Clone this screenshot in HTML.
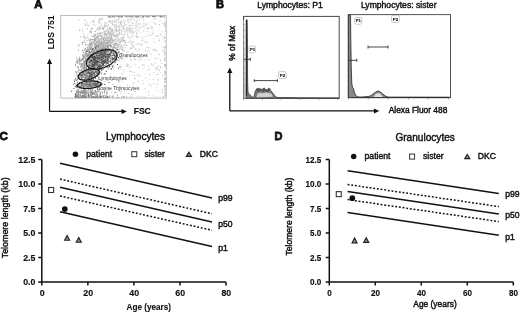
<!DOCTYPE html>
<html><head><meta charset="utf-8"><style>
html,body{margin:0;padding:0;background:#fff;width:520px;height:312px;overflow:hidden}
svg{display:block;will-change:transform}
text{font-family:"Liberation Sans", sans-serif}
</style></head><body>
<svg width="520" height="312" viewBox="0 0 520 312"><text x="34.3" y="7.9" font-size="11.3" text-anchor="start" font-weight="bold" fill="#111" stroke="#111" stroke-width="0.8" >A</text><defs><filter id="bl" x="0" y="0" width="1" height="1"><feGaussianBlur stdDeviation="0.35"/></filter></defs><g filter="url(#bl)"><rect x="99.9" y="47.3" width="1.2" height="1.2" fill="rgb(174,174,174)"/><rect x="109.2" y="52.8" width="1.2" height="1.2" fill="rgb(161,161,161)"/><rect x="105.5" y="55.9" width="1.2" height="1.2" fill="rgb(138,138,138)"/><rect x="93.5" y="60.1" width="1.2" height="1.2" fill="rgb(124,124,124)"/><rect x="89.4" y="31.2" width="1.2" height="1.2" fill="rgb(168,168,168)"/><rect x="122.8" y="20.3" width="1.2" height="1.2" fill="rgb(228,228,228)"/><rect x="94.9" y="47.3" width="1.2" height="1.2" fill="rgb(187,187,187)"/><rect x="113.5" y="57.7" width="1.2" height="1.2" fill="rgb(159,159,159)"/><rect x="100.9" y="53.3" width="1.2" height="1.2" fill="rgb(150,150,150)"/><rect x="104.8" y="47.1" width="1.2" height="1.2" fill="rgb(174,174,174)"/><rect x="100.2" y="37.6" width="1.2" height="1.2" fill="rgb(182,182,182)"/><rect x="94.9" y="61.8" width="1.2" height="1.2" fill="rgb(129,129,129)"/><rect x="105.2" y="30.2" width="1.2" height="1.2" fill="rgb(184,184,184)"/><rect x="95.4" y="43.6" width="1.2" height="1.2" fill="rgb(159,159,159)"/><rect x="128.3" y="19.1" width="1.2" height="1.2" fill="rgb(212,212,212)"/><rect x="94.1" y="43.8" width="1.2" height="1.2" fill="rgb(187,187,187)"/><rect x="106.7" y="37.0" width="1.2" height="1.2" fill="rgb(209,209,209)"/><rect x="111.6" y="46.2" width="1.2" height="1.2" fill="rgb(191,191,191)"/><rect x="117.4" y="38.3" width="1.2" height="1.2" fill="rgb(169,169,169)"/><rect x="108.1" y="47.9" width="1.2" height="1.2" fill="rgb(182,182,182)"/><rect x="95.4" y="36.5" width="1.2" height="1.2" fill="rgb(177,177,177)"/><rect x="157.7" y="18.3" width="1.2" height="1.2" fill="rgb(228,228,228)"/><rect x="96.7" y="55.0" width="1.2" height="1.2" fill="rgb(164,164,164)"/><rect x="108.2" y="31.2" width="1.2" height="1.2" fill="rgb(202,202,202)"/><rect x="97.3" y="62.8" width="1.2" height="1.2" fill="rgb(128,128,128)"/><rect x="97.0" y="58.4" width="1.2" height="1.2" fill="rgb(163,163,163)"/><rect x="105.8" y="49.4" width="1.2" height="1.2" fill="rgb(163,163,163)"/><rect x="98.5" y="56.4" width="1.2" height="1.2" fill="rgb(151,151,151)"/><rect x="86.6" y="40.2" width="1.2" height="1.2" fill="rgb(189,189,189)"/><rect x="107.5" y="47.5" width="1.2" height="1.2" fill="rgb(168,168,168)"/><rect x="103.8" y="49.9" width="1.2" height="1.2" fill="rgb(152,152,152)"/><rect x="115.9" y="27.2" width="1.2" height="1.2" fill="rgb(209,209,209)"/><rect x="93.2" y="62.8" width="1.2" height="1.2" fill="rgb(137,137,137)"/><rect x="99.6" y="28.8" width="1.2" height="1.2" fill="rgb(215,215,215)"/><rect x="107.8" y="24.2" width="1.2" height="1.2" fill="rgb(209,209,209)"/><rect x="96.7" y="55.3" width="1.2" height="1.2" fill="rgb(173,173,173)"/><rect x="97.4" y="41.2" width="1.2" height="1.2" fill="rgb(154,154,154)"/><rect x="95.8" y="56.1" width="1.2" height="1.2" fill="rgb(130,130,130)"/><rect x="104.0" y="46.7" width="1.2" height="1.2" fill="rgb(162,162,162)"/><rect x="91.6" y="65.7" width="1.2" height="1.2" fill="rgb(118,118,118)"/><rect x="107.8" y="50.2" width="1.2" height="1.2" fill="rgb(146,146,146)"/><rect x="121.2" y="40.2" width="1.2" height="1.2" fill="rgb(177,177,177)"/><rect x="109.7" y="33.9" width="1.2" height="1.2" fill="rgb(184,184,184)"/><rect x="137.2" y="36.1" width="1.2" height="1.2" fill="rgb(228,228,228)"/><rect x="91.7" y="55.8" width="1.2" height="1.2" fill="rgb(129,129,129)"/><rect x="107.2" y="50.5" width="1.2" height="1.2" fill="rgb(157,157,157)"/><rect x="103.7" y="49.0" width="1.2" height="1.2" fill="rgb(143,143,143)"/><rect x="104.1" y="57.5" width="1.2" height="1.2" fill="rgb(140,140,140)"/><rect x="92.2" y="63.5" width="1.2" height="1.2" fill="rgb(141,141,141)"/><rect x="102.8" y="63.3" width="1.2" height="1.2" fill="rgb(161,161,161)"/><rect x="109.7" y="32.5" width="1.2" height="1.2" fill="rgb(176,176,176)"/><rect x="118.2" y="25.1" width="1.2" height="1.2" fill="rgb(223,223,223)"/><rect x="101.1" y="42.9" width="1.2" height="1.2" fill="rgb(188,188,188)"/><rect x="99.7" y="64.6" width="1.2" height="1.2" fill="rgb(162,162,162)"/><rect x="132.3" y="22.3" width="1.2" height="1.2" fill="rgb(211,211,211)"/><rect x="91.3" y="61.5" width="1.2" height="1.2" fill="rgb(118,118,118)"/><rect x="96.1" y="62.5" width="1.2" height="1.2" fill="rgb(132,132,132)"/><rect x="138.4" y="60.2" width="1.2" height="1.2" fill="rgb(227,227,227)"/><rect x="98.7" y="46.0" width="1.2" height="1.2" fill="rgb(154,154,154)"/><rect x="105.9" y="44.9" width="1.2" height="1.2" fill="rgb(180,180,180)"/><rect x="130.9" y="43.4" width="1.2" height="1.2" fill="rgb(202,202,202)"/><rect x="114.2" y="26.4" width="1.2" height="1.2" fill="rgb(188,188,188)"/><rect x="111.1" y="37.1" width="1.2" height="1.2" fill="rgb(203,203,203)"/><rect x="97.6" y="61.9" width="1.2" height="1.2" fill="rgb(141,141,141)"/><rect x="110.5" y="55.9" width="1.2" height="1.2" fill="rgb(151,151,151)"/><rect x="101.7" y="53.2" width="1.2" height="1.2" fill="rgb(180,180,180)"/><rect x="103.3" y="48.5" width="1.2" height="1.2" fill="rgb(183,183,183)"/><rect x="98.7" y="63.1" width="1.2" height="1.2" fill="rgb(139,139,139)"/><rect x="93.1" y="59.7" width="1.2" height="1.2" fill="rgb(121,121,121)"/><rect x="101.4" y="61.2" width="1.2" height="1.2" fill="rgb(153,153,153)"/><rect x="105.1" y="55.0" width="1.2" height="1.2" fill="rgb(180,180,180)"/><rect x="106.0" y="46.3" width="1.2" height="1.2" fill="rgb(160,160,160)"/><rect x="103.9" y="40.2" width="1.2" height="1.2" fill="rgb(183,183,183)"/><rect x="111.4" y="29.5" width="1.2" height="1.2" fill="rgb(179,179,179)"/><rect x="106.2" y="52.2" width="1.2" height="1.2" fill="rgb(163,163,163)"/><rect x="86.3" y="22.2" width="1.2" height="1.2" fill="rgb(197,197,197)"/><rect x="109.9" y="51.3" width="1.2" height="1.2" fill="rgb(172,172,172)"/><rect x="91.7" y="64.8" width="1.2" height="1.2" fill="rgb(134,134,134)"/><rect x="93.1" y="63.2" width="1.2" height="1.2" fill="rgb(155,155,155)"/><rect x="117.4" y="35.5" width="1.2" height="1.2" fill="rgb(207,207,207)"/><rect x="93.6" y="53.6" width="1.2" height="1.2" fill="rgb(155,155,155)"/><rect x="89.6" y="41.5" width="1.2" height="1.2" fill="rgb(152,152,152)"/><rect x="93.9" y="54.9" width="1.2" height="1.2" fill="rgb(141,141,141)"/><rect x="117.3" y="26.5" width="1.2" height="1.2" fill="rgb(209,209,209)"/><rect x="97.7" y="35.6" width="1.2" height="1.2" fill="rgb(182,182,182)"/><rect x="107.0" y="27.9" width="1.2" height="1.2" fill="rgb(199,199,199)"/><rect x="85.7" y="52.7" width="1.2" height="1.2" fill="rgb(165,165,165)"/><rect x="151.2" y="34.7" width="1.2" height="1.2" fill="rgb(224,224,224)"/><rect x="82.5" y="31.0" width="1.2" height="1.2" fill="rgb(205,205,205)"/><rect x="100.8" y="53.7" width="1.2" height="1.2" fill="rgb(156,156,156)"/><rect x="100.8" y="56.7" width="1.2" height="1.2" fill="rgb(134,134,134)"/><rect x="130.0" y="30.3" width="1.2" height="1.2" fill="rgb(222,222,222)"/><rect x="144.5" y="28.2" width="1.2" height="1.2" fill="rgb(228,228,228)"/><rect x="83.7" y="56.9" width="1.2" height="1.2" fill="rgb(167,167,167)"/><rect x="115.2" y="38.7" width="1.2" height="1.2" fill="rgb(190,190,190)"/><rect x="100.0" y="45.3" width="1.2" height="1.2" fill="rgb(160,160,160)"/><rect x="95.2" y="59.1" width="1.2" height="1.2" fill="rgb(150,150,150)"/><rect x="92.5" y="63.3" width="1.2" height="1.2" fill="rgb(131,131,131)"/><rect x="98.9" y="33.0" width="1.2" height="1.2" fill="rgb(164,164,164)"/><rect x="98.7" y="64.4" width="1.2" height="1.2" fill="rgb(169,169,169)"/><rect x="104.7" y="51.9" width="1.2" height="1.2" fill="rgb(141,141,141)"/><rect x="108.4" y="39.7" width="1.2" height="1.2" fill="rgb(164,164,164)"/><rect x="85.5" y="24.2" width="1.2" height="1.2" fill="rgb(213,213,213)"/><rect x="102.5" y="46.1" width="1.2" height="1.2" fill="rgb(191,191,191)"/><rect x="91.9" y="38.9" width="1.2" height="1.2" fill="rgb(155,155,155)"/><rect x="110.5" y="55.0" width="1.2" height="1.2" fill="rgb(164,164,164)"/><rect x="131.6" y="52.5" width="1.2" height="1.2" fill="rgb(204,204,204)"/><rect x="100.0" y="52.6" width="1.2" height="1.2" fill="rgb(177,177,177)"/><rect x="121.8" y="52.7" width="1.2" height="1.2" fill="rgb(182,182,182)"/><rect x="103.8" y="24.7" width="1.2" height="1.2" fill="rgb(221,221,221)"/><rect x="101.5" y="47.6" width="1.2" height="1.2" fill="rgb(168,168,168)"/><rect x="101.2" y="49.4" width="1.2" height="1.2" fill="rgb(147,147,147)"/><rect x="97.6" y="60.1" width="1.2" height="1.2" fill="rgb(139,139,139)"/><rect x="90.7" y="65.6" width="1.2" height="1.2" fill="rgb(128,128,128)"/><rect x="94.5" y="64.0" width="1.2" height="1.2" fill="rgb(116,116,116)"/><rect x="114.6" y="21.2" width="1.2" height="1.2" fill="rgb(195,195,195)"/><rect x="85.7" y="51.0" width="1.2" height="1.2" fill="rgb(138,138,138)"/><rect x="115.7" y="35.8" width="1.2" height="1.2" fill="rgb(193,193,193)"/><rect x="113.7" y="39.6" width="1.2" height="1.2" fill="rgb(188,188,188)"/><rect x="130.0" y="27.3" width="1.2" height="1.2" fill="rgb(224,224,224)"/><rect x="96.4" y="45.6" width="1.2" height="1.2" fill="rgb(144,144,144)"/><rect x="98.0" y="56.9" width="1.2" height="1.2" fill="rgb(164,164,164)"/><rect x="103.2" y="45.2" width="1.2" height="1.2" fill="rgb(151,151,151)"/><rect x="144.3" y="22.9" width="1.2" height="1.2" fill="rgb(228,228,228)"/><rect x="104.6" y="39.9" width="1.2" height="1.2" fill="rgb(169,169,169)"/><rect x="92.8" y="60.1" width="1.2" height="1.2" fill="rgb(142,142,142)"/><rect x="93.1" y="57.2" width="1.2" height="1.2" fill="rgb(172,172,172)"/><rect x="105.1" y="33.8" width="1.2" height="1.2" fill="rgb(163,163,163)"/><rect x="98.4" y="35.9" width="1.2" height="1.2" fill="rgb(182,182,182)"/><rect x="118.6" y="29.8" width="1.2" height="1.2" fill="rgb(179,179,179)"/><rect x="99.8" y="50.8" width="1.2" height="1.2" fill="rgb(156,156,156)"/><rect x="92.8" y="64.2" width="1.2" height="1.2" fill="rgb(129,129,129)"/><rect x="120.0" y="21.5" width="1.2" height="1.2" fill="rgb(216,216,216)"/><rect x="110.8" y="46.4" width="1.2" height="1.2" fill="rgb(168,168,168)"/><rect x="93.4" y="64.7" width="1.2" height="1.2" fill="rgb(150,150,150)"/><rect x="95.4" y="57.4" width="1.2" height="1.2" fill="rgb(166,166,166)"/><rect x="119.4" y="44.0" width="1.2" height="1.2" fill="rgb(200,200,200)"/><rect x="102.9" y="49.2" width="1.2" height="1.2" fill="rgb(167,167,167)"/><rect x="89.0" y="63.3" width="1.2" height="1.2" fill="rgb(154,154,154)"/><rect x="122.9" y="30.9" width="1.2" height="1.2" fill="rgb(226,226,226)"/><rect x="94.6" y="63.1" width="1.2" height="1.2" fill="rgb(135,135,135)"/><rect x="131.8" y="41.9" width="1.2" height="1.2" fill="rgb(208,208,208)"/><rect x="99.0" y="26.1" width="1.2" height="1.2" fill="rgb(205,205,205)"/><rect x="91.4" y="65.7" width="1.2" height="1.2" fill="rgb(151,151,151)"/><rect x="114.9" y="24.9" width="1.2" height="1.2" fill="rgb(208,208,208)"/><rect x="96.7" y="54.7" width="1.2" height="1.2" fill="rgb(166,166,166)"/><rect x="99.2" y="52.3" width="1.2" height="1.2" fill="rgb(147,147,147)"/><rect x="104.1" y="42.2" width="1.2" height="1.2" fill="rgb(188,188,188)"/><rect x="98.0" y="62.4" width="1.2" height="1.2" fill="rgb(140,140,140)"/><rect x="90.0" y="57.4" width="1.2" height="1.2" fill="rgb(161,161,161)"/><rect x="97.4" y="27.7" width="1.2" height="1.2" fill="rgb(172,172,172)"/><rect x="107.0" y="47.0" width="1.2" height="1.2" fill="rgb(184,184,184)"/><rect x="109.3" y="20.5" width="1.2" height="1.2" fill="rgb(184,184,184)"/><rect x="100.2" y="57.9" width="1.2" height="1.2" fill="rgb(162,162,162)"/><rect x="90.9" y="60.9" width="1.2" height="1.2" fill="rgb(141,141,141)"/><rect x="141.5" y="36.9" width="1.2" height="1.2" fill="rgb(207,207,207)"/><rect x="105.4" y="64.1" width="1.2" height="1.2" fill="rgb(131,131,131)"/><rect x="88.5" y="46.5" width="1.2" height="1.2" fill="rgb(187,187,187)"/><rect x="93.3" y="56.1" width="1.2" height="1.2" fill="rgb(136,136,136)"/><rect x="98.2" y="59.5" width="1.2" height="1.2" fill="rgb(153,153,153)"/><rect x="118.4" y="39.2" width="1.2" height="1.2" fill="rgb(215,215,215)"/><rect x="136.0" y="33.5" width="1.2" height="1.2" fill="rgb(218,218,218)"/><rect x="124.3" y="41.4" width="1.2" height="1.2" fill="rgb(183,183,183)"/><rect x="112.4" y="47.7" width="1.2" height="1.2" fill="rgb(153,153,153)"/><rect x="93.3" y="66.2" width="1.2" height="1.2" fill="rgb(135,135,135)"/><rect x="100.6" y="47.2" width="1.2" height="1.2" fill="rgb(159,159,159)"/><rect x="115.9" y="51.1" width="1.2" height="1.2" fill="rgb(198,198,198)"/><rect x="107.4" y="32.1" width="1.2" height="1.2" fill="rgb(186,186,186)"/><rect x="93.0" y="66.8" width="1.2" height="1.2" fill="rgb(129,129,129)"/><rect x="94.7" y="52.2" width="1.2" height="1.2" fill="rgb(134,134,134)"/><rect x="130.9" y="42.9" width="1.2" height="1.2" fill="rgb(193,193,193)"/><rect x="100.2" y="57.7" width="1.2" height="1.2" fill="rgb(142,142,142)"/><rect x="91.2" y="63.9" width="1.2" height="1.2" fill="rgb(132,132,132)"/><rect x="113.7" y="58.6" width="1.2" height="1.2" fill="rgb(185,185,185)"/><rect x="90.5" y="46.0" width="1.2" height="1.2" fill="rgb(142,142,142)"/><rect x="111.6" y="27.4" width="1.2" height="1.2" fill="rgb(213,213,213)"/><rect x="100.1" y="41.5" width="1.2" height="1.2" fill="rgb(152,152,152)"/><rect x="97.6" y="59.0" width="1.2" height="1.2" fill="rgb(148,148,148)"/><rect x="101.2" y="39.7" width="1.2" height="1.2" fill="rgb(189,189,189)"/><rect x="95.4" y="63.2" width="1.2" height="1.2" fill="rgb(150,150,150)"/><rect x="109.7" y="21.0" width="1.2" height="1.2" fill="rgb(203,203,203)"/><rect x="103.6" y="49.3" width="1.2" height="1.2" fill="rgb(152,152,152)"/><rect x="111.6" y="49.1" width="1.2" height="1.2" fill="rgb(161,161,161)"/><rect x="104.1" y="50.3" width="1.2" height="1.2" fill="rgb(145,145,145)"/><rect x="97.5" y="52.6" width="1.2" height="1.2" fill="rgb(144,144,144)"/><rect x="116.3" y="20.4" width="1.2" height="1.2" fill="rgb(228,228,228)"/><rect x="112.0" y="30.2" width="1.2" height="1.2" fill="rgb(193,193,193)"/><rect x="91.6" y="59.8" width="1.2" height="1.2" fill="rgb(136,136,136)"/><rect x="100.6" y="57.6" width="1.2" height="1.2" fill="rgb(177,177,177)"/><rect x="116.0" y="42.8" width="1.2" height="1.2" fill="rgb(192,192,192)"/><rect x="105.0" y="49.6" width="1.2" height="1.2" fill="rgb(156,156,156)"/><rect x="111.7" y="31.0" width="1.2" height="1.2" fill="rgb(193,193,193)"/><rect x="112.8" y="57.7" width="1.2" height="1.2" fill="rgb(187,187,187)"/><rect x="92.5" y="65.0" width="1.2" height="1.2" fill="rgb(148,148,148)"/><rect x="112.2" y="47.5" width="1.2" height="1.2" fill="rgb(181,181,181)"/><rect x="92.4" y="66.7" width="1.2" height="1.2" fill="rgb(157,157,157)"/><rect x="142.8" y="18.2" width="1.2" height="1.2" fill="rgb(228,228,228)"/><rect x="101.0" y="49.3" width="1.2" height="1.2" fill="rgb(147,147,147)"/><rect x="90.1" y="56.9" width="1.2" height="1.2" fill="rgb(170,170,170)"/><rect x="91.8" y="52.2" width="1.2" height="1.2" fill="rgb(133,133,133)"/><rect x="106.9" y="42.0" width="1.2" height="1.2" fill="rgb(199,199,199)"/><rect x="100.3" y="40.4" width="1.2" height="1.2" fill="rgb(157,157,157)"/><rect x="119.6" y="16.5" width="1.2" height="1.2" fill="rgb(228,228,228)"/><rect x="97.4" y="58.1" width="1.2" height="1.2" fill="rgb(152,152,152)"/><rect x="95.4" y="46.4" width="1.2" height="1.2" fill="rgb(151,151,151)"/><rect x="92.9" y="62.8" width="1.2" height="1.2" fill="rgb(131,131,131)"/><rect x="82.4" y="41.6" width="1.2" height="1.2" fill="rgb(180,180,180)"/><rect x="113.8" y="45.2" width="1.2" height="1.2" fill="rgb(168,168,168)"/><rect x="95.1" y="59.0" width="1.2" height="1.2" fill="rgb(147,147,147)"/><rect x="104.4" y="31.1" width="1.2" height="1.2" fill="rgb(179,179,179)"/><rect x="97.8" y="61.3" width="1.2" height="1.2" fill="rgb(143,143,143)"/><rect x="101.4" y="43.8" width="1.2" height="1.2" fill="rgb(187,187,187)"/><rect x="113.9" y="24.3" width="1.2" height="1.2" fill="rgb(192,192,192)"/><rect x="96.9" y="62.0" width="1.2" height="1.2" fill="rgb(161,161,161)"/><rect x="106.2" y="42.0" width="1.2" height="1.2" fill="rgb(191,191,191)"/><rect x="106.7" y="44.6" width="1.2" height="1.2" fill="rgb(171,171,171)"/><rect x="96.7" y="49.5" width="1.2" height="1.2" fill="rgb(185,185,185)"/><rect x="97.3" y="57.6" width="1.2" height="1.2" fill="rgb(129,129,129)"/><rect x="100.4" y="45.3" width="1.2" height="1.2" fill="rgb(191,191,191)"/><rect x="96.5" y="57.1" width="1.2" height="1.2" fill="rgb(159,159,159)"/><rect x="98.6" y="40.1" width="1.2" height="1.2" fill="rgb(167,167,167)"/><rect x="92.8" y="63.7" width="1.2" height="1.2" fill="rgb(128,128,128)"/><rect x="96.1" y="61.9" width="1.2" height="1.2" fill="rgb(137,137,137)"/><rect x="139.1" y="18.8" width="1.2" height="1.2" fill="rgb(228,228,228)"/><rect x="102.9" y="57.8" width="1.2" height="1.2" fill="rgb(150,150,150)"/><rect x="100.2" y="56.7" width="1.2" height="1.2" fill="rgb(148,148,148)"/><rect x="94.9" y="61.1" width="1.2" height="1.2" fill="rgb(140,140,140)"/><rect x="134.0" y="19.2" width="1.2" height="1.2" fill="rgb(207,207,207)"/><rect x="93.6" y="63.7" width="1.2" height="1.2" fill="rgb(161,161,161)"/><rect x="101.2" y="40.7" width="1.2" height="1.2" fill="rgb(199,199,199)"/><rect x="97.8" y="45.9" width="1.2" height="1.2" fill="rgb(178,178,178)"/><rect x="103.0" y="39.0" width="1.2" height="1.2" fill="rgb(155,155,155)"/><rect x="93.3" y="63.5" width="1.2" height="1.2" fill="rgb(127,127,127)"/><rect x="84.5" y="50.5" width="1.2" height="1.2" fill="rgb(182,182,182)"/><rect x="97.4" y="46.9" width="1.2" height="1.2" fill="rgb(162,162,162)"/><rect x="87.9" y="61.8" width="1.2" height="1.2" fill="rgb(125,125,125)"/><rect x="131.4" y="18.5" width="1.2" height="1.2" fill="rgb(228,228,228)"/><rect x="121.5" y="20.9" width="1.2" height="1.2" fill="rgb(208,208,208)"/><rect x="104.2" y="34.0" width="1.2" height="1.2" fill="rgb(201,201,201)"/><rect x="100.2" y="56.8" width="1.2" height="1.2" fill="rgb(167,167,167)"/><rect x="98.7" y="53.3" width="1.2" height="1.2" fill="rgb(134,134,134)"/><rect x="93.4" y="54.4" width="1.2" height="1.2" fill="rgb(177,177,177)"/><rect x="97.3" y="59.0" width="1.2" height="1.2" fill="rgb(149,149,149)"/><rect x="109.0" y="27.6" width="1.2" height="1.2" fill="rgb(185,185,185)"/><rect x="94.0" y="38.0" width="1.2" height="1.2" fill="rgb(186,186,186)"/><rect x="136.0" y="36.7" width="1.2" height="1.2" fill="rgb(205,205,205)"/><rect x="94.2" y="50.2" width="1.2" height="1.2" fill="rgb(171,171,171)"/><rect x="107.8" y="42.4" width="1.2" height="1.2" fill="rgb(166,166,166)"/><rect x="145.8" y="24.3" width="1.2" height="1.2" fill="rgb(228,228,228)"/><rect x="104.0" y="32.6" width="1.2" height="1.2" fill="rgb(214,214,214)"/><rect x="91.0" y="64.3" width="1.2" height="1.2" fill="rgb(153,153,153)"/><rect x="88.6" y="53.7" width="1.2" height="1.2" fill="rgb(170,170,170)"/><rect x="95.0" y="61.2" width="1.2" height="1.2" fill="rgb(134,134,134)"/><rect x="102.9" y="52.5" width="1.2" height="1.2" fill="rgb(186,186,186)"/><rect x="84.2" y="19.6" width="1.2" height="1.2" fill="rgb(198,198,198)"/><rect x="114.4" y="42.7" width="1.2" height="1.2" fill="rgb(172,172,172)"/><rect x="95.2" y="34.3" width="1.2" height="1.2" fill="rgb(169,169,169)"/><rect x="97.4" y="50.8" width="1.2" height="1.2" fill="rgb(145,145,145)"/><rect x="117.8" y="18.7" width="1.2" height="1.2" fill="rgb(224,224,224)"/><rect x="94.4" y="61.0" width="1.2" height="1.2" fill="rgb(136,136,136)"/><rect x="100.8" y="44.9" width="1.2" height="1.2" fill="rgb(161,161,161)"/><rect x="96.2" y="60.6" width="1.2" height="1.2" fill="rgb(141,141,141)"/><rect x="91.5" y="47.8" width="1.2" height="1.2" fill="rgb(142,142,142)"/><rect x="129.1" y="28.7" width="1.2" height="1.2" fill="rgb(210,210,210)"/><rect x="106.3" y="35.9" width="1.2" height="1.2" fill="rgb(208,208,208)"/><rect x="108.1" y="21.1" width="1.2" height="1.2" fill="rgb(200,200,200)"/><rect x="88.5" y="25.3" width="1.2" height="1.2" fill="rgb(220,220,220)"/><rect x="98.5" y="47.2" width="1.2" height="1.2" fill="rgb(177,177,177)"/><rect x="93.5" y="62.4" width="1.2" height="1.2" fill="rgb(162,162,162)"/><rect x="89.7" y="31.2" width="1.2" height="1.2" fill="rgb(182,182,182)"/><rect x="113.3" y="45.4" width="1.2" height="1.2" fill="rgb(163,163,163)"/><rect x="96.3" y="64.1" width="1.2" height="1.2" fill="rgb(150,150,150)"/><rect x="97.3" y="58.7" width="1.2" height="1.2" fill="rgb(156,156,156)"/><rect x="99.5" y="32.4" width="1.2" height="1.2" fill="rgb(169,169,169)"/><rect x="111.5" y="22.9" width="1.2" height="1.2" fill="rgb(228,228,228)"/><rect x="113.5" y="46.3" width="1.2" height="1.2" fill="rgb(195,195,195)"/><rect x="95.7" y="62.3" width="1.2" height="1.2" fill="rgb(125,125,125)"/><rect x="130.3" y="59.2" width="1.2" height="1.2" fill="rgb(192,192,192)"/><rect x="121.2" y="57.1" width="1.2" height="1.2" fill="rgb(175,175,175)"/><rect x="116.9" y="46.9" width="1.2" height="1.2" fill="rgb(199,199,199)"/><rect x="135.6" y="26.1" width="1.2" height="1.2" fill="rgb(211,211,211)"/><rect x="90.4" y="21.7" width="1.2" height="1.2" fill="rgb(218,218,218)"/><rect x="106.5" y="45.2" width="1.2" height="1.2" fill="rgb(169,169,169)"/><rect x="91.2" y="61.2" width="1.2" height="1.2" fill="rgb(123,123,123)"/><rect x="103.0" y="58.9" width="1.2" height="1.2" fill="rgb(168,168,168)"/><rect x="109.2" y="59.5" width="1.2" height="1.2" fill="rgb(144,144,144)"/><rect x="96.1" y="36.5" width="1.2" height="1.2" fill="rgb(186,186,186)"/><rect x="106.6" y="29.8" width="1.2" height="1.2" fill="rgb(198,198,198)"/><rect x="92.8" y="39.2" width="1.2" height="1.2" fill="rgb(172,172,172)"/><rect x="92.6" y="62.9" width="1.2" height="1.2" fill="rgb(146,146,146)"/><rect x="91.1" y="63.7" width="1.2" height="1.2" fill="rgb(152,152,152)"/><rect x="115.8" y="29.9" width="1.2" height="1.2" fill="rgb(185,185,185)"/><rect x="92.0" y="62.7" width="1.2" height="1.2" fill="rgb(122,122,122)"/><rect x="93.8" y="58.9" width="1.2" height="1.2" fill="rgb(144,144,144)"/><rect x="91.4" y="65.1" width="1.2" height="1.2" fill="rgb(143,143,143)"/><rect x="119.2" y="48.9" width="1.2" height="1.2" fill="rgb(198,198,198)"/><rect x="91.4" y="64.9" width="1.2" height="1.2" fill="rgb(137,137,137)"/><rect x="105.4" y="46.3" width="1.2" height="1.2" fill="rgb(196,196,196)"/><rect x="87.0" y="60.6" width="1.2" height="1.2" fill="rgb(164,164,164)"/><rect x="136.0" y="24.6" width="1.2" height="1.2" fill="rgb(228,228,228)"/><rect x="102.8" y="56.1" width="1.2" height="1.2" fill="rgb(171,171,171)"/><rect x="148.0" y="21.6" width="1.2" height="1.2" fill="rgb(228,228,228)"/><rect x="103.1" y="49.2" width="1.2" height="1.2" fill="rgb(166,166,166)"/><rect x="100.6" y="56.4" width="1.2" height="1.2" fill="rgb(143,143,143)"/><rect x="90.7" y="64.2" width="1.2" height="1.2" fill="rgb(114,114,114)"/><rect x="103.9" y="48.3" width="1.2" height="1.2" fill="rgb(190,190,190)"/><rect x="101.7" y="49.6" width="1.2" height="1.2" fill="rgb(166,166,166)"/><rect x="99.9" y="38.6" width="1.2" height="1.2" fill="rgb(197,197,197)"/><rect x="92.3" y="47.7" width="1.2" height="1.2" fill="rgb(181,181,181)"/><rect x="93.3" y="21.5" width="1.2" height="1.2" fill="rgb(190,190,190)"/><rect x="95.1" y="65.2" width="1.2" height="1.2" fill="rgb(133,133,133)"/><rect x="114.2" y="29.4" width="1.2" height="1.2" fill="rgb(184,184,184)"/><rect x="97.6" y="55.0" width="1.2" height="1.2" fill="rgb(170,170,170)"/><rect x="119.4" y="16.2" width="1.2" height="1.2" fill="rgb(228,228,228)"/><rect x="93.7" y="35.3" width="1.2" height="1.2" fill="rgb(172,172,172)"/><rect x="91.7" y="66.0" width="1.2" height="1.2" fill="rgb(118,118,118)"/><rect x="98.2" y="38.3" width="1.2" height="1.2" fill="rgb(179,179,179)"/><rect x="99.8" y="55.9" width="1.2" height="1.2" fill="rgb(141,141,141)"/><rect x="94.5" y="59.7" width="1.2" height="1.2" fill="rgb(121,121,121)"/><rect x="97.4" y="52.2" width="1.2" height="1.2" fill="rgb(151,151,151)"/><rect x="120.7" y="22.7" width="1.2" height="1.2" fill="rgb(218,218,218)"/><rect x="124.2" y="23.5" width="1.2" height="1.2" fill="rgb(215,215,215)"/><rect x="152.5" y="30.0" width="1.2" height="1.2" fill="rgb(228,228,228)"/><rect x="99.9" y="54.2" width="1.2" height="1.2" fill="rgb(164,164,164)"/><rect x="132.2" y="35.6" width="1.2" height="1.2" fill="rgb(206,206,206)"/><rect x="94.4" y="60.7" width="1.2" height="1.2" fill="rgb(152,152,152)"/><rect x="94.0" y="51.8" width="1.2" height="1.2" fill="rgb(164,164,164)"/><rect x="83.2" y="33.4" width="1.2" height="1.2" fill="rgb(196,196,196)"/><rect x="91.9" y="57.6" width="1.2" height="1.2" fill="rgb(134,134,134)"/><rect x="114.2" y="54.6" width="1.2" height="1.2" fill="rgb(148,148,148)"/><rect x="83.1" y="36.1" width="1.2" height="1.2" fill="rgb(163,163,163)"/><rect x="123.6" y="25.1" width="1.2" height="1.2" fill="rgb(214,214,214)"/><rect x="104.1" y="37.1" width="1.2" height="1.2" fill="rgb(160,160,160)"/><rect x="129.0" y="40.8" width="1.2" height="1.2" fill="rgb(213,213,213)"/><rect x="95.8" y="66.4" width="1.2" height="1.2" fill="rgb(152,152,152)"/><rect x="89.7" y="51.2" width="1.2" height="1.2" fill="rgb(155,155,155)"/><rect x="101.2" y="50.0" width="1.2" height="1.2" fill="rgb(150,150,150)"/><rect x="98.5" y="60.5" width="1.2" height="1.2" fill="rgb(161,161,161)"/><rect x="114.8" y="21.1" width="1.2" height="1.2" fill="rgb(208,208,208)"/><rect x="119.0" y="27.5" width="1.2" height="1.2" fill="rgb(195,195,195)"/><rect x="94.1" y="62.0" width="1.2" height="1.2" fill="rgb(131,131,131)"/><rect x="109.0" y="35.0" width="1.2" height="1.2" fill="rgb(208,208,208)"/><rect x="101.5" y="41.9" width="1.2" height="1.2" fill="rgb(195,195,195)"/><rect x="98.9" y="21.3" width="1.2" height="1.2" fill="rgb(211,211,211)"/><rect x="97.0" y="63.0" width="1.2" height="1.2" fill="rgb(161,161,161)"/><rect x="113.9" y="19.8" width="1.2" height="1.2" fill="rgb(203,203,203)"/><rect x="123.6" y="22.2" width="1.2" height="1.2" fill="rgb(196,196,196)"/><rect x="99.3" y="57.0" width="1.2" height="1.2" fill="rgb(130,130,130)"/><rect x="143.6" y="41.1" width="1.2" height="1.2" fill="rgb(213,213,213)"/><rect x="95.6" y="59.7" width="1.2" height="1.2" fill="rgb(124,124,124)"/><rect x="109.8" y="16.1" width="1.2" height="1.2" fill="rgb(225,225,225)"/><rect x="98.6" y="53.1" width="1.2" height="1.2" fill="rgb(162,162,162)"/><rect x="97.1" y="58.5" width="1.2" height="1.2" fill="rgb(168,168,168)"/><rect x="138.5" y="48.7" width="1.2" height="1.2" fill="rgb(190,190,190)"/><rect x="101.6" y="50.2" width="1.2" height="1.2" fill="rgb(140,140,140)"/><rect x="137.5" y="27.5" width="1.2" height="1.2" fill="rgb(228,228,228)"/><rect x="125.5" y="28.7" width="1.2" height="1.2" fill="rgb(200,200,200)"/><rect x="98.1" y="57.6" width="1.2" height="1.2" fill="rgb(164,164,164)"/><rect x="110.7" y="38.3" width="1.2" height="1.2" fill="rgb(182,182,182)"/><rect x="95.0" y="63.6" width="1.2" height="1.2" fill="rgb(131,131,131)"/><rect x="107.8" y="32.3" width="1.2" height="1.2" fill="rgb(183,183,183)"/><rect x="100.7" y="60.2" width="1.2" height="1.2" fill="rgb(169,169,169)"/><rect x="94.2" y="59.8" width="1.2" height="1.2" fill="rgb(141,141,141)"/><rect x="90.2" y="38.6" width="1.2" height="1.2" fill="rgb(168,168,168)"/><rect x="110.2" y="22.1" width="1.2" height="1.2" fill="rgb(193,193,193)"/><rect x="99.3" y="55.2" width="1.2" height="1.2" fill="rgb(171,171,171)"/><rect x="92.3" y="64.4" width="1.2" height="1.2" fill="rgb(123,123,123)"/><rect x="90.5" y="62.8" width="1.2" height="1.2" fill="rgb(154,154,154)"/><rect x="118.5" y="32.7" width="1.2" height="1.2" fill="rgb(192,192,192)"/><rect x="108.0" y="44.6" width="1.2" height="1.2" fill="rgb(198,198,198)"/><rect x="103.7" y="41.7" width="1.2" height="1.2" fill="rgb(186,186,186)"/><rect x="90.9" y="65.5" width="1.2" height="1.2" fill="rgb(143,143,143)"/><rect x="121.8" y="48.9" width="1.2" height="1.2" fill="rgb(197,197,197)"/><rect x="123.8" y="21.8" width="1.2" height="1.2" fill="rgb(210,210,210)"/><rect x="96.6" y="43.1" width="1.2" height="1.2" fill="rgb(190,190,190)"/><rect x="131.2" y="47.5" width="1.2" height="1.2" fill="rgb(177,177,177)"/><rect x="108.4" y="41.1" width="1.2" height="1.2" fill="rgb(201,201,201)"/><rect x="90.3" y="65.2" width="1.2" height="1.2" fill="rgb(155,155,155)"/><rect x="115.0" y="28.5" width="1.2" height="1.2" fill="rgb(203,203,203)"/><rect x="101.1" y="38.6" width="1.2" height="1.2" fill="rgb(162,162,162)"/><rect x="126.7" y="31.6" width="1.2" height="1.2" fill="rgb(221,221,221)"/><rect x="115.8" y="37.2" width="1.2" height="1.2" fill="rgb(206,206,206)"/><rect x="94.6" y="56.5" width="1.2" height="1.2" fill="rgb(148,148,148)"/><rect x="104.5" y="51.4" width="1.2" height="1.2" fill="rgb(149,149,149)"/><rect x="103.0" y="50.6" width="1.2" height="1.2" fill="rgb(152,152,152)"/><rect x="105.4" y="25.1" width="1.2" height="1.2" fill="rgb(183,183,183)"/><rect x="100.5" y="45.0" width="1.2" height="1.2" fill="rgb(194,194,194)"/><rect x="100.2" y="49.8" width="1.2" height="1.2" fill="rgb(186,186,186)"/><rect x="108.6" y="49.7" width="1.2" height="1.2" fill="rgb(195,195,195)"/><rect x="130.5" y="17.1" width="1.2" height="1.2" fill="rgb(226,226,226)"/><rect x="125.4" y="24.2" width="1.2" height="1.2" fill="rgb(197,197,197)"/><rect x="113.5" y="34.8" width="1.2" height="1.2" fill="rgb(169,169,169)"/><rect x="92.9" y="23.6" width="1.2" height="1.2" fill="rgb(208,208,208)"/><rect x="89.7" y="65.2" width="1.2" height="1.2" fill="rgb(134,134,134)"/><rect x="122.4" y="36.9" width="1.2" height="1.2" fill="rgb(194,194,194)"/><rect x="91.3" y="35.6" width="1.2" height="1.2" fill="rgb(176,176,176)"/><rect x="107.5" y="16.6" width="1.2" height="1.2" fill="rgb(211,211,211)"/><rect x="108.7" y="16.9" width="1.2" height="1.2" fill="rgb(193,193,193)"/><rect x="91.0" y="31.6" width="1.2" height="1.2" fill="rgb(197,197,197)"/><rect x="98.6" y="45.0" width="1.2" height="1.2" fill="rgb(165,165,165)"/><rect x="91.4" y="50.0" width="1.2" height="1.2" fill="rgb(154,154,154)"/><rect x="85.9" y="59.1" width="1.2" height="1.2" fill="rgb(123,123,123)"/><rect x="92.9" y="59.6" width="1.2" height="1.2" fill="rgb(159,159,159)"/><rect x="106.1" y="55.6" width="1.2" height="1.2" fill="rgb(142,142,142)"/><rect x="94.0" y="43.3" width="1.2" height="1.2" fill="rgb(180,180,180)"/><rect x="90.0" y="61.1" width="1.2" height="1.2" fill="rgb(159,159,159)"/><rect x="91.3" y="60.0" width="1.2" height="1.2" fill="rgb(166,166,166)"/><rect x="127.0" y="19.1" width="1.2" height="1.2" fill="rgb(218,218,218)"/><rect x="101.9" y="48.4" width="1.2" height="1.2" fill="rgb(190,190,190)"/><rect x="95.9" y="56.2" width="1.2" height="1.2" fill="rgb(140,140,140)"/><rect x="93.0" y="62.4" width="1.2" height="1.2" fill="rgb(137,137,137)"/><rect x="92.6" y="35.9" width="1.2" height="1.2" fill="rgb(173,173,173)"/><rect x="105.0" y="41.0" width="1.2" height="1.2" fill="rgb(190,190,190)"/><rect x="106.4" y="55.4" width="1.2" height="1.2" fill="rgb(149,149,149)"/><rect x="113.8" y="35.4" width="1.2" height="1.2" fill="rgb(178,178,178)"/><rect x="131.8" y="35.6" width="1.2" height="1.2" fill="rgb(226,226,226)"/><rect x="100.1" y="33.3" width="1.2" height="1.2" fill="rgb(189,189,189)"/><rect x="92.2" y="59.1" width="1.2" height="1.2" fill="rgb(148,148,148)"/><rect x="136.1" y="35.6" width="1.2" height="1.2" fill="rgb(209,209,209)"/><rect x="107.7" y="46.3" width="1.2" height="1.2" fill="rgb(167,167,167)"/><rect x="112.2" y="29.3" width="1.2" height="1.2" fill="rgb(183,183,183)"/><rect x="93.7" y="66.8" width="1.2" height="1.2" fill="rgb(126,126,126)"/><rect x="108.6" y="36.7" width="1.2" height="1.2" fill="rgb(185,185,185)"/><rect x="92.9" y="40.9" width="1.2" height="1.2" fill="rgb(181,181,181)"/><rect x="116.1" y="55.0" width="1.2" height="1.2" fill="rgb(195,195,195)"/><rect x="103.0" y="47.8" width="1.2" height="1.2" fill="rgb(184,184,184)"/><rect x="93.7" y="61.3" width="1.2" height="1.2" fill="rgb(119,119,119)"/><rect x="107.0" y="57.1" width="1.2" height="1.2" fill="rgb(149,149,149)"/><rect x="100.0" y="55.8" width="1.2" height="1.2" fill="rgb(142,142,142)"/><rect x="111.2" y="35.4" width="1.2" height="1.2" fill="rgb(173,173,173)"/><rect x="126.1" y="44.9" width="1.2" height="1.2" fill="rgb(179,179,179)"/><rect x="118.6" y="44.1" width="1.2" height="1.2" fill="rgb(201,201,201)"/><rect x="105.1" y="48.0" width="1.2" height="1.2" fill="rgb(179,179,179)"/><rect x="89.7" y="52.7" width="1.2" height="1.2" fill="rgb(151,151,151)"/><rect x="117.3" y="43.3" width="1.2" height="1.2" fill="rgb(175,175,175)"/><rect x="102.7" y="47.3" width="1.2" height="1.2" fill="rgb(168,168,168)"/><rect x="104.5" y="56.2" width="1.2" height="1.2" fill="rgb(142,142,142)"/><rect x="90.4" y="62.9" width="1.2" height="1.2" fill="rgb(141,141,141)"/><rect x="93.3" y="63.0" width="1.2" height="1.2" fill="rgb(158,158,158)"/><rect x="91.2" y="55.2" width="1.2" height="1.2" fill="rgb(159,159,159)"/><rect x="112.7" y="41.1" width="1.2" height="1.2" fill="rgb(180,180,180)"/><rect x="94.1" y="63.1" width="1.2" height="1.2" fill="rgb(148,148,148)"/><rect x="94.5" y="59.4" width="1.2" height="1.2" fill="rgb(152,152,152)"/><rect x="96.8" y="63.5" width="1.2" height="1.2" fill="rgb(143,143,143)"/><rect x="95.1" y="60.8" width="1.2" height="1.2" fill="rgb(156,156,156)"/><rect x="98.8" y="41.2" width="1.2" height="1.2" fill="rgb(192,192,192)"/><rect x="100.1" y="33.1" width="1.2" height="1.2" fill="rgb(188,188,188)"/><rect x="105.8" y="42.7" width="1.2" height="1.2" fill="rgb(173,173,173)"/><rect x="94.1" y="42.0" width="1.2" height="1.2" fill="rgb(188,188,188)"/><rect x="90.7" y="64.8" width="1.2" height="1.2" fill="rgb(137,137,137)"/><rect x="100.3" y="62.0" width="1.2" height="1.2" fill="rgb(164,164,164)"/><rect x="102.5" y="37.5" width="1.2" height="1.2" fill="rgb(171,171,171)"/><rect x="94.1" y="36.4" width="1.2" height="1.2" fill="rgb(194,194,194)"/><rect x="106.3" y="58.8" width="1.2" height="1.2" fill="rgb(179,179,179)"/><rect x="92.5" y="62.5" width="1.2" height="1.2" fill="rgb(131,131,131)"/><rect x="92.7" y="65.7" width="1.2" height="1.2" fill="rgb(158,158,158)"/><rect x="96.2" y="29.0" width="1.2" height="1.2" fill="rgb(205,205,205)"/><rect x="115.4" y="48.2" width="1.2" height="1.2" fill="rgb(186,186,186)"/><rect x="98.2" y="22.1" width="1.2" height="1.2" fill="rgb(207,207,207)"/><rect x="101.6" y="43.0" width="1.2" height="1.2" fill="rgb(181,181,181)"/><rect x="89.6" y="47.7" width="1.2" height="1.2" fill="rgb(142,142,142)"/><rect x="96.8" y="57.6" width="1.2" height="1.2" fill="rgb(164,164,164)"/><rect x="116.4" y="48.7" width="1.2" height="1.2" fill="rgb(174,174,174)"/><rect x="136.0" y="21.1" width="1.2" height="1.2" fill="rgb(228,228,228)"/><rect x="107.9" y="36.3" width="1.2" height="1.2" fill="rgb(182,182,182)"/><rect x="105.4" y="29.9" width="1.2" height="1.2" fill="rgb(200,200,200)"/><rect x="94.9" y="61.7" width="1.2" height="1.2" fill="rgb(147,147,147)"/><rect x="95.0" y="62.4" width="1.2" height="1.2" fill="rgb(158,158,158)"/><rect x="84.8" y="24.8" width="1.2" height="1.2" fill="rgb(194,194,194)"/><rect x="95.0" y="64.3" width="1.2" height="1.2" fill="rgb(145,145,145)"/><rect x="135.0" y="58.7" width="1.2" height="1.2" fill="rgb(199,199,199)"/><rect x="94.7" y="56.8" width="1.2" height="1.2" fill="rgb(157,157,157)"/><rect x="103.5" y="47.2" width="1.2" height="1.2" fill="rgb(145,145,145)"/><rect x="94.3" y="66.3" width="1.2" height="1.2" fill="rgb(119,119,119)"/><rect x="94.0" y="63.4" width="1.2" height="1.2" fill="rgb(159,159,159)"/><rect x="94.5" y="61.4" width="1.2" height="1.2" fill="rgb(155,155,155)"/><rect x="111.3" y="56.5" width="1.2" height="1.2" fill="rgb(178,178,178)"/><rect x="130.2" y="32.5" width="1.2" height="1.2" fill="rgb(191,191,191)"/><rect x="98.4" y="20.8" width="1.2" height="1.2" fill="rgb(202,202,202)"/><rect x="100.6" y="57.2" width="1.2" height="1.2" fill="rgb(178,178,178)"/><rect x="94.3" y="60.8" width="1.2" height="1.2" fill="rgb(120,120,120)"/><rect x="116.4" y="40.7" width="1.2" height="1.2" fill="rgb(167,167,167)"/><rect x="99.8" y="28.0" width="1.2" height="1.2" fill="rgb(190,190,190)"/><rect x="99.8" y="47.7" width="1.2" height="1.2" fill="rgb(180,180,180)"/><rect x="100.2" y="23.0" width="1.2" height="1.2" fill="rgb(207,207,207)"/><rect x="95.3" y="46.7" width="1.2" height="1.2" fill="rgb(179,179,179)"/><rect x="113.4" y="55.4" width="1.2" height="1.2" fill="rgb(175,175,175)"/><rect x="97.8" y="53.9" width="1.2" height="1.2" fill="rgb(180,180,180)"/><rect x="96.8" y="46.1" width="1.2" height="1.2" fill="rgb(163,163,163)"/><rect x="109.4" y="48.2" width="1.2" height="1.2" fill="rgb(182,182,182)"/><rect x="92.5" y="64.0" width="1.2" height="1.2" fill="rgb(127,127,127)"/><rect x="93.8" y="40.9" width="1.2" height="1.2" fill="rgb(189,189,189)"/><rect x="95.9" y="59.8" width="1.2" height="1.2" fill="rgb(164,164,164)"/><rect x="112.2" y="50.1" width="1.2" height="1.2" fill="rgb(189,189,189)"/><rect x="132.0" y="17.1" width="1.2" height="1.2" fill="rgb(228,228,228)"/><rect x="120.7" y="20.1" width="1.2" height="1.2" fill="rgb(226,226,226)"/><rect x="92.5" y="60.0" width="1.2" height="1.2" fill="rgb(132,132,132)"/><rect x="124.9" y="47.0" width="1.2" height="1.2" fill="rgb(206,206,206)"/><rect x="119.7" y="21.9" width="1.2" height="1.2" fill="rgb(228,228,228)"/><rect x="115.6" y="44.5" width="1.2" height="1.2" fill="rgb(182,182,182)"/><rect x="95.5" y="52.7" width="1.2" height="1.2" fill="rgb(141,141,141)"/><rect x="129.6" y="24.4" width="1.2" height="1.2" fill="rgb(213,213,213)"/><rect x="94.0" y="49.9" width="1.2" height="1.2" fill="rgb(160,160,160)"/><rect x="96.9" y="57.9" width="1.2" height="1.2" fill="rgb(175,175,175)"/><rect x="96.5" y="53.4" width="1.2" height="1.2" fill="rgb(162,162,162)"/><rect x="103.7" y="46.9" width="1.2" height="1.2" fill="rgb(174,174,174)"/><rect x="102.8" y="27.4" width="1.2" height="1.2" fill="rgb(172,172,172)"/><rect x="118.8" y="66.1" width="1.2" height="1.2" fill="rgb(192,192,192)"/><rect x="90.4" y="61.0" width="1.2" height="1.2" fill="rgb(130,130,130)"/><rect x="114.5" y="31.5" width="1.2" height="1.2" fill="rgb(220,220,220)"/><rect x="96.9" y="56.3" width="1.2" height="1.2" fill="rgb(137,137,137)"/><rect x="99.9" y="53.4" width="1.2" height="1.2" fill="rgb(136,136,136)"/><rect x="87.1" y="36.9" width="1.2" height="1.2" fill="rgb(176,176,176)"/><rect x="119.5" y="56.8" width="1.2" height="1.2" fill="rgb(157,157,157)"/><rect x="96.6" y="43.1" width="1.2" height="1.2" fill="rgb(151,151,151)"/><rect x="97.5" y="60.8" width="1.2" height="1.2" fill="rgb(150,150,150)"/><rect x="97.3" y="39.3" width="1.2" height="1.2" fill="rgb(159,159,159)"/><rect x="119.7" y="66.5" width="1.2" height="1.2" fill="rgb(161,161,161)"/><rect x="97.2" y="61.1" width="1.2" height="1.2" fill="rgb(139,139,139)"/><rect x="136.8" y="44.1" width="1.2" height="1.2" fill="rgb(227,227,227)"/><rect x="110.6" y="57.3" width="1.2" height="1.2" fill="rgb(177,177,177)"/><rect x="132.1" y="31.7" width="1.2" height="1.2" fill="rgb(228,228,228)"/><rect x="102.9" y="38.0" width="1.2" height="1.2" fill="rgb(185,185,185)"/><rect x="101.0" y="49.7" width="1.2" height="1.2" fill="rgb(155,155,155)"/><rect x="101.5" y="48.0" width="1.2" height="1.2" fill="rgb(165,165,165)"/><rect x="107.1" y="45.5" width="1.2" height="1.2" fill="rgb(156,156,156)"/><rect x="94.1" y="60.9" width="1.2" height="1.2" fill="rgb(155,155,155)"/><rect x="96.8" y="57.3" width="1.2" height="1.2" fill="rgb(172,172,172)"/><rect x="100.5" y="55.0" width="1.2" height="1.2" fill="rgb(154,154,154)"/><rect x="140.3" y="44.5" width="1.2" height="1.2" fill="rgb(228,228,228)"/><rect x="99.4" y="35.2" width="1.2" height="1.2" fill="rgb(175,175,175)"/><rect x="117.7" y="34.6" width="1.2" height="1.2" fill="rgb(203,203,203)"/><rect x="105.5" y="48.8" width="1.2" height="1.2" fill="rgb(147,147,147)"/><rect x="111.9" y="20.9" width="1.2" height="1.2" fill="rgb(192,192,192)"/><rect x="106.6" y="48.8" width="1.2" height="1.2" fill="rgb(165,165,165)"/><rect x="108.1" y="45.5" width="1.2" height="1.2" fill="rgb(192,192,192)"/><rect x="99.7" y="46.7" width="1.2" height="1.2" fill="rgb(166,166,166)"/><rect x="92.8" y="64.7" width="1.2" height="1.2" fill="rgb(158,158,158)"/><rect x="100.7" y="43.8" width="1.2" height="1.2" fill="rgb(170,170,170)"/><rect x="104.8" y="39.0" width="1.2" height="1.2" fill="rgb(166,166,166)"/><rect x="96.8" y="59.7" width="1.2" height="1.2" fill="rgb(137,137,137)"/><rect x="96.5" y="59.3" width="1.2" height="1.2" fill="rgb(159,159,159)"/><rect x="111.7" y="38.4" width="1.2" height="1.2" fill="rgb(169,169,169)"/><rect x="93.8" y="67.2" width="1.2" height="1.2" fill="rgb(138,138,138)"/><rect x="115.8" y="35.0" width="1.2" height="1.2" fill="rgb(215,215,215)"/><rect x="120.7" y="24.1" width="1.2" height="1.2" fill="rgb(194,194,194)"/><rect x="134.6" y="21.1" width="1.2" height="1.2" fill="rgb(228,228,228)"/><rect x="99.8" y="53.1" width="1.2" height="1.2" fill="rgb(138,138,138)"/><rect x="97.3" y="36.9" width="1.2" height="1.2" fill="rgb(168,168,168)"/><rect x="123.5" y="23.7" width="1.2" height="1.2" fill="rgb(225,225,225)"/><rect x="122.7" y="28.2" width="1.2" height="1.2" fill="rgb(194,194,194)"/><rect x="114.6" y="52.9" width="1.2" height="1.2" fill="rgb(170,170,170)"/><rect x="97.8" y="54.3" width="1.2" height="1.2" fill="rgb(171,171,171)"/><rect x="91.3" y="65.6" width="1.2" height="1.2" fill="rgb(156,156,156)"/><rect x="87.7" y="53.6" width="1.2" height="1.2" fill="rgb(142,142,142)"/><rect x="139.8" y="15.9" width="1.2" height="1.2" fill="rgb(228,228,228)"/><rect x="112.7" y="40.7" width="1.2" height="1.2" fill="rgb(190,190,190)"/><rect x="93.7" y="66.1" width="1.2" height="1.2" fill="rgb(135,135,135)"/><rect x="91.5" y="63.8" width="1.2" height="1.2" fill="rgb(149,149,149)"/><rect x="107.7" y="31.5" width="1.2" height="1.2" fill="rgb(205,205,205)"/><rect x="120.4" y="54.2" width="1.2" height="1.2" fill="rgb(204,204,204)"/><rect x="90.2" y="63.9" width="1.2" height="1.2" fill="rgb(139,139,139)"/><rect x="92.0" y="64.1" width="1.2" height="1.2" fill="rgb(162,162,162)"/><rect x="104.7" y="44.7" width="1.2" height="1.2" fill="rgb(153,153,153)"/><rect x="120.8" y="45.7" width="1.2" height="1.2" fill="rgb(173,173,173)"/><rect x="97.5" y="63.5" width="1.2" height="1.2" fill="rgb(148,148,148)"/><rect x="89.9" y="56.5" width="1.2" height="1.2" fill="rgb(129,129,129)"/><rect x="127.8" y="36.6" width="1.2" height="1.2" fill="rgb(182,182,182)"/><rect x="115.3" y="43.5" width="1.2" height="1.2" fill="rgb(184,184,184)"/><rect x="100.8" y="48.2" width="1.2" height="1.2" fill="rgb(161,161,161)"/><rect x="121.3" y="38.3" width="1.2" height="1.2" fill="rgb(214,214,214)"/><rect x="121.2" y="36.6" width="1.2" height="1.2" fill="rgb(210,210,210)"/><rect x="139.5" y="23.1" width="1.2" height="1.2" fill="rgb(228,228,228)"/><rect x="97.7" y="39.7" width="1.2" height="1.2" fill="rgb(193,193,193)"/><rect x="91.6" y="59.2" width="1.2" height="1.2" fill="rgb(167,167,167)"/><rect x="111.0" y="35.9" width="1.2" height="1.2" fill="rgb(176,176,176)"/><rect x="103.5" y="31.1" width="1.2" height="1.2" fill="rgb(215,215,215)"/><rect x="97.6" y="57.0" width="1.2" height="1.2" fill="rgb(153,153,153)"/><rect x="116.2" y="59.9" width="1.2" height="1.2" fill="rgb(160,160,160)"/><rect x="93.4" y="39.1" width="1.2" height="1.2" fill="rgb(169,169,169)"/><rect x="92.1" y="63.0" width="1.2" height="1.2" fill="rgb(137,137,137)"/><rect x="91.3" y="65.6" width="1.2" height="1.2" fill="rgb(118,118,118)"/><rect x="104.3" y="61.0" width="1.2" height="1.2" fill="rgb(177,177,177)"/><rect x="95.5" y="60.2" width="1.2" height="1.2" fill="rgb(153,153,153)"/><rect x="84.8" y="41.9" width="1.2" height="1.2" fill="rgb(177,177,177)"/><rect x="115.6" y="23.9" width="1.2" height="1.2" fill="rgb(205,205,205)"/><rect x="99.2" y="59.3" width="1.2" height="1.2" fill="rgb(141,141,141)"/><rect x="97.8" y="51.0" width="1.2" height="1.2" fill="rgb(165,165,165)"/><rect x="102.6" y="58.6" width="1.2" height="1.2" fill="rgb(144,144,144)"/><rect x="91.5" y="55.2" width="1.2" height="1.2" fill="rgb(133,133,133)"/><rect x="100.7" y="54.3" width="1.2" height="1.2" fill="rgb(148,148,148)"/><rect x="96.2" y="48.2" width="1.2" height="1.2" fill="rgb(150,150,150)"/><rect x="112.4" y="49.6" width="1.2" height="1.2" fill="rgb(192,192,192)"/><rect x="97.1" y="33.1" width="1.2" height="1.2" fill="rgb(193,193,193)"/><rect x="129.3" y="19.3" width="1.2" height="1.2" fill="rgb(224,224,224)"/><rect x="91.6" y="49.1" width="1.2" height="1.2" fill="rgb(159,159,159)"/><rect x="102.8" y="40.7" width="1.2" height="1.2" fill="rgb(163,163,163)"/><rect x="90.9" y="62.5" width="1.2" height="1.2" fill="rgb(144,144,144)"/><rect x="94.3" y="64.8" width="1.2" height="1.2" fill="rgb(158,158,158)"/><rect x="118.2" y="22.7" width="1.2" height="1.2" fill="rgb(211,211,211)"/><rect x="103.6" y="46.1" width="1.2" height="1.2" fill="rgb(149,149,149)"/><rect x="113.6" y="43.8" width="1.2" height="1.2" fill="rgb(160,160,160)"/><rect x="97.8" y="38.6" width="1.2" height="1.2" fill="rgb(189,189,189)"/><rect x="103.6" y="52.5" width="1.2" height="1.2" fill="rgb(186,186,186)"/><rect x="102.7" y="45.7" width="1.2" height="1.2" fill="rgb(162,162,162)"/><rect x="101.8" y="18.9" width="1.2" height="1.2" fill="rgb(213,213,213)"/><rect x="138.2" y="27.9" width="1.2" height="1.2" fill="rgb(226,226,226)"/><rect x="89.1" y="54.5" width="1.2" height="1.2" fill="rgb(162,162,162)"/><rect x="98.4" y="57.9" width="1.2" height="1.2" fill="rgb(170,170,170)"/><rect x="94.5" y="66.5" width="1.2" height="1.2" fill="rgb(143,143,143)"/><rect x="87.9" y="64.2" width="1.2" height="1.2" fill="rgb(141,141,141)"/><rect x="91.1" y="30.9" width="1.2" height="1.2" fill="rgb(206,206,206)"/><rect x="97.4" y="42.1" width="1.2" height="1.2" fill="rgb(170,170,170)"/><rect x="90.2" y="48.7" width="1.2" height="1.2" fill="rgb(150,150,150)"/><rect x="97.1" y="33.9" width="1.2" height="1.2" fill="rgb(178,178,178)"/><rect x="90.2" y="65.3" width="1.2" height="1.2" fill="rgb(120,120,120)"/><rect x="100.7" y="47.0" width="1.2" height="1.2" fill="rgb(171,171,171)"/><rect x="94.3" y="58.0" width="1.2" height="1.2" fill="rgb(169,169,169)"/><rect x="96.7" y="61.2" width="1.2" height="1.2" fill="rgb(142,142,142)"/><rect x="93.2" y="63.4" width="1.2" height="1.2" fill="rgb(118,118,118)"/><rect x="93.6" y="47.2" width="1.2" height="1.2" fill="rgb(184,184,184)"/><rect x="118.6" y="24.9" width="1.2" height="1.2" fill="rgb(228,228,228)"/><rect x="90.8" y="60.2" width="1.2" height="1.2" fill="rgb(153,153,153)"/><rect x="97.6" y="42.5" width="1.2" height="1.2" fill="rgb(176,176,176)"/><rect x="92.0" y="63.0" width="1.2" height="1.2" fill="rgb(134,134,134)"/><rect x="96.0" y="36.1" width="1.2" height="1.2" fill="rgb(184,184,184)"/><rect x="156.6" y="36.4" width="1.2" height="1.2" fill="rgb(228,228,228)"/><rect x="92.2" y="45.0" width="1.2" height="1.2" fill="rgb(191,191,191)"/><rect x="103.1" y="26.6" width="1.2" height="1.2" fill="rgb(213,213,213)"/><rect x="110.6" y="41.8" width="1.2" height="1.2" fill="rgb(206,206,206)"/><rect x="119.3" y="33.7" width="1.2" height="1.2" fill="rgb(180,180,180)"/><rect x="122.1" y="43.6" width="1.2" height="1.2" fill="rgb(208,208,208)"/><rect x="97.8" y="65.9" width="1.2" height="1.2" fill="rgb(139,139,139)"/><rect x="108.9" y="44.6" width="1.2" height="1.2" fill="rgb(177,177,177)"/><rect x="90.9" y="64.9" width="1.2" height="1.2" fill="rgb(121,121,121)"/><rect x="99.4" y="26.9" width="1.2" height="1.2" fill="rgb(188,188,188)"/><rect x="94.5" y="65.9" width="1.2" height="1.2" fill="rgb(116,116,116)"/><rect x="91.6" y="28.3" width="1.2" height="1.2" fill="rgb(182,182,182)"/><rect x="93.0" y="63.0" width="1.2" height="1.2" fill="rgb(131,131,131)"/><rect x="122.5" y="34.0" width="1.2" height="1.2" fill="rgb(211,211,211)"/><rect x="118.5" y="30.8" width="1.2" height="1.2" fill="rgb(205,205,205)"/><rect x="93.4" y="66.5" width="1.2" height="1.2" fill="rgb(132,132,132)"/><rect x="101.7" y="53.4" width="1.2" height="1.2" fill="rgb(173,173,173)"/><rect x="98.6" y="57.0" width="1.2" height="1.2" fill="rgb(136,136,136)"/><rect x="88.6" y="54.9" width="1.2" height="1.2" fill="rgb(157,157,157)"/><rect x="98.7" y="54.7" width="1.2" height="1.2" fill="rgb(131,131,131)"/><rect x="110.1" y="36.3" width="1.2" height="1.2" fill="rgb(199,199,199)"/><rect x="98.7" y="47.9" width="1.2" height="1.2" fill="rgb(153,153,153)"/><rect x="137.5" y="43.4" width="1.2" height="1.2" fill="rgb(216,216,216)"/><rect x="102.0" y="31.9" width="1.2" height="1.2" fill="rgb(183,183,183)"/><rect x="118.9" y="56.1" width="1.2" height="1.2" fill="rgb(182,182,182)"/><rect x="100.5" y="59.6" width="1.2" height="1.2" fill="rgb(158,158,158)"/><rect x="97.4" y="55.5" width="1.2" height="1.2" fill="rgb(175,175,175)"/><rect x="109.5" y="45.1" width="1.2" height="1.2" fill="rgb(197,197,197)"/><rect x="110.1" y="41.0" width="1.2" height="1.2" fill="rgb(187,187,187)"/><rect x="101.4" y="59.4" width="1.2" height="1.2" fill="rgb(175,175,175)"/><rect x="111.8" y="31.8" width="1.2" height="1.2" fill="rgb(206,206,206)"/><rect x="109.9" y="37.6" width="1.2" height="1.2" fill="rgb(205,205,205)"/><rect x="89.1" y="58.5" width="1.2" height="1.2" fill="rgb(133,133,133)"/><rect x="112.4" y="39.9" width="1.2" height="1.2" fill="rgb(170,170,170)"/><rect x="96.4" y="62.4" width="1.2" height="1.2" fill="rgb(147,147,147)"/><rect x="116.1" y="44.3" width="1.2" height="1.2" fill="rgb(179,179,179)"/><rect x="94.6" y="58.1" width="1.2" height="1.2" fill="rgb(129,129,129)"/><rect x="112.1" y="40.1" width="1.2" height="1.2" fill="rgb(172,172,172)"/><rect x="109.3" y="41.3" width="1.2" height="1.2" fill="rgb(168,168,168)"/><rect x="103.4" y="60.0" width="1.2" height="1.2" fill="rgb(147,147,147)"/><rect x="129.4" y="30.3" width="1.2" height="1.2" fill="rgb(193,193,193)"/><rect x="88.3" y="38.9" width="1.2" height="1.2" fill="rgb(191,191,191)"/><rect x="111.7" y="41.9" width="1.2" height="1.2" fill="rgb(194,194,194)"/><rect x="103.6" y="57.7" width="1.2" height="1.2" fill="rgb(143,143,143)"/><rect x="93.0" y="59.9" width="1.2" height="1.2" fill="rgb(155,155,155)"/><rect x="98.7" y="44.9" width="1.2" height="1.2" fill="rgb(174,174,174)"/><rect x="90.5" y="61.4" width="1.2" height="1.2" fill="rgb(130,130,130)"/><rect x="112.5" y="33.0" width="1.2" height="1.2" fill="rgb(202,202,202)"/><rect x="94.4" y="51.9" width="1.2" height="1.2" fill="rgb(151,151,151)"/><rect x="100.1" y="56.4" width="1.2" height="1.2" fill="rgb(172,172,172)"/><rect x="93.9" y="51.6" width="1.2" height="1.2" fill="rgb(157,157,157)"/><rect x="97.9" y="53.4" width="1.2" height="1.2" fill="rgb(147,147,147)"/><rect x="102.2" y="48.4" width="1.2" height="1.2" fill="rgb(177,177,177)"/><rect x="108.8" y="30.1" width="1.2" height="1.2" fill="rgb(216,216,216)"/><rect x="107.2" y="48.1" width="1.2" height="1.2" fill="rgb(148,148,148)"/><rect x="93.9" y="35.1" width="1.2" height="1.2" fill="rgb(191,191,191)"/><rect x="97.8" y="48.7" width="1.2" height="1.2" fill="rgb(144,144,144)"/><rect x="120.5" y="47.6" width="1.2" height="1.2" fill="rgb(197,197,197)"/><rect x="93.3" y="63.8" width="1.2" height="1.2" fill="rgb(123,123,123)"/><rect x="110.1" y="39.7" width="1.2" height="1.2" fill="rgb(178,178,178)"/><rect x="98.2" y="60.6" width="1.2" height="1.2" fill="rgb(155,155,155)"/><rect x="140.9" y="17.4" width="1.2" height="1.2" fill="rgb(228,228,228)"/><rect x="104.9" y="39.1" width="1.2" height="1.2" fill="rgb(177,177,177)"/><rect x="104.4" y="34.5" width="1.2" height="1.2" fill="rgb(161,161,161)"/><rect x="135.1" y="24.9" width="1.2" height="1.2" fill="rgb(214,214,214)"/><rect x="111.8" y="58.5" width="1.2" height="1.2" fill="rgb(172,172,172)"/><rect x="98.1" y="60.0" width="1.2" height="1.2" fill="rgb(129,129,129)"/><rect x="106.1" y="43.8" width="1.2" height="1.2" fill="rgb(196,196,196)"/><rect x="99.9" y="51.2" width="1.2" height="1.2" fill="rgb(171,171,171)"/><rect x="94.6" y="24.6" width="1.2" height="1.2" fill="rgb(214,214,214)"/><rect x="99.4" y="50.9" width="1.2" height="1.2" fill="rgb(183,183,183)"/><rect x="83.8" y="23.3" width="1.2" height="1.2" fill="rgb(209,209,209)"/><rect x="92.6" y="62.2" width="1.2" height="1.2" fill="rgb(151,151,151)"/><rect x="94.0" y="45.0" width="1.2" height="1.2" fill="rgb(188,188,188)"/><rect x="130.5" y="36.4" width="1.2" height="1.2" fill="rgb(186,186,186)"/><rect x="80.2" y="36.3" width="1.2" height="1.2" fill="rgb(188,188,188)"/><rect x="93.0" y="57.7" width="1.2" height="1.2" fill="rgb(126,126,126)"/><rect x="100.8" y="35.1" width="1.2" height="1.2" fill="rgb(169,169,169)"/><rect x="100.1" y="47.8" width="1.2" height="1.2" fill="rgb(176,176,176)"/><rect x="101.4" y="42.0" width="1.2" height="1.2" fill="rgb(161,161,161)"/><rect x="90.9" y="61.3" width="1.2" height="1.2" fill="rgb(164,164,164)"/><rect x="100.5" y="40.3" width="1.2" height="1.2" fill="rgb(195,195,195)"/><rect x="120.3" y="38.0" width="1.2" height="1.2" fill="rgb(187,187,187)"/><rect x="121.1" y="30.4" width="1.2" height="1.2" fill="rgb(218,218,218)"/><rect x="127.4" y="28.6" width="1.2" height="1.2" fill="rgb(218,218,218)"/><rect x="89.5" y="48.9" width="1.2" height="1.2" fill="rgb(177,177,177)"/><rect x="106.4" y="50.0" width="1.2" height="1.2" fill="rgb(161,161,161)"/><rect x="98.6" y="54.4" width="1.2" height="1.2" fill="rgb(145,145,145)"/><rect x="129.0" y="20.7" width="1.2" height="1.2" fill="rgb(221,221,221)"/><rect x="107.6" y="49.3" width="1.2" height="1.2" fill="rgb(169,169,169)"/><rect x="98.1" y="48.8" width="1.2" height="1.2" fill="rgb(142,142,142)"/><rect x="101.8" y="68.5" width="1.2" height="1.2" fill="rgb(161,161,161)"/><rect x="118.8" y="48.6" width="1.2" height="1.2" fill="rgb(208,208,208)"/><rect x="93.7" y="58.8" width="1.2" height="1.2" fill="rgb(146,146,146)"/><rect x="94.2" y="55.8" width="1.2" height="1.2" fill="rgb(153,153,153)"/><rect x="97.6" y="66.5" width="1.2" height="1.2" fill="rgb(150,150,150)"/><rect x="106.4" y="39.9" width="1.2" height="1.2" fill="rgb(163,163,163)"/><rect x="103.3" y="61.6" width="1.2" height="1.2" fill="rgb(170,170,170)"/><rect x="102.2" y="43.9" width="1.2" height="1.2" fill="rgb(179,179,179)"/><rect x="153.0" y="21.9" width="1.2" height="1.2" fill="rgb(228,228,228)"/><rect x="100.5" y="45.2" width="1.2" height="1.2" fill="rgb(186,186,186)"/><rect x="104.3" y="33.7" width="1.2" height="1.2" fill="rgb(190,190,190)"/><rect x="103.1" y="58.9" width="1.2" height="1.2" fill="rgb(162,162,162)"/><rect x="129.9" y="24.3" width="1.2" height="1.2" fill="rgb(228,228,228)"/><rect x="104.6" y="56.6" width="1.2" height="1.2" fill="rgb(159,159,159)"/><rect x="109.4" y="44.1" width="1.2" height="1.2" fill="rgb(182,182,182)"/><rect x="116.5" y="49.7" width="1.2" height="1.2" fill="rgb(163,163,163)"/><rect x="79.1" y="29.7" width="1.2" height="1.2" fill="rgb(170,170,170)"/><rect x="100.4" y="59.7" width="1.2" height="1.2" fill="rgb(136,136,136)"/><rect x="92.9" y="63.4" width="1.2" height="1.2" fill="rgb(157,157,157)"/><rect x="134.6" y="30.7" width="1.2" height="1.2" fill="rgb(215,215,215)"/><rect x="95.1" y="48.9" width="1.2" height="1.2" fill="rgb(158,158,158)"/><rect x="109.4" y="43.5" width="1.2" height="1.2" fill="rgb(176,176,176)"/><rect x="94.0" y="51.6" width="1.2" height="1.2" fill="rgb(142,142,142)"/><rect x="104.6" y="53.5" width="1.2" height="1.2" fill="rgb(161,161,161)"/><rect x="107.8" y="62.3" width="1.2" height="1.2" fill="rgb(177,177,177)"/><rect x="109.1" y="64.3" width="1.2" height="1.2" fill="rgb(166,166,166)"/><rect x="98.5" y="55.0" width="1.2" height="1.2" fill="rgb(164,164,164)"/><rect x="97.3" y="45.4" width="1.2" height="1.2" fill="rgb(171,171,171)"/><rect x="102.7" y="58.2" width="1.2" height="1.2" fill="rgb(163,163,163)"/><rect x="105.8" y="34.1" width="1.2" height="1.2" fill="rgb(207,207,207)"/><rect x="95.0" y="63.0" width="1.2" height="1.2" fill="rgb(151,151,151)"/><rect x="93.1" y="60.7" width="1.2" height="1.2" fill="rgb(152,152,152)"/><rect x="99.2" y="28.6" width="1.2" height="1.2" fill="rgb(188,188,188)"/><rect x="91.1" y="55.8" width="1.2" height="1.2" fill="rgb(145,145,145)"/><rect x="102.2" y="53.3" width="1.2" height="1.2" fill="rgb(180,180,180)"/><rect x="93.0" y="60.3" width="1.2" height="1.2" fill="rgb(162,162,162)"/><rect x="100.3" y="50.4" width="1.2" height="1.2" fill="rgb(164,164,164)"/><rect x="114.4" y="25.7" width="1.2" height="1.2" fill="rgb(208,208,208)"/><rect x="120.0" y="23.0" width="1.2" height="1.2" fill="rgb(194,194,194)"/><rect x="90.3" y="61.0" width="1.2" height="1.2" fill="rgb(121,121,121)"/><rect x="94.5" y="58.0" width="1.2" height="1.2" fill="rgb(145,145,145)"/><rect x="119.2" y="39.5" width="1.2" height="1.2" fill="rgb(204,204,204)"/><rect x="101.4" y="48.9" width="1.2" height="1.2" fill="rgb(190,190,190)"/><rect x="100.0" y="49.8" width="1.2" height="1.2" fill="rgb(179,179,179)"/><rect x="96.5" y="51.3" width="1.2" height="1.2" fill="rgb(182,182,182)"/><rect x="90.1" y="38.8" width="1.2" height="1.2" fill="rgb(157,157,157)"/><rect x="98.5" y="54.3" width="1.2" height="1.2" fill="rgb(143,143,143)"/><rect x="93.6" y="61.4" width="1.2" height="1.2" fill="rgb(148,148,148)"/><rect x="109.7" y="38.6" width="1.2" height="1.2" fill="rgb(195,195,195)"/><rect x="86.7" y="27.9" width="1.2" height="1.2" fill="rgb(198,198,198)"/><rect x="119.0" y="40.9" width="1.2" height="1.2" fill="rgb(212,212,212)"/><rect x="102.6" y="52.3" width="1.2" height="1.2" fill="rgb(174,174,174)"/><rect x="101.9" y="51.0" width="1.2" height="1.2" fill="rgb(156,156,156)"/><rect x="104.4" y="58.3" width="1.2" height="1.2" fill="rgb(138,138,138)"/><rect x="89.0" y="43.6" width="1.2" height="1.2" fill="rgb(149,149,149)"/><rect x="114.6" y="51.1" width="1.2" height="1.2" fill="rgb(164,164,164)"/><rect x="116.3" y="33.6" width="1.2" height="1.2" fill="rgb(214,214,214)"/><rect x="94.6" y="56.8" width="1.2" height="1.2" fill="rgb(126,126,126)"/><rect x="130.2" y="40.7" width="1.2" height="1.2" fill="rgb(189,189,189)"/><rect x="93.5" y="54.9" width="1.2" height="1.2" fill="rgb(161,161,161)"/><rect x="96.8" y="51.7" width="1.2" height="1.2" fill="rgb(177,177,177)"/><rect x="90.5" y="50.8" width="1.2" height="1.2" fill="rgb(173,173,173)"/><rect x="92.7" y="64.3" width="1.2" height="1.2" fill="rgb(131,131,131)"/><rect x="118.0" y="38.1" width="1.2" height="1.2" fill="rgb(212,212,212)"/><rect x="96.8" y="57.3" width="1.2" height="1.2" fill="rgb(135,135,135)"/><rect x="128.3" y="25.2" width="1.2" height="1.2" fill="rgb(212,212,212)"/><rect x="91.9" y="62.3" width="1.2" height="1.2" fill="rgb(158,158,158)"/><rect x="103.7" y="54.8" width="1.2" height="1.2" fill="rgb(146,146,146)"/><rect x="117.3" y="45.1" width="1.2" height="1.2" fill="rgb(162,162,162)"/><rect x="112.4" y="40.2" width="1.2" height="1.2" fill="rgb(184,184,184)"/><rect x="94.9" y="47.6" width="1.2" height="1.2" fill="rgb(156,156,156)"/><rect x="94.2" y="65.9" width="1.2" height="1.2" fill="rgb(130,130,130)"/><rect x="96.8" y="63.1" width="1.2" height="1.2" fill="rgb(168,168,168)"/><rect x="96.0" y="61.5" width="1.2" height="1.2" fill="rgb(154,154,154)"/><rect x="106.1" y="37.9" width="1.2" height="1.2" fill="rgb(183,183,183)"/><rect x="115.8" y="20.3" width="1.2" height="1.2" fill="rgb(215,215,215)"/><rect x="126.5" y="65.5" width="1.2" height="1.2" fill="rgb(162,162,162)"/><rect x="90.1" y="39.9" width="1.2" height="1.2" fill="rgb(192,192,192)"/><rect x="122.8" y="19.6" width="1.2" height="1.2" fill="rgb(226,226,226)"/><rect x="99.4" y="42.5" width="1.2" height="1.2" fill="rgb(187,187,187)"/><rect x="151.3" y="33.2" width="1.2" height="1.2" fill="rgb(228,228,228)"/><rect x="90.0" y="62.2" width="1.2" height="1.2" fill="rgb(133,133,133)"/><rect x="93.1" y="53.0" width="1.2" height="1.2" fill="rgb(133,133,133)"/><rect x="102.0" y="37.7" width="1.2" height="1.2" fill="rgb(205,205,205)"/><rect x="91.3" y="61.2" width="1.2" height="1.2" fill="rgb(129,129,129)"/><rect x="110.8" y="34.6" width="1.2" height="1.2" fill="rgb(173,173,173)"/><rect x="96.4" y="66.3" width="1.2" height="1.2" fill="rgb(139,139,139)"/><rect x="92.4" y="48.2" width="1.2" height="1.2" fill="rgb(152,152,152)"/><rect x="98.7" y="55.2" width="1.2" height="1.2" fill="rgb(145,145,145)"/><rect x="102.2" y="56.7" width="1.2" height="1.2" fill="rgb(178,178,178)"/><rect x="94.3" y="58.3" width="1.2" height="1.2" fill="rgb(132,132,132)"/><rect x="97.9" y="57.0" width="1.2" height="1.2" fill="rgb(151,151,151)"/><rect x="104.7" y="52.2" width="1.2" height="1.2" fill="rgb(152,152,152)"/><rect x="94.3" y="63.7" width="1.2" height="1.2" fill="rgb(129,129,129)"/><rect x="103.2" y="41.7" width="1.2" height="1.2" fill="rgb(171,171,171)"/><rect x="123.3" y="25.2" width="1.2" height="1.2" fill="rgb(228,228,228)"/><rect x="99.2" y="46.2" width="1.2" height="1.2" fill="rgb(179,179,179)"/><rect x="102.7" y="59.7" width="1.2" height="1.2" fill="rgb(133,133,133)"/><rect x="103.8" y="50.7" width="1.2" height="1.2" fill="rgb(167,167,167)"/><rect x="122.5" y="39.9" width="1.2" height="1.2" fill="rgb(217,217,217)"/><rect x="110.8" y="37.3" width="1.2" height="1.2" fill="rgb(200,200,200)"/><rect x="101.5" y="34.6" width="1.2" height="1.2" fill="rgb(194,194,194)"/><rect x="96.5" y="55.4" width="1.2" height="1.2" fill="rgb(149,149,149)"/><rect x="105.5" y="57.8" width="1.2" height="1.2" fill="rgb(151,151,151)"/><rect x="90.0" y="63.5" width="1.2" height="1.2" fill="rgb(126,126,126)"/><rect x="91.9" y="64.5" width="1.2" height="1.2" fill="rgb(159,159,159)"/><rect x="107.9" y="55.6" width="1.2" height="1.2" fill="rgb(175,175,175)"/><rect x="98.0" y="51.8" width="1.2" height="1.2" fill="rgb(142,142,142)"/><rect x="132.8" y="31.9" width="1.2" height="1.2" fill="rgb(195,195,195)"/><rect x="115.3" y="35.5" width="1.2" height="1.2" fill="rgb(195,195,195)"/><rect x="95.0" y="39.1" width="1.2" height="1.2" fill="rgb(184,184,184)"/><rect x="96.8" y="45.2" width="1.2" height="1.2" fill="rgb(180,180,180)"/><rect x="109.8" y="37.4" width="1.2" height="1.2" fill="rgb(200,200,200)"/><rect x="97.2" y="62.8" width="1.2" height="1.2" fill="rgb(134,134,134)"/><rect x="85.6" y="51.9" width="1.2" height="1.2" fill="rgb(138,138,138)"/><rect x="94.5" y="65.2" width="1.2" height="1.2" fill="rgb(147,147,147)"/><rect x="111.8" y="34.4" width="1.2" height="1.2" fill="rgb(216,216,216)"/><rect x="94.3" y="63.4" width="1.2" height="1.2" fill="rgb(119,119,119)"/><rect x="90.0" y="64.8" width="1.2" height="1.2" fill="rgb(120,120,120)"/><rect x="102.4" y="56.8" width="1.2" height="1.2" fill="rgb(139,139,139)"/><rect x="132.2" y="23.5" width="1.2" height="1.2" fill="rgb(228,228,228)"/><rect x="96.0" y="59.0" width="1.2" height="1.2" fill="rgb(162,162,162)"/><rect x="99.8" y="39.4" width="1.2" height="1.2" fill="rgb(192,192,192)"/><rect x="92.6" y="57.0" width="1.2" height="1.2" fill="rgb(169,169,169)"/><rect x="125.1" y="42.3" width="1.2" height="1.2" fill="rgb(175,175,175)"/><rect x="101.1" y="35.2" width="1.2" height="1.2" fill="rgb(202,202,202)"/><rect x="107.4" y="55.1" width="1.2" height="1.2" fill="rgb(159,159,159)"/><rect x="136.5" y="50.2" width="1.2" height="1.2" fill="rgb(212,212,212)"/><rect x="107.6" y="40.6" width="1.2" height="1.2" fill="rgb(169,169,169)"/><rect x="94.3" y="54.4" width="1.2" height="1.2" fill="rgb(138,138,138)"/><rect x="121.4" y="17.1" width="1.2" height="1.2" fill="rgb(211,211,211)"/><rect x="92.8" y="65.7" width="1.2" height="1.2" fill="rgb(140,140,140)"/><rect x="143.3" y="24.0" width="1.2" height="1.2" fill="rgb(228,228,228)"/><rect x="107.0" y="34.4" width="1.2" height="1.2" fill="rgb(188,188,188)"/><rect x="101.2" y="54.5" width="1.2" height="1.2" fill="rgb(167,167,167)"/><rect x="96.4" y="41.0" width="1.2" height="1.2" fill="rgb(177,177,177)"/><rect x="103.6" y="52.0" width="1.2" height="1.2" fill="rgb(182,182,182)"/><rect x="95.4" y="58.4" width="1.2" height="1.2" fill="rgb(129,129,129)"/><rect x="92.0" y="65.3" width="1.2" height="1.2" fill="rgb(157,157,157)"/><rect x="131.2" y="30.6" width="1.2" height="1.2" fill="rgb(195,195,195)"/><rect x="128.4" y="28.0" width="1.2" height="1.2" fill="rgb(194,194,194)"/><rect x="162.5" y="38.4" width="1.2" height="1.2" fill="rgb(225,225,225)"/><rect x="101.2" y="59.8" width="1.2" height="1.2" fill="rgb(139,139,139)"/><rect x="93.9" y="58.3" width="1.2" height="1.2" fill="rgb(123,123,123)"/><rect x="93.7" y="65.2" width="1.2" height="1.2" fill="rgb(157,157,157)"/><rect x="114.7" y="44.2" width="1.2" height="1.2" fill="rgb(165,165,165)"/><rect x="94.5" y="55.4" width="1.2" height="1.2" fill="rgb(161,161,161)"/><rect x="131.1" y="31.3" width="1.2" height="1.2" fill="rgb(214,214,214)"/><rect x="108.6" y="48.7" width="1.2" height="1.2" fill="rgb(172,172,172)"/><rect x="104.9" y="53.6" width="1.2" height="1.2" fill="rgb(148,148,148)"/><rect x="108.5" y="61.1" width="1.2" height="1.2" fill="rgb(172,172,172)"/><rect x="103.1" y="44.1" width="1.2" height="1.2" fill="rgb(161,161,161)"/><rect x="94.5" y="62.0" width="1.2" height="1.2" fill="rgb(143,143,143)"/><rect x="95.3" y="38.1" width="1.2" height="1.2" fill="rgb(170,170,170)"/><rect x="96.2" y="65.1" width="1.2" height="1.2" fill="rgb(149,149,149)"/><rect x="91.9" y="51.8" width="1.2" height="1.2" fill="rgb(166,166,166)"/><rect x="101.3" y="64.2" width="1.2" height="1.2" fill="rgb(160,160,160)"/><rect x="96.7" y="45.8" width="1.2" height="1.2" fill="rgb(163,163,163)"/><rect x="97.3" y="62.2" width="1.2" height="1.2" fill="rgb(140,140,140)"/><rect x="95.2" y="54.6" width="1.2" height="1.2" fill="rgb(178,178,178)"/><rect x="94.1" y="66.0" width="1.2" height="1.2" fill="rgb(160,160,160)"/><rect x="118.2" y="18.0" width="1.2" height="1.2" fill="rgb(212,212,212)"/><rect x="105.0" y="43.1" width="1.2" height="1.2" fill="rgb(156,156,156)"/><rect x="135.3" y="27.2" width="1.2" height="1.2" fill="rgb(228,228,228)"/><rect x="108.4" y="56.7" width="1.2" height="1.2" fill="rgb(155,155,155)"/><rect x="101.7" y="27.0" width="1.2" height="1.2" fill="rgb(186,186,186)"/><rect x="91.6" y="65.7" width="1.2" height="1.2" fill="rgb(148,148,148)"/><rect x="118.1" y="38.7" width="1.2" height="1.2" fill="rgb(197,197,197)"/><rect x="92.8" y="65.8" width="1.2" height="1.2" fill="rgb(143,143,143)"/><rect x="110.4" y="31.9" width="1.2" height="1.2" fill="rgb(205,205,205)"/><rect x="97.0" y="35.9" width="1.2" height="1.2" fill="rgb(187,187,187)"/><rect x="103.3" y="36.6" width="1.2" height="1.2" fill="rgb(189,189,189)"/><rect x="92.9" y="58.3" width="1.2" height="1.2" fill="rgb(153,153,153)"/><rect x="112.2" y="22.9" width="1.2" height="1.2" fill="rgb(206,206,206)"/><rect x="103.0" y="47.5" width="1.2" height="1.2" fill="rgb(190,190,190)"/><rect x="91.3" y="56.8" width="1.2" height="1.2" fill="rgb(150,150,150)"/><rect x="107.4" y="43.9" width="1.2" height="1.2" fill="rgb(160,160,160)"/><rect x="116.9" y="35.1" width="1.2" height="1.2" fill="rgb(202,202,202)"/><rect x="147.9" y="16.4" width="1.2" height="1.2" fill="rgb(228,228,228)"/><rect x="100.0" y="59.5" width="1.2" height="1.2" fill="rgb(168,168,168)"/><rect x="102.0" y="50.6" width="1.2" height="1.2" fill="rgb(146,146,146)"/><rect x="100.7" y="49.8" width="1.2" height="1.2" fill="rgb(156,156,156)"/><rect x="119.5" y="29.7" width="1.2" height="1.2" fill="rgb(202,202,202)"/><rect x="107.2" y="51.8" width="1.2" height="1.2" fill="rgb(192,192,192)"/><rect x="107.3" y="28.0" width="1.2" height="1.2" fill="rgb(196,196,196)"/><rect x="132.5" y="16.3" width="1.2" height="1.2" fill="rgb(215,215,215)"/><rect x="104.3" y="33.8" width="1.2" height="1.2" fill="rgb(188,188,188)"/><rect x="111.4" y="33.2" width="1.2" height="1.2" fill="rgb(185,185,185)"/><rect x="93.6" y="61.3" width="1.2" height="1.2" fill="rgb(128,128,128)"/><rect x="93.5" y="60.4" width="1.2" height="1.2" fill="rgb(128,128,128)"/><rect x="105.6" y="37.9" width="1.2" height="1.2" fill="rgb(174,174,174)"/><rect x="90.5" y="32.5" width="1.2" height="1.2" fill="rgb(191,191,191)"/><rect x="95.0" y="58.1" width="1.2" height="1.2" fill="rgb(146,146,146)"/><rect x="99.0" y="19.5" width="1.2" height="1.2" fill="rgb(195,195,195)"/><rect x="94.5" y="34.2" width="1.2" height="1.2" fill="rgb(198,198,198)"/><rect x="101.2" y="35.8" width="1.2" height="1.2" fill="rgb(187,187,187)"/><rect x="99.7" y="57.3" width="1.2" height="1.2" fill="rgb(177,177,177)"/><rect x="107.5" y="32.1" width="1.2" height="1.2" fill="rgb(200,200,200)"/><rect x="97.2" y="53.8" width="1.2" height="1.2" fill="rgb(168,168,168)"/><rect x="98.5" y="32.9" width="1.2" height="1.2" fill="rgb(186,186,186)"/><rect x="124.6" y="44.5" width="1.2" height="1.2" fill="rgb(170,170,170)"/><rect x="95.9" y="41.6" width="1.2" height="1.2" fill="rgb(170,170,170)"/><rect x="114.5" y="39.5" width="1.2" height="1.2" fill="rgb(187,187,187)"/><rect x="111.6" y="47.2" width="1.2" height="1.2" fill="rgb(176,176,176)"/><rect x="88.8" y="59.9" width="1.2" height="1.2" fill="rgb(152,152,152)"/><rect x="110.9" y="30.5" width="1.2" height="1.2" fill="rgb(173,173,173)"/><rect x="106.7" y="22.5" width="1.2" height="1.2" fill="rgb(218,218,218)"/><rect x="101.8" y="48.9" width="1.2" height="1.2" fill="rgb(151,151,151)"/><rect x="122.4" y="49.9" width="1.2" height="1.2" fill="rgb(167,167,167)"/><rect x="121.8" y="47.2" width="1.2" height="1.2" fill="rgb(192,192,192)"/><rect x="109.6" y="55.6" width="1.2" height="1.2" fill="rgb(177,177,177)"/><rect x="91.6" y="64.4" width="1.2" height="1.2" fill="rgb(147,147,147)"/><rect x="94.2" y="39.7" width="1.2" height="1.2" fill="rgb(200,200,200)"/><rect x="104.3" y="26.2" width="1.2" height="1.2" fill="rgb(173,173,173)"/><rect x="93.8" y="64.9" width="1.2" height="1.2" fill="rgb(127,127,127)"/><rect x="102.9" y="40.0" width="1.2" height="1.2" fill="rgb(196,196,196)"/><rect x="92.9" y="49.3" width="1.2" height="1.2" fill="rgb(156,156,156)"/><rect x="99.8" y="58.9" width="1.2" height="1.2" fill="rgb(170,170,170)"/><rect x="98.1" y="55.4" width="1.2" height="1.2" fill="rgb(156,156,156)"/><rect x="99.2" y="34.9" width="1.2" height="1.2" fill="rgb(183,183,183)"/><rect x="95.5" y="47.0" width="1.2" height="1.2" fill="rgb(179,179,179)"/><rect x="100.0" y="58.8" width="1.2" height="1.2" fill="rgb(154,154,154)"/><rect x="95.2" y="38.0" width="1.2" height="1.2" fill="rgb(169,169,169)"/><rect x="83.9" y="39.6" width="1.2" height="1.2" fill="rgb(172,172,172)"/><rect x="97.1" y="58.2" width="1.2" height="1.2" fill="rgb(147,147,147)"/><rect x="95.5" y="57.1" width="1.2" height="1.2" fill="rgb(168,168,168)"/><rect x="111.0" y="52.4" width="1.2" height="1.2" fill="rgb(155,155,155)"/><rect x="111.0" y="51.5" width="1.2" height="1.2" fill="rgb(187,187,187)"/><rect x="89.6" y="64.7" width="1.2" height="1.2" fill="rgb(145,145,145)"/><rect x="103.0" y="42.2" width="1.2" height="1.2" fill="rgb(192,192,192)"/><rect x="150.4" y="25.9" width="1.2" height="1.2" fill="rgb(227,227,227)"/><rect x="98.1" y="57.7" width="1.2" height="1.2" fill="rgb(166,166,166)"/><rect x="101.7" y="58.3" width="1.2" height="1.2" fill="rgb(162,162,162)"/><rect x="97.8" y="56.6" width="1.2" height="1.2" fill="rgb(162,162,162)"/><rect x="110.6" y="58.6" width="1.2" height="1.2" fill="rgb(155,155,155)"/><rect x="119.8" y="21.8" width="1.2" height="1.2" fill="rgb(205,205,205)"/><rect x="93.8" y="57.6" width="1.2" height="1.2" fill="rgb(169,169,169)"/><rect x="98.2" y="61.2" width="1.2" height="1.2" fill="rgb(155,155,155)"/><rect x="119.2" y="24.9" width="1.2" height="1.2" fill="rgb(189,189,189)"/><rect x="89.9" y="51.1" width="1.2" height="1.2" fill="rgb(153,153,153)"/><rect x="99.0" y="49.9" width="1.2" height="1.2" fill="rgb(179,179,179)"/><rect x="147.0" y="35.3" width="1.2" height="1.2" fill="rgb(228,228,228)"/><rect x="106.5" y="55.3" width="1.2" height="1.2" fill="rgb(152,152,152)"/><rect x="96.4" y="60.2" width="1.2" height="1.2" fill="rgb(146,146,146)"/><rect x="121.5" y="38.3" width="1.2" height="1.2" fill="rgb(199,199,199)"/><rect x="99.1" y="57.2" width="1.2" height="1.2" fill="rgb(141,141,141)"/><rect x="133.2" y="41.2" width="1.2" height="1.2" fill="rgb(194,194,194)"/><rect x="94.3" y="62.2" width="1.2" height="1.2" fill="rgb(147,147,147)"/><rect x="97.7" y="61.4" width="1.2" height="1.2" fill="rgb(169,169,169)"/><rect x="96.0" y="56.3" width="1.2" height="1.2" fill="rgb(143,143,143)"/><rect x="93.3" y="56.6" width="1.2" height="1.2" fill="rgb(162,162,162)"/><rect x="136.0" y="20.6" width="1.2" height="1.2" fill="rgb(221,221,221)"/><rect x="109.3" y="53.2" width="1.2" height="1.2" fill="rgb(148,148,148)"/><rect x="89.4" y="43.0" width="1.2" height="1.2" fill="rgb(174,174,174)"/><rect x="92.2" y="63.5" width="1.2" height="1.2" fill="rgb(140,140,140)"/><rect x="118.3" y="46.2" width="1.2" height="1.2" fill="rgb(167,167,167)"/><rect x="95.0" y="48.6" width="1.2" height="1.2" fill="rgb(156,156,156)"/><rect x="99.5" y="47.1" width="1.2" height="1.2" fill="rgb(150,150,150)"/><rect x="101.4" y="57.5" width="1.2" height="1.2" fill="rgb(172,172,172)"/><rect x="115.1" y="43.2" width="1.2" height="1.2" fill="rgb(167,167,167)"/><rect x="132.8" y="45.1" width="1.2" height="1.2" fill="rgb(185,185,185)"/><rect x="90.1" y="64.2" width="1.2" height="1.2" fill="rgb(118,118,118)"/><rect x="92.3" y="61.1" width="1.2" height="1.2" fill="rgb(144,144,144)"/><rect x="90.6" y="63.9" width="1.2" height="1.2" fill="rgb(123,123,123)"/><rect x="96.0" y="51.2" width="1.2" height="1.2" fill="rgb(140,140,140)"/><rect x="93.9" y="62.3" width="1.2" height="1.2" fill="rgb(164,164,164)"/><rect x="89.1" y="60.3" width="1.2" height="1.2" fill="rgb(147,147,147)"/><rect x="102.5" y="41.5" width="1.2" height="1.2" fill="rgb(188,188,188)"/><rect x="107.7" y="46.0" width="1.2" height="1.2" fill="rgb(151,151,151)"/><rect x="97.0" y="36.2" width="1.2" height="1.2" fill="rgb(170,170,170)"/><rect x="98.0" y="57.5" width="1.2" height="1.2" fill="rgb(155,155,155)"/><rect x="120.3" y="20.9" width="1.2" height="1.2" fill="rgb(228,228,228)"/><rect x="97.9" y="53.7" width="1.2" height="1.2" fill="rgb(144,144,144)"/><rect x="104.2" y="58.7" width="1.2" height="1.2" fill="rgb(166,166,166)"/><rect x="111.8" y="39.2" width="1.2" height="1.2" fill="rgb(201,201,201)"/><rect x="85.3" y="44.3" width="1.2" height="1.2" fill="rgb(143,143,143)"/><rect x="103.4" y="56.4" width="1.2" height="1.2" fill="rgb(154,154,154)"/><rect x="102.5" y="54.6" width="1.2" height="1.2" fill="rgb(171,171,171)"/><rect x="100.0" y="47.2" width="1.2" height="1.2" fill="rgb(159,159,159)"/><rect x="104.4" y="50.0" width="1.2" height="1.2" fill="rgb(152,152,152)"/><rect x="117.2" y="30.1" width="1.2" height="1.2" fill="rgb(202,202,202)"/><rect x="98.5" y="47.0" width="1.2" height="1.2" fill="rgb(172,172,172)"/><rect x="135.4" y="27.9" width="1.2" height="1.2" fill="rgb(202,202,202)"/><rect x="107.5" y="33.4" width="1.2" height="1.2" fill="rgb(173,173,173)"/><rect x="103.3" y="60.1" width="1.2" height="1.2" fill="rgb(167,167,167)"/><rect x="137.2" y="32.6" width="1.2" height="1.2" fill="rgb(228,228,228)"/><rect x="123.0" y="45.5" width="1.2" height="1.2" fill="rgb(208,208,208)"/><rect x="122.8" y="26.2" width="1.2" height="1.2" fill="rgb(208,208,208)"/><rect x="135.8" y="21.9" width="1.2" height="1.2" fill="rgb(228,228,228)"/><rect x="96.0" y="61.1" width="1.2" height="1.2" fill="rgb(169,169,169)"/><rect x="107.8" y="41.3" width="1.2" height="1.2" fill="rgb(197,197,197)"/><rect x="105.2" y="43.4" width="1.2" height="1.2" fill="rgb(173,173,173)"/><rect x="115.9" y="26.5" width="1.2" height="1.2" fill="rgb(226,226,226)"/><rect x="116.4" y="54.7" width="1.2" height="1.2" fill="rgb(171,171,171)"/><rect x="116.5" y="48.5" width="1.2" height="1.2" fill="rgb(198,198,198)"/><rect x="103.9" y="22.1" width="1.2" height="1.2" fill="rgb(221,221,221)"/><rect x="93.3" y="62.8" width="1.2" height="1.2" fill="rgb(140,140,140)"/><rect x="93.1" y="64.7" width="1.2" height="1.2" fill="rgb(154,154,154)"/><rect x="94.0" y="39.1" width="1.2" height="1.2" fill="rgb(173,173,173)"/><rect x="100.6" y="43.9" width="1.2" height="1.2" fill="rgb(164,164,164)"/><rect x="124.2" y="33.4" width="1.2" height="1.2" fill="rgb(194,194,194)"/><rect x="103.3" y="54.1" width="1.2" height="1.2" fill="rgb(171,171,171)"/><rect x="91.7" y="44.5" width="1.2" height="1.2" fill="rgb(182,182,182)"/><rect x="124.3" y="39.9" width="1.2" height="1.2" fill="rgb(175,175,175)"/><rect x="104.9" y="47.4" width="1.2" height="1.2" fill="rgb(158,158,158)"/><rect x="99.5" y="59.8" width="1.2" height="1.2" fill="rgb(137,137,137)"/><rect x="118.9" y="43.8" width="1.2" height="1.2" fill="rgb(208,208,208)"/><rect x="97.0" y="37.3" width="1.2" height="1.2" fill="rgb(202,202,202)"/><rect x="85.7" y="61.1" width="1.2" height="1.2" fill="rgb(128,128,128)"/><rect x="103.7" y="49.1" width="1.2" height="1.2" fill="rgb(168,168,168)"/><rect x="92.1" y="66.3" width="1.2" height="1.2" fill="rgb(158,158,158)"/><rect x="88.8" y="44.9" width="1.2" height="1.2" fill="rgb(154,154,154)"/><rect x="97.3" y="52.4" width="1.2" height="1.2" fill="rgb(160,160,160)"/><rect x="117.6" y="40.2" width="1.2" height="1.2" fill="rgb(184,184,184)"/><rect x="126.1" y="51.8" width="1.2" height="1.2" fill="rgb(199,199,199)"/><rect x="112.9" y="51.3" width="1.2" height="1.2" fill="rgb(171,171,171)"/><rect x="99.5" y="59.8" width="1.2" height="1.2" fill="rgb(158,158,158)"/><rect x="99.6" y="38.4" width="1.2" height="1.2" fill="rgb(180,180,180)"/><rect x="128.4" y="28.8" width="1.2" height="1.2" fill="rgb(217,217,217)"/><rect x="90.1" y="43.9" width="1.2" height="1.2" fill="rgb(187,187,187)"/><rect x="99.5" y="48.3" width="1.2" height="1.2" fill="rgb(187,187,187)"/><rect x="100.5" y="55.1" width="1.2" height="1.2" fill="rgb(161,161,161)"/><rect x="93.5" y="60.6" width="1.2" height="1.2" fill="rgb(139,139,139)"/><rect x="119.6" y="16.1" width="1.2" height="1.2" fill="rgb(210,210,210)"/><rect x="108.6" y="37.7" width="1.2" height="1.2" fill="rgb(187,187,187)"/><rect x="127.6" y="22.4" width="1.2" height="1.2" fill="rgb(214,214,214)"/><rect x="105.0" y="59.5" width="1.2" height="1.2" fill="rgb(167,167,167)"/><rect x="102.3" y="45.2" width="1.2" height="1.2" fill="rgb(174,174,174)"/><rect x="136.6" y="21.7" width="1.2" height="1.2" fill="rgb(223,223,223)"/><rect x="117.9" y="39.7" width="1.2" height="1.2" fill="rgb(210,210,210)"/><rect x="132.0" y="27.5" width="1.2" height="1.2" fill="rgb(203,203,203)"/><rect x="97.0" y="55.0" width="1.2" height="1.2" fill="rgb(144,144,144)"/><rect x="110.4" y="40.4" width="1.2" height="1.2" fill="rgb(205,205,205)"/><rect x="110.9" y="38.9" width="1.2" height="1.2" fill="rgb(182,182,182)"/><rect x="104.8" y="51.6" width="1.2" height="1.2" fill="rgb(160,160,160)"/><rect x="125.5" y="31.1" width="1.2" height="1.2" fill="rgb(222,222,222)"/><rect x="100.4" y="46.8" width="1.2" height="1.2" fill="rgb(180,180,180)"/><rect x="91.1" y="56.0" width="1.2" height="1.2" fill="rgb(158,158,158)"/><rect x="107.6" y="38.2" width="1.2" height="1.2" fill="rgb(177,177,177)"/><rect x="110.8" y="50.9" width="1.2" height="1.2" fill="rgb(161,161,161)"/><rect x="98.7" y="44.4" width="1.2" height="1.2" fill="rgb(183,183,183)"/><rect x="110.0" y="58.7" width="1.2" height="1.2" fill="rgb(168,168,168)"/><rect x="99.1" y="52.8" width="1.2" height="1.2" fill="rgb(161,161,161)"/><rect x="101.5" y="50.8" width="1.2" height="1.2" fill="rgb(153,153,153)"/><rect x="113.1" y="54.3" width="1.2" height="1.2" fill="rgb(164,164,164)"/><rect x="93.3" y="20.3" width="1.2" height="1.2" fill="rgb(196,196,196)"/><rect x="90.1" y="57.5" width="1.2" height="1.2" fill="rgb(167,167,167)"/><rect x="109.8" y="45.9" width="1.2" height="1.2" fill="rgb(154,154,154)"/><rect x="95.2" y="41.5" width="1.2" height="1.2" fill="rgb(190,190,190)"/><rect x="105.0" y="22.2" width="1.2" height="1.2" fill="rgb(199,199,199)"/><rect x="94.8" y="51.9" width="1.2" height="1.2" fill="rgb(174,174,174)"/><rect x="137.5" y="42.7" width="1.2" height="1.2" fill="rgb(224,224,224)"/><rect x="126.4" y="27.1" width="1.2" height="1.2" fill="rgb(228,228,228)"/><rect x="127.1" y="36.7" width="1.2" height="1.2" fill="rgb(214,214,214)"/><rect x="97.5" y="45.9" width="1.2" height="1.2" fill="rgb(145,145,145)"/><rect x="92.2" y="20.4" width="1.2" height="1.2" fill="rgb(192,192,192)"/><rect x="106.6" y="42.8" width="1.2" height="1.2" fill="rgb(157,157,157)"/><rect x="100.4" y="18.7" width="1.2" height="1.2" fill="rgb(186,186,186)"/><rect x="110.6" y="42.7" width="1.2" height="1.2" fill="rgb(156,156,156)"/><rect x="97.2" y="51.1" width="1.2" height="1.2" fill="rgb(148,148,148)"/><rect x="104.1" y="56.2" width="1.2" height="1.2" fill="rgb(162,162,162)"/><rect x="97.1" y="57.0" width="1.2" height="1.2" fill="rgb(168,168,168)"/><rect x="103.7" y="52.3" width="1.2" height="1.2" fill="rgb(169,169,169)"/><rect x="101.9" y="37.5" width="1.2" height="1.2" fill="rgb(184,184,184)"/><rect x="137.7" y="25.0" width="1.2" height="1.2" fill="rgb(228,228,228)"/><rect x="104.4" y="61.0" width="1.2" height="1.2" fill="rgb(132,132,132)"/><rect x="90.4" y="64.3" width="1.2" height="1.2" fill="rgb(116,116,116)"/><rect x="98.4" y="19.4" width="1.2" height="1.2" fill="rgb(210,210,210)"/><rect x="96.4" y="38.0" width="1.2" height="1.2" fill="rgb(182,182,182)"/><rect x="92.6" y="65.1" width="1.2" height="1.2" fill="rgb(136,136,136)"/><rect x="114.6" y="42.6" width="1.2" height="1.2" fill="rgb(194,194,194)"/><rect x="109.0" y="27.2" width="1.2" height="1.2" fill="rgb(191,191,191)"/><rect x="114.4" y="35.9" width="1.2" height="1.2" fill="rgb(181,181,181)"/><rect x="131.5" y="19.4" width="1.2" height="1.2" fill="rgb(228,228,228)"/><rect x="93.9" y="56.2" width="1.2" height="1.2" fill="rgb(161,161,161)"/><rect x="108.6" y="41.7" width="1.2" height="1.2" fill="rgb(183,183,183)"/><rect x="119.8" y="57.3" width="1.2" height="1.2" fill="rgb(190,190,190)"/><rect x="98.1" y="53.5" width="1.2" height="1.2" fill="rgb(142,142,142)"/><rect x="99.0" y="65.1" width="1.2" height="1.2" fill="rgb(156,156,156)"/><rect x="98.7" y="44.2" width="1.2" height="1.2" fill="rgb(163,163,163)"/><rect x="125.3" y="31.1" width="1.2" height="1.2" fill="rgb(228,228,228)"/><rect x="96.6" y="55.9" width="1.2" height="1.2" fill="rgb(136,136,136)"/><rect x="92.8" y="60.9" width="1.2" height="1.2" fill="rgb(124,124,124)"/><rect x="134.6" y="28.3" width="1.2" height="1.2" fill="rgb(220,220,220)"/><rect x="98.0" y="66.2" width="1.2" height="1.2" fill="rgb(158,158,158)"/><rect x="88.6" y="54.4" width="1.2" height="1.2" fill="rgb(133,133,133)"/><rect x="116.5" y="44.9" width="1.2" height="1.2" fill="rgb(185,185,185)"/><rect x="107.9" y="41.5" width="1.2" height="1.2" fill="rgb(156,156,156)"/><rect x="120.2" y="46.9" width="1.2" height="1.2" fill="rgb(209,209,209)"/><rect x="96.4" y="63.4" width="1.2" height="1.2" fill="rgb(155,155,155)"/><rect x="94.4" y="17.0" width="1.2" height="1.2" fill="rgb(226,226,226)"/><rect x="94.1" y="61.9" width="1.2" height="1.2" fill="rgb(128,128,128)"/><rect x="95.6" y="46.3" width="1.2" height="1.2" fill="rgb(141,141,141)"/><rect x="135.9" y="23.3" width="1.2" height="1.2" fill="rgb(226,226,226)"/><rect x="113.7" y="58.8" width="1.2" height="1.2" fill="rgb(171,171,171)"/><rect x="102.9" y="55.6" width="1.2" height="1.2" fill="rgb(165,165,165)"/><rect x="114.0" y="45.3" width="1.2" height="1.2" fill="rgb(188,188,188)"/><rect x="107.6" y="42.2" width="1.2" height="1.2" fill="rgb(199,199,199)"/><rect x="96.1" y="54.2" width="1.2" height="1.2" fill="rgb(159,159,159)"/><rect x="103.7" y="51.4" width="1.2" height="1.2" fill="rgb(162,162,162)"/><rect x="94.0" y="36.6" width="1.2" height="1.2" fill="rgb(190,190,190)"/><rect x="93.2" y="60.7" width="1.2" height="1.2" fill="rgb(155,155,155)"/><rect x="103.7" y="57.0" width="1.2" height="1.2" fill="rgb(153,153,153)"/><rect x="102.1" y="17.4" width="1.2" height="1.2" fill="rgb(208,208,208)"/><rect x="148.3" y="27.8" width="1.2" height="1.2" fill="rgb(228,228,228)"/><rect x="99.7" y="58.0" width="1.2" height="1.2" fill="rgb(177,177,177)"/><rect x="112.7" y="32.6" width="1.2" height="1.2" fill="rgb(209,209,209)"/><rect x="125.6" y="28.4" width="1.2" height="1.2" fill="rgb(224,224,224)"/><rect x="94.4" y="62.9" width="1.2" height="1.2" fill="rgb(166,166,166)"/><rect x="97.0" y="57.0" width="1.2" height="1.2" fill="rgb(129,129,129)"/><rect x="102.3" y="55.2" width="1.2" height="1.2" fill="rgb(141,141,141)"/><rect x="99.5" y="63.6" width="1.2" height="1.2" fill="rgb(127,127,127)"/><rect x="101.7" y="61.7" width="1.2" height="1.2" fill="rgb(136,136,136)"/><rect x="104.0" y="47.5" width="1.2" height="1.2" fill="rgb(170,170,170)"/><rect x="128.2" y="42.2" width="1.2" height="1.2" fill="rgb(220,220,220)"/><rect x="92.2" y="64.8" width="1.2" height="1.2" fill="rgb(155,155,155)"/><rect x="88.7" y="39.9" width="1.2" height="1.2" fill="rgb(174,174,174)"/><rect x="98.1" y="29.6" width="1.2" height="1.2" fill="rgb(206,206,206)"/><rect x="95.3" y="61.0" width="1.2" height="1.2" fill="rgb(147,147,147)"/><rect x="107.8" y="30.6" width="1.2" height="1.2" fill="rgb(169,169,169)"/><rect x="95.8" y="58.3" width="1.2" height="1.2" fill="rgb(165,165,165)"/><rect x="116.8" y="33.7" width="1.2" height="1.2" fill="rgb(178,178,178)"/><rect x="99.5" y="45.4" width="1.2" height="1.2" fill="rgb(165,165,165)"/><rect x="158.0" y="41.5" width="1.2" height="1.2" fill="rgb(228,228,228)"/><rect x="97.2" y="52.9" width="1.2" height="1.2" fill="rgb(168,168,168)"/><rect x="141.0" y="26.8" width="1.2" height="1.2" fill="rgb(210,210,210)"/><rect x="99.2" y="42.0" width="1.2" height="1.2" fill="rgb(186,186,186)"/><rect x="123.0" y="35.5" width="1.2" height="1.2" fill="rgb(225,225,225)"/><rect x="93.8" y="61.9" width="1.2" height="1.2" fill="rgb(121,121,121)"/><rect x="123.7" y="41.5" width="1.2" height="1.2" fill="rgb(201,201,201)"/><rect x="91.1" y="60.0" width="1.2" height="1.2" fill="rgb(139,139,139)"/><rect x="96.6" y="28.9" width="1.2" height="1.2" fill="rgb(212,212,212)"/><rect x="130.5" y="28.1" width="1.2" height="1.2" fill="rgb(193,193,193)"/><rect x="102.7" y="52.5" width="1.2" height="1.2" fill="rgb(184,184,184)"/><rect x="91.1" y="43.0" width="1.2" height="1.2" fill="rgb(157,157,157)"/><rect x="105.8" y="33.8" width="1.2" height="1.2" fill="rgb(179,179,179)"/><rect x="109.8" y="49.8" width="1.2" height="1.2" fill="rgb(196,196,196)"/><rect x="105.3" y="39.4" width="1.2" height="1.2" fill="rgb(176,176,176)"/><rect x="94.7" y="63.7" width="1.2" height="1.2" fill="rgb(161,161,161)"/><rect x="104.0" y="54.3" width="1.2" height="1.2" fill="rgb(175,175,175)"/><rect x="92.3" y="62.2" width="1.2" height="1.2" fill="rgb(157,157,157)"/><rect x="108.6" y="17.1" width="1.2" height="1.2" fill="rgb(206,206,206)"/><rect x="81.9" y="42.3" width="1.2" height="1.2" fill="rgb(155,155,155)"/><rect x="90.6" y="54.3" width="1.2" height="1.2" fill="rgb(154,154,154)"/><rect x="103.7" y="56.1" width="1.2" height="1.2" fill="rgb(180,180,180)"/><rect x="109.3" y="39.4" width="1.2" height="1.2" fill="rgb(204,204,204)"/><rect x="94.0" y="64.6" width="1.2" height="1.2" fill="rgb(150,150,150)"/><rect x="93.1" y="65.2" width="1.2" height="1.2" fill="rgb(135,135,135)"/><rect x="106.7" y="39.8" width="1.2" height="1.2" fill="rgb(169,169,169)"/><rect x="101.7" y="61.5" width="1.2" height="1.2" fill="rgb(137,137,137)"/><rect x="94.3" y="34.1" width="1.2" height="1.2" fill="rgb(188,188,188)"/><rect x="104.5" y="36.7" width="1.2" height="1.2" fill="rgb(162,162,162)"/><rect x="93.1" y="63.7" width="1.2" height="1.2" fill="rgb(133,133,133)"/><rect x="100.6" y="53.7" width="1.2" height="1.2" fill="rgb(158,158,158)"/><rect x="102.5" y="60.9" width="1.2" height="1.2" fill="rgb(142,142,142)"/><rect x="104.4" y="44.8" width="1.2" height="1.2" fill="rgb(153,153,153)"/><rect x="106.8" y="30.3" width="1.2" height="1.2" fill="rgb(203,203,203)"/><rect x="90.6" y="43.5" width="1.2" height="1.2" fill="rgb(148,148,148)"/><rect x="102.9" y="55.9" width="1.2" height="1.2" fill="rgb(175,175,175)"/><rect x="105.8" y="61.1" width="1.2" height="1.2" fill="rgb(143,143,143)"/><rect x="136.0" y="30.1" width="1.2" height="1.2" fill="rgb(228,228,228)"/><rect x="94.1" y="61.1" width="1.2" height="1.2" fill="rgb(128,128,128)"/><rect x="100.2" y="56.0" width="1.2" height="1.2" fill="rgb(163,163,163)"/><rect x="93.8" y="35.1" width="1.2" height="1.2" fill="rgb(165,165,165)"/><rect x="99.8" y="54.5" width="1.2" height="1.2" fill="rgb(181,181,181)"/><rect x="97.3" y="27.1" width="1.2" height="1.2" fill="rgb(197,197,197)"/><rect x="98.9" y="53.6" width="1.2" height="1.2" fill="rgb(133,133,133)"/><rect x="101.6" y="52.4" width="1.2" height="1.2" fill="rgb(184,184,184)"/><rect x="99.5" y="18.0" width="1.2" height="1.2" fill="rgb(190,190,190)"/><rect x="107.8" y="41.3" width="1.2" height="1.2" fill="rgb(173,173,173)"/><rect x="91.9" y="63.1" width="1.2" height="1.2" fill="rgb(127,127,127)"/><rect x="109.3" y="40.1" width="1.2" height="1.2" fill="rgb(177,177,177)"/><rect x="106.2" y="41.7" width="1.2" height="1.2" fill="rgb(163,163,163)"/><rect x="112.9" y="33.8" width="1.2" height="1.2" fill="rgb(187,187,187)"/><rect x="100.9" y="32.1" width="1.2" height="1.2" fill="rgb(207,207,207)"/><rect x="107.8" y="56.6" width="1.2" height="1.2" fill="rgb(180,180,180)"/><rect x="96.3" y="57.6" width="1.2" height="1.2" fill="rgb(147,147,147)"/><rect x="113.1" y="45.6" width="1.2" height="1.2" fill="rgb(190,190,190)"/><rect x="98.6" y="57.4" width="1.2" height="1.2" fill="rgb(151,151,151)"/><rect x="106.9" y="45.4" width="1.2" height="1.2" fill="rgb(171,171,171)"/><rect x="97.5" y="57.8" width="1.2" height="1.2" fill="rgb(144,144,144)"/><rect x="85.0" y="47.8" width="1.2" height="1.2" fill="rgb(165,165,165)"/><rect x="100.2" y="57.2" width="1.2" height="1.2" fill="rgb(166,166,166)"/><rect x="87.2" y="34.4" width="1.2" height="1.2" fill="rgb(205,205,205)"/><rect x="100.4" y="53.9" width="1.2" height="1.2" fill="rgb(180,180,180)"/><rect x="91.9" y="61.2" width="1.2" height="1.2" fill="rgb(126,126,126)"/><rect x="104.7" y="49.9" width="1.2" height="1.2" fill="rgb(146,146,146)"/><rect x="99.0" y="52.3" width="1.2" height="1.2" fill="rgb(157,157,157)"/><rect x="101.5" y="43.4" width="1.2" height="1.2" fill="rgb(181,181,181)"/><rect x="97.4" y="51.6" width="1.2" height="1.2" fill="rgb(183,183,183)"/><rect x="91.6" y="62.9" width="1.2" height="1.2" fill="rgb(115,115,115)"/><rect x="102.5" y="28.0" width="1.2" height="1.2" fill="rgb(171,171,171)"/><rect x="89.7" y="53.2" width="1.2" height="1.2" fill="rgb(156,156,156)"/><rect x="116.4" y="26.4" width="1.2" height="1.2" fill="rgb(211,211,211)"/><rect x="98.5" y="49.1" width="1.2" height="1.2" fill="rgb(178,178,178)"/><rect x="111.4" y="55.5" width="1.2" height="1.2" fill="rgb(186,186,186)"/><rect x="121.1" y="21.5" width="1.2" height="1.2" fill="rgb(228,228,228)"/><rect x="101.1" y="56.0" width="1.2" height="1.2" fill="rgb(133,133,133)"/><rect x="93.7" y="58.0" width="1.2" height="1.2" fill="rgb(132,132,132)"/><rect x="117.7" y="20.0" width="1.2" height="1.2" fill="rgb(228,228,228)"/><rect x="94.7" y="30.9" width="1.2" height="1.2" fill="rgb(163,163,163)"/><rect x="98.4" y="59.6" width="1.2" height="1.2" fill="rgb(148,148,148)"/><rect x="86.8" y="58.6" width="1.2" height="1.2" fill="rgb(146,146,146)"/><rect x="95.0" y="65.5" width="1.2" height="1.2" fill="rgb(126,126,126)"/><rect x="105.4" y="47.4" width="1.2" height="1.2" fill="rgb(195,195,195)"/><rect x="92.9" y="58.2" width="1.2" height="1.2" fill="rgb(170,170,170)"/><rect x="104.7" y="31.6" width="1.2" height="1.2" fill="rgb(183,183,183)"/><rect x="94.8" y="59.2" width="1.2" height="1.2" fill="rgb(140,140,140)"/><rect x="139.6" y="23.7" width="1.2" height="1.2" fill="rgb(206,206,206)"/><rect x="97.1" y="47.4" width="1.2" height="1.2" fill="rgb(162,162,162)"/><rect x="91.2" y="41.5" width="1.2" height="1.2" fill="rgb(153,153,153)"/><rect x="101.7" y="48.5" width="1.2" height="1.2" fill="rgb(189,189,189)"/><rect x="102.0" y="52.0" width="1.2" height="1.2" fill="rgb(163,163,163)"/><rect x="87.3" y="24.6" width="1.2" height="1.2" fill="rgb(175,175,175)"/><rect x="103.9" y="45.3" width="1.2" height="1.2" fill="rgb(176,176,176)"/><rect x="92.8" y="53.7" width="1.2" height="1.2" fill="rgb(173,173,173)"/><rect x="119.3" y="57.2" width="1.2" height="1.2" fill="rgb(158,158,158)"/><rect x="94.8" y="64.0" width="1.2" height="1.2" fill="rgb(130,130,130)"/><rect x="108.3" y="60.9" width="1.2" height="1.2" fill="rgb(157,157,157)"/><rect x="88.0" y="51.2" width="1.2" height="1.2" fill="rgb(172,172,172)"/><rect x="102.6" y="28.0" width="1.2" height="1.2" fill="rgb(175,175,175)"/><rect x="121.7" y="15.8" width="1.2" height="1.2" fill="rgb(228,228,228)"/><rect x="99.6" y="53.5" width="1.2" height="1.2" fill="rgb(178,178,178)"/><rect x="94.4" y="55.4" width="1.2" height="1.2" fill="rgb(161,161,161)"/><rect x="105.8" y="40.4" width="1.2" height="1.2" fill="rgb(173,173,173)"/><rect x="90.1" y="56.4" width="1.2" height="1.2" fill="rgb(128,128,128)"/><rect x="118.1" y="16.8" width="1.2" height="1.2" fill="rgb(218,218,218)"/><rect x="90.1" y="56.1" width="1.2" height="1.2" fill="rgb(160,160,160)"/><rect x="98.9" y="47.2" width="1.2" height="1.2" fill="rgb(189,189,189)"/><rect x="107.0" y="42.2" width="1.2" height="1.2" fill="rgb(175,175,175)"/><rect x="96.8" y="61.1" width="1.2" height="1.2" fill="rgb(142,142,142)"/><rect x="112.1" y="60.0" width="1.2" height="1.2" fill="rgb(153,153,153)"/><rect x="109.2" y="32.8" width="1.2" height="1.2" fill="rgb(200,200,200)"/><rect x="102.2" y="48.2" width="1.2" height="1.2" fill="rgb(153,153,153)"/><rect x="108.3" y="40.3" width="1.2" height="1.2" fill="rgb(158,158,158)"/><rect x="112.7" y="43.6" width="1.2" height="1.2" fill="rgb(178,178,178)"/><rect x="111.8" y="51.3" width="1.2" height="1.2" fill="rgb(195,195,195)"/><rect x="95.0" y="48.7" width="1.2" height="1.2" fill="rgb(172,172,172)"/><rect x="94.0" y="56.6" width="1.2" height="1.2" fill="rgb(149,149,149)"/><rect x="98.3" y="63.6" width="1.2" height="1.2" fill="rgb(128,128,128)"/><rect x="125.9" y="30.6" width="1.2" height="1.2" fill="rgb(216,216,216)"/><rect x="109.1" y="37.3" width="1.2" height="1.2" fill="rgb(174,174,174)"/><rect x="123.8" y="29.3" width="1.2" height="1.2" fill="rgb(226,226,226)"/><rect x="119.9" y="41.0" width="1.2" height="1.2" fill="rgb(177,177,177)"/><rect x="96.2" y="64.1" width="1.2" height="1.2" fill="rgb(154,154,154)"/><rect x="98.7" y="52.7" width="1.2" height="1.2" fill="rgb(133,133,133)"/><rect x="129.3" y="26.4" width="1.2" height="1.2" fill="rgb(193,193,193)"/><rect x="107.9" y="39.5" width="1.2" height="1.2" fill="rgb(193,193,193)"/><rect x="92.0" y="65.5" width="1.2" height="1.2" fill="rgb(117,117,117)"/><rect x="133.8" y="56.4" width="1.2" height="1.2" fill="rgb(181,181,181)"/><rect x="104.2" y="26.1" width="1.2" height="1.2" fill="rgb(189,189,189)"/><rect x="95.0" y="43.3" width="1.2" height="1.2" fill="rgb(157,157,157)"/><rect x="95.2" y="61.7" width="1.2" height="1.2" fill="rgb(127,127,127)"/><rect x="116.2" y="47.8" width="1.2" height="1.2" fill="rgb(191,191,191)"/><rect x="103.1" y="28.6" width="1.2" height="1.2" fill="rgb(178,178,178)"/><rect x="109.7" y="52.9" width="1.2" height="1.2" fill="rgb(146,146,146)"/><rect x="128.5" y="31.3" width="1.2" height="1.2" fill="rgb(206,206,206)"/><rect x="104.2" y="40.7" width="1.2" height="1.2" fill="rgb(193,193,193)"/><rect x="100.6" y="51.8" width="1.2" height="1.2" fill="rgb(165,165,165)"/><rect x="129.7" y="21.6" width="1.2" height="1.2" fill="rgb(228,228,228)"/><rect x="107.0" y="42.6" width="1.2" height="1.2" fill="rgb(157,157,157)"/><rect x="104.3" y="23.6" width="1.2" height="1.2" fill="rgb(184,184,184)"/><rect x="122.6" y="27.5" width="1.2" height="1.2" fill="rgb(190,190,190)"/><rect x="98.8" y="45.0" width="1.2" height="1.2" fill="rgb(157,157,157)"/><rect x="94.2" y="43.0" width="1.2" height="1.2" fill="rgb(181,181,181)"/><rect x="103.4" y="60.8" width="1.2" height="1.2" fill="rgb(140,140,140)"/><rect x="106.2" y="47.1" width="1.2" height="1.2" fill="rgb(185,185,185)"/><rect x="130.7" y="25.6" width="1.2" height="1.2" fill="rgb(228,228,228)"/><rect x="110.3" y="38.7" width="1.2" height="1.2" fill="rgb(176,176,176)"/><rect x="97.8" y="54.2" width="1.2" height="1.2" fill="rgb(161,161,161)"/><rect x="95.5" y="60.6" width="1.2" height="1.2" fill="rgb(146,146,146)"/><rect x="153.8" y="23.0" width="1.2" height="1.2" fill="rgb(228,228,228)"/><rect x="92.7" y="59.6" width="1.2" height="1.2" fill="rgb(126,126,126)"/><rect x="90.3" y="63.4" width="1.2" height="1.2" fill="rgb(132,132,132)"/><rect x="111.7" y="22.4" width="1.2" height="1.2" fill="rgb(221,221,221)"/><rect x="97.2" y="58.4" width="1.2" height="1.2" fill="rgb(144,144,144)"/><rect x="91.4" y="62.5" width="1.2" height="1.2" fill="rgb(149,149,149)"/><rect x="110.2" y="37.1" width="1.2" height="1.2" fill="rgb(186,186,186)"/><rect x="84.1" y="35.8" width="1.2" height="1.2" fill="rgb(202,202,202)"/><rect x="96.2" y="54.0" width="1.2" height="1.2" fill="rgb(152,152,152)"/><rect x="99.4" y="42.7" width="1.2" height="1.2" fill="rgb(149,149,149)"/><rect x="102.8" y="64.3" width="1.2" height="1.2" fill="rgb(132,132,132)"/><rect x="90.9" y="53.6" width="1.2" height="1.2" fill="rgb(143,143,143)"/><rect x="116.2" y="52.2" width="1.2" height="1.2" fill="rgb(191,191,191)"/><rect x="93.5" y="59.7" width="1.2" height="1.2" fill="rgb(140,140,140)"/><rect x="146.5" y="46.9" width="1.2" height="1.2" fill="rgb(199,199,199)"/><rect x="97.2" y="58.4" width="1.2" height="1.2" fill="rgb(133,133,133)"/><rect x="88.3" y="50.4" width="1.2" height="1.2" fill="rgb(142,142,142)"/><rect x="134.2" y="23.2" width="1.2" height="1.2" fill="rgb(222,222,222)"/><rect x="98.5" y="50.0" width="1.2" height="1.2" fill="rgb(149,149,149)"/><rect x="94.1" y="63.5" width="1.2" height="1.2" fill="rgb(129,129,129)"/><rect x="84.2" y="49.0" width="1.2" height="1.2" fill="rgb(166,166,166)"/><rect x="109.6" y="26.5" width="1.2" height="1.2" fill="rgb(211,211,211)"/><rect x="101.5" y="47.6" width="1.2" height="1.2" fill="rgb(152,152,152)"/><rect x="94.9" y="62.4" width="1.2" height="1.2" fill="rgb(159,159,159)"/><rect x="100.9" y="42.1" width="1.2" height="1.2" fill="rgb(162,162,162)"/><rect x="78.2" y="44.3" width="1.2" height="1.2" fill="rgb(153,153,153)"/><rect x="109.8" y="44.9" width="1.2" height="1.2" fill="rgb(161,161,161)"/><rect x="109.3" y="34.1" width="1.2" height="1.2" fill="rgb(175,175,175)"/><rect x="90.0" y="29.0" width="1.2" height="1.2" fill="rgb(208,208,208)"/><rect x="92.5" y="63.5" width="1.2" height="1.2" fill="rgb(153,153,153)"/><rect x="109.3" y="32.4" width="1.2" height="1.2" fill="rgb(186,186,186)"/><rect x="101.1" y="36.3" width="1.2" height="1.2" fill="rgb(163,163,163)"/><rect x="96.1" y="65.4" width="1.2" height="1.2" fill="rgb(154,154,154)"/><rect x="108.0" y="43.1" width="1.2" height="1.2" fill="rgb(186,186,186)"/><rect x="92.5" y="57.0" width="1.2" height="1.2" fill="rgb(165,165,165)"/><rect x="100.9" y="54.2" width="1.2" height="1.2" fill="rgb(180,180,180)"/><rect x="114.7" y="57.4" width="1.2" height="1.2" fill="rgb(174,174,174)"/><rect x="92.8" y="55.8" width="1.2" height="1.2" fill="rgb(165,165,165)"/><rect x="100.8" y="42.1" width="1.2" height="1.2" fill="rgb(154,154,154)"/><rect x="95.1" y="58.7" width="1.2" height="1.2" fill="rgb(163,163,163)"/><rect x="99.3" y="53.0" width="1.2" height="1.2" fill="rgb(137,137,137)"/><rect x="104.4" y="42.8" width="1.2" height="1.2" fill="rgb(173,173,173)"/><rect x="92.2" y="23.8" width="1.2" height="1.2" fill="rgb(221,221,221)"/><rect x="109.4" y="16.4" width="1.2" height="1.2" fill="rgb(228,228,228)"/><rect x="86.7" y="49.8" width="1.2" height="1.2" fill="rgb(171,171,171)"/><rect x="117.2" y="45.1" width="1.2" height="1.2" fill="rgb(201,201,201)"/><rect x="90.9" y="60.2" width="1.2" height="1.2" fill="rgb(139,139,139)"/><rect x="123.1" y="40.5" width="1.2" height="1.2" fill="rgb(181,181,181)"/><rect x="100.1" y="38.3" width="1.2" height="1.2" fill="rgb(202,202,202)"/><rect x="100.0" y="48.5" width="1.2" height="1.2" fill="rgb(185,185,185)"/><rect x="102.0" y="60.1" width="1.2" height="1.2" fill="rgb(150,150,150)"/><rect x="109.4" y="28.6" width="1.2" height="1.2" fill="rgb(177,177,177)"/><rect x="88.6" y="54.4" width="1.2" height="1.2" fill="rgb(166,166,166)"/><rect x="99.3" y="45.1" width="1.2" height="1.2" fill="rgb(181,181,181)"/><rect x="106.6" y="44.0" width="1.2" height="1.2" fill="rgb(195,195,195)"/><rect x="94.0" y="65.5" width="1.2" height="1.2" fill="rgb(133,133,133)"/><rect x="105.3" y="35.0" width="1.2" height="1.2" fill="rgb(198,198,198)"/><rect x="121.0" y="30.1" width="1.2" height="1.2" fill="rgb(205,205,205)"/><rect x="99.3" y="48.2" width="1.2" height="1.2" fill="rgb(187,187,187)"/><rect x="92.6" y="67.0" width="1.2" height="1.2" fill="rgb(150,150,150)"/><rect x="100.2" y="56.9" width="1.2" height="1.2" fill="rgb(130,130,130)"/><rect x="88.6" y="64.2" width="1.2" height="1.2" fill="rgb(157,157,157)"/><rect x="102.8" y="58.4" width="1.2" height="1.2" fill="rgb(177,177,177)"/><rect x="93.7" y="58.0" width="1.2" height="1.2" fill="rgb(154,154,154)"/><rect x="115.2" y="34.2" width="1.2" height="1.2" fill="rgb(200,200,200)"/><rect x="107.0" y="37.9" width="1.2" height="1.2" fill="rgb(180,180,180)"/><rect x="90.7" y="61.8" width="1.2" height="1.2" fill="rgb(121,121,121)"/><rect x="93.2" y="65.7" width="1.2" height="1.2" fill="rgb(148,148,148)"/><rect x="106.0" y="40.4" width="1.2" height="1.2" fill="rgb(167,167,167)"/><rect x="91.5" y="63.2" width="1.2" height="1.2" fill="rgb(145,145,145)"/><rect x="101.7" y="54.7" width="1.2" height="1.2" fill="rgb(163,163,163)"/><rect x="105.0" y="38.1" width="1.2" height="1.2" fill="rgb(199,199,199)"/><rect x="95.2" y="61.3" width="1.2" height="1.2" fill="rgb(167,167,167)"/><rect x="93.3" y="60.2" width="1.2" height="1.2" fill="rgb(123,123,123)"/><rect x="127.2" y="20.8" width="1.2" height="1.2" fill="rgb(204,204,204)"/><rect x="91.0" y="51.3" width="1.2" height="1.2" fill="rgb(182,182,182)"/><rect x="104.0" y="47.3" width="1.2" height="1.2" fill="rgb(165,165,165)"/><rect x="98.1" y="43.8" width="1.2" height="1.2" fill="rgb(153,153,153)"/><rect x="100.1" y="51.9" width="1.2" height="1.2" fill="rgb(145,145,145)"/><rect x="106.7" y="25.3" width="1.2" height="1.2" fill="rgb(185,185,185)"/><rect x="91.2" y="60.1" width="1.2" height="1.2" fill="rgb(167,167,167)"/><rect x="86.6" y="57.4" width="1.2" height="1.2" fill="rgb(147,147,147)"/><rect x="122.9" y="26.1" width="1.2" height="1.2" fill="rgb(194,194,194)"/><rect x="99.1" y="54.7" width="1.2" height="1.2" fill="rgb(166,166,166)"/><rect x="98.6" y="61.1" width="1.2" height="1.2" fill="rgb(141,141,141)"/><rect x="94.8" y="49.2" width="1.2" height="1.2" fill="rgb(170,170,170)"/><rect x="96.3" y="52.3" width="1.2" height="1.2" fill="rgb(175,175,175)"/><rect x="92.2" y="64.1" width="1.2" height="1.2" fill="rgb(156,156,156)"/><rect x="108.5" y="33.0" width="1.2" height="1.2" fill="rgb(198,198,198)"/><rect x="106.3" y="53.1" width="1.2" height="1.2" fill="rgb(161,161,161)"/><rect x="110.1" y="21.1" width="1.2" height="1.2" fill="rgb(216,216,216)"/><rect x="93.9" y="33.4" width="1.2" height="1.2" fill="rgb(176,176,176)"/><rect x="105.9" y="56.2" width="1.2" height="1.2" fill="rgb(156,156,156)"/><rect x="101.6" y="51.0" width="1.2" height="1.2" fill="rgb(182,182,182)"/><rect x="96.1" y="58.4" width="1.2" height="1.2" fill="rgb(140,140,140)"/><rect x="91.0" y="59.5" width="1.2" height="1.2" fill="rgb(138,138,138)"/><rect x="107.7" y="49.9" width="1.2" height="1.2" fill="rgb(171,171,171)"/><rect x="112.2" y="52.3" width="1.2" height="1.2" fill="rgb(171,171,171)"/><rect x="103.3" y="33.6" width="1.2" height="1.2" fill="rgb(193,193,193)"/><rect x="108.1" y="40.7" width="1.2" height="1.2" fill="rgb(174,174,174)"/><rect x="97.8" y="42.0" width="1.2" height="1.2" fill="rgb(193,193,193)"/><rect x="92.6" y="58.1" width="1.2" height="1.2" fill="rgb(139,139,139)"/><rect x="103.8" y="48.6" width="1.2" height="1.2" fill="rgb(177,177,177)"/><rect x="94.4" y="63.7" width="1.2" height="1.2" fill="rgb(119,119,119)"/><rect x="103.3" y="48.4" width="1.2" height="1.2" fill="rgb(154,154,154)"/><rect x="99.7" y="58.4" width="1.2" height="1.2" fill="rgb(164,164,164)"/><rect x="84.6" y="37.4" width="1.2" height="1.2" fill="rgb(158,158,158)"/><rect x="106.5" y="53.5" width="1.2" height="1.2" fill="rgb(149,149,149)"/><rect x="131.9" y="45.3" width="1.2" height="1.2" fill="rgb(216,216,216)"/><rect x="96.3" y="60.7" width="1.2" height="1.2" fill="rgb(122,122,122)"/><rect x="112.6" y="15.7" width="1.2" height="1.2" fill="rgb(198,198,198)"/><rect x="104.4" y="48.8" width="1.2" height="1.2" fill="rgb(173,173,173)"/><rect x="96.7" y="63.1" width="1.2" height="1.2" fill="rgb(138,138,138)"/><rect x="105.8" y="40.7" width="1.2" height="1.2" fill="rgb(203,203,203)"/><rect x="94.5" y="66.2" width="1.2" height="1.2" fill="rgb(122,122,122)"/><rect x="103.4" y="48.9" width="1.2" height="1.2" fill="rgb(159,159,159)"/><rect x="98.2" y="53.8" width="1.2" height="1.2" fill="rgb(158,158,158)"/><rect x="95.7" y="57.5" width="1.2" height="1.2" fill="rgb(147,147,147)"/><rect x="121.5" y="25.2" width="1.2" height="1.2" fill="rgb(209,209,209)"/><rect x="119.7" y="42.1" width="1.2" height="1.2" fill="rgb(183,183,183)"/><rect x="112.5" y="50.0" width="1.2" height="1.2" fill="rgb(157,157,157)"/><rect x="113.5" y="38.6" width="1.2" height="1.2" fill="rgb(198,198,198)"/><rect x="94.8" y="66.6" width="1.2" height="1.2" fill="rgb(153,153,153)"/><rect x="91.5" y="65.5" width="1.2" height="1.2" fill="rgb(151,151,151)"/><rect x="93.6" y="35.1" width="1.2" height="1.2" fill="rgb(185,185,185)"/><rect x="110.0" y="29.8" width="1.2" height="1.2" fill="rgb(219,219,219)"/><rect x="117.0" y="59.2" width="1.2" height="1.2" fill="rgb(179,179,179)"/><rect x="104.8" y="33.0" width="1.2" height="1.2" fill="rgb(177,177,177)"/><rect x="126.2" y="44.8" width="1.2" height="1.2" fill="rgb(210,210,210)"/><rect x="96.5" y="51.7" width="1.2" height="1.2" fill="rgb(176,176,176)"/><rect x="91.1" y="63.4" width="1.2" height="1.2" fill="rgb(160,160,160)"/><rect x="135.1" y="49.1" width="1.2" height="1.2" fill="rgb(217,217,217)"/><rect x="132.9" y="30.3" width="1.2" height="1.2" fill="rgb(221,221,221)"/><rect x="114.9" y="48.0" width="1.2" height="1.2" fill="rgb(176,176,176)"/><rect x="96.0" y="60.7" width="1.2" height="1.2" fill="rgb(160,160,160)"/><rect x="104.9" y="51.9" width="1.2" height="1.2" fill="rgb(145,145,145)"/><rect x="113.6" y="43.8" width="1.2" height="1.2" fill="rgb(194,194,194)"/><rect x="112.0" y="48.4" width="1.2" height="1.2" fill="rgb(187,187,187)"/><rect x="125.0" y="20.0" width="1.2" height="1.2" fill="rgb(210,210,210)"/><rect x="92.8" y="66.4" width="1.2" height="1.2" fill="rgb(140,140,140)"/><rect x="133.2" y="18.8" width="1.2" height="1.2" fill="rgb(228,228,228)"/><rect x="112.5" y="43.6" width="1.2" height="1.2" fill="rgb(204,204,204)"/><rect x="92.1" y="62.5" width="1.2" height="1.2" fill="rgb(153,153,153)"/><rect x="127.0" y="33.9" width="1.2" height="1.2" fill="rgb(185,185,185)"/><rect x="95.5" y="64.7" width="1.2" height="1.2" fill="rgb(153,153,153)"/><rect x="123.1" y="38.4" width="1.2" height="1.2" fill="rgb(192,192,192)"/><rect x="91.8" y="63.5" width="1.2" height="1.2" fill="rgb(157,157,157)"/><rect x="95.3" y="60.6" width="1.2" height="1.2" fill="rgb(144,144,144)"/><rect x="89.9" y="53.1" width="1.2" height="1.2" fill="rgb(165,165,165)"/><rect x="136.1" y="32.4" width="1.2" height="1.2" fill="rgb(200,200,200)"/><rect x="118.7" y="32.3" width="1.2" height="1.2" fill="rgb(192,192,192)"/><rect x="154.3" y="17.6" width="1.2" height="1.2" fill="rgb(228,228,228)"/><rect x="107.7" y="41.2" width="1.2" height="1.2" fill="rgb(201,201,201)"/><rect x="103.7" y="61.3" width="1.2" height="1.2" fill="rgb(161,161,161)"/><rect x="87.8" y="49.3" width="1.2" height="1.2" fill="rgb(157,157,157)"/><rect x="138.4" y="43.9" width="1.2" height="1.2" fill="rgb(228,228,228)"/><rect x="88.4" y="48.4" width="1.2" height="1.2" fill="rgb(184,184,184)"/><rect x="98.9" y="57.8" width="1.2" height="1.2" fill="rgb(161,161,161)"/><rect x="93.3" y="52.2" width="1.2" height="1.2" fill="rgb(139,139,139)"/><rect x="115.6" y="41.6" width="1.2" height="1.2" fill="rgb(186,186,186)"/><rect x="109.2" y="32.3" width="1.2" height="1.2" fill="rgb(195,195,195)"/><rect x="119.5" y="20.8" width="1.2" height="1.2" fill="rgb(198,198,198)"/><rect x="109.3" y="48.1" width="1.2" height="1.2" fill="rgb(196,196,196)"/><rect x="93.6" y="64.4" width="1.2" height="1.2" fill="rgb(143,143,143)"/><rect x="98.3" y="61.2" width="1.2" height="1.2" fill="rgb(150,150,150)"/><rect x="95.5" y="58.1" width="1.2" height="1.2" fill="rgb(134,134,134)"/><rect x="106.9" y="48.9" width="1.2" height="1.2" fill="rgb(176,176,176)"/><rect x="81.9" y="28.5" width="1.2" height="1.2" fill="rgb(201,201,201)"/><rect x="87.4" y="44.1" width="1.2" height="1.2" fill="rgb(176,176,176)"/><rect x="100.8" y="24.9" width="1.2" height="1.2" fill="rgb(188,188,188)"/><rect x="96.1" y="62.3" width="1.2" height="1.2" fill="rgb(168,168,168)"/><rect x="92.7" y="64.1" width="1.2" height="1.2" fill="rgb(141,141,141)"/><rect x="118.6" y="29.1" width="1.2" height="1.2" fill="rgb(185,185,185)"/><rect x="127.4" y="29.9" width="1.2" height="1.2" fill="rgb(221,221,221)"/><rect x="147.9" y="59.3" width="1.2" height="1.2" fill="rgb(227,227,227)"/><rect x="92.5" y="63.9" width="1.2" height="1.2" fill="rgb(116,116,116)"/><rect x="78.4" y="19.6" width="1.2" height="1.2" fill="rgb(197,197,197)"/><rect x="92.3" y="63.9" width="1.2" height="1.2" fill="rgb(135,135,135)"/><rect x="115.8" y="46.9" width="1.2" height="1.2" fill="rgb(198,198,198)"/><rect x="93.6" y="64.8" width="1.2" height="1.2" fill="rgb(123,123,123)"/><rect x="100.7" y="52.8" width="1.2" height="1.2" fill="rgb(181,181,181)"/><rect x="97.9" y="53.4" width="1.2" height="1.2" fill="rgb(173,173,173)"/><rect x="93.3" y="64.5" width="1.2" height="1.2" fill="rgb(151,151,151)"/><rect x="102.1" y="46.2" width="1.2" height="1.2" fill="rgb(162,162,162)"/><rect x="94.5" y="65.8" width="1.2" height="1.2" fill="rgb(147,147,147)"/><rect x="131.1" y="28.2" width="1.2" height="1.2" fill="rgb(220,220,220)"/><rect x="102.7" y="51.6" width="1.2" height="1.2" fill="rgb(145,145,145)"/><rect x="91.3" y="27.5" width="1.2" height="1.2" fill="rgb(175,175,175)"/><rect x="90.0" y="64.5" width="1.2" height="1.2" fill="rgb(140,140,140)"/><rect x="95.0" y="39.8" width="1.2" height="1.2" fill="rgb(150,150,150)"/><rect x="92.9" y="59.3" width="1.0" height="1.0" fill="rgb(140,140,140)"/><rect x="90.0" y="55.3" width="1.0" height="1.0" fill="rgb(155,155,155)"/><rect x="88.7" y="58.5" width="1.0" height="1.0" fill="rgb(171,171,171)"/><rect x="86.8" y="50.5" width="1.0" height="1.0" fill="rgb(170,170,170)"/><rect x="91.2" y="50.9" width="1.0" height="1.0" fill="rgb(116,116,116)"/><rect x="83.9" y="56.3" width="1.0" height="1.0" fill="rgb(114,114,114)"/><rect x="88.1" y="52.3" width="1.0" height="1.0" fill="rgb(118,118,118)"/><rect x="85.5" y="66.9" width="1.0" height="1.0" fill="rgb(121,121,121)"/><rect x="87.9" y="57.5" width="1.0" height="1.0" fill="rgb(149,149,149)"/><rect x="94.6" y="62.8" width="1.0" height="1.0" fill="rgb(167,167,167)"/><rect x="88.4" y="59.4" width="1.0" height="1.0" fill="rgb(149,149,149)"/><rect x="78.5" y="59.1" width="1.0" height="1.0" fill="rgb(123,123,123)"/><rect x="90.4" y="48.3" width="1.0" height="1.0" fill="rgb(131,131,131)"/><rect x="86.5" y="50.1" width="1.0" height="1.0" fill="rgb(130,130,130)"/><rect x="96.0" y="45.8" width="1.0" height="1.0" fill="rgb(146,146,146)"/><rect x="85.7" y="54.0" width="1.0" height="1.0" fill="rgb(123,123,123)"/><rect x="82.9" y="51.9" width="1.0" height="1.0" fill="rgb(134,134,134)"/><rect x="87.0" y="54.4" width="1.0" height="1.0" fill="rgb(136,136,136)"/><rect x="82.5" y="57.7" width="1.0" height="1.0" fill="rgb(121,121,121)"/><rect x="87.5" y="63.1" width="1.0" height="1.0" fill="rgb(138,138,138)"/><rect x="89.3" y="52.6" width="1.0" height="1.0" fill="rgb(162,162,162)"/><rect x="93.4" y="62.6" width="1.0" height="1.0" fill="rgb(156,156,156)"/><rect x="86.4" y="59.5" width="1.0" height="1.0" fill="rgb(152,152,152)"/><rect x="88.2" y="62.4" width="1.0" height="1.0" fill="rgb(165,165,165)"/><rect x="90.8" y="57.2" width="1.0" height="1.0" fill="rgb(117,117,117)"/><rect x="78.5" y="46.1" width="1.0" height="1.0" fill="rgb(190,190,190)"/><rect x="92.2" y="61.4" width="1.0" height="1.0" fill="rgb(172,172,172)"/><rect x="88.5" y="58.5" width="1.0" height="1.0" fill="rgb(173,173,173)"/><rect x="86.0" y="51.4" width="1.0" height="1.0" fill="rgb(118,118,118)"/><rect x="98.3" y="52.8" width="1.0" height="1.0" fill="rgb(170,170,170)"/><rect x="90.1" y="57.6" width="1.0" height="1.0" fill="rgb(165,165,165)"/><rect x="91.8" y="64.2" width="1.0" height="1.0" fill="rgb(133,133,133)"/><rect x="81.8" y="43.7" width="1.0" height="1.0" fill="rgb(115,115,115)"/><rect x="94.9" y="44.6" width="1.0" height="1.0" fill="rgb(119,119,119)"/><rect x="91.2" y="60.2" width="1.0" height="1.0" fill="rgb(116,116,116)"/><rect x="86.4" y="72.1" width="1.0" height="1.0" fill="rgb(144,144,144)"/><rect x="83.1" y="62.7" width="1.0" height="1.0" fill="rgb(156,156,156)"/><rect x="80.6" y="60.4" width="1.0" height="1.0" fill="rgb(130,130,130)"/><rect x="94.4" y="55.9" width="1.0" height="1.0" fill="rgb(110,110,110)"/><rect x="91.2" y="62.8" width="1.0" height="1.0" fill="rgb(165,165,165)"/><rect x="95.7" y="49.6" width="1.0" height="1.0" fill="rgb(129,129,129)"/><rect x="89.0" y="50.6" width="1.0" height="1.0" fill="rgb(124,124,124)"/><rect x="91.3" y="60.8" width="1.0" height="1.0" fill="rgb(138,138,138)"/><rect x="90.8" y="55.9" width="1.0" height="1.0" fill="rgb(155,155,155)"/><rect x="91.8" y="59.4" width="1.0" height="1.0" fill="rgb(185,185,185)"/><rect x="81.5" y="67.6" width="1.0" height="1.0" fill="rgb(181,181,181)"/><rect x="95.4" y="50.0" width="1.0" height="1.0" fill="rgb(182,182,182)"/><rect x="86.2" y="53.2" width="1.0" height="1.0" fill="rgb(136,136,136)"/><rect x="85.4" y="54.9" width="1.0" height="1.0" fill="rgb(157,157,157)"/><rect x="84.0" y="61.2" width="1.0" height="1.0" fill="rgb(138,138,138)"/><rect x="87.0" y="47.4" width="1.0" height="1.0" fill="rgb(126,126,126)"/><rect x="85.1" y="53.9" width="1.0" height="1.0" fill="rgb(186,186,186)"/><rect x="89.2" y="63.7" width="1.0" height="1.0" fill="rgb(145,145,145)"/><rect x="92.0" y="63.3" width="1.0" height="1.0" fill="rgb(167,167,167)"/><rect x="93.0" y="47.9" width="1.0" height="1.0" fill="rgb(141,141,141)"/><rect x="91.1" y="41.7" width="1.0" height="1.0" fill="rgb(179,179,179)"/><rect x="85.8" y="58.6" width="1.0" height="1.0" fill="rgb(161,161,161)"/><rect x="90.5" y="54.2" width="1.0" height="1.0" fill="rgb(142,142,142)"/><rect x="82.2" y="54.5" width="1.0" height="1.0" fill="rgb(137,137,137)"/><rect x="92.5" y="42.0" width="1.0" height="1.0" fill="rgb(149,149,149)"/><rect x="87.5" y="55.7" width="1.0" height="1.0" fill="rgb(156,156,156)"/><rect x="90.6" y="50.9" width="1.0" height="1.0" fill="rgb(139,139,139)"/><rect x="94.3" y="56.2" width="1.0" height="1.0" fill="rgb(142,142,142)"/><rect x="87.5" y="46.4" width="1.0" height="1.0" fill="rgb(144,144,144)"/><rect x="86.3" y="52.5" width="1.0" height="1.0" fill="rgb(162,162,162)"/><rect x="99.2" y="62.3" width="1.0" height="1.0" fill="rgb(177,177,177)"/><rect x="98.8" y="49.0" width="1.0" height="1.0" fill="rgb(149,149,149)"/><rect x="91.9" y="51.3" width="1.0" height="1.0" fill="rgb(153,153,153)"/><rect x="82.2" y="55.3" width="1.0" height="1.0" fill="rgb(133,133,133)"/><rect x="85.2" y="54.7" width="1.0" height="1.0" fill="rgb(144,144,144)"/><rect x="90.9" y="54.6" width="1.0" height="1.0" fill="rgb(126,126,126)"/><rect x="98.6" y="49.6" width="1.0" height="1.0" fill="rgb(166,166,166)"/><rect x="87.7" y="59.1" width="1.0" height="1.0" fill="rgb(129,129,129)"/><rect x="92.4" y="55.6" width="1.0" height="1.0" fill="rgb(130,130,130)"/><rect x="88.0" y="57.1" width="1.0" height="1.0" fill="rgb(141,141,141)"/><rect x="81.9" y="65.6" width="1.0" height="1.0" fill="rgb(116,116,116)"/><rect x="86.4" y="56.6" width="1.0" height="1.0" fill="rgb(157,157,157)"/><rect x="87.5" y="54.7" width="1.0" height="1.0" fill="rgb(144,144,144)"/><rect x="84.7" y="56.8" width="1.0" height="1.0" fill="rgb(186,186,186)"/><rect x="102.6" y="58.0" width="1.0" height="1.0" fill="rgb(160,160,160)"/><rect x="85.0" y="58.7" width="1.0" height="1.0" fill="rgb(111,111,111)"/><rect x="90.3" y="52.2" width="1.0" height="1.0" fill="rgb(151,151,151)"/><rect x="83.6" y="63.3" width="1.0" height="1.0" fill="rgb(189,189,189)"/><rect x="90.3" y="50.9" width="1.0" height="1.0" fill="rgb(184,184,184)"/><rect x="89.3" y="46.5" width="1.0" height="1.0" fill="rgb(147,147,147)"/><rect x="93.1" y="63.3" width="1.0" height="1.0" fill="rgb(140,140,140)"/><rect x="87.4" y="64.5" width="1.0" height="1.0" fill="rgb(183,183,183)"/><rect x="91.8" y="53.7" width="1.0" height="1.0" fill="rgb(183,183,183)"/><rect x="84.0" y="63.2" width="1.0" height="1.0" fill="rgb(187,187,187)"/><rect x="92.3" y="60.7" width="1.0" height="1.0" fill="rgb(140,140,140)"/><rect x="88.6" y="61.4" width="1.0" height="1.0" fill="rgb(163,163,163)"/><rect x="90.3" y="55.1" width="1.0" height="1.0" fill="rgb(139,139,139)"/><rect x="94.9" y="71.5" width="1.0" height="1.0" fill="rgb(140,140,140)"/><rect x="88.7" y="48.9" width="1.0" height="1.0" fill="rgb(152,152,152)"/><rect x="87.0" y="51.0" width="1.0" height="1.0" fill="rgb(114,114,114)"/><rect x="84.4" y="52.8" width="1.0" height="1.0" fill="rgb(148,148,148)"/><rect x="85.1" y="66.7" width="1.0" height="1.0" fill="rgb(171,171,171)"/><rect x="88.7" y="55.5" width="1.0" height="1.0" fill="rgb(158,158,158)"/><rect x="83.2" y="55.9" width="1.0" height="1.0" fill="rgb(132,132,132)"/><rect x="94.9" y="43.3" width="1.0" height="1.0" fill="rgb(180,180,180)"/><rect x="92.3" y="55.2" width="1.0" height="1.0" fill="rgb(123,123,123)"/><rect x="97.1" y="56.2" width="1.0" height="1.0" fill="rgb(166,166,166)"/><rect x="99.3" y="52.9" width="1.0" height="1.0" fill="rgb(149,149,149)"/><rect x="86.3" y="55.7" width="1.0" height="1.0" fill="rgb(110,110,110)"/><rect x="96.2" y="64.1" width="1.0" height="1.0" fill="rgb(133,133,133)"/><rect x="84.8" y="59.8" width="1.0" height="1.0" fill="rgb(174,174,174)"/><rect x="79.0" y="56.8" width="1.0" height="1.0" fill="rgb(154,154,154)"/><rect x="78.0" y="49.8" width="1.0" height="1.0" fill="rgb(131,131,131)"/><rect x="92.3" y="61.6" width="1.0" height="1.0" fill="rgb(124,124,124)"/><rect x="80.6" y="63.3" width="1.0" height="1.0" fill="rgb(136,136,136)"/><rect x="88.3" y="62.3" width="1.0" height="1.0" fill="rgb(152,152,152)"/><rect x="86.7" y="49.0" width="1.0" height="1.0" fill="rgb(145,145,145)"/><rect x="88.3" y="58.1" width="1.0" height="1.0" fill="rgb(157,157,157)"/><rect x="93.4" y="50.9" width="1.0" height="1.0" fill="rgb(178,178,178)"/><rect x="88.9" y="52.2" width="1.0" height="1.0" fill="rgb(124,124,124)"/><rect x="85.3" y="60.7" width="1.0" height="1.0" fill="rgb(156,156,156)"/><rect x="89.4" y="56.1" width="1.0" height="1.0" fill="rgb(135,135,135)"/><rect x="89.0" y="48.5" width="1.0" height="1.0" fill="rgb(161,161,161)"/><rect x="88.1" y="59.6" width="1.0" height="1.0" fill="rgb(168,168,168)"/><rect x="90.4" y="69.8" width="1.0" height="1.0" fill="rgb(117,117,117)"/><rect x="92.2" y="57.3" width="1.0" height="1.0" fill="rgb(151,151,151)"/><rect x="89.7" y="45.5" width="1.0" height="1.0" fill="rgb(173,173,173)"/><rect x="83.1" y="49.8" width="1.0" height="1.0" fill="rgb(179,179,179)"/><rect x="89.7" y="64.9" width="1.0" height="1.0" fill="rgb(133,133,133)"/><rect x="86.2" y="65.0" width="1.0" height="1.0" fill="rgb(127,127,127)"/><rect x="90.7" y="43.9" width="1.0" height="1.0" fill="rgb(175,175,175)"/><rect x="93.2" y="52.2" width="1.0" height="1.0" fill="rgb(178,178,178)"/><rect x="91.0" y="62.3" width="1.0" height="1.0" fill="rgb(188,188,188)"/><rect x="91.1" y="59.8" width="1.0" height="1.0" fill="rgb(148,148,148)"/><rect x="89.5" y="47.2" width="1.0" height="1.0" fill="rgb(188,188,188)"/><rect x="96.7" y="40.8" width="1.0" height="1.0" fill="rgb(138,138,138)"/><rect x="89.2" y="44.7" width="1.0" height="1.0" fill="rgb(150,150,150)"/><rect x="84.3" y="48.9" width="1.0" height="1.0" fill="rgb(156,156,156)"/><rect x="84.0" y="54.2" width="1.0" height="1.0" fill="rgb(131,131,131)"/><rect x="94.9" y="47.6" width="1.0" height="1.0" fill="rgb(123,123,123)"/><rect x="93.4" y="61.7" width="1.0" height="1.0" fill="rgb(185,185,185)"/><rect x="102.3" y="51.5" width="1.0" height="1.0" fill="rgb(128,128,128)"/><rect x="84.6" y="68.1" width="1.0" height="1.0" fill="rgb(132,132,132)"/><rect x="101.0" y="49.1" width="1.0" height="1.0" fill="rgb(112,112,112)"/><rect x="98.1" y="59.7" width="1.0" height="1.0" fill="rgb(166,166,166)"/><rect x="94.4" y="64.1" width="1.0" height="1.0" fill="rgb(168,168,168)"/><rect x="82.0" y="50.2" width="1.0" height="1.0" fill="rgb(135,135,135)"/><rect x="84.4" y="63.5" width="1.0" height="1.0" fill="rgb(187,187,187)"/><rect x="93.0" y="57.7" width="1.0" height="1.0" fill="rgb(118,118,118)"/><rect x="90.5" y="55.0" width="1.0" height="1.0" fill="rgb(125,125,125)"/><rect x="94.8" y="60.7" width="1.0" height="1.0" fill="rgb(145,145,145)"/><rect x="84.1" y="65.2" width="1.0" height="1.0" fill="rgb(121,121,121)"/><rect x="103.0" y="43.5" width="1.0" height="1.0" fill="rgb(166,166,166)"/><rect x="83.7" y="42.0" width="1.0" height="1.0" fill="rgb(180,180,180)"/><rect x="98.2" y="52.2" width="1.0" height="1.0" fill="rgb(146,146,146)"/><rect x="88.9" y="58.5" width="1.0" height="1.0" fill="rgb(180,180,180)"/><rect x="83.4" y="54.6" width="1.0" height="1.0" fill="rgb(128,128,128)"/><rect x="83.8" y="59.9" width="1.0" height="1.0" fill="rgb(158,158,158)"/><rect x="92.8" y="48.6" width="1.0" height="1.0" fill="rgb(135,135,135)"/><rect x="92.9" y="54.6" width="1.0" height="1.0" fill="rgb(144,144,144)"/><rect x="93.1" y="42.8" width="1.0" height="1.0" fill="rgb(141,141,141)"/><rect x="90.6" y="60.5" width="1.0" height="1.0" fill="rgb(115,115,115)"/><rect x="88.6" y="60.3" width="1.0" height="1.0" fill="rgb(157,157,157)"/><rect x="85.2" y="55.8" width="1.0" height="1.0" fill="rgb(172,172,172)"/><rect x="96.0" y="59.6" width="1.0" height="1.0" fill="rgb(155,155,155)"/><rect x="86.7" y="57.2" width="1.0" height="1.0" fill="rgb(173,173,173)"/><rect x="91.8" y="45.5" width="1.0" height="1.0" fill="rgb(161,161,161)"/><rect x="90.6" y="66.2" width="1.0" height="1.0" fill="rgb(164,164,164)"/><rect x="94.9" y="53.1" width="1.0" height="1.0" fill="rgb(174,174,174)"/><rect x="87.3" y="72.0" width="1.0" height="1.0" fill="rgb(141,141,141)"/><rect x="81.7" y="63.8" width="1.0" height="1.0" fill="rgb(122,122,122)"/><rect x="87.2" y="61.6" width="1.0" height="1.0" fill="rgb(125,125,125)"/><rect x="85.1" y="54.9" width="1.0" height="1.0" fill="rgb(184,184,184)"/><rect x="93.1" y="51.2" width="1.0" height="1.0" fill="rgb(110,110,110)"/><rect x="93.3" y="52.2" width="1.0" height="1.0" fill="rgb(127,127,127)"/><rect x="84.9" y="50.9" width="1.0" height="1.0" fill="rgb(190,190,190)"/><rect x="96.8" y="50.9" width="1.0" height="1.0" fill="rgb(131,131,131)"/><rect x="83.3" y="67.7" width="1.0" height="1.0" fill="rgb(165,165,165)"/><rect x="93.4" y="49.5" width="1.0" height="1.0" fill="rgb(165,165,165)"/><rect x="89.4" y="58.6" width="1.0" height="1.0" fill="rgb(162,162,162)"/><rect x="89.9" y="69.4" width="1.0" height="1.0" fill="rgb(150,150,150)"/><rect x="87.0" y="69.2" width="1.0" height="1.0" fill="rgb(159,159,159)"/><rect x="88.2" y="58.4" width="1.0" height="1.0" fill="rgb(183,183,183)"/><rect x="91.9" y="52.6" width="1.0" height="1.0" fill="rgb(185,185,185)"/><rect x="85.5" y="52.4" width="1.0" height="1.0" fill="rgb(174,174,174)"/><rect x="87.5" y="55.2" width="1.0" height="1.0" fill="rgb(135,135,135)"/><rect x="79.5" y="57.7" width="1.0" height="1.0" fill="rgb(182,182,182)"/><rect x="91.9" y="60.9" width="1.0" height="1.0" fill="rgb(149,149,149)"/><rect x="87.6" y="47.7" width="1.0" height="1.0" fill="rgb(183,183,183)"/><rect x="89.7" y="61.5" width="1.0" height="1.0" fill="rgb(123,123,123)"/><rect x="87.8" y="55.3" width="1.0" height="1.0" fill="rgb(130,130,130)"/><rect x="89.7" y="51.6" width="1.0" height="1.0" fill="rgb(180,180,180)"/><rect x="95.9" y="45.3" width="1.0" height="1.0" fill="rgb(117,117,117)"/><rect x="97.7" y="45.5" width="1.0" height="1.0" fill="rgb(116,116,116)"/><rect x="89.1" y="60.1" width="1.0" height="1.0" fill="rgb(142,142,142)"/><rect x="88.6" y="58.3" width="1.0" height="1.0" fill="rgb(172,172,172)"/><rect x="89.5" y="55.6" width="1.0" height="1.0" fill="rgb(169,169,169)"/><rect x="88.5" y="60.6" width="1.0" height="1.0" fill="rgb(162,162,162)"/><rect x="90.8" y="59.3" width="1.0" height="1.0" fill="rgb(111,111,111)"/><rect x="92.6" y="64.5" width="1.0" height="1.0" fill="rgb(167,167,167)"/><rect x="90.5" y="43.7" width="1.0" height="1.0" fill="rgb(138,138,138)"/><rect x="89.3" y="57.4" width="1.0" height="1.0" fill="rgb(159,159,159)"/><rect x="78.5" y="61.0" width="1.0" height="1.0" fill="rgb(160,160,160)"/><rect x="88.1" y="62.6" width="1.0" height="1.0" fill="rgb(189,189,189)"/><rect x="95.2" y="54.4" width="1.0" height="1.0" fill="rgb(166,166,166)"/><rect x="89.4" y="46.8" width="1.0" height="1.0" fill="rgb(177,177,177)"/><rect x="93.9" y="49.6" width="1.0" height="1.0" fill="rgb(132,132,132)"/><rect x="97.9" y="44.0" width="1.0" height="1.0" fill="rgb(162,162,162)"/><rect x="89.2" y="57.7" width="1.0" height="1.0" fill="rgb(137,137,137)"/><rect x="83.4" y="55.9" width="1.0" height="1.0" fill="rgb(141,141,141)"/><rect x="94.7" y="56.8" width="1.0" height="1.0" fill="rgb(125,125,125)"/><rect x="92.2" y="59.7" width="1.0" height="1.0" fill="rgb(165,165,165)"/><rect x="90.2" y="55.6" width="1.0" height="1.0" fill="rgb(190,190,190)"/><rect x="86.9" y="55.0" width="1.0" height="1.0" fill="rgb(134,134,134)"/><rect x="87.1" y="55.5" width="1.0" height="1.0" fill="rgb(148,148,148)"/><rect x="82.7" y="57.6" width="1.0" height="1.0" fill="rgb(136,136,136)"/><rect x="90.6" y="61.6" width="1.0" height="1.0" fill="rgb(110,110,110)"/><rect x="89.4" y="54.2" width="1.0" height="1.0" fill="rgb(166,166,166)"/><rect x="91.0" y="47.2" width="1.0" height="1.0" fill="rgb(139,139,139)"/><rect x="87.4" y="58.1" width="1.0" height="1.0" fill="rgb(120,120,120)"/><rect x="84.2" y="66.5" width="1.0" height="1.0" fill="rgb(149,149,149)"/><rect x="94.4" y="46.3" width="1.0" height="1.0" fill="rgb(130,130,130)"/><rect x="92.5" y="64.3" width="1.0" height="1.0" fill="rgb(118,118,118)"/><rect x="93.2" y="56.5" width="1.0" height="1.0" fill="rgb(157,157,157)"/><rect x="90.6" y="46.1" width="1.0" height="1.0" fill="rgb(174,174,174)"/><rect x="96.7" y="50.4" width="1.0" height="1.0" fill="rgb(55,55,55)"/><rect x="94.5" y="60.8" width="1.0" height="1.0" fill="rgb(96,96,96)"/><rect x="96.1" y="64.2" width="1.0" height="1.0" fill="rgb(69,69,69)"/><rect x="98.0" y="62.3" width="1.0" height="1.0" fill="rgb(101,101,101)"/><rect x="90.1" y="55.8" width="1.0" height="1.0" fill="rgb(90,90,90)"/><rect x="91.3" y="61.8" width="1.0" height="1.0" fill="rgb(54,54,54)"/><rect x="90.5" y="59.2" width="1.0" height="1.0" fill="rgb(73,73,73)"/><rect x="103.8" y="55.7" width="1.0" height="1.0" fill="rgb(96,96,96)"/><rect x="94.4" y="65.6" width="1.0" height="1.0" fill="rgb(86,86,86)"/><rect x="107.8" y="61.3" width="1.0" height="1.0" fill="rgb(94,94,94)"/><rect x="105.6" y="60.4" width="1.0" height="1.0" fill="rgb(70,70,70)"/><rect x="102.2" y="59.2" width="1.0" height="1.0" fill="rgb(50,50,50)"/><rect x="109.3" y="57.1" width="1.0" height="1.0" fill="rgb(78,78,78)"/><rect x="107.0" y="54.1" width="1.0" height="1.0" fill="rgb(137,137,137)"/><rect x="118.1" y="57.0" width="1.0" height="1.0" fill="rgb(53,53,53)"/><rect x="94.6" y="64.5" width="1.0" height="1.0" fill="rgb(42,42,42)"/><rect x="102.3" y="54.3" width="1.0" height="1.0" fill="rgb(100,100,100)"/><rect x="102.7" y="59.0" width="1.0" height="1.0" fill="rgb(104,104,104)"/><rect x="102.2" y="60.5" width="1.0" height="1.0" fill="rgb(51,51,51)"/><rect x="90.6" y="60.7" width="1.0" height="1.0" fill="rgb(49,49,49)"/><rect x="112.3" y="61.6" width="1.0" height="1.0" fill="rgb(93,93,93)"/><rect x="92.4" y="64.4" width="1.0" height="1.0" fill="rgb(80,80,80)"/><rect x="101.8" y="57.4" width="1.0" height="1.0" fill="rgb(135,135,135)"/><rect x="110.0" y="54.8" width="1.0" height="1.0" fill="rgb(124,124,124)"/><rect x="93.6" y="65.2" width="1.0" height="1.0" fill="rgb(54,54,54)"/><rect x="103.5" y="59.1" width="1.0" height="1.0" fill="rgb(128,128,128)"/><rect x="107.0" y="65.7" width="1.0" height="1.0" fill="rgb(75,75,75)"/><rect x="97.1" y="56.9" width="1.0" height="1.0" fill="rgb(113,113,113)"/><rect x="95.8" y="62.4" width="1.0" height="1.0" fill="rgb(114,114,114)"/><rect x="98.4" y="65.3" width="1.0" height="1.0" fill="rgb(121,121,121)"/><rect x="98.5" y="58.3" width="1.0" height="1.0" fill="rgb(106,106,106)"/><rect x="95.6" y="61.1" width="1.0" height="1.0" fill="rgb(54,54,54)"/><rect x="97.9" y="68.4" width="1.0" height="1.0" fill="rgb(77,77,77)"/><rect x="98.1" y="55.5" width="1.0" height="1.0" fill="rgb(92,92,92)"/><rect x="107.8" y="53.6" width="1.0" height="1.0" fill="rgb(116,116,116)"/><rect x="116.4" y="52.2" width="1.0" height="1.0" fill="rgb(95,95,95)"/><rect x="106.0" y="55.9" width="1.0" height="1.0" fill="rgb(118,118,118)"/><rect x="101.5" y="56.4" width="1.0" height="1.0" fill="rgb(110,110,110)"/><rect x="90.5" y="55.8" width="1.0" height="1.0" fill="rgb(111,111,111)"/><rect x="106.9" y="57.2" width="1.0" height="1.0" fill="rgb(130,130,130)"/><rect x="104.7" y="61.0" width="1.0" height="1.0" fill="rgb(118,118,118)"/><rect x="107.2" y="54.7" width="1.0" height="1.0" fill="rgb(62,62,62)"/><rect x="99.6" y="57.4" width="1.0" height="1.0" fill="rgb(124,124,124)"/><rect x="101.6" y="55.9" width="1.0" height="1.0" fill="rgb(122,122,122)"/><rect x="92.3" y="56.3" width="1.0" height="1.0" fill="rgb(45,45,45)"/><rect x="113.7" y="47.0" width="1.0" height="1.0" fill="rgb(90,90,90)"/><rect x="95.9" y="64.0" width="1.0" height="1.0" fill="rgb(87,87,87)"/><rect x="94.5" y="56.1" width="1.0" height="1.0" fill="rgb(123,123,123)"/><rect x="100.7" y="65.9" width="1.0" height="1.0" fill="rgb(91,91,91)"/><rect x="96.1" y="60.5" width="1.0" height="1.0" fill="rgb(58,58,58)"/><rect x="113.1" y="52.8" width="1.0" height="1.0" fill="rgb(111,111,111)"/><rect x="87.6" y="65.9" width="1.0" height="1.0" fill="rgb(70,70,70)"/><rect x="99.2" y="57.9" width="1.0" height="1.0" fill="rgb(111,111,111)"/><rect x="113.1" y="51.2" width="1.0" height="1.0" fill="rgb(140,140,140)"/><rect x="102.2" y="66.9" width="1.0" height="1.0" fill="rgb(100,100,100)"/><rect x="97.8" y="65.8" width="1.0" height="1.0" fill="rgb(63,63,63)"/><rect x="105.4" y="51.5" width="1.0" height="1.0" fill="rgb(61,61,61)"/><rect x="116.2" y="58.8" width="1.0" height="1.0" fill="rgb(107,107,107)"/><rect x="104.0" y="62.1" width="1.0" height="1.0" fill="rgb(53,53,53)"/><rect x="96.7" y="60.1" width="1.0" height="1.0" fill="rgb(110,110,110)"/><rect x="106.4" y="66.2" width="1.0" height="1.0" fill="rgb(82,82,82)"/><rect x="106.9" y="56.1" width="1.0" height="1.0" fill="rgb(50,50,50)"/><rect x="101.7" y="63.5" width="1.0" height="1.0" fill="rgb(41,41,41)"/><rect x="105.7" y="56.2" width="1.0" height="1.0" fill="rgb(99,99,99)"/><rect x="116.1" y="54.2" width="1.0" height="1.0" fill="rgb(88,88,88)"/><rect x="101.1" y="56.9" width="1.0" height="1.0" fill="rgb(69,69,69)"/><rect x="97.1" y="62.5" width="1.0" height="1.0" fill="rgb(115,115,115)"/><rect x="112.0" y="59.4" width="1.0" height="1.0" fill="rgb(114,114,114)"/><rect x="98.8" y="58.0" width="1.0" height="1.0" fill="rgb(97,97,97)"/><rect x="100.4" y="71.6" width="1.0" height="1.0" fill="rgb(87,87,87)"/><rect x="99.1" y="59.1" width="1.0" height="1.0" fill="rgb(55,55,55)"/><rect x="99.9" y="53.0" width="1.0" height="1.0" fill="rgb(120,120,120)"/><rect x="95.0" y="52.7" width="1.0" height="1.0" fill="rgb(129,129,129)"/><rect x="96.9" y="60.8" width="1.0" height="1.0" fill="rgb(91,91,91)"/><rect x="107.9" y="61.4" width="1.0" height="1.0" fill="rgb(74,74,74)"/><rect x="99.2" y="62.0" width="1.0" height="1.0" fill="rgb(51,51,51)"/><rect x="96.5" y="54.6" width="1.0" height="1.0" fill="rgb(139,139,139)"/><rect x="96.3" y="57.0" width="1.0" height="1.0" fill="rgb(95,95,95)"/><rect x="111.8" y="50.9" width="1.0" height="1.0" fill="rgb(112,112,112)"/><rect x="99.6" y="58.1" width="1.0" height="1.0" fill="rgb(104,104,104)"/><rect x="99.1" y="61.3" width="1.0" height="1.0" fill="rgb(82,82,82)"/><rect x="103.2" y="66.1" width="1.0" height="1.0" fill="rgb(122,122,122)"/><rect x="101.8" y="62.5" width="1.0" height="1.0" fill="rgb(95,95,95)"/><rect x="100.8" y="54.0" width="1.0" height="1.0" fill="rgb(99,99,99)"/><rect x="91.9" y="63.6" width="1.0" height="1.0" fill="rgb(54,54,54)"/><rect x="98.4" y="57.2" width="1.0" height="1.0" fill="rgb(54,54,54)"/><rect x="103.5" y="65.4" width="1.0" height="1.0" fill="rgb(130,130,130)"/><rect x="104.4" y="59.6" width="1.0" height="1.0" fill="rgb(103,103,103)"/><rect x="97.7" y="57.5" width="1.0" height="1.0" fill="rgb(82,82,82)"/><rect x="109.1" y="55.9" width="1.0" height="1.0" fill="rgb(45,45,45)"/><rect x="97.2" y="58.2" width="1.0" height="1.0" fill="rgb(47,47,47)"/><rect x="102.9" y="60.0" width="1.0" height="1.0" fill="rgb(97,97,97)"/><rect x="116.9" y="55.1" width="1.0" height="1.0" fill="rgb(135,135,135)"/><rect x="87.1" y="70.3" width="1.0" height="1.0" fill="rgb(92,92,92)"/><rect x="102.3" y="61.1" width="1.0" height="1.0" fill="rgb(46,46,46)"/><rect x="95.7" y="59.1" width="1.0" height="1.0" fill="rgb(79,79,79)"/><rect x="94.5" y="57.7" width="1.0" height="1.0" fill="rgb(47,47,47)"/><rect x="94.1" y="57.0" width="1.0" height="1.0" fill="rgb(81,81,81)"/><rect x="114.5" y="56.0" width="1.0" height="1.0" fill="rgb(95,95,95)"/><rect x="104.3" y="61.9" width="1.0" height="1.0" fill="rgb(41,41,41)"/><rect x="115.7" y="55.2" width="1.0" height="1.0" fill="rgb(94,94,94)"/><rect x="105.1" y="53.2" width="1.0" height="1.0" fill="rgb(103,103,103)"/><rect x="114.4" y="52.2" width="1.0" height="1.0" fill="rgb(114,114,114)"/><rect x="97.2" y="63.3" width="1.0" height="1.0" fill="rgb(89,89,89)"/><rect x="94.5" y="57.8" width="1.0" height="1.0" fill="rgb(48,48,48)"/><rect x="91.8" y="62.4" width="1.0" height="1.0" fill="rgb(53,53,53)"/><rect x="93.4" y="62.0" width="1.0" height="1.0" fill="rgb(53,53,53)"/><rect x="93.0" y="62.0" width="1.0" height="1.0" fill="rgb(104,104,104)"/><rect x="97.5" y="58.9" width="1.0" height="1.0" fill="rgb(116,116,116)"/><rect x="88.9" y="65.0" width="1.0" height="1.0" fill="rgb(137,137,137)"/><rect x="99.6" y="65.7" width="1.0" height="1.0" fill="rgb(93,93,93)"/><rect x="96.9" y="57.2" width="1.0" height="1.0" fill="rgb(40,40,40)"/><rect x="105.4" y="48.3" width="1.0" height="1.0" fill="rgb(71,71,71)"/><rect x="97.4" y="64.7" width="1.0" height="1.0" fill="rgb(53,53,53)"/><rect x="99.9" y="67.2" width="1.0" height="1.0" fill="rgb(118,118,118)"/><rect x="107.5" y="58.0" width="1.0" height="1.0" fill="rgb(70,70,70)"/><rect x="108.9" y="53.4" width="1.0" height="1.0" fill="rgb(112,112,112)"/><rect x="102.2" y="51.9" width="1.0" height="1.0" fill="rgb(95,95,95)"/><rect x="92.3" y="63.7" width="1.0" height="1.0" fill="rgb(133,133,133)"/><rect x="96.9" y="59.2" width="1.0" height="1.0" fill="rgb(133,133,133)"/><rect x="90.7" y="63.7" width="1.0" height="1.0" fill="rgb(108,108,108)"/><rect x="107.3" y="57.8" width="1.0" height="1.0" fill="rgb(125,125,125)"/><rect x="107.7" y="56.9" width="1.0" height="1.0" fill="rgb(129,129,129)"/><rect x="114.4" y="57.2" width="1.0" height="1.0" fill="rgb(43,43,43)"/><rect x="104.3" y="56.3" width="1.0" height="1.0" fill="rgb(73,73,73)"/><rect x="103.1" y="62.9" width="1.0" height="1.0" fill="rgb(68,68,68)"/><rect x="98.2" y="52.4" width="1.0" height="1.0" fill="rgb(117,117,117)"/><rect x="100.2" y="52.7" width="1.0" height="1.0" fill="rgb(58,58,58)"/><rect x="112.8" y="52.4" width="1.0" height="1.0" fill="rgb(52,52,52)"/><rect x="103.0" y="64.0" width="1.0" height="1.0" fill="rgb(89,89,89)"/><rect x="104.9" y="56.8" width="1.0" height="1.0" fill="rgb(97,97,97)"/><rect x="107.1" y="62.2" width="1.0" height="1.0" fill="rgb(139,139,139)"/><rect x="100.7" y="63.6" width="1.0" height="1.0" fill="rgb(107,107,107)"/><rect x="101.6" y="64.3" width="1.0" height="1.0" fill="rgb(55,55,55)"/><rect x="111.0" y="63.2" width="1.0" height="1.0" fill="rgb(90,90,90)"/><rect x="104.8" y="51.4" width="1.0" height="1.0" fill="rgb(135,135,135)"/><rect x="107.7" y="58.2" width="1.0" height="1.0" fill="rgb(59,59,59)"/><rect x="90.8" y="70.3" width="1.0" height="1.0" fill="rgb(109,109,109)"/><rect x="96.0" y="54.8" width="1.0" height="1.0" fill="rgb(55,55,55)"/><rect x="104.7" y="53.4" width="1.0" height="1.0" fill="rgb(136,136,136)"/><rect x="111.9" y="62.0" width="1.0" height="1.0" fill="rgb(55,55,55)"/><rect x="108.3" y="67.4" width="1.0" height="1.0" fill="rgb(79,79,79)"/><rect x="101.1" y="59.2" width="1.0" height="1.0" fill="rgb(73,73,73)"/><rect x="113.0" y="59.3" width="1.0" height="1.0" fill="rgb(138,138,138)"/><rect x="93.3" y="64.0" width="1.0" height="1.0" fill="rgb(81,81,81)"/><rect x="104.8" y="57.3" width="1.0" height="1.0" fill="rgb(63,63,63)"/><rect x="98.7" y="66.5" width="1.0" height="1.0" fill="rgb(127,127,127)"/><rect x="109.7" y="61.5" width="1.0" height="1.0" fill="rgb(97,97,97)"/><rect x="101.2" y="62.5" width="1.0" height="1.0" fill="rgb(109,109,109)"/><rect x="107.2" y="62.8" width="1.0" height="1.0" fill="rgb(87,87,87)"/><rect x="104.6" y="55.4" width="1.0" height="1.0" fill="rgb(129,129,129)"/><rect x="116.5" y="54.6" width="1.0" height="1.0" fill="rgb(65,65,65)"/><rect x="100.7" y="51.1" width="1.0" height="1.0" fill="rgb(79,79,79)"/><rect x="97.8" y="67.2" width="1.0" height="1.0" fill="rgb(138,138,138)"/><rect x="92.6" y="54.3" width="1.0" height="1.0" fill="rgb(109,109,109)"/><rect x="103.5" y="60.0" width="1.0" height="1.0" fill="rgb(84,84,84)"/><rect x="97.7" y="61.9" width="1.0" height="1.0" fill="rgb(66,66,66)"/><rect x="113.4" y="58.0" width="1.0" height="1.0" fill="rgb(51,51,51)"/><rect x="106.6" y="54.3" width="1.0" height="1.0" fill="rgb(56,56,56)"/><rect x="103.5" y="65.2" width="1.0" height="1.0" fill="rgb(92,92,92)"/><rect x="97.8" y="58.5" width="1.0" height="1.0" fill="rgb(90,90,90)"/><rect x="99.0" y="62.8" width="1.0" height="1.0" fill="rgb(140,140,140)"/><rect x="95.2" y="62.9" width="1.0" height="1.0" fill="rgb(98,98,98)"/><rect x="89.1" y="61.9" width="1.0" height="1.0" fill="rgb(56,56,56)"/><rect x="102.6" y="57.2" width="1.0" height="1.0" fill="rgb(93,93,93)"/><rect x="101.0" y="66.7" width="1.0" height="1.0" fill="rgb(67,67,67)"/><rect x="94.1" y="63.5" width="1.0" height="1.0" fill="rgb(64,64,64)"/><rect x="106.4" y="51.9" width="1.0" height="1.0" fill="rgb(101,101,101)"/><rect x="99.6" y="65.8" width="1.0" height="1.0" fill="rgb(51,51,51)"/><rect x="108.0" y="54.5" width="1.0" height="1.0" fill="rgb(112,112,112)"/><rect x="94.1" y="63.3" width="1.0" height="1.0" fill="rgb(103,103,103)"/><rect x="101.5" y="61.0" width="1.0" height="1.0" fill="rgb(104,104,104)"/><rect x="95.6" y="54.4" width="1.0" height="1.0" fill="rgb(105,105,105)"/><rect x="82.0" y="72.0" width="1.0" height="1.0" fill="rgb(101,101,101)"/><rect x="109.4" y="49.7" width="1.0" height="1.0" fill="rgb(83,83,83)"/><rect x="98.8" y="61.5" width="1.0" height="1.0" fill="rgb(121,121,121)"/><rect x="99.8" y="57.4" width="1.0" height="1.0" fill="rgb(90,90,90)"/><rect x="96.4" y="57.2" width="1.0" height="1.0" fill="rgb(105,105,105)"/><rect x="106.6" y="60.0" width="1.0" height="1.0" fill="rgb(99,99,99)"/><rect x="100.5" y="68.6" width="1.0" height="1.0" fill="rgb(139,139,139)"/><rect x="107.9" y="54.0" width="1.0" height="1.0" fill="rgb(119,119,119)"/><rect x="114.5" y="62.3" width="1.0" height="1.0" fill="rgb(121,121,121)"/><rect x="99.7" y="59.5" width="1.0" height="1.0" fill="rgb(130,130,130)"/><rect x="102.7" y="58.3" width="1.0" height="1.0" fill="rgb(108,108,108)"/><rect x="102.7" y="54.2" width="1.0" height="1.0" fill="rgb(67,67,67)"/><rect x="99.8" y="59.9" width="1.0" height="1.0" fill="rgb(92,92,92)"/><rect x="97.1" y="53.1" width="1.0" height="1.0" fill="rgb(127,127,127)"/><rect x="100.0" y="57.3" width="1.0" height="1.0" fill="rgb(68,68,68)"/><rect x="100.1" y="62.3" width="1.0" height="1.0" fill="rgb(87,87,87)"/><rect x="85.5" y="60.0" width="1.0" height="1.0" fill="rgb(98,98,98)"/><rect x="95.1" y="57.8" width="1.0" height="1.0" fill="rgb(53,53,53)"/><rect x="103.3" y="62.2" width="1.0" height="1.0" fill="rgb(54,54,54)"/><rect x="93.1" y="59.3" width="1.0" height="1.0" fill="rgb(92,92,92)"/><rect x="94.1" y="56.2" width="1.0" height="1.0" fill="rgb(120,120,120)"/><rect x="112.6" y="64.8" width="1.0" height="1.0" fill="rgb(115,115,115)"/><rect x="77.9" y="66.8" width="1.0" height="1.0" fill="rgb(82,82,82)"/><rect x="102.3" y="62.7" width="1.0" height="1.0" fill="rgb(103,103,103)"/><rect x="100.3" y="57.9" width="1.0" height="1.0" fill="rgb(103,103,103)"/><rect x="95.9" y="59.6" width="1.0" height="1.0" fill="rgb(46,46,46)"/><rect x="101.5" y="57.3" width="1.0" height="1.0" fill="rgb(78,78,78)"/><rect x="101.0" y="49.2" width="1.0" height="1.0" fill="rgb(70,70,70)"/><rect x="94.7" y="61.3" width="1.0" height="1.0" fill="rgb(108,108,108)"/><rect x="98.8" y="60.8" width="1.0" height="1.0" fill="rgb(133,133,133)"/><rect x="112.1" y="57.8" width="1.0" height="1.0" fill="rgb(128,128,128)"/><rect x="105.1" y="59.0" width="1.0" height="1.0" fill="rgb(107,107,107)"/><rect x="102.5" y="54.8" width="1.0" height="1.0" fill="rgb(48,48,48)"/><rect x="106.3" y="60.4" width="1.0" height="1.0" fill="rgb(94,94,94)"/><rect x="101.8" y="60.1" width="1.0" height="1.0" fill="rgb(102,102,102)"/><rect x="97.0" y="69.0" width="1.0" height="1.0" fill="rgb(91,91,91)"/><rect x="95.8" y="58.1" width="1.0" height="1.0" fill="rgb(97,97,97)"/><rect x="106.8" y="56.5" width="1.0" height="1.0" fill="rgb(99,99,99)"/><rect x="109.3" y="64.0" width="1.0" height="1.0" fill="rgb(98,98,98)"/><rect x="115.1" y="50.4" width="1.0" height="1.0" fill="rgb(137,137,137)"/><rect x="102.6" y="52.4" width="1.0" height="1.0" fill="rgb(123,123,123)"/><rect x="103.4" y="50.6" width="1.0" height="1.0" fill="rgb(48,48,48)"/><rect x="112.3" y="66.9" width="1.0" height="1.0" fill="rgb(126,126,126)"/><rect x="101.3" y="62.4" width="1.0" height="1.0" fill="rgb(52,52,52)"/><rect x="93.5" y="60.1" width="1.0" height="1.0" fill="rgb(119,119,119)"/><rect x="101.5" y="58.2" width="1.0" height="1.0" fill="rgb(96,96,96)"/><rect x="96.6" y="55.9" width="1.0" height="1.0" fill="rgb(120,120,120)"/><rect x="98.5" y="55.9" width="1.0" height="1.0" fill="rgb(69,69,69)"/><rect x="95.8" y="59.4" width="1.0" height="1.0" fill="rgb(66,66,66)"/><rect x="98.4" y="55.6" width="1.0" height="1.0" fill="rgb(137,137,137)"/><rect x="94.2" y="62.1" width="1.0" height="1.0" fill="rgb(129,129,129)"/><rect x="108.2" y="56.0" width="1.0" height="1.0" fill="rgb(41,41,41)"/><rect x="88.7" y="59.9" width="1.0" height="1.0" fill="rgb(115,115,115)"/><rect x="93.4" y="60.4" width="1.0" height="1.0" fill="rgb(138,138,138)"/><rect x="94.3" y="57.0" width="1.0" height="1.0" fill="rgb(95,95,95)"/><rect x="101.1" y="53.0" width="1.0" height="1.0" fill="rgb(136,136,136)"/><rect x="110.7" y="68.7" width="1.0" height="1.0" fill="rgb(100,100,100)"/><rect x="100.6" y="55.8" width="1.0" height="1.0" fill="rgb(100,100,100)"/><rect x="100.6" y="51.9" width="1.0" height="1.0" fill="rgb(77,77,77)"/><rect x="92.3" y="55.2" width="1.0" height="1.0" fill="rgb(121,121,121)"/><rect x="98.9" y="51.2" width="1.0" height="1.0" fill="rgb(119,119,119)"/><rect x="97.6" y="57.4" width="1.0" height="1.0" fill="rgb(108,108,108)"/><rect x="96.3" y="60.9" width="1.0" height="1.0" fill="rgb(65,65,65)"/><rect x="108.4" y="55.9" width="1.0" height="1.0" fill="rgb(42,42,42)"/><rect x="107.5" y="59.1" width="1.0" height="1.0" fill="rgb(133,133,133)"/><rect x="103.3" y="60.7" width="1.0" height="1.0" fill="rgb(92,92,92)"/><rect x="99.8" y="57.1" width="1.0" height="1.0" fill="rgb(136,136,136)"/><rect x="82.5" y="59.2" width="1.0" height="1.0" fill="rgb(78,78,78)"/><rect x="102.8" y="64.1" width="1.0" height="1.0" fill="rgb(74,74,74)"/><rect x="94.5" y="57.3" width="1.0" height="1.0" fill="rgb(76,76,76)"/><rect x="99.7" y="52.3" width="1.0" height="1.0" fill="rgb(111,111,111)"/><rect x="96.8" y="66.4" width="1.0" height="1.0" fill="rgb(133,133,133)"/><rect x="107.8" y="56.9" width="1.0" height="1.0" fill="rgb(81,81,81)"/><rect x="100.8" y="50.7" width="1.0" height="1.0" fill="rgb(73,73,73)"/><rect x="102.1" y="58.0" width="1.0" height="1.0" fill="rgb(122,122,122)"/><rect x="100.8" y="59.8" width="1.0" height="1.0" fill="rgb(74,74,74)"/><rect x="106.8" y="60.4" width="1.0" height="1.0" fill="rgb(121,121,121)"/><rect x="99.0" y="61.5" width="1.0" height="1.0" fill="rgb(63,63,63)"/><rect x="98.4" y="60.8" width="1.0" height="1.0" fill="rgb(97,97,97)"/><rect x="93.8" y="61.6" width="1.0" height="1.0" fill="rgb(106,106,106)"/><rect x="100.4" y="51.6" width="1.0" height="1.0" fill="rgb(83,83,83)"/><rect x="92.8" y="65.2" width="1.0" height="1.0" fill="rgb(73,73,73)"/><rect x="92.4" y="60.1" width="1.0" height="1.0" fill="rgb(82,82,82)"/><rect x="105.2" y="55.6" width="1.0" height="1.0" fill="rgb(73,73,73)"/><rect x="97.9" y="58.8" width="1.0" height="1.0" fill="rgb(71,71,71)"/><rect x="102.2" y="57.7" width="1.0" height="1.0" fill="rgb(129,129,129)"/><rect x="96.9" y="60.1" width="1.0" height="1.0" fill="rgb(127,127,127)"/><rect x="103.3" y="54.3" width="1.0" height="1.0" fill="rgb(103,103,103)"/><rect x="99.6" y="60.7" width="1.0" height="1.0" fill="rgb(125,125,125)"/><rect x="94.3" y="57.8" width="1.0" height="1.0" fill="rgb(100,100,100)"/><rect x="107.8" y="63.5" width="1.0" height="1.0" fill="rgb(45,45,45)"/><rect x="107.7" y="58.8" width="1.0" height="1.0" fill="rgb(102,102,102)"/><rect x="108.0" y="61.2" width="1.0" height="1.0" fill="rgb(62,62,62)"/><rect x="110.5" y="53.6" width="1.0" height="1.0" fill="rgb(106,106,106)"/><rect x="88.2" y="57.0" width="1.0" height="1.0" fill="rgb(56,56,56)"/><rect x="99.7" y="65.5" width="1.0" height="1.0" fill="rgb(82,82,82)"/><rect x="84.5" y="67.1" width="1.0" height="1.0" fill="rgb(83,83,83)"/><rect x="101.1" y="55.8" width="1.0" height="1.0" fill="rgb(138,138,138)"/><rect x="93.5" y="72.1" width="1.0" height="1.0" fill="rgb(102,102,102)"/><rect x="105.7" y="63.0" width="1.0" height="1.0" fill="rgb(55,55,55)"/><rect x="96.3" y="55.8" width="1.0" height="1.0" fill="rgb(135,135,135)"/><rect x="105.7" y="65.3" width="1.0" height="1.0" fill="rgb(83,83,83)"/><rect x="104.2" y="57.3" width="1.0" height="1.0" fill="rgb(140,140,140)"/><rect x="90.2" y="60.5" width="1.0" height="1.0" fill="rgb(86,86,86)"/><rect x="96.5" y="56.1" width="1.0" height="1.0" fill="rgb(136,136,136)"/><rect x="94.6" y="60.3" width="1.0" height="1.0" fill="rgb(120,120,120)"/><rect x="92.7" y="67.8" width="1.0" height="1.0" fill="rgb(100,100,100)"/><rect x="101.5" y="63.2" width="1.0" height="1.0" fill="rgb(109,109,109)"/><rect x="102.5" y="55.8" width="1.0" height="1.0" fill="rgb(62,62,62)"/><rect x="115.5" y="58.2" width="1.0" height="1.0" fill="rgb(126,126,126)"/><rect x="96.3" y="59.2" width="1.0" height="1.0" fill="rgb(133,133,133)"/><rect x="117.5" y="49.0" width="1.0" height="1.0" fill="rgb(50,50,50)"/><rect x="86.2" y="62.8" width="1.0" height="1.0" fill="rgb(45,45,45)"/><rect x="99.8" y="58.9" width="1.0" height="1.0" fill="rgb(102,102,102)"/><rect x="92.4" y="64.6" width="1.0" height="1.0" fill="rgb(72,72,72)"/><rect x="101.1" y="60.1" width="1.0" height="1.0" fill="rgb(112,112,112)"/><rect x="101.2" y="60.3" width="1.0" height="1.0" fill="rgb(57,57,57)"/><rect x="96.3" y="61.5" width="1.0" height="1.0" fill="rgb(66,66,66)"/><rect x="101.4" y="60.0" width="1.0" height="1.0" fill="rgb(121,121,121)"/><rect x="94.2" y="56.0" width="1.0" height="1.0" fill="rgb(56,56,56)"/><rect x="94.0" y="61.9" width="1.0" height="1.0" fill="rgb(40,40,40)"/><rect x="91.3" y="65.5" width="1.0" height="1.0" fill="rgb(104,104,104)"/><rect x="104.5" y="57.7" width="1.0" height="1.0" fill="rgb(114,114,114)"/><rect x="105.5" y="50.8" width="1.0" height="1.0" fill="rgb(45,45,45)"/><rect x="98.1" y="61.5" width="1.0" height="1.0" fill="rgb(138,138,138)"/><rect x="96.8" y="60.7" width="1.0" height="1.0" fill="rgb(105,105,105)"/><rect x="90.1" y="68.5" width="1.0" height="1.0" fill="rgb(104,104,104)"/><rect x="105.5" y="53.9" width="1.0" height="1.0" fill="rgb(74,74,74)"/><rect x="104.6" y="58.9" width="1.0" height="1.0" fill="rgb(122,122,122)"/><rect x="99.3" y="61.3" width="1.0" height="1.0" fill="rgb(105,105,105)"/><rect x="96.1" y="60.1" width="1.0" height="1.0" fill="rgb(106,106,106)"/><rect x="101.6" y="59.6" width="1.0" height="1.0" fill="rgb(82,82,82)"/><rect x="102.7" y="61.8" width="1.0" height="1.0" fill="rgb(46,46,46)"/><rect x="99.5" y="60.2" width="1.0" height="1.0" fill="rgb(101,101,101)"/><rect x="85.9" y="65.5" width="1.0" height="1.0" fill="rgb(129,129,129)"/><rect x="103.9" y="55.6" width="1.0" height="1.0" fill="rgb(92,92,92)"/><rect x="99.5" y="66.9" width="1.0" height="1.0" fill="rgb(66,66,66)"/><rect x="109.9" y="61.4" width="1.0" height="1.0" fill="rgb(99,99,99)"/><rect x="100.8" y="56.2" width="1.0" height="1.0" fill="rgb(84,84,84)"/><rect x="95.8" y="59.8" width="1.0" height="1.0" fill="rgb(82,82,82)"/><rect x="104.6" y="57.3" width="1.0" height="1.0" fill="rgb(66,66,66)"/><rect x="97.8" y="61.0" width="1.0" height="1.0" fill="rgb(135,135,135)"/><rect x="98.5" y="53.0" width="1.0" height="1.0" fill="rgb(139,139,139)"/><rect x="109.6" y="53.7" width="1.0" height="1.0" fill="rgb(58,58,58)"/><rect x="109.5" y="52.6" width="1.0" height="1.0" fill="rgb(123,123,123)"/><rect x="101.1" y="59.5" width="1.0" height="1.0" fill="rgb(113,113,113)"/><rect x="99.4" y="53.3" width="1.0" height="1.0" fill="rgb(56,56,56)"/><rect x="97.8" y="66.1" width="1.0" height="1.0" fill="rgb(48,48,48)"/><rect x="93.0" y="64.4" width="1.0" height="1.0" fill="rgb(86,86,86)"/><rect x="96.7" y="60.3" width="1.0" height="1.0" fill="rgb(73,73,73)"/><rect x="90.1" y="72.2" width="1.0" height="1.0" fill="rgb(51,51,51)"/><rect x="95.3" y="62.6" width="1.0" height="1.0" fill="rgb(54,54,54)"/><rect x="95.5" y="64.2" width="1.0" height="1.0" fill="rgb(115,115,115)"/><rect x="102.8" y="59.2" width="1.0" height="1.0" fill="rgb(112,112,112)"/><rect x="116.5" y="54.3" width="1.0" height="1.0" fill="rgb(130,130,130)"/><rect x="100.8" y="64.3" width="1.0" height="1.0" fill="rgb(81,81,81)"/><rect x="113.1" y="49.0" width="1.0" height="1.0" fill="rgb(70,70,70)"/><rect x="102.9" y="55.3" width="1.0" height="1.0" fill="rgb(72,72,72)"/><rect x="105.2" y="48.8" width="1.0" height="1.0" fill="rgb(100,100,100)"/><rect x="97.7" y="61.0" width="1.0" height="1.0" fill="rgb(63,63,63)"/><rect x="102.5" y="49.3" width="1.0" height="1.0" fill="rgb(86,86,86)"/><rect x="110.0" y="60.0" width="1.0" height="1.0" fill="rgb(130,130,130)"/><rect x="97.5" y="55.1" width="1.0" height="1.0" fill="rgb(58,58,58)"/><rect x="108.4" y="55.3" width="1.0" height="1.0" fill="rgb(67,67,67)"/><rect x="114.6" y="57.7" width="1.0" height="1.0" fill="rgb(125,125,125)"/><rect x="88.1" y="59.6" width="1.0" height="1.0" fill="rgb(137,137,137)"/><rect x="98.0" y="58.6" width="1.0" height="1.0" fill="rgb(115,115,115)"/><rect x="108.8" y="56.4" width="1.0" height="1.0" fill="rgb(104,104,104)"/><rect x="110.9" y="52.0" width="1.0" height="1.0" fill="rgb(55,55,55)"/><rect x="93.2" y="59.1" width="1.0" height="1.0" fill="rgb(67,67,67)"/><rect x="94.4" y="59.5" width="1.0" height="1.0" fill="rgb(96,96,96)"/><rect x="88.0" y="57.8" width="1.0" height="1.0" fill="rgb(133,133,133)"/><rect x="98.4" y="55.7" width="1.0" height="1.0" fill="rgb(133,133,133)"/><rect x="107.0" y="55.5" width="1.0" height="1.0" fill="rgb(117,117,117)"/><rect x="106.8" y="57.3" width="1.0" height="1.0" fill="rgb(119,119,119)"/><rect x="106.6" y="62.0" width="1.0" height="1.0" fill="rgb(44,44,44)"/><rect x="95.2" y="62.5" width="1.0" height="1.0" fill="rgb(66,66,66)"/><rect x="105.2" y="61.1" width="1.0" height="1.0" fill="rgb(119,119,119)"/><rect x="117.0" y="64.0" width="1.0" height="1.0" fill="rgb(74,74,74)"/><rect x="102.8" y="64.7" width="1.0" height="1.0" fill="rgb(75,75,75)"/><rect x="90.4" y="65.4" width="1.0" height="1.0" fill="rgb(77,77,77)"/><rect x="102.0" y="63.8" width="1.0" height="1.0" fill="rgb(117,117,117)"/><rect x="104.4" y="60.5" width="1.0" height="1.0" fill="rgb(56,56,56)"/><rect x="107.9" y="51.1" width="1.0" height="1.0" fill="rgb(62,62,62)"/><rect x="92.6" y="67.0" width="1.0" height="1.0" fill="rgb(91,91,91)"/><rect x="110.3" y="44.9" width="1.0" height="1.0" fill="rgb(59,59,59)"/><rect x="100.2" y="49.1" width="1.0" height="1.0" fill="rgb(94,94,94)"/><rect x="104.0" y="51.8" width="1.0" height="1.0" fill="rgb(62,62,62)"/><rect x="109.8" y="55.0" width="1.0" height="1.0" fill="rgb(127,127,127)"/><rect x="110.8" y="68.4" width="1.0" height="1.0" fill="rgb(57,57,57)"/><rect x="115.0" y="61.6" width="1.0" height="1.0" fill="rgb(129,129,129)"/><rect x="103.1" y="53.0" width="1.0" height="1.0" fill="rgb(116,116,116)"/><rect x="103.2" y="61.1" width="1.0" height="1.0" fill="rgb(83,83,83)"/><rect x="113.6" y="53.6" width="1.0" height="1.0" fill="rgb(73,73,73)"/><rect x="112.9" y="54.8" width="1.0" height="1.0" fill="rgb(95,95,95)"/><rect x="112.1" y="66.2" width="1.0" height="1.0" fill="rgb(51,51,51)"/><rect x="107.1" y="65.4" width="1.0" height="1.0" fill="rgb(110,110,110)"/><rect x="90.9" y="62.7" width="1.0" height="1.0" fill="rgb(77,77,77)"/><rect x="104.6" y="50.2" width="1.0" height="1.0" fill="rgb(126,126,126)"/><rect x="101.7" y="50.6" width="1.0" height="1.0" fill="rgb(129,129,129)"/><rect x="98.7" y="53.7" width="1.0" height="1.0" fill="rgb(124,124,124)"/><rect x="103.0" y="59.2" width="1.0" height="1.0" fill="rgb(61,61,61)"/><rect x="86.0" y="60.6" width="1.0" height="1.0" fill="rgb(50,50,50)"/><rect x="103.5" y="52.4" width="1.0" height="1.0" fill="rgb(95,95,95)"/><rect x="105.7" y="62.5" width="1.0" height="1.0" fill="rgb(109,109,109)"/><rect x="99.7" y="55.1" width="1.0" height="1.0" fill="rgb(45,45,45)"/><rect x="103.7" y="54.7" width="1.0" height="1.0" fill="rgb(138,138,138)"/><rect x="110.6" y="60.2" width="1.0" height="1.0" fill="rgb(85,85,85)"/><rect x="101.0" y="53.0" width="1.0" height="1.0" fill="rgb(130,130,130)"/><rect x="105.6" y="59.2" width="1.0" height="1.0" fill="rgb(117,117,117)"/><rect x="92.1" y="56.6" width="1.0" height="1.0" fill="rgb(76,76,76)"/><rect x="101.5" y="65.3" width="1.0" height="1.0" fill="rgb(69,69,69)"/><rect x="103.2" y="58.1" width="1.0" height="1.0" fill="rgb(118,118,118)"/><rect x="95.1" y="65.4" width="1.0" height="1.0" fill="rgb(123,123,123)"/><rect x="86.4" y="68.7" width="1.0" height="1.0" fill="rgb(71,71,71)"/><rect x="88.2" y="56.9" width="1.0" height="1.0" fill="rgb(124,124,124)"/><rect x="94.6" y="60.9" width="1.0" height="1.0" fill="rgb(113,113,113)"/><rect x="103.0" y="56.6" width="1.0" height="1.0" fill="rgb(62,62,62)"/><rect x="108.3" y="57.2" width="1.0" height="1.0" fill="rgb(105,105,105)"/><rect x="91.9" y="63.2" width="1.0" height="1.0" fill="rgb(133,133,133)"/><rect x="93.3" y="64.9" width="1.0" height="1.0" fill="rgb(61,61,61)"/><rect x="115.4" y="56.1" width="1.0" height="1.0" fill="rgb(42,42,42)"/><rect x="90.2" y="55.5" width="1.0" height="1.0" fill="rgb(43,43,43)"/><rect x="88.9" y="58.4" width="1.0" height="1.0" fill="rgb(56,56,56)"/><rect x="99.0" y="68.1" width="1.0" height="1.0" fill="rgb(128,128,128)"/><rect x="109.3" y="54.7" width="1.0" height="1.0" fill="rgb(60,60,60)"/><rect x="101.6" y="54.1" width="1.0" height="1.0" fill="rgb(59,59,59)"/><rect x="94.6" y="60.3" width="1.0" height="1.0" fill="rgb(62,62,62)"/><rect x="104.7" y="59.8" width="1.0" height="1.0" fill="rgb(91,91,91)"/><rect x="104.9" y="61.3" width="1.0" height="1.0" fill="rgb(57,57,57)"/><rect x="91.3" y="60.6" width="1.0" height="1.0" fill="rgb(91,91,91)"/><rect x="93.9" y="67.7" width="1.0" height="1.0" fill="rgb(107,107,107)"/><rect x="95.7" y="70.7" width="1.0" height="1.0" fill="rgb(135,135,135)"/><rect x="111.0" y="51.5" width="1.0" height="1.0" fill="rgb(108,108,108)"/><rect x="90.3" y="60.7" width="1.0" height="1.0" fill="rgb(55,55,55)"/><rect x="90.7" y="60.0" width="1.0" height="1.0" fill="rgb(59,59,59)"/><rect x="104.7" y="54.7" width="1.0" height="1.0" fill="rgb(92,92,92)"/><rect x="104.5" y="58.0" width="1.0" height="1.0" fill="rgb(63,63,63)"/><rect x="94.7" y="53.1" width="1.0" height="1.0" fill="rgb(73,73,73)"/><rect x="100.1" y="61.8" width="1.0" height="1.0" fill="rgb(137,137,137)"/><rect x="101.2" y="61.4" width="1.0" height="1.0" fill="rgb(84,84,84)"/><rect x="99.3" y="61.9" width="1.0" height="1.0" fill="rgb(98,98,98)"/><rect x="88.4" y="65.8" width="1.0" height="1.0" fill="rgb(83,83,83)"/><rect x="99.3" y="66.7" width="1.0" height="1.0" fill="rgb(52,52,52)"/><rect x="97.4" y="50.4" width="1.0" height="1.0" fill="rgb(85,85,85)"/><rect x="96.9" y="54.8" width="1.0" height="1.0" fill="rgb(127,127,127)"/><rect x="107.2" y="50.6" width="1.0" height="1.0" fill="rgb(111,111,111)"/><rect x="93.2" y="59.0" width="1.0" height="1.0" fill="rgb(57,57,57)"/><rect x="109.3" y="50.3" width="1.0" height="1.0" fill="rgb(79,79,79)"/><rect x="91.3" y="57.2" width="1.0" height="1.0" fill="rgb(124,124,124)"/><rect x="103.0" y="58.0" width="1.0" height="1.0" fill="rgb(107,107,107)"/><rect x="100.9" y="69.5" width="1.0" height="1.0" fill="rgb(63,63,63)"/><rect x="93.9" y="64.8" width="1.0" height="1.0" fill="rgb(51,51,51)"/><rect x="105.7" y="60.0" width="1.0" height="1.0" fill="rgb(127,127,127)"/><rect x="110.0" y="61.2" width="1.0" height="1.0" fill="rgb(122,122,122)"/><rect x="88.9" y="57.1" width="1.0" height="1.0" fill="rgb(40,40,40)"/><rect x="103.0" y="57.6" width="1.0" height="1.0" fill="rgb(41,41,41)"/><rect x="96.3" y="52.8" width="1.0" height="1.0" fill="rgb(59,59,59)"/><rect x="92.1" y="69.1" width="1.0" height="1.0" fill="rgb(59,59,59)"/><rect x="107.7" y="61.4" width="1.0" height="1.0" fill="rgb(137,137,137)"/><rect x="99.3" y="54.8" width="1.0" height="1.0" fill="rgb(101,101,101)"/><rect x="101.1" y="58.5" width="1.0" height="1.0" fill="rgb(140,140,140)"/><rect x="103.1" y="62.4" width="1.0" height="1.0" fill="rgb(111,111,111)"/><rect x="98.2" y="54.5" width="1.0" height="1.0" fill="rgb(44,44,44)"/><rect x="93.2" y="69.3" width="1.0" height="1.0" fill="rgb(127,127,127)"/><rect x="97.6" y="58.5" width="1.0" height="1.0" fill="rgb(116,116,116)"/><rect x="102.3" y="53.0" width="1.0" height="1.0" fill="rgb(123,123,123)"/><rect x="117.2" y="53.6" width="1.0" height="1.0" fill="rgb(131,131,131)"/><rect x="96.5" y="54.8" width="1.0" height="1.0" fill="rgb(110,110,110)"/><rect x="106.2" y="60.6" width="1.0" height="1.0" fill="rgb(131,131,131)"/><rect x="103.2" y="53.9" width="1.0" height="1.0" fill="rgb(112,112,112)"/><rect x="111.8" y="54.8" width="1.0" height="1.0" fill="rgb(45,45,45)"/><rect x="107.4" y="53.9" width="1.0" height="1.0" fill="rgb(51,51,51)"/><rect x="94.4" y="59.6" width="1.0" height="1.0" fill="rgb(73,73,73)"/><rect x="93.1" y="56.2" width="1.0" height="1.0" fill="rgb(96,96,96)"/><rect x="111.5" y="50.2" width="1.0" height="1.0" fill="rgb(111,111,111)"/><rect x="109.2" y="53.4" width="1.0" height="1.0" fill="rgb(107,107,107)"/><rect x="94.6" y="58.7" width="1.0" height="1.0" fill="rgb(133,133,133)"/><rect x="104.2" y="62.8" width="1.0" height="1.0" fill="rgb(92,92,92)"/><rect x="106.9" y="59.9" width="1.0" height="1.0" fill="rgb(56,56,56)"/><rect x="83.8" y="62.5" width="1.0" height="1.0" fill="rgb(125,125,125)"/><rect x="107.2" y="46.3" width="1.0" height="1.0" fill="rgb(68,68,68)"/><rect x="102.8" y="62.7" width="1.0" height="1.0" fill="rgb(91,91,91)"/><rect x="101.1" y="60.6" width="1.0" height="1.0" fill="rgb(107,107,107)"/><rect x="88.0" y="69.0" width="1.0" height="1.0" fill="rgb(140,140,140)"/><rect x="90.8" y="60.3" width="1.0" height="1.0" fill="rgb(78,78,78)"/><rect x="99.6" y="53.3" width="1.0" height="1.0" fill="rgb(120,120,120)"/><rect x="97.4" y="55.0" width="1.0" height="1.0" fill="rgb(99,99,99)"/><rect x="104.5" y="53.9" width="1.0" height="1.0" fill="rgb(52,52,52)"/><rect x="91.3" y="64.0" width="1.0" height="1.0" fill="rgb(63,63,63)"/><rect x="93.8" y="57.3" width="1.0" height="1.0" fill="rgb(43,43,43)"/><rect x="107.1" y="49.8" width="1.0" height="1.0" fill="rgb(102,102,102)"/><rect x="103.8" y="55.4" width="1.0" height="1.0" fill="rgb(87,87,87)"/><rect x="94.9" y="47.4" width="1.0" height="1.0" fill="rgb(54,54,54)"/><rect x="98.1" y="65.6" width="1.0" height="1.0" fill="rgb(84,84,84)"/><rect x="93.1" y="67.1" width="1.0" height="1.0" fill="rgb(83,83,83)"/><rect x="97.4" y="67.0" width="1.0" height="1.0" fill="rgb(79,79,79)"/><rect x="111.5" y="61.8" width="1.0" height="1.0" fill="rgb(42,42,42)"/><rect x="87.6" y="59.1" width="1.0" height="1.0" fill="rgb(48,48,48)"/><rect x="81.2" y="69.5" width="1.0" height="1.0" fill="rgb(80,80,80)"/><rect x="118.2" y="51.6" width="1.0" height="1.0" fill="rgb(53,53,53)"/><rect x="106.3" y="57.1" width="1.0" height="1.0" fill="rgb(92,92,92)"/><rect x="81.8" y="63.4" width="1.0" height="1.0" fill="rgb(72,72,72)"/><rect x="98.0" y="59.7" width="1.0" height="1.0" fill="rgb(108,108,108)"/><rect x="102.1" y="64.7" width="1.0" height="1.0" fill="rgb(86,86,86)"/><rect x="110.5" y="58.2" width="1.0" height="1.0" fill="rgb(130,130,130)"/><rect x="114.5" y="50.9" width="1.0" height="1.0" fill="rgb(72,72,72)"/><rect x="110.3" y="51.3" width="1.0" height="1.0" fill="rgb(84,84,84)"/><rect x="87.2" y="69.8" width="1.0" height="1.0" fill="rgb(72,72,72)"/><rect x="103.4" y="58.3" width="1.0" height="1.0" fill="rgb(47,47,47)"/><rect x="104.4" y="65.3" width="1.0" height="1.0" fill="rgb(123,123,123)"/><rect x="91.8" y="64.0" width="1.0" height="1.0" fill="rgb(83,83,83)"/><rect x="112.5" y="58.0" width="1.0" height="1.0" fill="rgb(84,84,84)"/><rect x="118.7" y="59.5" width="1.0" height="1.0" fill="rgb(134,134,134)"/><rect x="114.4" y="54.0" width="1.0" height="1.0" fill="rgb(98,98,98)"/><rect x="96.1" y="61.9" width="1.0" height="1.0" fill="rgb(62,62,62)"/><rect x="108.4" y="53.6" width="1.0" height="1.0" fill="rgb(75,75,75)"/><rect x="106.7" y="55.2" width="1.0" height="1.0" fill="rgb(133,133,133)"/><rect x="88.5" y="64.9" width="1.0" height="1.0" fill="rgb(72,72,72)"/><rect x="94.0" y="64.9" width="1.0" height="1.0" fill="rgb(65,65,65)"/><rect x="121.2" y="58.4" width="1.0" height="1.0" fill="rgb(109,109,109)"/><rect x="91.0" y="61.2" width="1.0" height="1.0" fill="rgb(58,58,58)"/><rect x="102.4" y="49.9" width="1.0" height="1.0" fill="rgb(83,83,83)"/><rect x="105.5" y="61.9" width="1.0" height="1.0" fill="rgb(115,115,115)"/><rect x="100.6" y="62.2" width="1.0" height="1.0" fill="rgb(127,127,127)"/><rect x="112.3" y="59.0" width="1.0" height="1.0" fill="rgb(56,56,56)"/><rect x="107.8" y="60.2" width="1.0" height="1.0" fill="rgb(115,115,115)"/><rect x="108.6" y="48.7" width="1.0" height="1.0" fill="rgb(62,62,62)"/><rect x="91.9" y="48.8" width="1.0" height="1.0" fill="rgb(43,43,43)"/><rect x="94.3" y="58.8" width="1.0" height="1.0" fill="rgb(42,42,42)"/><rect x="106.9" y="58.2" width="1.0" height="1.0" fill="rgb(70,70,70)"/><rect x="80.8" y="59.3" width="1.0" height="1.0" fill="rgb(66,66,66)"/><rect x="109.9" y="52.9" width="1.0" height="1.0" fill="rgb(69,69,69)"/><rect x="105.8" y="59.4" width="1.0" height="1.0" fill="rgb(96,96,96)"/><rect x="97.4" y="59.1" width="1.0" height="1.0" fill="rgb(95,95,95)"/><rect x="99.2" y="64.6" width="1.0" height="1.0" fill="rgb(60,60,60)"/><rect x="101.7" y="53.6" width="1.0" height="1.0" fill="rgb(60,60,60)"/><rect x="97.4" y="67.9" width="1.0" height="1.0" fill="rgb(63,63,63)"/><rect x="89.4" y="61.6" width="1.0" height="1.0" fill="rgb(52,52,52)"/><rect x="85.9" y="67.6" width="1.0" height="1.0" fill="rgb(53,53,53)"/><rect x="106.5" y="58.6" width="1.0" height="1.0" fill="rgb(87,87,87)"/><rect x="102.4" y="56.9" width="1.0" height="1.0" fill="rgb(126,126,126)"/><rect x="99.7" y="54.1" width="1.0" height="1.0" fill="rgb(100,100,100)"/><rect x="98.7" y="61.7" width="1.0" height="1.0" fill="rgb(94,94,94)"/><rect x="83.8" y="65.6" width="1.0" height="1.0" fill="rgb(76,76,76)"/><rect x="84.8" y="61.8" width="1.0" height="1.0" fill="rgb(111,111,111)"/><rect x="106.2" y="61.0" width="1.0" height="1.0" fill="rgb(116,116,116)"/><rect x="90.8" y="57.0" width="1.0" height="1.0" fill="rgb(71,71,71)"/><rect x="88.9" y="66.4" width="1.0" height="1.0" fill="rgb(90,90,90)"/><rect x="92.2" y="62.1" width="1.0" height="1.0" fill="rgb(108,108,108)"/><rect x="89.8" y="55.2" width="1.0" height="1.0" fill="rgb(66,66,66)"/><rect x="105.9" y="66.2" width="1.0" height="1.0" fill="rgb(82,82,82)"/><rect x="107.4" y="58.3" width="1.0" height="1.0" fill="rgb(100,100,100)"/><rect x="106.1" y="62.0" width="1.0" height="1.0" fill="rgb(125,125,125)"/><rect x="93.8" y="62.6" width="1.0" height="1.0" fill="rgb(114,114,114)"/><rect x="109.2" y="57.2" width="1.0" height="1.0" fill="rgb(43,43,43)"/><rect x="118.4" y="51.5" width="1.0" height="1.0" fill="rgb(56,56,56)"/><rect x="108.3" y="65.4" width="1.0" height="1.0" fill="rgb(92,92,92)"/><rect x="99.6" y="62.4" width="1.0" height="1.0" fill="rgb(123,123,123)"/><rect x="92.8" y="57.9" width="1.0" height="1.0" fill="rgb(73,73,73)"/><rect x="109.0" y="65.9" width="1.0" height="1.0" fill="rgb(71,71,71)"/><rect x="112.2" y="52.7" width="1.0" height="1.0" fill="rgb(104,104,104)"/><rect x="112.2" y="57.4" width="1.0" height="1.0" fill="rgb(41,41,41)"/><rect x="88.7" y="58.0" width="1.0" height="1.0" fill="rgb(53,53,53)"/><rect x="120.6" y="53.7" width="1.0" height="1.0" fill="rgb(107,107,107)"/><rect x="105.2" y="50.7" width="1.0" height="1.0" fill="rgb(85,85,85)"/><rect x="117.6" y="52.3" width="1.0" height="1.0" fill="rgb(121,121,121)"/><rect x="97.6" y="52.8" width="1.0" height="1.0" fill="rgb(58,58,58)"/><rect x="96.8" y="59.1" width="1.0" height="1.0" fill="rgb(126,126,126)"/><rect x="97.4" y="55.1" width="1.0" height="1.0" fill="rgb(113,113,113)"/><rect x="102.6" y="69.1" width="1.0" height="1.0" fill="rgb(108,108,108)"/><rect x="95.2" y="61.9" width="1.0" height="1.0" fill="rgb(84,84,84)"/><rect x="114.1" y="55.1" width="1.0" height="1.0" fill="rgb(49,49,49)"/><rect x="110.7" y="50.4" width="1.0" height="1.0" fill="rgb(40,40,40)"/><rect x="85.9" y="63.1" width="1.0" height="1.0" fill="rgb(140,140,140)"/><rect x="96.2" y="52.1" width="1.0" height="1.0" fill="rgb(51,51,51)"/><rect x="101.2" y="56.6" width="1.0" height="1.0" fill="rgb(41,41,41)"/><rect x="91.2" y="68.9" width="1.0" height="1.0" fill="rgb(108,108,108)"/><rect x="103.7" y="52.9" width="1.0" height="1.0" fill="rgb(70,70,70)"/><rect x="97.4" y="62.4" width="1.0" height="1.0" fill="rgb(127,127,127)"/><rect x="100.9" y="59.3" width="1.0" height="1.0" fill="rgb(106,106,106)"/><rect x="91.2" y="66.8" width="1.0" height="1.0" fill="rgb(112,112,112)"/><rect x="79.5" y="60.0" width="1.0" height="1.0" fill="rgb(139,139,139)"/><rect x="92.3" y="57.1" width="1.0" height="1.0" fill="rgb(41,41,41)"/><rect x="113.2" y="58.5" width="1.0" height="1.0" fill="rgb(68,68,68)"/><rect x="117.9" y="67.8" width="1.0" height="1.0" fill="rgb(90,90,90)"/><rect x="103.6" y="57.9" width="1.0" height="1.0" fill="rgb(95,95,95)"/><rect x="84.2" y="72.2" width="1.0" height="1.0" fill="rgb(103,103,103)"/><rect x="90.3" y="75.6" width="1.0" height="1.0" fill="rgb(40,40,40)"/><rect x="88.0" y="71.3" width="1.0" height="1.0" fill="rgb(92,92,92)"/><rect x="90.6" y="76.2" width="1.0" height="1.0" fill="rgb(69,69,69)"/><rect x="86.0" y="79.9" width="1.0" height="1.0" fill="rgb(134,134,134)"/><rect x="85.7" y="76.0" width="1.0" height="1.0" fill="rgb(112,112,112)"/><rect x="86.7" y="75.2" width="1.0" height="1.0" fill="rgb(53,53,53)"/><rect x="87.6" y="75.5" width="1.0" height="1.0" fill="rgb(46,46,46)"/><rect x="89.4" y="72.6" width="1.0" height="1.0" fill="rgb(128,128,128)"/><rect x="85.2" y="73.5" width="1.0" height="1.0" fill="rgb(132,132,132)"/><rect x="97.1" y="75.5" width="1.0" height="1.0" fill="rgb(107,107,107)"/><rect x="90.2" y="77.0" width="1.0" height="1.0" fill="rgb(90,90,90)"/><rect x="89.3" y="76.3" width="1.0" height="1.0" fill="rgb(122,122,122)"/><rect x="92.2" y="69.5" width="1.0" height="1.0" fill="rgb(62,62,62)"/><rect x="76.1" y="80.0" width="1.0" height="1.0" fill="rgb(99,99,99)"/><rect x="92.6" y="73.4" width="1.0" height="1.0" fill="rgb(109,109,109)"/><rect x="89.5" y="75.9" width="1.0" height="1.0" fill="rgb(113,113,113)"/><rect x="83.7" y="72.0" width="1.0" height="1.0" fill="rgb(140,140,140)"/><rect x="80.6" y="74.9" width="1.0" height="1.0" fill="rgb(133,133,133)"/><rect x="97.3" y="70.5" width="1.0" height="1.0" fill="rgb(56,56,56)"/><rect x="104.1" y="73.1" width="1.0" height="1.0" fill="rgb(134,134,134)"/><rect x="86.3" y="73.2" width="1.0" height="1.0" fill="rgb(42,42,42)"/><rect x="90.3" y="74.7" width="1.0" height="1.0" fill="rgb(109,109,109)"/><rect x="88.7" y="76.6" width="1.0" height="1.0" fill="rgb(66,66,66)"/><rect x="78.8" y="77.4" width="1.0" height="1.0" fill="rgb(127,127,127)"/><rect x="89.1" y="76.2" width="1.0" height="1.0" fill="rgb(93,93,93)"/><rect x="88.5" y="76.4" width="1.0" height="1.0" fill="rgb(58,58,58)"/><rect x="98.3" y="71.4" width="1.0" height="1.0" fill="rgb(134,134,134)"/><rect x="81.1" y="73.7" width="1.0" height="1.0" fill="rgb(123,123,123)"/><rect x="91.2" y="79.2" width="1.0" height="1.0" fill="rgb(98,98,98)"/><rect x="81.4" y="71.4" width="1.0" height="1.0" fill="rgb(101,101,101)"/><rect x="90.0" y="72.4" width="1.0" height="1.0" fill="rgb(104,104,104)"/><rect x="73.9" y="80.8" width="1.0" height="1.0" fill="rgb(40,40,40)"/><rect x="86.2" y="78.2" width="1.0" height="1.0" fill="rgb(126,126,126)"/><rect x="91.9" y="76.5" width="1.0" height="1.0" fill="rgb(88,88,88)"/><rect x="80.4" y="75.5" width="1.0" height="1.0" fill="rgb(65,65,65)"/><rect x="92.3" y="67.6" width="1.0" height="1.0" fill="rgb(78,78,78)"/><rect x="96.8" y="73.5" width="1.0" height="1.0" fill="rgb(61,61,61)"/><rect x="85.9" y="75.1" width="1.0" height="1.0" fill="rgb(112,112,112)"/><rect x="93.2" y="68.2" width="1.0" height="1.0" fill="rgb(88,88,88)"/><rect x="88.1" y="75.8" width="1.0" height="1.0" fill="rgb(91,91,91)"/><rect x="80.6" y="74.3" width="1.0" height="1.0" fill="rgb(69,69,69)"/><rect x="88.9" y="76.7" width="1.0" height="1.0" fill="rgb(94,94,94)"/><rect x="88.7" y="72.0" width="1.0" height="1.0" fill="rgb(57,57,57)"/><rect x="89.8" y="72.1" width="1.0" height="1.0" fill="rgb(124,124,124)"/><rect x="83.3" y="72.7" width="1.0" height="1.0" fill="rgb(129,129,129)"/><rect x="87.7" y="72.0" width="1.0" height="1.0" fill="rgb(108,108,108)"/><rect x="91.5" y="72.3" width="1.0" height="1.0" fill="rgb(63,63,63)"/><rect x="89.7" y="74.4" width="1.0" height="1.0" fill="rgb(84,84,84)"/><rect x="85.9" y="72.2" width="1.0" height="1.0" fill="rgb(124,124,124)"/><rect x="91.7" y="73.9" width="1.0" height="1.0" fill="rgb(115,115,115)"/><rect x="89.0" y="73.4" width="1.0" height="1.0" fill="rgb(126,126,126)"/><rect x="94.4" y="74.1" width="1.0" height="1.0" fill="rgb(116,116,116)"/><rect x="87.9" y="72.6" width="1.0" height="1.0" fill="rgb(87,87,87)"/><rect x="89.7" y="77.3" width="1.0" height="1.0" fill="rgb(107,107,107)"/><rect x="93.0" y="71.8" width="1.0" height="1.0" fill="rgb(133,133,133)"/><rect x="84.4" y="77.0" width="1.0" height="1.0" fill="rgb(109,109,109)"/><rect x="96.3" y="71.3" width="1.0" height="1.0" fill="rgb(60,60,60)"/><rect x="88.0" y="70.3" width="1.0" height="1.0" fill="rgb(131,131,131)"/><rect x="90.2" y="66.9" width="1.0" height="1.0" fill="rgb(45,45,45)"/><rect x="96.7" y="70.4" width="1.0" height="1.0" fill="rgb(67,67,67)"/><rect x="91.6" y="75.4" width="1.0" height="1.0" fill="rgb(69,69,69)"/><rect x="83.2" y="76.8" width="1.0" height="1.0" fill="rgb(134,134,134)"/><rect x="85.7" y="71.4" width="1.0" height="1.0" fill="rgb(94,94,94)"/><rect x="85.0" y="76.1" width="1.0" height="1.0" fill="rgb(78,78,78)"/><rect x="107.4" y="67.3" width="1.0" height="1.0" fill="rgb(134,134,134)"/><rect x="88.7" y="78.1" width="1.0" height="1.0" fill="rgb(103,103,103)"/><rect x="87.5" y="73.3" width="1.0" height="1.0" fill="rgb(103,103,103)"/><rect x="87.6" y="74.6" width="1.0" height="1.0" fill="rgb(100,100,100)"/><rect x="94.7" y="76.7" width="1.0" height="1.0" fill="rgb(78,78,78)"/><rect x="93.6" y="74.3" width="1.0" height="1.0" fill="rgb(49,49,49)"/><rect x="91.8" y="70.7" width="1.0" height="1.0" fill="rgb(84,84,84)"/><rect x="84.1" y="75.5" width="1.0" height="1.0" fill="rgb(83,83,83)"/><rect x="86.3" y="75.5" width="1.0" height="1.0" fill="rgb(42,42,42)"/><rect x="86.4" y="73.6" width="1.0" height="1.0" fill="rgb(86,86,86)"/><rect x="88.0" y="76.6" width="1.0" height="1.0" fill="rgb(80,80,80)"/><rect x="86.6" y="77.1" width="1.0" height="1.0" fill="rgb(117,117,117)"/><rect x="88.3" y="73.6" width="1.0" height="1.0" fill="rgb(56,56,56)"/><rect x="99.0" y="69.2" width="1.0" height="1.0" fill="rgb(68,68,68)"/><rect x="84.5" y="76.8" width="1.0" height="1.0" fill="rgb(112,112,112)"/><rect x="82.2" y="77.2" width="1.0" height="1.0" fill="rgb(45,45,45)"/><rect x="82.9" y="72.5" width="1.0" height="1.0" fill="rgb(70,70,70)"/><rect x="87.7" y="74.7" width="1.0" height="1.0" fill="rgb(58,58,58)"/><rect x="81.2" y="75.2" width="1.0" height="1.0" fill="rgb(48,48,48)"/><rect x="91.4" y="71.4" width="1.0" height="1.0" fill="rgb(93,93,93)"/><rect x="85.0" y="73.0" width="1.0" height="1.0" fill="rgb(104,104,104)"/><rect x="85.8" y="76.4" width="1.0" height="1.0" fill="rgb(69,69,69)"/><rect x="89.6" y="75.8" width="1.0" height="1.0" fill="rgb(102,102,102)"/><rect x="86.9" y="70.6" width="1.0" height="1.0" fill="rgb(66,66,66)"/><rect x="78.2" y="78.1" width="1.0" height="1.0" fill="rgb(93,93,93)"/><rect x="80.1" y="76.2" width="1.0" height="1.0" fill="rgb(72,72,72)"/><rect x="88.5" y="72.4" width="1.0" height="1.0" fill="rgb(52,52,52)"/><rect x="83.4" y="79.6" width="1.0" height="1.0" fill="rgb(100,100,100)"/><rect x="98.5" y="73.6" width="1.0" height="1.0" fill="rgb(87,87,87)"/><rect x="88.5" y="75.5" width="1.0" height="1.0" fill="rgb(103,103,103)"/><rect x="96.2" y="75.3" width="1.0" height="1.0" fill="rgb(129,129,129)"/><rect x="92.3" y="69.9" width="1.0" height="1.0" fill="rgb(117,117,117)"/><rect x="92.5" y="75.3" width="1.0" height="1.0" fill="rgb(99,99,99)"/><rect x="93.5" y="72.4" width="1.0" height="1.0" fill="rgb(132,132,132)"/><rect x="95.0" y="69.6" width="1.0" height="1.0" fill="rgb(105,105,105)"/><rect x="90.1" y="71.3" width="1.0" height="1.0" fill="rgb(53,53,53)"/><rect x="94.6" y="70.8" width="1.0" height="1.0" fill="rgb(46,46,46)"/><rect x="89.4" y="77.7" width="1.0" height="1.0" fill="rgb(70,70,70)"/><rect x="82.8" y="72.4" width="1.0" height="1.0" fill="rgb(114,114,114)"/><rect x="90.8" y="72.7" width="1.0" height="1.0" fill="rgb(41,41,41)"/><rect x="94.5" y="75.6" width="1.0" height="1.0" fill="rgb(108,108,108)"/><rect x="86.3" y="76.5" width="1.0" height="1.0" fill="rgb(46,46,46)"/><rect x="100.5" y="66.1" width="1.0" height="1.0" fill="rgb(48,48,48)"/><rect x="89.3" y="75.8" width="1.0" height="1.0" fill="rgb(59,59,59)"/><rect x="89.2" y="78.4" width="1.0" height="1.0" fill="rgb(54,54,54)"/><rect x="93.0" y="75.1" width="1.0" height="1.0" fill="rgb(67,67,67)"/><rect x="92.0" y="70.7" width="1.0" height="1.0" fill="rgb(53,53,53)"/><rect x="87.1" y="76.6" width="1.0" height="1.0" fill="rgb(88,88,88)"/><rect x="88.4" y="72.0" width="1.0" height="1.0" fill="rgb(75,75,75)"/><rect x="93.1" y="71.5" width="1.0" height="1.0" fill="rgb(138,138,138)"/><rect x="86.2" y="73.7" width="1.0" height="1.0" fill="rgb(136,136,136)"/><rect x="104.5" y="73.7" width="1.0" height="1.0" fill="rgb(60,60,60)"/><rect x="91.7" y="78.7" width="1.0" height="1.0" fill="rgb(69,69,69)"/><rect x="89.4" y="76.1" width="1.0" height="1.0" fill="rgb(123,123,123)"/><rect x="93.2" y="73.7" width="1.0" height="1.0" fill="rgb(106,106,106)"/><rect x="84.1" y="78.8" width="1.0" height="1.0" fill="rgb(44,44,44)"/><rect x="89.0" y="72.3" width="1.0" height="1.0" fill="rgb(105,105,105)"/><rect x="94.5" y="74.2" width="1.0" height="1.0" fill="rgb(97,97,97)"/><rect x="89.1" y="72.5" width="1.0" height="1.0" fill="rgb(81,81,81)"/><rect x="86.9" y="72.9" width="1.0" height="1.0" fill="rgb(53,53,53)"/><rect x="86.7" y="76.2" width="1.0" height="1.0" fill="rgb(116,116,116)"/><rect x="77.5" y="71.4" width="1.0" height="1.0" fill="rgb(82,82,82)"/><rect x="89.7" y="72.3" width="1.0" height="1.0" fill="rgb(137,137,137)"/><rect x="92.2" y="66.1" width="1.0" height="1.0" fill="rgb(71,71,71)"/><rect x="85.8" y="73.8" width="1.0" height="1.0" fill="rgb(67,67,67)"/><rect x="87.9" y="73.7" width="1.0" height="1.0" fill="rgb(57,57,57)"/><rect x="79.7" y="72.5" width="1.0" height="1.0" fill="rgb(41,41,41)"/><rect x="90.1" y="73.0" width="1.0" height="1.0" fill="rgb(62,62,62)"/><rect x="88.5" y="76.1" width="1.0" height="1.0" fill="rgb(54,54,54)"/><rect x="92.6" y="74.0" width="1.0" height="1.0" fill="rgb(70,70,70)"/><rect x="81.1" y="74.6" width="1.0" height="1.0" fill="rgb(40,40,40)"/><rect x="90.1" y="75.1" width="1.0" height="1.0" fill="rgb(93,93,93)"/><rect x="88.0" y="70.4" width="1.0" height="1.0" fill="rgb(54,54,54)"/><rect x="91.2" y="74.1" width="1.0" height="1.0" fill="rgb(46,46,46)"/><rect x="90.6" y="73.8" width="1.0" height="1.0" fill="rgb(72,72,72)"/><rect x="86.8" y="71.5" width="1.0" height="1.0" fill="rgb(91,91,91)"/><rect x="81.4" y="81.9" width="1.0" height="1.0" fill="rgb(114,114,114)"/><rect x="89.7" y="72.8" width="1.0" height="1.0" fill="rgb(97,97,97)"/><rect x="90.7" y="70.9" width="1.0" height="1.0" fill="rgb(95,95,95)"/><rect x="83.4" y="76.0" width="1.0" height="1.0" fill="rgb(117,117,117)"/><rect x="85.7" y="73.3" width="1.0" height="1.0" fill="rgb(114,114,114)"/><rect x="91.0" y="69.8" width="1.0" height="1.0" fill="rgb(41,41,41)"/><rect x="87.8" y="73.4" width="1.0" height="1.0" fill="rgb(104,104,104)"/><rect x="88.8" y="77.3" width="1.0" height="1.0" fill="rgb(103,103,103)"/><rect x="89.9" y="70.4" width="1.0" height="1.0" fill="rgb(120,120,120)"/><rect x="90.6" y="74.0" width="1.0" height="1.0" fill="rgb(56,56,56)"/><rect x="81.7" y="75.7" width="1.0" height="1.0" fill="rgb(68,68,68)"/><rect x="82.0" y="79.4" width="1.0" height="1.0" fill="rgb(70,70,70)"/><rect x="86.2" y="76.3" width="1.0" height="1.0" fill="rgb(78,78,78)"/><rect x="97.2" y="67.1" width="1.0" height="1.0" fill="rgb(71,71,71)"/><rect x="86.7" y="78.0" width="1.0" height="1.0" fill="rgb(119,119,119)"/><rect x="98.7" y="71.6" width="1.0" height="1.0" fill="rgb(126,126,126)"/><rect x="87.0" y="78.1" width="1.0" height="1.0" fill="rgb(73,73,73)"/><rect x="86.5" y="72.9" width="1.0" height="1.0" fill="rgb(86,86,86)"/><rect x="88.8" y="75.0" width="1.0" height="1.0" fill="rgb(98,98,98)"/><rect x="85.9" y="73.9" width="1.0" height="1.0" fill="rgb(67,67,67)"/><rect x="77.7" y="76.6" width="1.0" height="1.0" fill="rgb(78,78,78)"/><rect x="83.0" y="72.6" width="1.0" height="1.0" fill="rgb(102,102,102)"/><rect x="76.5" y="75.3" width="1.0" height="1.0" fill="rgb(100,100,100)"/><rect x="93.1" y="72.7" width="1.0" height="1.0" fill="rgb(44,44,44)"/><rect x="76.6" y="79.0" width="1.0" height="1.0" fill="rgb(102,102,102)"/><rect x="85.0" y="76.5" width="1.0" height="1.0" fill="rgb(65,65,65)"/><rect x="89.2" y="73.9" width="1.0" height="1.0" fill="rgb(110,110,110)"/><rect x="76.6" y="78.5" width="1.0" height="1.0" fill="rgb(137,137,137)"/><rect x="91.7" y="75.3" width="1.0" height="1.0" fill="rgb(87,87,87)"/><rect x="85.0" y="71.1" width="1.0" height="1.0" fill="rgb(123,123,123)"/><rect x="86.9" y="73.7" width="1.0" height="1.0" fill="rgb(89,89,89)"/><rect x="79.1" y="78.4" width="1.0" height="1.0" fill="rgb(117,117,117)"/><rect x="91.7" y="75.0" width="1.0" height="1.0" fill="rgb(126,126,126)"/><rect x="93.1" y="70.3" width="1.0" height="1.0" fill="rgb(61,61,61)"/><rect x="93.2" y="77.6" width="1.0" height="1.0" fill="rgb(122,122,122)"/><rect x="101.5" y="67.9" width="1.0" height="1.0" fill="rgb(74,74,74)"/><rect x="79.2" y="77.9" width="1.0" height="1.0" fill="rgb(83,83,83)"/><rect x="86.2" y="72.9" width="1.0" height="1.0" fill="rgb(114,114,114)"/><rect x="87.9" y="73.6" width="1.0" height="1.0" fill="rgb(48,48,48)"/><rect x="96.9" y="69.0" width="1.0" height="1.0" fill="rgb(139,139,139)"/><rect x="79.1" y="72.7" width="1.0" height="1.0" fill="rgb(53,53,53)"/><rect x="84.1" y="73.5" width="1.0" height="1.0" fill="rgb(136,136,136)"/><rect x="87.1" y="75.7" width="1.0" height="1.0" fill="rgb(99,99,99)"/><rect x="83.8" y="69.2" width="1.0" height="1.0" fill="rgb(122,122,122)"/><rect x="89.3" y="75.2" width="1.0" height="1.0" fill="rgb(53,53,53)"/><rect x="98.4" y="73.5" width="1.0" height="1.0" fill="rgb(109,109,109)"/><rect x="85.2" y="76.8" width="1.0" height="1.0" fill="rgb(50,50,50)"/><rect x="84.9" y="80.7" width="1.0" height="1.0" fill="rgb(140,140,140)"/><rect x="94.6" y="71.6" width="1.0" height="1.0" fill="rgb(58,58,58)"/><rect x="83.6" y="75.5" width="1.0" height="1.0" fill="rgb(124,124,124)"/><rect x="87.6" y="76.1" width="1.0" height="1.0" fill="rgb(112,112,112)"/><rect x="88.2" y="76.9" width="1.0" height="1.0" fill="rgb(131,131,131)"/><rect x="85.1" y="74.4" width="1.0" height="1.0" fill="rgb(77,77,77)"/><rect x="80.7" y="76.7" width="1.0" height="1.0" fill="rgb(48,48,48)"/><rect x="87.7" y="70.7" width="1.0" height="1.0" fill="rgb(47,47,47)"/><rect x="88.6" y="78.8" width="1.0" height="1.0" fill="rgb(79,79,79)"/><rect x="90.3" y="74.1" width="1.0" height="1.0" fill="rgb(59,59,59)"/><rect x="93.4" y="68.6" width="1.0" height="1.0" fill="rgb(46,46,46)"/><rect x="101.1" y="69.9" width="1.0" height="1.0" fill="rgb(94,94,94)"/><rect x="80.6" y="76.7" width="1.0" height="1.0" fill="rgb(106,106,106)"/><rect x="86.3" y="73.9" width="1.0" height="1.0" fill="rgb(100,100,100)"/><rect x="91.8" y="74.6" width="1.0" height="1.0" fill="rgb(54,54,54)"/><rect x="82.1" y="74.3" width="1.0" height="1.0" fill="rgb(130,130,130)"/><rect x="85.6" y="75.0" width="1.0" height="1.0" fill="rgb(110,110,110)"/><rect x="82.8" y="71.9" width="1.0" height="1.0" fill="rgb(88,88,88)"/><rect x="105.7" y="70.9" width="1.0" height="1.0" fill="rgb(49,49,49)"/><rect x="86.0" y="73.2" width="1.0" height="1.0" fill="rgb(70,70,70)"/><rect x="87.7" y="79.2" width="1.0" height="1.0" fill="rgb(123,123,123)"/><rect x="98.4" y="77.8" width="1.0" height="1.0" fill="rgb(123,123,123)"/><rect x="88.7" y="79.3" width="1.0" height="1.0" fill="rgb(109,109,109)"/><rect x="91.9" y="67.9" width="1.0" height="1.0" fill="rgb(68,68,68)"/><rect x="88.9" y="76.7" width="1.0" height="1.0" fill="rgb(86,86,86)"/><rect x="79.3" y="75.0" width="1.0" height="1.0" fill="rgb(113,113,113)"/><rect x="84.9" y="71.8" width="1.0" height="1.0" fill="rgb(109,109,109)"/><rect x="82.4" y="75.5" width="1.0" height="1.0" fill="rgb(46,46,46)"/><rect x="84.2" y="78.6" width="1.0" height="1.0" fill="rgb(108,108,108)"/><rect x="95.9" y="73.2" width="1.0" height="1.0" fill="rgb(68,68,68)"/><rect x="88.5" y="72.8" width="1.0" height="1.0" fill="rgb(42,42,42)"/><rect x="98.0" y="68.5" width="1.0" height="1.0" fill="rgb(83,83,83)"/><rect x="88.1" y="77.4" width="1.0" height="1.0" fill="rgb(53,53,53)"/><rect x="92.1" y="74.1" width="1.0" height="1.0" fill="rgb(109,109,109)"/><rect x="75.0" y="77.9" width="1.0" height="1.0" fill="rgb(137,137,137)"/><rect x="90.9" y="80.4" width="1.0" height="1.0" fill="rgb(46,46,46)"/><rect x="85.8" y="70.7" width="1.0" height="1.0" fill="rgb(71,71,71)"/><rect x="100.8" y="73.0" width="1.0" height="1.0" fill="rgb(122,122,122)"/><rect x="94.1" y="80.5" width="1.0" height="1.0" fill="rgb(79,79,79)"/><rect x="82.6" y="73.4" width="1.0" height="1.0" fill="rgb(86,86,86)"/><rect x="91.4" y="71.3" width="1.0" height="1.0" fill="rgb(41,41,41)"/><rect x="88.7" y="70.1" width="1.0" height="1.0" fill="rgb(133,133,133)"/><rect x="86.8" y="73.4" width="1.0" height="1.0" fill="rgb(49,49,49)"/><rect x="92.6" y="76.9" width="1.0" height="1.0" fill="rgb(104,104,104)"/><rect x="74.6" y="79.4" width="1.0" height="1.0" fill="rgb(64,64,64)"/><rect x="84.8" y="74.0" width="1.0" height="1.0" fill="rgb(80,80,80)"/><rect x="79.7" y="74.7" width="1.0" height="1.0" fill="rgb(60,60,60)"/><rect x="96.6" y="75.6" width="1.0" height="1.0" fill="rgb(87,87,87)"/><rect x="91.2" y="68.4" width="1.0" height="1.0" fill="rgb(85,85,85)"/><rect x="85.8" y="71.0" width="1.0" height="1.0" fill="rgb(120,120,120)"/><rect x="88.9" y="70.1" width="1.0" height="1.0" fill="rgb(83,83,83)"/><rect x="94.1" y="73.5" width="1.0" height="1.0" fill="rgb(135,135,135)"/><rect x="88.4" y="71.5" width="1.0" height="1.0" fill="rgb(108,108,108)"/><rect x="90.1" y="73.7" width="1.0" height="1.0" fill="rgb(81,81,81)"/><rect x="86.2" y="70.7" width="1.0" height="1.0" fill="rgb(62,62,62)"/><rect x="85.5" y="77.0" width="1.0" height="1.0" fill="rgb(48,48,48)"/><rect x="80.7" y="75.4" width="1.0" height="1.0" fill="rgb(96,96,96)"/><rect x="78.5" y="75.3" width="1.0" height="1.0" fill="rgb(110,110,110)"/><rect x="88.1" y="77.5" width="1.0" height="1.0" fill="rgb(101,101,101)"/><rect x="91.8" y="72.8" width="1.0" height="1.0" fill="rgb(107,107,107)"/><rect x="78.7" y="76.6" width="1.0" height="1.0" fill="rgb(95,95,95)"/><rect x="93.6" y="73.0" width="1.0" height="1.0" fill="rgb(57,57,57)"/><rect x="92.3" y="69.1" width="1.0" height="1.0" fill="rgb(123,123,123)"/><rect x="77.9" y="75.3" width="1.0" height="1.0" fill="rgb(104,104,104)"/><rect x="81.1" y="78.4" width="1.0" height="1.0" fill="rgb(95,95,95)"/><rect x="86.4" y="71.9" width="1.0" height="1.0" fill="rgb(106,106,106)"/><rect x="89.1" y="72.8" width="1.0" height="1.0" fill="rgb(105,105,105)"/><rect x="89.6" y="74.9" width="1.0" height="1.0" fill="rgb(110,110,110)"/><rect x="91.0" y="72.1" width="1.0" height="1.0" fill="rgb(84,84,84)"/><rect x="96.2" y="72.5" width="1.0" height="1.0" fill="rgb(86,86,86)"/><rect x="95.1" y="78.0" width="1.0" height="1.0" fill="rgb(95,95,95)"/><rect x="90.6" y="76.7" width="1.0" height="1.0" fill="rgb(55,55,55)"/><rect x="87.9" y="78.3" width="1.0" height="1.0" fill="rgb(92,92,92)"/><rect x="84.5" y="73.1" width="1.0" height="1.0" fill="rgb(68,68,68)"/><rect x="82.0" y="76.8" width="1.0" height="1.0" fill="rgb(131,131,131)"/><rect x="76.1" y="72.4" width="1.0" height="1.0" fill="rgb(93,93,93)"/><rect x="90.6" y="73.9" width="1.0" height="1.0" fill="rgb(58,58,58)"/><rect x="84.9" y="78.2" width="1.0" height="1.0" fill="rgb(124,124,124)"/><rect x="87.7" y="71.9" width="1.0" height="1.0" fill="rgb(69,69,69)"/><rect x="89.8" y="68.1" width="1.0" height="1.0" fill="rgb(99,99,99)"/><rect x="94.1" y="75.6" width="1.0" height="1.0" fill="rgb(114,114,114)"/><rect x="87.9" y="72.8" width="1.0" height="1.0" fill="rgb(49,49,49)"/><rect x="84.9" y="72.1" width="1.0" height="1.0" fill="rgb(117,117,117)"/><rect x="87.8" y="70.4" width="1.0" height="1.0" fill="rgb(134,134,134)"/><rect x="92.8" y="74.0" width="1.0" height="1.0" fill="rgb(87,87,87)"/><rect x="89.9" y="74.1" width="1.0" height="1.0" fill="rgb(91,91,91)"/><rect x="88.1" y="68.1" width="1.0" height="1.0" fill="rgb(87,87,87)"/><rect x="84.4" y="83.6" width="1.0" height="1.0" fill="rgb(72,72,72)"/><rect x="98.8" y="71.4" width="1.0" height="1.0" fill="rgb(48,48,48)"/><rect x="84.9" y="71.7" width="1.0" height="1.0" fill="rgb(87,87,87)"/><rect x="98.2" y="69.4" width="1.0" height="1.0" fill="rgb(61,61,61)"/><rect x="88.7" y="73.2" width="1.0" height="1.0" fill="rgb(56,56,56)"/><rect x="90.8" y="75.8" width="1.0" height="1.0" fill="rgb(76,76,76)"/><rect x="82.0" y="73.1" width="1.0" height="1.0" fill="rgb(95,95,95)"/><rect x="93.5" y="75.2" width="1.0" height="1.0" fill="rgb(125,125,125)"/><rect x="84.0" y="74.5" width="1.0" height="1.0" fill="rgb(55,55,55)"/><rect x="88.0" y="77.0" width="1.0" height="1.0" fill="rgb(114,114,114)"/><rect x="90.8" y="71.4" width="1.0" height="1.0" fill="rgb(113,113,113)"/><rect x="87.1" y="73.5" width="1.0" height="1.0" fill="rgb(49,49,49)"/><rect x="91.3" y="77.0" width="1.0" height="1.0" fill="rgb(111,111,111)"/><rect x="88.1" y="72.9" width="1.0" height="1.0" fill="rgb(59,59,59)"/><rect x="81.9" y="76.1" width="1.0" height="1.0" fill="rgb(123,123,123)"/><rect x="89.7" y="75.2" width="1.0" height="1.0" fill="rgb(79,79,79)"/><rect x="89.0" y="74.5" width="1.0" height="1.0" fill="rgb(67,67,67)"/><rect x="87.1" y="73.7" width="1.0" height="1.0" fill="rgb(50,50,50)"/><rect x="94.6" y="71.5" width="1.0" height="1.0" fill="rgb(85,85,85)"/><rect x="93.3" y="74.5" width="1.0" height="1.0" fill="rgb(90,90,90)"/><rect x="87.6" y="73.3" width="1.0" height="1.0" fill="rgb(128,128,128)"/><rect x="86.6" y="74.4" width="1.0" height="1.0" fill="rgb(130,130,130)"/><rect x="83.6" y="74.0" width="1.0" height="1.0" fill="rgb(76,76,76)"/><rect x="96.1" y="69.6" width="1.0" height="1.0" fill="rgb(124,124,124)"/><rect x="90.3" y="70.8" width="1.0" height="1.0" fill="rgb(117,117,117)"/><rect x="96.0" y="72.9" width="1.0" height="1.0" fill="rgb(109,109,109)"/><rect x="96.9" y="72.2" width="1.0" height="1.0" fill="rgb(60,60,60)"/><rect x="94.4" y="71.8" width="1.0" height="1.0" fill="rgb(89,89,89)"/><rect x="91.4" y="73.2" width="1.0" height="1.0" fill="rgb(123,123,123)"/><rect x="90.6" y="72.9" width="1.0" height="1.0" fill="rgb(111,111,111)"/><rect x="83.9" y="72.2" width="1.0" height="1.0" fill="rgb(41,41,41)"/><rect x="81.2" y="78.9" width="1.0" height="1.0" fill="rgb(45,45,45)"/><rect x="93.0" y="79.3" width="1.0" height="1.0" fill="rgb(50,50,50)"/><rect x="90.1" y="76.2" width="1.0" height="1.0" fill="rgb(49,49,49)"/><rect x="82.7" y="73.9" width="1.0" height="1.0" fill="rgb(45,45,45)"/><rect x="86.7" y="72.6" width="1.0" height="1.0" fill="rgb(128,128,128)"/><rect x="86.1" y="74.7" width="1.0" height="1.0" fill="rgb(94,94,94)"/><rect x="92.2" y="71.9" width="1.0" height="1.0" fill="rgb(127,127,127)"/><rect x="93.3" y="73.1" width="1.0" height="1.0" fill="rgb(104,104,104)"/><rect x="91.0" y="68.6" width="1.0" height="1.0" fill="rgb(116,116,116)"/><rect x="89.6" y="76.9" width="1.0" height="1.0" fill="rgb(47,47,47)"/><rect x="100.4" y="68.7" width="1.0" height="1.0" fill="rgb(83,83,83)"/><rect x="87.3" y="74.1" width="1.0" height="1.0" fill="rgb(102,102,102)"/><rect x="92.0" y="68.3" width="1.0" height="1.0" fill="rgb(98,98,98)"/><rect x="91.9" y="71.7" width="1.0" height="1.0" fill="rgb(95,95,95)"/><rect x="83.8" y="82.7" width="1.0" height="1.0" fill="rgb(67,67,67)"/><rect x="89.5" y="84.2" width="1.0" height="1.0" fill="rgb(99,99,99)"/><rect x="82.1" y="83.3" width="1.0" height="1.0" fill="rgb(56,56,56)"/><rect x="100.1" y="85.2" width="1.0" height="1.0" fill="rgb(68,68,68)"/><rect x="93.8" y="84.7" width="1.0" height="1.0" fill="rgb(137,137,137)"/><rect x="85.4" y="82.8" width="1.0" height="1.0" fill="rgb(116,116,116)"/><rect x="94.6" y="84.0" width="1.0" height="1.0" fill="rgb(133,133,133)"/><rect x="80.4" y="84.7" width="1.0" height="1.0" fill="rgb(99,99,99)"/><rect x="90.2" y="85.1" width="1.0" height="1.0" fill="rgb(131,131,131)"/><rect x="96.2" y="85.4" width="1.0" height="1.0" fill="rgb(120,120,120)"/><rect x="88.9" y="81.9" width="1.0" height="1.0" fill="rgb(85,85,85)"/><rect x="82.5" y="86.5" width="1.0" height="1.0" fill="rgb(107,107,107)"/><rect x="75.5" y="84.3" width="1.0" height="1.0" fill="rgb(116,116,116)"/><rect x="93.1" y="86.6" width="1.0" height="1.0" fill="rgb(65,65,65)"/><rect x="75.8" y="85.7" width="1.0" height="1.0" fill="rgb(63,63,63)"/><rect x="91.1" y="86.4" width="1.0" height="1.0" fill="rgb(133,133,133)"/><rect x="89.0" y="86.0" width="1.0" height="1.0" fill="rgb(103,103,103)"/><rect x="83.3" y="85.8" width="1.0" height="1.0" fill="rgb(68,68,68)"/><rect x="93.4" y="82.5" width="1.0" height="1.0" fill="rgb(100,100,100)"/><rect x="82.5" y="86.7" width="1.0" height="1.0" fill="rgb(103,103,103)"/><rect x="89.0" y="82.9" width="1.0" height="1.0" fill="rgb(84,84,84)"/><rect x="86.7" y="86.5" width="1.0" height="1.0" fill="rgb(61,61,61)"/><rect x="89.2" y="84.8" width="1.0" height="1.0" fill="rgb(66,66,66)"/><rect x="79.6" y="88.1" width="1.0" height="1.0" fill="rgb(51,51,51)"/><rect x="86.6" y="84.3" width="1.0" height="1.0" fill="rgb(74,74,74)"/><rect x="93.4" y="83.0" width="1.0" height="1.0" fill="rgb(125,125,125)"/><rect x="83.9" y="88.2" width="1.0" height="1.0" fill="rgb(96,96,96)"/><rect x="76.9" y="83.9" width="1.0" height="1.0" fill="rgb(54,54,54)"/><rect x="94.6" y="85.1" width="1.0" height="1.0" fill="rgb(122,122,122)"/><rect x="78.8" y="83.1" width="1.0" height="1.0" fill="rgb(97,97,97)"/><rect x="84.8" y="87.3" width="1.0" height="1.0" fill="rgb(118,118,118)"/><rect x="93.4" y="86.6" width="1.0" height="1.0" fill="rgb(107,107,107)"/><rect x="90.3" y="85.1" width="1.0" height="1.0" fill="rgb(130,130,130)"/><rect x="88.3" y="83.2" width="1.0" height="1.0" fill="rgb(107,107,107)"/><rect x="84.0" y="85.3" width="1.0" height="1.0" fill="rgb(99,99,99)"/><rect x="89.0" y="82.0" width="1.0" height="1.0" fill="rgb(135,135,135)"/><rect x="96.4" y="83.9" width="1.0" height="1.0" fill="rgb(48,48,48)"/><rect x="83.8" y="83.4" width="1.0" height="1.0" fill="rgb(100,100,100)"/><rect x="97.7" y="84.8" width="1.0" height="1.0" fill="rgb(59,59,59)"/><rect x="94.8" y="86.7" width="1.0" height="1.0" fill="rgb(60,60,60)"/><rect x="99.0" y="83.6" width="1.0" height="1.0" fill="rgb(132,132,132)"/><rect x="94.7" y="83.5" width="1.0" height="1.0" fill="rgb(111,111,111)"/><rect x="104.3" y="84.0" width="1.0" height="1.0" fill="rgb(65,65,65)"/><rect x="97.6" y="84.7" width="1.0" height="1.0" fill="rgb(47,47,47)"/><rect x="94.4" y="86.3" width="1.0" height="1.0" fill="rgb(40,40,40)"/><rect x="86.9" y="83.1" width="1.0" height="1.0" fill="rgb(80,80,80)"/><rect x="94.9" y="84.7" width="1.0" height="1.0" fill="rgb(84,84,84)"/><rect x="85.6" y="84.7" width="1.0" height="1.0" fill="rgb(139,139,139)"/><rect x="100.6" y="82.5" width="1.0" height="1.0" fill="rgb(61,61,61)"/><rect x="86.1" y="84.4" width="1.0" height="1.0" fill="rgb(70,70,70)"/><rect x="81.2" y="83.9" width="1.0" height="1.0" fill="rgb(61,61,61)"/><rect x="89.3" y="85.0" width="1.0" height="1.0" fill="rgb(132,132,132)"/><rect x="91.7" y="86.3" width="1.0" height="1.0" fill="rgb(81,81,81)"/><rect x="94.2" y="84.5" width="1.0" height="1.0" fill="rgb(86,86,86)"/><rect x="99.4" y="85.2" width="1.0" height="1.0" fill="rgb(104,104,104)"/><rect x="77.5" y="89.3" width="1.0" height="1.0" fill="rgb(129,129,129)"/><rect x="96.5" y="82.7" width="1.0" height="1.0" fill="rgb(114,114,114)"/><rect x="88.3" y="85.5" width="1.0" height="1.0" fill="rgb(136,136,136)"/><rect x="90.2" y="83.2" width="1.0" height="1.0" fill="rgb(109,109,109)"/><rect x="88.3" y="85.0" width="1.0" height="1.0" fill="rgb(40,40,40)"/><rect x="81.2" y="85.1" width="1.0" height="1.0" fill="rgb(135,135,135)"/><rect x="91.2" y="78.2" width="1.0" height="1.0" fill="rgb(59,59,59)"/><rect x="88.2" y="86.6" width="1.0" height="1.0" fill="rgb(73,73,73)"/><rect x="84.7" y="84.6" width="1.0" height="1.0" fill="rgb(99,99,99)"/><rect x="93.3" y="82.8" width="1.0" height="1.0" fill="rgb(40,40,40)"/><rect x="87.9" y="82.8" width="1.0" height="1.0" fill="rgb(110,110,110)"/><rect x="88.5" y="79.4" width="1.0" height="1.0" fill="rgb(133,133,133)"/><rect x="86.3" y="83.7" width="1.0" height="1.0" fill="rgb(106,106,106)"/><rect x="95.5" y="83.1" width="1.0" height="1.0" fill="rgb(137,137,137)"/><rect x="85.3" y="88.3" width="1.0" height="1.0" fill="rgb(119,119,119)"/><rect x="84.8" y="84.9" width="1.0" height="1.0" fill="rgb(103,103,103)"/><rect x="92.5" y="82.9" width="1.0" height="1.0" fill="rgb(131,131,131)"/><rect x="93.6" y="85.0" width="1.0" height="1.0" fill="rgb(42,42,42)"/><rect x="99.8" y="84.8" width="1.0" height="1.0" fill="rgb(71,71,71)"/><rect x="96.5" y="84.0" width="1.0" height="1.0" fill="rgb(64,64,64)"/><rect x="74.9" y="86.1" width="1.0" height="1.0" fill="rgb(81,81,81)"/><rect x="78.9" y="83.7" width="1.0" height="1.0" fill="rgb(125,125,125)"/><rect x="97.3" y="83.0" width="1.0" height="1.0" fill="rgb(106,106,106)"/><rect x="84.0" y="84.5" width="1.0" height="1.0" fill="rgb(73,73,73)"/><rect x="84.7" y="84.5" width="1.0" height="1.0" fill="rgb(83,83,83)"/><rect x="85.1" y="81.9" width="1.0" height="1.0" fill="rgb(105,105,105)"/><rect x="85.8" y="83.5" width="1.0" height="1.0" fill="rgb(106,106,106)"/><rect x="95.5" y="83.7" width="1.0" height="1.0" fill="rgb(95,95,95)"/><rect x="90.7" y="86.0" width="1.0" height="1.0" fill="rgb(49,49,49)"/><rect x="87.1" y="86.3" width="1.0" height="1.0" fill="rgb(59,59,59)"/><rect x="99.9" y="83.9" width="1.0" height="1.0" fill="rgb(92,92,92)"/><rect x="91.8" y="82.9" width="1.0" height="1.0" fill="rgb(95,95,95)"/><rect x="83.7" y="86.0" width="1.0" height="1.0" fill="rgb(109,109,109)"/><rect x="88.0" y="84.5" width="1.0" height="1.0" fill="rgb(51,51,51)"/><rect x="93.6" y="83.8" width="1.0" height="1.0" fill="rgb(53,53,53)"/><rect x="99.0" y="84.9" width="1.0" height="1.0" fill="rgb(111,111,111)"/><rect x="97.9" y="82.7" width="1.0" height="1.0" fill="rgb(64,64,64)"/><rect x="88.5" y="81.4" width="1.0" height="1.0" fill="rgb(107,107,107)"/><rect x="96.9" y="81.9" width="1.0" height="1.0" fill="rgb(45,45,45)"/><rect x="90.3" y="81.7" width="1.0" height="1.0" fill="rgb(128,128,128)"/><rect x="91.3" y="83.0" width="1.0" height="1.0" fill="rgb(81,81,81)"/><rect x="90.7" y="82.2" width="1.0" height="1.0" fill="rgb(62,62,62)"/><rect x="91.8" y="84.9" width="1.0" height="1.0" fill="rgb(100,100,100)"/><rect x="95.8" y="84.7" width="1.0" height="1.0" fill="rgb(54,54,54)"/><rect x="85.2" y="84.8" width="1.0" height="1.0" fill="rgb(135,135,135)"/><rect x="96.1" y="85.8" width="1.0" height="1.0" fill="rgb(80,80,80)"/><rect x="88.4" y="81.8" width="1.0" height="1.0" fill="rgb(46,46,46)"/><rect x="83.7" y="83.4" width="1.0" height="1.0" fill="rgb(117,117,117)"/><rect x="87.9" y="88.7" width="1.0" height="1.0" fill="rgb(79,79,79)"/><rect x="81.3" y="81.8" width="1.0" height="1.0" fill="rgb(123,123,123)"/><rect x="96.8" y="81.6" width="1.0" height="1.0" fill="rgb(55,55,55)"/><rect x="97.1" y="88.5" width="1.0" height="1.0" fill="rgb(132,132,132)"/><rect x="74.3" y="82.9" width="1.0" height="1.0" fill="rgb(53,53,53)"/><rect x="87.2" y="86.0" width="1.0" height="1.0" fill="rgb(132,132,132)"/><rect x="89.9" y="81.4" width="1.0" height="1.0" fill="rgb(48,48,48)"/><rect x="99.2" y="85.6" width="1.0" height="1.0" fill="rgb(113,113,113)"/><rect x="83.3" y="83.5" width="1.0" height="1.0" fill="rgb(98,98,98)"/><rect x="96.7" y="86.0" width="1.0" height="1.0" fill="rgb(127,127,127)"/><rect x="92.5" y="82.9" width="1.0" height="1.0" fill="rgb(75,75,75)"/><rect x="95.8" y="82.1" width="1.0" height="1.0" fill="rgb(109,109,109)"/><rect x="96.7" y="80.3" width="1.0" height="1.0" fill="rgb(56,56,56)"/><rect x="88.1" y="83.9" width="1.0" height="1.0" fill="rgb(108,108,108)"/><rect x="108.5" y="81.8" width="1.0" height="1.0" fill="rgb(78,78,78)"/><rect x="76.0" y="85.2" width="1.0" height="1.0" fill="rgb(67,67,67)"/><rect x="87.4" y="84.3" width="1.0" height="1.0" fill="rgb(72,72,72)"/><rect x="92.8" y="81.9" width="1.0" height="1.0" fill="rgb(137,137,137)"/><rect x="90.4" y="84.8" width="1.0" height="1.0" fill="rgb(82,82,82)"/><rect x="91.6" y="83.5" width="1.0" height="1.0" fill="rgb(129,129,129)"/><rect x="97.9" y="85.4" width="1.0" height="1.0" fill="rgb(116,116,116)"/><rect x="99.9" y="84.2" width="1.0" height="1.0" fill="rgb(70,70,70)"/><rect x="85.2" y="83.2" width="1.0" height="1.0" fill="rgb(91,91,91)"/><rect x="90.3" y="84.3" width="1.0" height="1.0" fill="rgb(86,86,86)"/><rect x="91.4" y="87.9" width="1.0" height="1.0" fill="rgb(136,136,136)"/><rect x="85.8" y="82.1" width="1.0" height="1.0" fill="rgb(94,94,94)"/><rect x="86.2" y="83.6" width="1.0" height="1.0" fill="rgb(125,125,125)"/><rect x="86.6" y="86.4" width="1.0" height="1.0" fill="rgb(91,91,91)"/><rect x="84.1" y="84.7" width="1.0" height="1.0" fill="rgb(120,120,120)"/><rect x="81.4" y="82.0" width="1.0" height="1.0" fill="rgb(62,62,62)"/><rect x="101.1" y="84.6" width="1.0" height="1.0" fill="rgb(139,139,139)"/><rect x="92.8" y="83.6" width="1.0" height="1.0" fill="rgb(116,116,116)"/><rect x="77.7" y="85.2" width="1.0" height="1.0" fill="rgb(108,108,108)"/><rect x="88.2" y="85.5" width="1.0" height="1.0" fill="rgb(67,67,67)"/><rect x="82.3" y="85.2" width="1.0" height="1.0" fill="rgb(124,124,124)"/><rect x="95.4" y="81.6" width="1.0" height="1.0" fill="rgb(66,66,66)"/><rect x="78.5" y="84.5" width="1.0" height="1.0" fill="rgb(130,130,130)"/><rect x="82.1" y="83.8" width="1.0" height="1.0" fill="rgb(105,105,105)"/><rect x="95.4" y="83.1" width="1.0" height="1.0" fill="rgb(40,40,40)"/><rect x="77.2" y="84.8" width="1.0" height="1.0" fill="rgb(127,127,127)"/><rect x="79.0" y="86.3" width="1.0" height="1.0" fill="rgb(92,92,92)"/><rect x="86.3" y="85.9" width="1.0" height="1.0" fill="rgb(102,102,102)"/><rect x="95.5" y="83.1" width="1.0" height="1.0" fill="rgb(71,71,71)"/><rect x="87.7" y="82.5" width="1.0" height="1.0" fill="rgb(129,129,129)"/><rect x="82.8" y="84.6" width="1.0" height="1.0" fill="rgb(138,138,138)"/><rect x="77.0" y="81.8" width="1.0" height="1.0" fill="rgb(88,88,88)"/><rect x="85.4" y="84.3" width="1.0" height="1.0" fill="rgb(80,80,80)"/><rect x="85.8" y="82.5" width="1.0" height="1.0" fill="rgb(116,116,116)"/><rect x="83.4" y="85.5" width="1.0" height="1.0" fill="rgb(99,99,99)"/><rect x="88.8" y="82.3" width="1.0" height="1.0" fill="rgb(90,90,90)"/><rect x="97.9" y="81.9" width="1.0" height="1.0" fill="rgb(62,62,62)"/><rect x="91.3" y="83.4" width="1.0" height="1.0" fill="rgb(47,47,47)"/><rect x="90.4" y="85.6" width="1.0" height="1.0" fill="rgb(62,62,62)"/><rect x="84.5" y="82.7" width="1.0" height="1.0" fill="rgb(131,131,131)"/><rect x="84.6" y="83.0" width="1.0" height="1.0" fill="rgb(71,71,71)"/><rect x="88.2" y="84.4" width="1.0" height="1.0" fill="rgb(75,75,75)"/><rect x="100.8" y="83.7" width="1.0" height="1.0" fill="rgb(136,136,136)"/><rect x="86.0" y="81.4" width="1.0" height="1.0" fill="rgb(73,73,73)"/><rect x="88.7" y="86.0" width="1.0" height="1.0" fill="rgb(40,40,40)"/><rect x="97.7" y="82.9" width="1.0" height="1.0" fill="rgb(110,110,110)"/><rect x="88.9" y="84.9" width="1.0" height="1.0" fill="rgb(94,94,94)"/><rect x="81.2" y="82.6" width="1.0" height="1.0" fill="rgb(119,119,119)"/><rect x="86.3" y="84.0" width="1.0" height="1.0" fill="rgb(69,69,69)"/><rect x="88.0" y="80.9" width="1.0" height="1.0" fill="rgb(135,135,135)"/><rect x="91.3" y="85.1" width="1.0" height="1.0" fill="rgb(49,49,49)"/><rect x="96.5" y="84.1" width="1.0" height="1.0" fill="rgb(50,50,50)"/><rect x="91.8" y="87.4" width="1.0" height="1.0" fill="rgb(44,44,44)"/><rect x="98.4" y="81.9" width="1.0" height="1.0" fill="rgb(76,76,76)"/><rect x="89.9" y="84.6" width="1.0" height="1.0" fill="rgb(125,125,125)"/><rect x="92.6" y="85.2" width="1.0" height="1.0" fill="rgb(78,78,78)"/><rect x="97.9" y="85.3" width="1.0" height="1.0" fill="rgb(109,109,109)"/><rect x="85.7" y="88.1" width="1.0" height="1.0" fill="rgb(135,135,135)"/><rect x="91.4" y="84.2" width="1.0" height="1.0" fill="rgb(132,132,132)"/><rect x="96.1" y="85.7" width="1.0" height="1.0" fill="rgb(65,65,65)"/><rect x="81.6" y="86.7" width="1.0" height="1.0" fill="rgb(129,129,129)"/><rect x="87.3" y="83.3" width="1.0" height="1.0" fill="rgb(132,132,132)"/><rect x="89.7" y="81.7" width="1.0" height="1.0" fill="rgb(133,133,133)"/><rect x="88.2" y="87.3" width="1.0" height="1.0" fill="rgb(131,131,131)"/><rect x="89.8" y="83.9" width="1.0" height="1.0" fill="rgb(72,72,72)"/><rect x="97.5" y="84.2" width="1.0" height="1.0" fill="rgb(128,128,128)"/><rect x="84.8" y="84.8" width="1.0" height="1.0" fill="rgb(112,112,112)"/><rect x="83.6" y="86.3" width="1.0" height="1.0" fill="rgb(123,123,123)"/><rect x="72.9" y="88.0" width="1.0" height="1.0" fill="rgb(135,135,135)"/><rect x="77.4" y="84.8" width="1.0" height="1.0" fill="rgb(102,102,102)"/><rect x="92.6" y="83.6" width="1.0" height="1.0" fill="rgb(103,103,103)"/><rect x="83.5" y="85.4" width="1.0" height="1.0" fill="rgb(90,90,90)"/><rect x="101.1" y="83.8" width="1.0" height="1.0" fill="rgb(135,135,135)"/><rect x="90.8" y="86.7" width="1.0" height="1.0" fill="rgb(68,68,68)"/><rect x="90.3" y="83.3" width="1.0" height="1.0" fill="rgb(106,106,106)"/><rect x="89.2" y="84.9" width="1.0" height="1.0" fill="rgb(89,89,89)"/><rect x="74.8" y="86.5" width="1.0" height="1.0" fill="rgb(130,130,130)"/><rect x="81.1" y="83.1" width="1.0" height="1.0" fill="rgb(84,84,84)"/><rect x="89.4" y="83.8" width="1.0" height="1.0" fill="rgb(63,63,63)"/><rect x="77.4" y="87.2" width="1.0" height="1.0" fill="rgb(124,124,124)"/><rect x="93.6" y="85.6" width="1.0" height="1.0" fill="rgb(114,114,114)"/><rect x="88.5" y="83.2" width="1.0" height="1.0" fill="rgb(58,58,58)"/><rect x="80.8" y="83.6" width="1.0" height="1.0" fill="rgb(64,64,64)"/><rect x="93.1" y="83.2" width="1.0" height="1.0" fill="rgb(139,139,139)"/><rect x="86.9" y="81.7" width="1.0" height="1.0" fill="rgb(72,72,72)"/><rect x="111.3" y="79.5" width="1.0" height="1.0" fill="rgb(78,78,78)"/><rect x="79.2" y="81.9" width="1.0" height="1.0" fill="rgb(51,51,51)"/><rect x="87.9" y="84.8" width="1.0" height="1.0" fill="rgb(120,120,120)"/><rect x="83.1" y="88.2" width="1.0" height="1.0" fill="rgb(76,76,76)"/><rect x="80.2" y="86.2" width="1.0" height="1.0" fill="rgb(49,49,49)"/><rect x="95.3" y="82.2" width="1.0" height="1.0" fill="rgb(54,54,54)"/><rect x="81.2" y="82.5" width="1.0" height="1.0" fill="rgb(109,109,109)"/><rect x="86.1" y="85.4" width="1.0" height="1.0" fill="rgb(58,58,58)"/><rect x="94.6" y="87.0" width="1.0" height="1.0" fill="rgb(58,58,58)"/><rect x="84.1" y="80.5" width="1.0" height="1.0" fill="rgb(111,111,111)"/><rect x="91.3" y="85.6" width="1.0" height="1.0" fill="rgb(134,134,134)"/><rect x="88.4" y="84.2" width="1.0" height="1.0" fill="rgb(93,93,93)"/><rect x="91.5" y="84.3" width="1.0" height="1.0" fill="rgb(63,63,63)"/><rect x="92.7" y="84.9" width="1.0" height="1.0" fill="rgb(107,107,107)"/><rect x="86.5" y="85.6" width="1.0" height="1.0" fill="rgb(106,106,106)"/><rect x="96.1" y="85.3" width="1.0" height="1.0" fill="rgb(91,91,91)"/><rect x="96.8" y="84.1" width="1.0" height="1.0" fill="rgb(131,131,131)"/><rect x="71.2" y="90.7" width="1.0" height="1.0" fill="rgb(46,46,46)"/><rect x="86.4" y="83.9" width="1.0" height="1.0" fill="rgb(115,115,115)"/><rect x="72.8" y="84.0" width="1.0" height="1.0" fill="rgb(139,139,139)"/><rect x="84.8" y="85.3" width="1.0" height="1.0" fill="rgb(105,105,105)"/><rect x="77.6" y="88.9" width="1.0" height="1.0" fill="rgb(130,130,130)"/><rect x="95.7" y="83.9" width="1.0" height="1.0" fill="rgb(130,130,130)"/><rect x="81.3" y="85.6" width="1.0" height="1.0" fill="rgb(88,88,88)"/><rect x="94.6" y="84.3" width="1.0" height="1.0" fill="rgb(93,93,93)"/><rect x="90.6" y="84.7" width="1.0" height="1.0" fill="rgb(104,104,104)"/><rect x="83.8" y="83.9" width="1.0" height="1.0" fill="rgb(90,90,90)"/><rect x="87.8" y="82.5" width="1.0" height="1.0" fill="rgb(131,131,131)"/><rect x="87.8" y="82.9" width="1.0" height="1.0" fill="rgb(69,69,69)"/><rect x="92.7" y="84.0" width="1.0" height="1.0" fill="rgb(62,62,62)"/><rect x="83.4" y="88.5" width="1.0" height="1.0" fill="rgb(55,55,55)"/><rect x="101.7" y="83.6" width="1.0" height="1.0" fill="rgb(51,51,51)"/><rect x="93.5" y="84.8" width="1.0" height="1.0" fill="rgb(118,118,118)"/><rect x="90.9" y="83.9" width="1.0" height="1.0" fill="rgb(117,117,117)"/><rect x="76.5" y="86.3" width="1.0" height="1.0" fill="rgb(44,44,44)"/><rect x="92.2" y="86.3" width="1.0" height="1.0" fill="rgb(81,81,81)"/><rect x="89.0" y="83.1" width="1.0" height="1.0" fill="rgb(50,50,50)"/><rect x="95.0" y="83.8" width="1.0" height="1.0" fill="rgb(107,107,107)"/><rect x="78.6" y="93.7" width="1.0" height="1.0" fill="rgb(204,204,204)"/><rect x="83.7" y="91.4" width="1.0" height="1.0" fill="rgb(103,103,103)"/><rect x="91.2" y="94.4" width="1.0" height="1.0" fill="rgb(136,136,136)"/><rect x="109.6" y="96.2" width="1.0" height="1.0" fill="rgb(201,201,201)"/><rect x="82.6" y="90.5" width="1.0" height="1.0" fill="rgb(115,115,115)"/><rect x="76.6" y="95.1" width="1.0" height="1.0" fill="rgb(198,198,198)"/><rect x="86.5" y="95.7" width="1.0" height="1.0" fill="rgb(152,152,152)"/><rect x="83.4" y="94.6" width="1.0" height="1.0" fill="rgb(186,186,186)"/><rect x="93.8" y="92.9" width="1.0" height="1.0" fill="rgb(111,111,111)"/><rect x="89.3" y="90.0" width="1.0" height="1.0" fill="rgb(194,194,194)"/><rect x="85.6" y="90.3" width="1.0" height="1.0" fill="rgb(161,161,161)"/><rect x="101.1" y="96.2" width="1.0" height="1.0" fill="rgb(113,113,113)"/><rect x="91.4" y="96.4" width="1.0" height="1.0" fill="rgb(147,147,147)"/><rect x="84.0" y="92.3" width="1.0" height="1.0" fill="rgb(202,202,202)"/><rect x="83.3" y="95.5" width="1.0" height="1.0" fill="rgb(125,125,125)"/><rect x="76.5" y="91.3" width="1.0" height="1.0" fill="rgb(181,181,181)"/><rect x="77.7" y="94.9" width="1.0" height="1.0" fill="rgb(132,132,132)"/><rect x="88.3" y="94.1" width="1.0" height="1.0" fill="rgb(168,168,168)"/><rect x="85.1" y="93.8" width="1.0" height="1.0" fill="rgb(165,165,165)"/><rect x="77.3" y="90.4" width="1.0" height="1.0" fill="rgb(103,103,103)"/><rect x="106.0" y="94.6" width="1.0" height="1.0" fill="rgb(189,189,189)"/><rect x="90.3" y="92.8" width="1.0" height="1.0" fill="rgb(87,87,87)"/><rect x="79.9" y="93.8" width="1.0" height="1.0" fill="rgb(110,110,110)"/><rect x="85.5" y="94.1" width="1.0" height="1.0" fill="rgb(198,198,198)"/><rect x="80.1" y="95.2" width="1.0" height="1.0" fill="rgb(93,93,93)"/><rect x="93.1" y="93.2" width="1.0" height="1.0" fill="rgb(133,133,133)"/><rect x="86.6" y="92.6" width="1.0" height="1.0" fill="rgb(142,142,142)"/><rect x="95.2" y="92.2" width="1.0" height="1.0" fill="rgb(192,192,192)"/><rect x="90.6" y="95.3" width="1.0" height="1.0" fill="rgb(181,181,181)"/><rect x="99.5" y="92.1" width="1.0" height="1.0" fill="rgb(126,126,126)"/><rect x="103.9" y="90.8" width="1.0" height="1.0" fill="rgb(108,108,108)"/><rect x="75.1" y="95.3" width="1.0" height="1.0" fill="rgb(167,167,167)"/><rect x="91.5" y="96.2" width="1.0" height="1.0" fill="rgb(199,199,199)"/><rect x="75.9" y="94.9" width="1.0" height="1.0" fill="rgb(151,151,151)"/><rect x="82.1" y="94.9" width="1.0" height="1.0" fill="rgb(146,146,146)"/><rect x="75.2" y="94.0" width="1.0" height="1.0" fill="rgb(158,158,158)"/><rect x="78.2" y="91.3" width="1.0" height="1.0" fill="rgb(141,141,141)"/><rect x="78.1" y="92.4" width="1.0" height="1.0" fill="rgb(102,102,102)"/><rect x="82.6" y="95.1" width="1.0" height="1.0" fill="rgb(123,123,123)"/><rect x="84.0" y="93.9" width="1.0" height="1.0" fill="rgb(122,122,122)"/><rect x="86.0" y="92.0" width="1.0" height="1.0" fill="rgb(188,188,188)"/><rect x="76.3" y="92.1" width="1.0" height="1.0" fill="rgb(105,105,105)"/><rect x="89.4" y="96.3" width="1.0" height="1.0" fill="rgb(183,183,183)"/><rect x="102.8" y="95.2" width="1.0" height="1.0" fill="rgb(177,177,177)"/><rect x="85.5" y="90.8" width="1.0" height="1.0" fill="rgb(111,111,111)"/><rect x="76.1" y="92.7" width="1.0" height="1.0" fill="rgb(188,188,188)"/><rect x="82.1" y="91.9" width="1.0" height="1.0" fill="rgb(88,88,88)"/><rect x="78.6" y="94.7" width="1.0" height="1.0" fill="rgb(202,202,202)"/><rect x="75.4" y="96.2" width="1.0" height="1.0" fill="rgb(205,205,205)"/><rect x="92.0" y="92.9" width="1.0" height="1.0" fill="rgb(169,169,169)"/><rect x="75.3" y="94.1" width="1.0" height="1.0" fill="rgb(156,156,156)"/><rect x="84.8" y="96.1" width="1.0" height="1.0" fill="rgb(188,188,188)"/><rect x="77.8" y="92.0" width="1.0" height="1.0" fill="rgb(165,165,165)"/><rect x="93.2" y="96.2" width="1.0" height="1.0" fill="rgb(80,80,80)"/><rect x="91.5" y="90.9" width="1.0" height="1.0" fill="rgb(175,175,175)"/><rect x="80.3" y="91.2" width="1.0" height="1.0" fill="rgb(83,83,83)"/><rect x="86.8" y="96.2" width="1.0" height="1.0" fill="rgb(154,154,154)"/><rect x="93.9" y="96.1" width="1.0" height="1.0" fill="rgb(143,143,143)"/><rect x="101.7" y="92.2" width="1.0" height="1.0" fill="rgb(93,93,93)"/><rect x="79.3" y="91.8" width="1.0" height="1.0" fill="rgb(123,123,123)"/><rect x="106.3" y="96.1" width="1.0" height="1.0" fill="rgb(164,164,164)"/><rect x="88.2" y="94.6" width="1.0" height="1.0" fill="rgb(145,145,145)"/><rect x="94.4" y="93.9" width="1.0" height="1.0" fill="rgb(108,108,108)"/><rect x="90.5" y="91.0" width="1.0" height="1.0" fill="rgb(152,152,152)"/><rect x="75.7" y="90.8" width="1.0" height="1.0" fill="rgb(151,151,151)"/><rect x="91.4" y="90.7" width="1.0" height="1.0" fill="rgb(137,137,137)"/><rect x="77.4" y="94.0" width="1.0" height="1.0" fill="rgb(175,175,175)"/><rect x="105.6" y="94.9" width="1.0" height="1.0" fill="rgb(150,150,150)"/><rect x="90.2" y="92.8" width="1.0" height="1.0" fill="rgb(125,125,125)"/><rect x="81.4" y="92.2" width="1.0" height="1.0" fill="rgb(87,87,87)"/><rect x="84.4" y="94.6" width="1.0" height="1.0" fill="rgb(107,107,107)"/><rect x="83.4" y="91.3" width="1.0" height="1.0" fill="rgb(102,102,102)"/><rect x="85.3" y="92.1" width="1.0" height="1.0" fill="rgb(88,88,88)"/><rect x="98.8" y="94.7" width="1.0" height="1.0" fill="rgb(121,121,121)"/><rect x="89.2" y="96.2" width="1.0" height="1.0" fill="rgb(142,142,142)"/><rect x="94.3" y="95.9" width="1.0" height="1.0" fill="rgb(135,135,135)"/><rect x="96.6" y="94.3" width="1.0" height="1.0" fill="rgb(99,99,99)"/><rect x="77.9" y="93.4" width="1.0" height="1.0" fill="rgb(117,117,117)"/><rect x="95.3" y="93.6" width="1.0" height="1.0" fill="rgb(196,196,196)"/><rect x="90.1" y="94.5" width="1.0" height="1.0" fill="rgb(130,130,130)"/><rect x="87.4" y="90.9" width="1.0" height="1.0" fill="rgb(200,200,200)"/><rect x="85.7" y="90.1" width="1.0" height="1.0" fill="rgb(150,150,150)"/><rect x="76.2" y="96.3" width="1.0" height="1.0" fill="rgb(140,140,140)"/><rect x="84.1" y="90.0" width="1.0" height="1.0" fill="rgb(84,84,84)"/><rect x="95.5" y="95.1" width="1.0" height="1.0" fill="rgb(131,131,131)"/><rect x="76.8" y="94.3" width="1.0" height="1.0" fill="rgb(145,145,145)"/><rect x="80.5" y="95.2" width="1.0" height="1.0" fill="rgb(180,180,180)"/><rect x="84.4" y="96.1" width="1.0" height="1.0" fill="rgb(167,167,167)"/><rect x="78.8" y="91.0" width="1.0" height="1.0" fill="rgb(95,95,95)"/><rect x="90.5" y="92.1" width="1.0" height="1.0" fill="rgb(197,197,197)"/><rect x="112.5" y="94.5" width="1.0" height="1.0" fill="rgb(172,172,172)"/><rect x="97.1" y="92.5" width="1.0" height="1.0" fill="rgb(147,147,147)"/><rect x="78.7" y="92.1" width="1.0" height="1.0" fill="rgb(173,173,173)"/><rect x="95.9" y="93.7" width="1.0" height="1.0" fill="rgb(171,171,171)"/><rect x="87.5" y="94.6" width="1.0" height="1.0" fill="rgb(120,120,120)"/><rect x="90.0" y="92.5" width="1.0" height="1.0" fill="rgb(167,167,167)"/><rect x="76.0" y="91.1" width="1.0" height="1.0" fill="rgb(161,161,161)"/><rect x="77.4" y="93.1" width="1.0" height="1.0" fill="rgb(187,187,187)"/><rect x="78.2" y="92.6" width="1.0" height="1.0" fill="rgb(158,158,158)"/><rect x="99.9" y="94.2" width="1.0" height="1.0" fill="rgb(99,99,99)"/><rect x="81.0" y="90.6" width="1.0" height="1.0" fill="rgb(99,99,99)"/><rect x="84.1" y="92.7" width="1.0" height="1.0" fill="rgb(83,83,83)"/><rect x="77.3" y="95.3" width="1.0" height="1.0" fill="rgb(117,117,117)"/><rect x="96.2" y="96.4" width="1.0" height="1.0" fill="rgb(155,155,155)"/><rect x="84.5" y="90.4" width="1.0" height="1.0" fill="rgb(168,168,168)"/><rect x="84.1" y="92.2" width="1.0" height="1.0" fill="rgb(163,163,163)"/><rect x="81.4" y="90.9" width="1.0" height="1.0" fill="rgb(197,197,197)"/><rect x="83.7" y="93.7" width="1.0" height="1.0" fill="rgb(168,168,168)"/><rect x="78.5" y="91.8" width="1.0" height="1.0" fill="rgb(165,165,165)"/><rect x="82.5" y="90.5" width="1.0" height="1.0" fill="rgb(164,164,164)"/><rect x="80.0" y="92.0" width="1.0" height="1.0" fill="rgb(129,129,129)"/><rect x="92.9" y="92.3" width="1.0" height="1.0" fill="rgb(188,188,188)"/><rect x="92.3" y="94.0" width="1.0" height="1.0" fill="rgb(143,143,143)"/><rect x="77.3" y="95.4" width="1.0" height="1.0" fill="rgb(137,137,137)"/><rect x="95.5" y="96.5" width="1.0" height="1.0" fill="rgb(94,94,94)"/><rect x="87.6" y="91.5" width="1.0" height="1.0" fill="rgb(168,168,168)"/><rect x="78.1" y="91.9" width="1.0" height="1.0" fill="rgb(130,130,130)"/><rect x="88.1" y="96.1" width="1.0" height="1.0" fill="rgb(116,116,116)"/><rect x="80.7" y="90.3" width="1.0" height="1.0" fill="rgb(155,155,155)"/><rect x="75.9" y="96.2" width="1.0" height="1.0" fill="rgb(205,205,205)"/><rect x="86.3" y="92.5" width="1.0" height="1.0" fill="rgb(144,144,144)"/><rect x="83.8" y="92.9" width="1.0" height="1.0" fill="rgb(116,116,116)"/><rect x="90.8" y="96.5" width="1.0" height="1.0" fill="rgb(166,166,166)"/><rect x="84.3" y="90.2" width="1.0" height="1.0" fill="rgb(94,94,94)"/><rect x="90.9" y="90.9" width="1.0" height="1.0" fill="rgb(109,109,109)"/><rect x="81.8" y="92.4" width="1.0" height="1.0" fill="rgb(173,173,173)"/><rect x="81.0" y="90.5" width="1.0" height="1.0" fill="rgb(169,169,169)"/><rect x="96.9" y="94.2" width="1.0" height="1.0" fill="rgb(96,96,96)"/><rect x="83.5" y="90.1" width="1.0" height="1.0" fill="rgb(116,116,116)"/><rect x="76.5" y="90.9" width="1.0" height="1.0" fill="rgb(101,101,101)"/><rect x="105.8" y="90.3" width="1.0" height="1.0" fill="rgb(190,190,190)"/><rect x="118.3" y="90.4" width="1.0" height="1.0" fill="rgb(159,159,159)"/><rect x="77.0" y="92.0" width="1.0" height="1.0" fill="rgb(204,204,204)"/><rect x="81.9" y="92.1" width="1.0" height="1.0" fill="rgb(80,80,80)"/><rect x="76.8" y="94.6" width="1.0" height="1.0" fill="rgb(117,117,117)"/><rect x="81.4" y="92.4" width="1.0" height="1.0" fill="rgb(122,122,122)"/><rect x="79.7" y="92.6" width="1.0" height="1.0" fill="rgb(181,181,181)"/><rect x="101.9" y="91.4" width="1.0" height="1.0" fill="rgb(171,171,171)"/><rect x="89.6" y="92.0" width="1.0" height="1.0" fill="rgb(172,172,172)"/><rect x="82.1" y="91.0" width="1.0" height="1.0" fill="rgb(187,187,187)"/><rect x="103.9" y="92.6" width="1.0" height="1.0" fill="rgb(134,134,134)"/><rect x="80.7" y="94.7" width="1.0" height="1.0" fill="rgb(187,187,187)"/><rect x="99.7" y="94.6" width="1.0" height="1.0" fill="rgb(185,185,185)"/><rect x="79.6" y="90.9" width="1.0" height="1.0" fill="rgb(203,203,203)"/><rect x="92.7" y="92.5" width="1.0" height="1.0" fill="rgb(80,80,80)"/><rect x="80.3" y="92.2" width="1.0" height="1.0" fill="rgb(119,119,119)"/><rect x="75.2" y="96.5" width="1.0" height="1.0" fill="rgb(119,119,119)"/><rect x="75.3" y="93.0" width="1.0" height="1.0" fill="rgb(117,117,117)"/><rect x="89.1" y="95.1" width="1.0" height="1.0" fill="rgb(166,166,166)"/><rect x="76.4" y="95.2" width="1.0" height="1.0" fill="rgb(123,123,123)"/><rect x="81.5" y="95.4" width="1.0" height="1.0" fill="rgb(177,177,177)"/><rect x="75.5" y="94.5" width="1.0" height="1.0" fill="rgb(176,176,176)"/><rect x="100.0" y="93.2" width="1.0" height="1.0" fill="rgb(140,140,140)"/><rect x="85.3" y="93.7" width="1.0" height="1.0" fill="rgb(166,166,166)"/><rect x="77.1" y="92.2" width="1.0" height="1.0" fill="rgb(179,179,179)"/><rect x="99.4" y="91.4" width="1.0" height="1.0" fill="rgb(167,167,167)"/><rect x="81.7" y="95.8" width="1.0" height="1.0" fill="rgb(200,200,200)"/><rect x="88.0" y="94.8" width="1.0" height="1.0" fill="rgb(93,93,93)"/><rect x="85.2" y="92.8" width="1.0" height="1.0" fill="rgb(157,157,157)"/><rect x="84.5" y="93.7" width="1.0" height="1.0" fill="rgb(176,176,176)"/><rect x="108.1" y="90.4" width="1.0" height="1.0" fill="rgb(194,194,194)"/><rect x="84.7" y="95.2" width="1.0" height="1.0" fill="rgb(107,107,107)"/><rect x="99.0" y="94.7" width="1.0" height="1.0" fill="rgb(176,176,176)"/><rect x="75.4" y="92.9" width="1.0" height="1.0" fill="rgb(159,159,159)"/><rect x="96.7" y="95.7" width="1.0" height="1.0" fill="rgb(172,172,172)"/><rect x="94.9" y="95.6" width="1.0" height="1.0" fill="rgb(157,157,157)"/><rect x="93.0" y="92.4" width="1.0" height="1.0" fill="rgb(142,142,142)"/><rect x="75.1" y="95.2" width="1.0" height="1.0" fill="rgb(134,134,134)"/><rect x="95.9" y="96.3" width="1.0" height="1.0" fill="rgb(196,196,196)"/><rect x="77.6" y="95.6" width="1.0" height="1.0" fill="rgb(110,110,110)"/><rect x="77.0" y="93.9" width="1.0" height="1.0" fill="rgb(152,152,152)"/><rect x="89.6" y="94.2" width="1.0" height="1.0" fill="rgb(121,121,121)"/><rect x="82.1" y="92.4" width="1.0" height="1.0" fill="rgb(180,180,180)"/><rect x="96.4" y="95.5" width="1.0" height="1.0" fill="rgb(154,154,154)"/><rect x="106.3" y="91.8" width="1.0" height="1.0" fill="rgb(80,80,80)"/><rect x="114.5" y="92.0" width="1.0" height="1.0" fill="rgb(82,82,82)"/><rect x="96.4" y="95.4" width="1.0" height="1.0" fill="rgb(193,193,193)"/><rect x="78.4" y="94.3" width="1.0" height="1.0" fill="rgb(142,142,142)"/><rect x="89.9" y="94.7" width="1.0" height="1.0" fill="rgb(186,186,186)"/><rect x="76.2" y="91.6" width="1.0" height="1.0" fill="rgb(183,183,183)"/><rect x="87.6" y="92.2" width="1.0" height="1.0" fill="rgb(132,132,132)"/><rect x="81.9" y="91.3" width="1.0" height="1.0" fill="rgb(165,165,165)"/><rect x="116.9" y="95.1" width="1.0" height="1.0" fill="rgb(151,151,151)"/><rect x="91.8" y="93.3" width="1.0" height="1.0" fill="rgb(151,151,151)"/><rect x="82.8" y="95.7" width="1.0" height="1.0" fill="rgb(128,128,128)"/><rect x="99.3" y="95.9" width="1.0" height="1.0" fill="rgb(180,180,180)"/><rect x="77.2" y="95.5" width="1.0" height="1.0" fill="rgb(162,162,162)"/><rect x="86.2" y="93.3" width="1.0" height="1.0" fill="rgb(173,173,173)"/><rect x="81.1" y="90.0" width="1.0" height="1.0" fill="rgb(125,125,125)"/><rect x="82.4" y="94.6" width="1.0" height="1.0" fill="rgb(115,115,115)"/><rect x="82.5" y="92.1" width="1.0" height="1.0" fill="rgb(113,113,113)"/><rect x="92.2" y="93.9" width="1.0" height="1.0" fill="rgb(126,126,126)"/><rect x="84.1" y="94.2" width="1.0" height="1.0" fill="rgb(105,105,105)"/><rect x="78.4" y="90.2" width="1.0" height="1.0" fill="rgb(187,187,187)"/><rect x="95.6" y="92.7" width="1.0" height="1.0" fill="rgb(178,178,178)"/><rect x="85.7" y="93.6" width="1.0" height="1.0" fill="rgb(196,196,196)"/><rect x="91.3" y="92.7" width="1.0" height="1.0" fill="rgb(153,153,153)"/><rect x="83.5" y="92.6" width="1.0" height="1.0" fill="rgb(196,196,196)"/><rect x="76.3" y="91.1" width="1.0" height="1.0" fill="rgb(185,185,185)"/><rect x="90.3" y="94.1" width="1.0" height="1.0" fill="rgb(132,132,132)"/><rect x="101.4" y="95.5" width="1.0" height="1.0" fill="rgb(141,141,141)"/><rect x="75.8" y="95.5" width="1.0" height="1.0" fill="rgb(119,119,119)"/><rect x="77.4" y="95.2" width="1.0" height="1.0" fill="rgb(118,118,118)"/><rect x="81.7" y="91.7" width="1.0" height="1.0" fill="rgb(147,147,147)"/><rect x="90.2" y="92.9" width="1.0" height="1.0" fill="rgb(88,88,88)"/><rect x="92.1" y="92.4" width="1.0" height="1.0" fill="rgb(161,161,161)"/><rect x="85.7" y="93.5" width="1.0" height="1.0" fill="rgb(117,117,117)"/><rect x="99.1" y="90.3" width="1.0" height="1.0" fill="rgb(154,154,154)"/><rect x="82.1" y="95.5" width="1.0" height="1.0" fill="rgb(120,120,120)"/><rect x="75.1" y="94.3" width="1.0" height="1.0" fill="rgb(88,88,88)"/><rect x="76.3" y="90.6" width="1.0" height="1.0" fill="rgb(131,131,131)"/><rect x="83.6" y="92.7" width="1.0" height="1.0" fill="rgb(87,87,87)"/><rect x="102.6" y="95.7" width="1.0" height="1.0" fill="rgb(84,84,84)"/><rect x="87.5" y="95.9" width="1.0" height="1.0" fill="rgb(176,176,176)"/><rect x="91.2" y="92.1" width="1.0" height="1.0" fill="rgb(144,144,144)"/><rect x="78.0" y="94.3" width="1.0" height="1.0" fill="rgb(143,143,143)"/><rect x="109.4" y="95.2" width="1.0" height="1.0" fill="rgb(194,194,194)"/><rect x="77.0" y="92.6" width="1.0" height="1.0" fill="rgb(166,166,166)"/><rect x="88.5" y="92.2" width="1.0" height="1.0" fill="rgb(191,191,191)"/><rect x="78.0" y="92.6" width="1.0" height="1.0" fill="rgb(106,106,106)"/><rect x="103.9" y="94.7" width="1.0" height="1.0" fill="rgb(163,163,163)"/><rect x="91.6" y="93.1" width="1.0" height="1.0" fill="rgb(116,116,116)"/><rect x="90.6" y="91.6" width="1.0" height="1.0" fill="rgb(159,159,159)"/><rect x="87.8" y="93.2" width="1.0" height="1.0" fill="rgb(104,104,104)"/><rect x="76.4" y="95.5" width="1.0" height="1.0" fill="rgb(141,141,141)"/><rect x="96.2" y="91.5" width="1.0" height="1.0" fill="rgb(118,118,118)"/><rect x="108.9" y="95.5" width="1.0" height="1.0" fill="rgb(200,200,200)"/><rect x="91.1" y="95.1" width="1.0" height="1.0" fill="rgb(130,130,130)"/><rect x="96.8" y="94.7" width="1.0" height="1.0" fill="rgb(160,160,160)"/><rect x="85.0" y="96.2" width="1.0" height="1.0" fill="rgb(91,91,91)"/><rect x="78.5" y="95.0" width="1.0" height="1.0" fill="rgb(169,169,169)"/><rect x="93.0" y="92.0" width="1.0" height="1.0" fill="rgb(142,142,142)"/><rect x="83.5" y="94.1" width="1.0" height="1.0" fill="rgb(130,130,130)"/><rect x="79.6" y="95.2" width="1.0" height="1.0" fill="rgb(172,172,172)"/><rect x="106.7" y="93.2" width="1.0" height="1.0" fill="rgb(116,116,116)"/><rect x="75.2" y="93.9" width="1.0" height="1.0" fill="rgb(86,86,86)"/><rect x="111.1" y="91.6" width="1.0" height="1.0" fill="rgb(191,191,191)"/><rect x="81.9" y="92.3" width="1.0" height="1.0" fill="rgb(89,89,89)"/><rect x="104.2" y="90.5" width="1.0" height="1.0" fill="rgb(156,156,156)"/><rect x="84.8" y="90.6" width="1.0" height="1.0" fill="rgb(167,167,167)"/><rect x="106.6" y="96.9" width="1.0" height="1.0" fill="rgb(118,118,118)"/><rect x="122.7" y="96.5" width="1.0" height="1.0" fill="rgb(138,138,138)"/><rect x="85.3" y="96.7" width="1.0" height="1.0" fill="rgb(135,135,135)"/><rect x="109.0" y="96.7" width="1.0" height="1.0" fill="rgb(150,150,150)"/><rect x="98.0" y="96.8" width="1.0" height="1.0" fill="rgb(117,117,117)"/><rect x="99.5" y="97.1" width="1.0" height="1.0" fill="rgb(134,134,134)"/><rect x="83.1" y="96.9" width="1.0" height="1.0" fill="rgb(84,84,84)"/><rect x="85.6" y="97.0" width="1.0" height="1.0" fill="rgb(169,169,169)"/><rect x="93.7" y="96.7" width="1.0" height="1.0" fill="rgb(74,74,74)"/><rect x="76.3" y="96.5" width="1.0" height="1.0" fill="rgb(135,135,135)"/><rect x="91.4" y="97.0" width="1.0" height="1.0" fill="rgb(80,80,80)"/><rect x="82.1" y="96.7" width="1.0" height="1.0" fill="rgb(156,156,156)"/><rect x="85.2" y="97.1" width="1.0" height="1.0" fill="rgb(82,82,82)"/><rect x="91.7" y="97.0" width="1.0" height="1.0" fill="rgb(103,103,103)"/><rect x="77.6" y="97.1" width="1.0" height="1.0" fill="rgb(127,127,127)"/><rect x="75.1" y="96.7" width="1.0" height="1.0" fill="rgb(165,165,165)"/><rect x="85.2" y="97.0" width="1.0" height="1.0" fill="rgb(111,111,111)"/><rect x="144.7" y="96.7" width="1.0" height="1.0" fill="rgb(163,163,163)"/><rect x="91.3" y="96.5" width="1.0" height="1.0" fill="rgb(101,101,101)"/><rect x="107.1" y="96.5" width="1.0" height="1.0" fill="rgb(70,70,70)"/><rect x="98.7" y="96.5" width="1.0" height="1.0" fill="rgb(146,146,146)"/><rect x="116.4" y="97.0" width="1.0" height="1.0" fill="rgb(78,78,78)"/><rect x="95.0" y="96.8" width="1.0" height="1.0" fill="rgb(74,74,74)"/><rect x="105.5" y="96.6" width="1.0" height="1.0" fill="rgb(115,115,115)"/><rect x="97.2" y="97.0" width="1.0" height="1.0" fill="rgb(76,76,76)"/><rect x="85.7" y="96.9" width="1.0" height="1.0" fill="rgb(64,64,64)"/><rect x="75.3" y="96.6" width="1.0" height="1.0" fill="rgb(81,81,81)"/><rect x="81.3" y="96.8" width="1.0" height="1.0" fill="rgb(89,89,89)"/><rect x="82.2" y="96.7" width="1.0" height="1.0" fill="rgb(73,73,73)"/><rect x="75.1" y="96.8" width="1.0" height="1.0" fill="rgb(157,157,157)"/><rect x="94.3" y="97.0" width="1.0" height="1.0" fill="rgb(124,124,124)"/><rect x="75.3" y="97.0" width="1.0" height="1.0" fill="rgb(97,97,97)"/><rect x="105.9" y="96.8" width="1.0" height="1.0" fill="rgb(136,136,136)"/><rect x="92.4" y="97.0" width="1.0" height="1.0" fill="rgb(158,158,158)"/><rect x="126.2" y="96.6" width="1.0" height="1.0" fill="rgb(131,131,131)"/><rect x="76.4" y="96.9" width="1.0" height="1.0" fill="rgb(108,108,108)"/><rect x="83.9" y="97.0" width="1.0" height="1.0" fill="rgb(117,117,117)"/><rect x="76.9" y="97.0" width="1.0" height="1.0" fill="rgb(148,148,148)"/><rect x="84.4" y="97.0" width="1.0" height="1.0" fill="rgb(162,162,162)"/><rect x="80.7" y="97.0" width="1.0" height="1.0" fill="rgb(129,129,129)"/><rect x="83.8" y="96.8" width="1.0" height="1.0" fill="rgb(108,108,108)"/><rect x="131.2" y="96.4" width="1.0" height="1.0" fill="rgb(153,153,153)"/><rect x="77.2" y="97.0" width="1.0" height="1.0" fill="rgb(114,114,114)"/><rect x="97.2" y="96.9" width="1.0" height="1.0" fill="rgb(104,104,104)"/><rect x="88.3" y="96.9" width="1.0" height="1.0" fill="rgb(62,62,62)"/><rect x="91.1" y="97.0" width="1.0" height="1.0" fill="rgb(64,64,64)"/><rect x="96.2" y="96.5" width="1.0" height="1.0" fill="rgb(163,163,163)"/><rect x="100.1" y="96.3" width="1.0" height="1.0" fill="rgb(95,95,95)"/><rect x="108.7" y="96.4" width="1.0" height="1.0" fill="rgb(145,145,145)"/><rect x="80.6" y="96.8" width="1.0" height="1.0" fill="rgb(170,170,170)"/><rect x="85.3" y="96.8" width="1.0" height="1.0" fill="rgb(139,139,139)"/><rect x="78.7" y="96.6" width="1.0" height="1.0" fill="rgb(124,124,124)"/><rect x="80.9" y="97.1" width="1.0" height="1.0" fill="rgb(162,162,162)"/><rect x="99.5" y="96.7" width="1.0" height="1.0" fill="rgb(132,132,132)"/><rect x="88.7" y="96.9" width="1.0" height="1.0" fill="rgb(85,85,85)"/><rect x="74.6" y="96.6" width="1.0" height="1.0" fill="rgb(65,65,65)"/><rect x="79.0" y="97.1" width="1.0" height="1.0" fill="rgb(114,114,114)"/><rect x="95.8" y="96.7" width="1.0" height="1.0" fill="rgb(104,104,104)"/><rect x="76.2" y="97.0" width="1.0" height="1.0" fill="rgb(111,111,111)"/><rect x="92.4" y="96.5" width="1.0" height="1.0" fill="rgb(117,117,117)"/><rect x="84.4" y="97.1" width="1.0" height="1.0" fill="rgb(147,147,147)"/><rect x="98.9" y="96.9" width="1.0" height="1.0" fill="rgb(70,70,70)"/><rect x="105.6" y="96.8" width="1.0" height="1.0" fill="rgb(154,154,154)"/><rect x="96.2" y="96.7" width="1.0" height="1.0" fill="rgb(85,85,85)"/><rect x="75.1" y="96.7" width="1.0" height="1.0" fill="rgb(74,74,74)"/><rect x="96.7" y="96.3" width="1.0" height="1.0" fill="rgb(145,145,145)"/><rect x="105.8" y="96.2" width="1.0" height="1.0" fill="rgb(162,162,162)"/><rect x="81.5" y="96.5" width="1.0" height="1.0" fill="rgb(128,128,128)"/><rect x="103.1" y="96.9" width="1.0" height="1.0" fill="rgb(70,70,70)"/><rect x="95.0" y="97.1" width="1.0" height="1.0" fill="rgb(76,76,76)"/><rect x="82.5" y="96.9" width="1.0" height="1.0" fill="rgb(118,118,118)"/><rect x="98.6" y="97.0" width="1.0" height="1.0" fill="rgb(129,129,129)"/><rect x="100.7" y="96.7" width="1.0" height="1.0" fill="rgb(87,87,87)"/><rect x="104.3" y="96.8" width="1.0" height="1.0" fill="rgb(78,78,78)"/><rect x="94.0" y="96.7" width="1.0" height="1.0" fill="rgb(85,85,85)"/><rect x="76.4" y="96.6" width="1.0" height="1.0" fill="rgb(110,110,110)"/><rect x="84.1" y="96.9" width="1.0" height="1.0" fill="rgb(121,121,121)"/><rect x="106.5" y="96.6" width="1.0" height="1.0" fill="rgb(147,147,147)"/><rect x="75.2" y="96.7" width="1.0" height="1.0" fill="rgb(170,170,170)"/><rect x="96.1" y="97.0" width="1.0" height="1.0" fill="rgb(125,125,125)"/><rect x="123.6" y="96.4" width="1.0" height="1.0" fill="rgb(73,73,73)"/><rect x="100.0" y="96.6" width="1.0" height="1.0" fill="rgb(151,151,151)"/><rect x="80.2" y="96.7" width="1.0" height="1.0" fill="rgb(66,66,66)"/><rect x="111.8" y="96.7" width="1.0" height="1.0" fill="rgb(110,110,110)"/><rect x="75.3" y="96.8" width="1.0" height="1.0" fill="rgb(100,100,100)"/><rect x="84.2" y="96.9" width="1.0" height="1.0" fill="rgb(104,104,104)"/><rect x="107.6" y="97.0" width="1.0" height="1.0" fill="rgb(124,124,124)"/><rect x="80.5" y="96.8" width="1.0" height="1.0" fill="rgb(152,152,152)"/><rect x="79.9" y="97.1" width="1.0" height="1.0" fill="rgb(77,77,77)"/><rect x="81.5" y="96.7" width="1.0" height="1.0" fill="rgb(110,110,110)"/><rect x="79.9" y="97.0" width="1.0" height="1.0" fill="rgb(67,67,67)"/><rect x="75.4" y="96.8" width="1.0" height="1.0" fill="rgb(83,83,83)"/><rect x="99.8" y="96.9" width="1.0" height="1.0" fill="rgb(75,75,75)"/><rect x="82.3" y="97.1" width="1.0" height="1.0" fill="rgb(113,113,113)"/><rect x="77.2" y="96.4" width="1.0" height="1.0" fill="rgb(148,148,148)"/><rect x="111.7" y="96.6" width="1.0" height="1.0" fill="rgb(161,161,161)"/><rect x="85.2" y="97.0" width="1.0" height="1.0" fill="rgb(104,104,104)"/><rect x="118.6" y="96.9" width="1.0" height="1.0" fill="rgb(150,150,150)"/><rect x="104.8" y="97.0" width="1.0" height="1.0" fill="rgb(119,119,119)"/><rect x="107.1" y="96.5" width="1.0" height="1.0" fill="rgb(72,72,72)"/><rect x="89.2" y="96.8" width="1.0" height="1.0" fill="rgb(113,113,113)"/><rect x="75.6" y="96.5" width="1.0" height="1.0" fill="rgb(113,113,113)"/><rect x="96.8" y="96.6" width="1.0" height="1.0" fill="rgb(149,149,149)"/><rect x="79.4" y="96.9" width="1.0" height="1.0" fill="rgb(137,137,137)"/><rect x="88.7" y="97.0" width="1.0" height="1.0" fill="rgb(148,148,148)"/><rect x="98.8" y="96.4" width="1.0" height="1.0" fill="rgb(154,154,154)"/><rect x="88.7" y="96.9" width="1.0" height="1.0" fill="rgb(169,169,169)"/><rect x="121.2" y="96.6" width="1.0" height="1.0" fill="rgb(142,142,142)"/><rect x="78.3" y="96.7" width="1.0" height="1.0" fill="rgb(118,118,118)"/><rect x="82.0" y="96.8" width="1.0" height="1.0" fill="rgb(113,113,113)"/><rect x="83.1" y="96.9" width="1.0" height="1.0" fill="rgb(114,114,114)"/><rect x="85.6" y="97.1" width="1.0" height="1.0" fill="rgb(81,81,81)"/><rect x="76.0" y="97.0" width="1.0" height="1.0" fill="rgb(162,162,162)"/><rect x="99.7" y="96.9" width="1.0" height="1.0" fill="rgb(110,110,110)"/><rect x="93.3" y="96.6" width="1.0" height="1.0" fill="rgb(147,147,147)"/><rect x="77.9" y="96.9" width="1.0" height="1.0" fill="rgb(102,102,102)"/><rect x="106.7" y="96.8" width="1.0" height="1.0" fill="rgb(130,130,130)"/><rect x="80.8" y="96.9" width="1.0" height="1.0" fill="rgb(136,136,136)"/><rect x="85.5" y="96.8" width="1.0" height="1.0" fill="rgb(122,122,122)"/><rect x="100.5" y="96.6" width="1.0" height="1.0" fill="rgb(132,132,132)"/><rect x="95.6" y="93.1" width="1.0" height="1.0" fill="rgb(158,158,158)"/><rect x="81.8" y="67.5" width="1.0" height="1.0" fill="rgb(152,152,152)"/><rect x="88.0" y="68.6" width="1.0" height="1.0" fill="rgb(142,142,142)"/><rect x="89.4" y="89.6" width="1.0" height="1.0" fill="rgb(195,195,195)"/><rect x="88.1" y="81.8" width="1.0" height="1.0" fill="rgb(188,188,188)"/><rect x="84.7" y="72.1" width="1.0" height="1.0" fill="rgb(166,166,166)"/><rect x="84.3" y="89.0" width="1.0" height="1.0" fill="rgb(121,121,121)"/><rect x="93.4" y="91.7" width="1.0" height="1.0" fill="rgb(153,153,153)"/><rect x="91.9" y="86.8" width="1.0" height="1.0" fill="rgb(161,161,161)"/><rect x="79.3" y="60.4" width="1.0" height="1.0" fill="rgb(111,111,111)"/><rect x="92.0" y="92.9" width="1.0" height="1.0" fill="rgb(129,129,129)"/><rect x="82.1" y="57.9" width="1.0" height="1.0" fill="rgb(146,146,146)"/><rect x="90.9" y="85.4" width="1.0" height="1.0" fill="rgb(169,169,169)"/><rect x="92.6" y="72.0" width="1.0" height="1.0" fill="rgb(163,163,163)"/><rect x="85.2" y="80.9" width="1.0" height="1.0" fill="rgb(166,166,166)"/><rect x="84.2" y="75.6" width="1.0" height="1.0" fill="rgb(140,140,140)"/><rect x="88.3" y="83.0" width="1.0" height="1.0" fill="rgb(133,133,133)"/><rect x="76.8" y="59.5" width="1.0" height="1.0" fill="rgb(154,154,154)"/><rect x="91.0" y="88.1" width="1.0" height="1.0" fill="rgb(170,170,170)"/><rect x="85.6" y="77.6" width="1.0" height="1.0" fill="rgb(156,156,156)"/><rect x="85.7" y="63.1" width="1.0" height="1.0" fill="rgb(144,144,144)"/><rect x="94.9" y="90.1" width="1.0" height="1.0" fill="rgb(122,122,122)"/><rect x="85.2" y="64.5" width="1.0" height="1.0" fill="rgb(190,190,190)"/><rect x="83.0" y="68.8" width="1.0" height="1.0" fill="rgb(119,119,119)"/><rect x="83.0" y="89.1" width="1.0" height="1.0" fill="rgb(186,186,186)"/><rect x="83.0" y="74.2" width="1.0" height="1.0" fill="rgb(182,182,182)"/><rect x="84.8" y="82.3" width="1.0" height="1.0" fill="rgb(182,182,182)"/><rect x="84.5" y="71.9" width="1.0" height="1.0" fill="rgb(195,195,195)"/><rect x="91.3" y="82.4" width="1.0" height="1.0" fill="rgb(193,193,193)"/><rect x="88.7" y="80.5" width="1.0" height="1.0" fill="rgb(152,152,152)"/><rect x="83.9" y="75.2" width="1.0" height="1.0" fill="rgb(163,163,163)"/><rect x="82.8" y="67.2" width="1.0" height="1.0" fill="rgb(161,161,161)"/><rect x="82.3" y="72.4" width="1.0" height="1.0" fill="rgb(118,118,118)"/><rect x="87.4" y="73.3" width="1.0" height="1.0" fill="rgb(166,166,166)"/><rect x="90.1" y="73.5" width="1.0" height="1.0" fill="rgb(113,113,113)"/><rect x="85.1" y="72.1" width="1.0" height="1.0" fill="rgb(149,149,149)"/><rect x="90.0" y="89.2" width="1.0" height="1.0" fill="rgb(178,178,178)"/><rect x="77.9" y="68.5" width="1.0" height="1.0" fill="rgb(182,182,182)"/><rect x="85.8" y="76.7" width="1.0" height="1.0" fill="rgb(116,116,116)"/><rect x="82.8" y="61.3" width="1.0" height="1.0" fill="rgb(144,144,144)"/><rect x="86.3" y="76.2" width="1.0" height="1.0" fill="rgb(169,169,169)"/><rect x="87.2" y="73.4" width="1.0" height="1.0" fill="rgb(190,190,190)"/><rect x="85.3" y="84.9" width="1.0" height="1.0" fill="rgb(111,111,111)"/><rect x="83.9" y="65.5" width="1.0" height="1.0" fill="rgb(146,146,146)"/><rect x="78.9" y="57.6" width="1.0" height="1.0" fill="rgb(172,172,172)"/><rect x="83.5" y="61.2" width="1.0" height="1.0" fill="rgb(121,121,121)"/><rect x="84.9" y="80.0" width="1.0" height="1.0" fill="rgb(142,142,142)"/><rect x="82.5" y="71.0" width="1.0" height="1.0" fill="rgb(122,122,122)"/><rect x="84.9" y="74.8" width="1.0" height="1.0" fill="rgb(118,118,118)"/><rect x="83.5" y="67.7" width="1.0" height="1.0" fill="rgb(160,160,160)"/><rect x="91.1" y="83.8" width="1.0" height="1.0" fill="rgb(123,123,123)"/><rect x="93.4" y="82.2" width="1.0" height="1.0" fill="rgb(124,124,124)"/><rect x="83.3" y="65.1" width="1.0" height="1.0" fill="rgb(195,195,195)"/><rect x="87.8" y="76.6" width="1.0" height="1.0" fill="rgb(154,154,154)"/><rect x="85.3" y="81.9" width="1.0" height="1.0" fill="rgb(162,162,162)"/><rect x="88.0" y="90.8" width="1.0" height="1.0" fill="rgb(198,198,198)"/><rect x="92.5" y="88.8" width="1.0" height="1.0" fill="rgb(166,166,166)"/><rect x="81.5" y="70.7" width="1.0" height="1.0" fill="rgb(157,157,157)"/><rect x="91.6" y="81.8" width="1.0" height="1.0" fill="rgb(194,194,194)"/><rect x="84.8" y="67.2" width="1.0" height="1.0" fill="rgb(156,156,156)"/><rect x="90.1" y="75.8" width="1.0" height="1.0" fill="rgb(131,131,131)"/><rect x="82.8" y="77.3" width="1.0" height="1.0" fill="rgb(198,198,198)"/><rect x="80.5" y="65.5" width="1.0" height="1.0" fill="rgb(138,138,138)"/><rect x="75.9" y="62.5" width="1.0" height="1.0" fill="rgb(192,192,192)"/><rect x="85.0" y="80.5" width="1.0" height="1.0" fill="rgb(192,192,192)"/><rect x="86.2" y="65.9" width="1.0" height="1.0" fill="rgb(200,200,200)"/><rect x="84.4" y="69.0" width="1.0" height="1.0" fill="rgb(174,174,174)"/><rect x="90.6" y="87.7" width="1.0" height="1.0" fill="rgb(199,199,199)"/><rect x="84.0" y="72.1" width="1.0" height="1.0" fill="rgb(196,196,196)"/><rect x="85.3" y="73.2" width="1.0" height="1.0" fill="rgb(174,174,174)"/><rect x="80.6" y="64.9" width="1.0" height="1.0" fill="rgb(154,154,154)"/><rect x="90.4" y="78.9" width="1.0" height="1.0" fill="rgb(169,169,169)"/><rect x="83.3" y="74.5" width="1.0" height="1.0" fill="rgb(142,142,142)"/><rect x="85.6" y="73.1" width="1.0" height="1.0" fill="rgb(189,189,189)"/><rect x="87.2" y="89.8" width="1.0" height="1.0" fill="rgb(162,162,162)"/><rect x="83.6" y="57.6" width="1.0" height="1.0" fill="rgb(126,126,126)"/><rect x="92.7" y="74.4" width="1.0" height="1.0" fill="rgb(166,166,166)"/><rect x="83.5" y="68.0" width="1.0" height="1.0" fill="rgb(123,123,123)"/><rect x="87.8" y="84.8" width="1.0" height="1.0" fill="rgb(172,172,172)"/><rect x="78.8" y="69.1" width="1.0" height="1.0" fill="rgb(170,170,170)"/><rect x="93.1" y="84.3" width="1.0" height="1.0" fill="rgb(148,148,148)"/><rect x="89.0" y="80.5" width="1.0" height="1.0" fill="rgb(165,165,165)"/><rect x="83.3" y="61.2" width="1.0" height="1.0" fill="rgb(147,147,147)"/><rect x="84.0" y="65.9" width="1.0" height="1.0" fill="rgb(113,113,113)"/><rect x="90.3" y="93.4" width="1.0" height="1.0" fill="rgb(170,170,170)"/><rect x="86.6" y="86.8" width="1.0" height="1.0" fill="rgb(113,113,113)"/><rect x="84.4" y="74.2" width="1.0" height="1.0" fill="rgb(187,187,187)"/><rect x="84.6" y="76.1" width="1.0" height="1.0" fill="rgb(123,123,123)"/><rect x="85.8" y="70.2" width="1.0" height="1.0" fill="rgb(173,173,173)"/><rect x="84.5" y="85.3" width="1.0" height="1.0" fill="rgb(186,186,186)"/><rect x="92.0" y="87.5" width="1.0" height="1.0" fill="rgb(193,193,193)"/><rect x="85.1" y="58.6" width="1.0" height="1.0" fill="rgb(132,132,132)"/><rect x="75.2" y="62.2" width="1.0" height="1.0" fill="rgb(174,174,174)"/><rect x="88.8" y="74.1" width="1.0" height="1.0" fill="rgb(178,178,178)"/><rect x="87.9" y="88.1" width="1.0" height="1.0" fill="rgb(133,133,133)"/><rect x="82.3" y="63.5" width="1.0" height="1.0" fill="rgb(186,186,186)"/><rect x="90.3" y="80.2" width="1.0" height="1.0" fill="rgb(174,174,174)"/><rect x="92.3" y="92.6" width="1.0" height="1.0" fill="rgb(152,152,152)"/><rect x="90.1" y="83.4" width="1.0" height="1.0" fill="rgb(158,158,158)"/><rect x="79.5" y="63.5" width="1.0" height="1.0" fill="rgb(122,122,122)"/><rect x="89.8" y="91.6" width="1.0" height="1.0" fill="rgb(166,166,166)"/><rect x="76.8" y="61.7" width="1.0" height="1.0" fill="rgb(123,123,123)"/><rect x="90.0" y="89.7" width="1.0" height="1.0" fill="rgb(152,152,152)"/><rect x="86.0" y="83.3" width="1.0" height="1.0" fill="rgb(138,138,138)"/><rect x="87.9" y="78.8" width="1.0" height="1.0" fill="rgb(140,140,140)"/><rect x="83.2" y="64.4" width="1.0" height="1.0" fill="rgb(124,124,124)"/><rect x="90.5" y="84.0" width="1.0" height="1.0" fill="rgb(197,197,197)"/><rect x="86.2" y="59.9" width="1.0" height="1.0" fill="rgb(138,138,138)"/><rect x="85.3" y="60.4" width="1.0" height="1.0" fill="rgb(144,144,144)"/><rect x="87.6" y="77.2" width="1.0" height="1.0" fill="rgb(117,117,117)"/><rect x="92.0" y="87.3" width="1.0" height="1.0" fill="rgb(174,174,174)"/><rect x="77.0" y="66.3" width="1.0" height="1.0" fill="rgb(182,182,182)"/><rect x="93.4" y="81.5" width="1.0" height="1.0" fill="rgb(190,190,190)"/><rect x="90.2" y="82.1" width="1.0" height="1.0" fill="rgb(124,124,124)"/><rect x="75.3" y="71.1" width="1.0" height="1.0" fill="rgb(127,127,127)"/><rect x="91.6" y="85.7" width="1.0" height="1.0" fill="rgb(148,148,148)"/><rect x="85.4" y="63.1" width="1.0" height="1.0" fill="rgb(173,173,173)"/><rect x="81.0" y="63.8" width="1.0" height="1.0" fill="rgb(159,159,159)"/><rect x="87.7" y="73.1" width="1.0" height="1.0" fill="rgb(137,137,137)"/><rect x="80.6" y="65.0" width="1.0" height="1.0" fill="rgb(163,163,163)"/><rect x="89.7" y="83.6" width="1.0" height="1.0" fill="rgb(145,145,145)"/><rect x="83.0" y="75.8" width="1.0" height="1.0" fill="rgb(155,155,155)"/><rect x="86.6" y="87.1" width="1.0" height="1.0" fill="rgb(157,157,157)"/><rect x="91.4" y="90.8" width="1.0" height="1.0" fill="rgb(130,130,130)"/><rect x="80.3" y="76.4" width="1.0" height="1.0" fill="rgb(180,180,180)"/><rect x="91.6" y="86.6" width="1.0" height="1.0" fill="rgb(177,177,177)"/><rect x="88.5" y="66.9" width="1.0" height="1.0" fill="rgb(161,161,161)"/><rect x="81.7" y="66.1" width="1.0" height="1.0" fill="rgb(160,160,160)"/><rect x="87.7" y="90.8" width="1.0" height="1.0" fill="rgb(178,178,178)"/><rect x="87.0" y="74.4" width="1.0" height="1.0" fill="rgb(192,192,192)"/><rect x="88.0" y="67.1" width="1.0" height="1.0" fill="rgb(129,129,129)"/><rect x="89.0" y="86.7" width="1.0" height="1.0" fill="rgb(163,163,163)"/><rect x="90.6" y="92.2" width="1.0" height="1.0" fill="rgb(123,123,123)"/><rect x="85.6" y="80.8" width="1.0" height="1.0" fill="rgb(152,152,152)"/><rect x="85.6" y="62.3" width="1.0" height="1.0" fill="rgb(155,155,155)"/><rect x="79.6" y="77.5" width="1.0" height="1.0" fill="rgb(183,183,183)"/><rect x="90.0" y="78.3" width="1.0" height="1.0" fill="rgb(159,159,159)"/><rect x="86.1" y="73.6" width="1.0" height="1.0" fill="rgb(200,200,200)"/><rect x="82.6" y="58.0" width="1.0" height="1.0" fill="rgb(169,169,169)"/><rect x="83.6" y="82.9" width="1.0" height="1.0" fill="rgb(118,118,118)"/><rect x="85.5" y="77.5" width="1.0" height="1.0" fill="rgb(182,182,182)"/><rect x="89.9" y="88.8" width="1.0" height="1.0" fill="rgb(175,175,175)"/><rect x="83.5" y="72.9" width="1.0" height="1.0" fill="rgb(150,150,150)"/><rect x="86.1" y="69.9" width="1.0" height="1.0" fill="rgb(165,165,165)"/><rect x="80.6" y="70.6" width="1.0" height="1.0" fill="rgb(137,137,137)"/><rect x="85.5" y="93.2" width="1.0" height="1.0" fill="rgb(156,156,156)"/><rect x="87.2" y="76.0" width="1.0" height="1.0" fill="rgb(178,178,178)"/><rect x="79.2" y="72.6" width="1.0" height="1.0" fill="rgb(182,182,182)"/><rect x="87.7" y="81.1" width="1.0" height="1.0" fill="rgb(176,176,176)"/><rect x="95.0" y="91.0" width="1.0" height="1.0" fill="rgb(141,141,141)"/><rect x="91.9" y="84.9" width="1.0" height="1.0" fill="rgb(139,139,139)"/><rect x="82.6" y="67.7" width="1.0" height="1.0" fill="rgb(186,186,186)"/><rect x="92.2" y="76.6" width="1.0" height="1.0" fill="rgb(114,114,114)"/><rect x="89.7" y="79.1" width="1.0" height="1.0" fill="rgb(149,149,149)"/><rect x="83.5" y="68.6" width="1.0" height="1.0" fill="rgb(180,180,180)"/><rect x="86.3" y="72.3" width="1.0" height="1.0" fill="rgb(132,132,132)"/><rect x="86.5" y="65.8" width="1.0" height="1.0" fill="rgb(191,191,191)"/><rect x="81.9" y="68.1" width="1.0" height="1.0" fill="rgb(157,157,157)"/><rect x="89.3" y="82.3" width="1.0" height="1.0" fill="rgb(133,133,133)"/><rect x="90.7" y="80.8" width="1.0" height="1.0" fill="rgb(140,140,140)"/><rect x="93.2" y="85.2" width="1.0" height="1.0" fill="rgb(140,140,140)"/><rect x="93.0" y="77.2" width="1.0" height="1.0" fill="rgb(174,174,174)"/><rect x="95.8" y="81.6" width="1.0" height="1.0" fill="rgb(137,137,137)"/><rect x="90.4" y="88.6" width="1.0" height="1.0" fill="rgb(123,123,123)"/><rect x="90.7" y="82.4" width="1.0" height="1.0" fill="rgb(181,181,181)"/><rect x="90.2" y="92.3" width="1.0" height="1.0" fill="rgb(151,151,151)"/><rect x="82.1" y="73.1" width="1.0" height="1.0" fill="rgb(139,139,139)"/><rect x="85.3" y="64.4" width="1.0" height="1.0" fill="rgb(141,141,141)"/><rect x="81.3" y="64.0" width="1.0" height="1.0" fill="rgb(166,166,166)"/><rect x="90.2" y="83.9" width="1.0" height="1.0" fill="rgb(112,112,112)"/><rect x="87.0" y="73.0" width="1.0" height="1.0" fill="rgb(137,137,137)"/><rect x="77.2" y="66.8" width="1.0" height="1.0" fill="rgb(171,171,171)"/><rect x="88.7" y="74.9" width="1.0" height="1.0" fill="rgb(128,128,128)"/><rect x="91.8" y="70.7" width="1.0" height="1.0" fill="rgb(147,147,147)"/><rect x="92.1" y="92.2" width="1.0" height="1.0" fill="rgb(164,164,164)"/><rect x="77.6" y="62.6" width="1.0" height="1.0" fill="rgb(162,162,162)"/><rect x="93.0" y="86.4" width="1.0" height="1.0" fill="rgb(198,198,198)"/><rect x="94.1" y="90.4" width="1.0" height="1.0" fill="rgb(139,139,139)"/><rect x="75.0" y="64.4" width="1.0" height="1.0" fill="rgb(138,138,138)"/><rect x="90.0" y="77.1" width="1.0" height="1.0" fill="rgb(157,157,157)"/><rect x="86.3" y="65.7" width="1.0" height="1.0" fill="rgb(113,113,113)"/><rect x="85.5" y="72.5" width="1.0" height="1.0" fill="rgb(127,127,127)"/><rect x="92.6" y="80.5" width="1.0" height="1.0" fill="rgb(131,131,131)"/><rect x="91.7" y="84.9" width="1.0" height="1.0" fill="rgb(165,165,165)"/><rect x="97.4" y="90.7" width="1.0" height="1.0" fill="rgb(117,117,117)"/><rect x="88.6" y="82.6" width="1.0" height="1.0" fill="rgb(157,157,157)"/><rect x="81.7" y="58.6" width="1.0" height="1.0" fill="rgb(115,115,115)"/><rect x="79.1" y="63.4" width="1.0" height="1.0" fill="rgb(163,163,163)"/><rect x="87.0" y="73.1" width="1.0" height="1.0" fill="rgb(129,129,129)"/><rect x="91.0" y="69.9" width="1.0" height="1.0" fill="rgb(141,141,141)"/><rect x="82.6" y="63.2" width="1.0" height="1.0" fill="rgb(181,181,181)"/><rect x="79.5" y="64.2" width="1.0" height="1.0" fill="rgb(199,199,199)"/><rect x="86.5" y="77.2" width="1.0" height="1.0" fill="rgb(165,165,165)"/><rect x="76.6" y="60.9" width="1.0" height="1.0" fill="rgb(143,143,143)"/><rect x="89.3" y="80.5" width="1.0" height="1.0" fill="rgb(137,137,137)"/><rect x="87.8" y="87.5" width="1.0" height="1.0" fill="rgb(196,196,196)"/><rect x="89.4" y="62.6" width="1.0" height="1.0" fill="rgb(164,164,164)"/><rect x="85.5" y="67.1" width="1.0" height="1.0" fill="rgb(174,174,174)"/><rect x="85.5" y="58.2" width="1.0" height="1.0" fill="rgb(178,178,178)"/><rect x="84.2" y="72.5" width="1.0" height="1.0" fill="rgb(191,191,191)"/><rect x="80.5" y="66.6" width="1.0" height="1.0" fill="rgb(117,117,117)"/><rect x="86.3" y="72.6" width="1.0" height="1.0" fill="rgb(126,126,126)"/><rect x="77.5" y="75.1" width="1.0" height="1.0" fill="rgb(200,200,200)"/><rect x="87.6" y="83.0" width="1.0" height="1.0" fill="rgb(181,181,181)"/><rect x="86.0" y="71.8" width="1.0" height="1.0" fill="rgb(169,169,169)"/><rect x="90.9" y="90.5" width="1.0" height="1.0" fill="rgb(155,155,155)"/><rect x="93.3" y="79.5" width="1.0" height="1.0" fill="rgb(193,193,193)"/><rect x="87.3" y="78.4" width="1.0" height="1.0" fill="rgb(149,149,149)"/><rect x="92.2" y="82.0" width="1.0" height="1.0" fill="rgb(122,122,122)"/><rect x="79.5" y="61.8" width="1.0" height="1.0" fill="rgb(163,163,163)"/><rect x="89.6" y="88.1" width="1.0" height="1.0" fill="rgb(179,179,179)"/><rect x="83.5" y="69.1" width="1.0" height="1.0" fill="rgb(162,162,162)"/><rect x="97.0" y="91.0" width="1.0" height="1.0" fill="rgb(185,185,185)"/><rect x="89.6" y="71.7" width="1.0" height="1.0" fill="rgb(143,143,143)"/><rect x="77.2" y="63.3" width="1.0" height="1.0" fill="rgb(171,171,171)"/><rect x="79.3" y="61.4" width="1.0" height="1.0" fill="rgb(163,163,163)"/><rect x="94.9" y="91.5" width="1.0" height="1.0" fill="rgb(157,157,157)"/><rect x="84.9" y="82.4" width="1.0" height="1.0" fill="rgb(182,182,182)"/><rect x="84.5" y="85.3" width="1.0" height="1.0" fill="rgb(139,139,139)"/><rect x="87.8" y="75.7" width="1.0" height="1.0" fill="rgb(165,165,165)"/><rect x="89.5" y="88.2" width="1.0" height="1.0" fill="rgb(182,182,182)"/><rect x="80.8" y="69.3" width="1.0" height="1.0" fill="rgb(150,150,150)"/><rect x="75.2" y="65.6" width="1.0" height="1.0" fill="rgb(162,162,162)"/><rect x="79.0" y="59.5" width="1.0" height="1.0" fill="rgb(129,129,129)"/><rect x="84.1" y="71.2" width="1.0" height="1.0" fill="rgb(132,132,132)"/><rect x="97.5" y="90.7" width="1.0" height="1.0" fill="rgb(135,135,135)"/><rect x="88.4" y="85.8" width="1.0" height="1.0" fill="rgb(192,192,192)"/><rect x="80.6" y="71.8" width="1.0" height="1.0" fill="rgb(160,160,160)"/><rect x="90.0" y="78.4" width="1.0" height="1.0" fill="rgb(185,185,185)"/><rect x="85.0" y="77.9" width="1.0" height="1.0" fill="rgb(146,146,146)"/><rect x="89.1" y="74.4" width="1.0" height="1.0" fill="rgb(113,113,113)"/><rect x="79.3" y="64.4" width="1.0" height="1.0" fill="rgb(199,199,199)"/><rect x="87.8" y="80.5" width="1.0" height="1.0" fill="rgb(121,121,121)"/><rect x="86.3" y="78.9" width="1.0" height="1.0" fill="rgb(153,153,153)"/><rect x="88.4" y="84.2" width="1.0" height="1.0" fill="rgb(124,124,124)"/><rect x="78.5" y="59.1" width="1.0" height="1.0" fill="rgb(145,145,145)"/><rect x="83.2" y="65.5" width="1.0" height="1.0" fill="rgb(164,164,164)"/><rect x="83.9" y="74.6" width="1.0" height="1.0" fill="rgb(118,118,118)"/><rect x="76.7" y="60.8" width="1.0" height="1.0" fill="rgb(110,110,110)"/><rect x="89.3" y="59.5" width="1.0" height="1.0" fill="rgb(187,187,187)"/><rect x="83.9" y="76.4" width="1.0" height="1.0" fill="rgb(157,157,157)"/><rect x="79.7" y="70.1" width="1.0" height="1.0" fill="rgb(185,185,185)"/><rect x="91.6" y="85.3" width="1.0" height="1.0" fill="rgb(137,137,137)"/><rect x="89.9" y="93.2" width="1.0" height="1.0" fill="rgb(168,168,168)"/><rect x="91.4" y="90.5" width="1.0" height="1.0" fill="rgb(165,165,165)"/><rect x="78.3" y="69.8" width="1.0" height="1.0" fill="rgb(144,144,144)"/><rect x="91.8" y="89.0" width="1.0" height="1.0" fill="rgb(143,143,143)"/><rect x="84.2" y="63.8" width="1.0" height="1.0" fill="rgb(119,119,119)"/><rect x="76.2" y="57.6" width="1.0" height="1.0" fill="rgb(125,125,125)"/><rect x="85.3" y="79.1" width="1.0" height="1.0" fill="rgb(167,167,167)"/><rect x="92.6" y="67.6" width="1.0" height="1.0" fill="rgb(166,166,166)"/><rect x="83.1" y="76.3" width="1.0" height="1.0" fill="rgb(196,196,196)"/><rect x="94.0" y="81.9" width="1.0" height="1.0" fill="rgb(146,146,146)"/><rect x="84.1" y="83.0" width="1.0" height="1.0" fill="rgb(153,153,153)"/><rect x="118.1" y="15.5" width="1.0" height="1.0" fill="rgb(173,173,173)"/><rect x="130.8" y="15.9" width="1.0" height="1.0" fill="rgb(127,127,127)"/><rect x="160.4" y="16.0" width="1.0" height="1.0" fill="rgb(101,101,101)"/><rect x="143.1" y="16.1" width="1.0" height="1.0" fill="rgb(103,103,103)"/><rect x="118.1" y="15.8" width="1.0" height="1.0" fill="rgb(141,141,141)"/><rect x="143.4" y="15.7" width="1.0" height="1.0" fill="rgb(169,169,169)"/><rect x="134.9" y="16.2" width="1.0" height="1.0" fill="rgb(120,120,120)"/><rect x="154.7" y="15.5" width="1.0" height="1.0" fill="rgb(160,160,160)"/><rect x="128.8" y="16.1" width="1.0" height="1.0" fill="rgb(110,110,110)"/><rect x="117.2" y="15.7" width="1.0" height="1.0" fill="rgb(128,128,128)"/><rect x="126.0" y="15.8" width="1.0" height="1.0" fill="rgb(142,142,142)"/><rect x="126.8" y="15.7" width="1.0" height="1.0" fill="rgb(149,149,149)"/><rect x="153.5" y="15.8" width="1.0" height="1.0" fill="rgb(127,127,127)"/><rect x="142.3" y="16.5" width="1.0" height="1.0" fill="rgb(134,134,134)"/><rect x="126.5" y="16.7" width="1.0" height="1.0" fill="rgb(172,172,172)"/><rect x="131.6" y="16.4" width="1.0" height="1.0" fill="rgb(183,183,183)"/><rect x="126.0" y="15.9" width="1.0" height="1.0" fill="rgb(124,124,124)"/><rect x="129.8" y="16.0" width="1.0" height="1.0" fill="rgb(154,154,154)"/><rect x="127.9" y="15.5" width="1.0" height="1.0" fill="rgb(170,170,170)"/><rect x="109.8" y="15.8" width="1.0" height="1.0" fill="rgb(142,142,142)"/><rect x="123.9" y="15.7" width="1.0" height="1.0" fill="rgb(153,153,153)"/><rect x="152.4" y="16.1" width="1.0" height="1.0" fill="rgb(163,163,163)"/><rect x="138.0" y="16.1" width="1.0" height="1.0" fill="rgb(170,170,170)"/><rect x="135.4" y="15.7" width="1.0" height="1.0" fill="rgb(184,184,184)"/><rect x="137.8" y="16.1" width="1.0" height="1.0" fill="rgb(123,123,123)"/><rect x="147.8" y="15.5" width="1.0" height="1.0" fill="rgb(116,116,116)"/><rect x="112.7" y="15.5" width="1.0" height="1.0" fill="rgb(153,153,153)"/><rect x="112.5" y="15.7" width="1.0" height="1.0" fill="rgb(114,114,114)"/><rect x="121.5" y="16.0" width="1.0" height="1.0" fill="rgb(102,102,102)"/><rect x="132.5" y="15.5" width="1.0" height="1.0" fill="rgb(139,139,139)"/><rect x="146.9" y="16.0" width="1.0" height="1.0" fill="rgb(133,133,133)"/><rect x="115.6" y="16.0" width="1.0" height="1.0" fill="rgb(149,149,149)"/><rect x="129.0" y="15.5" width="1.0" height="1.0" fill="rgb(157,157,157)"/><rect x="114.4" y="15.7" width="1.0" height="1.0" fill="rgb(132,132,132)"/><rect x="146.1" y="16.4" width="1.0" height="1.0" fill="rgb(138,138,138)"/><rect x="132.6" y="16.3" width="1.0" height="1.0" fill="rgb(187,187,187)"/><rect x="147.8" y="15.5" width="1.0" height="1.0" fill="rgb(110,110,110)"/><rect x="120.6" y="16.2" width="1.0" height="1.0" fill="rgb(141,141,141)"/><rect x="107.8" y="15.6" width="1.0" height="1.0" fill="rgb(120,120,120)"/><rect x="113.3" y="16.3" width="1.0" height="1.0" fill="rgb(134,134,134)"/><rect x="127.5" y="15.7" width="1.0" height="1.0" fill="rgb(171,171,171)"/><rect x="111.7" y="16.1" width="1.0" height="1.0" fill="rgb(107,107,107)"/><rect x="149.5" y="15.8" width="1.0" height="1.0" fill="rgb(164,164,164)"/><rect x="141.8" y="16.2" width="1.0" height="1.0" fill="rgb(177,177,177)"/><rect x="107.6" y="15.6" width="1.0" height="1.0" fill="rgb(178,178,178)"/><rect x="127.4" y="16.1" width="1.0" height="1.0" fill="rgb(186,186,186)"/><rect x="135.7" y="15.6" width="1.0" height="1.0" fill="rgb(132,132,132)"/><rect x="134.2" y="15.8" width="1.0" height="1.0" fill="rgb(170,170,170)"/><rect x="138.2" y="16.3" width="1.0" height="1.0" fill="rgb(161,161,161)"/><rect x="153.6" y="15.6" width="1.0" height="1.0" fill="rgb(145,145,145)"/><rect x="136.2" y="16.7" width="1.0" height="1.0" fill="rgb(129,129,129)"/><rect x="139.6" y="15.6" width="1.0" height="1.0" fill="rgb(153,153,153)"/><rect x="161.3" y="15.9" width="1.0" height="1.0" fill="rgb(122,122,122)"/><rect x="132.6" y="15.5" width="1.0" height="1.0" fill="rgb(173,173,173)"/><rect x="112.6" y="16.2" width="1.0" height="1.0" fill="rgb(184,184,184)"/><rect x="153.2" y="15.6" width="1.0" height="1.0" fill="rgb(107,107,107)"/><rect x="109.7" y="16.5" width="1.0" height="1.0" fill="rgb(160,160,160)"/><rect x="109.7" y="15.6" width="1.0" height="1.0" fill="rgb(109,109,109)"/><rect x="142.6" y="15.5" width="1.0" height="1.0" fill="rgb(105,105,105)"/><rect x="115.5" y="15.8" width="1.0" height="1.0" fill="rgb(145,145,145)"/><rect x="148.5" y="16.2" width="1.0" height="1.0" fill="rgb(157,157,157)"/><rect x="148.0" y="15.9" width="1.0" height="1.0" fill="rgb(188,188,188)"/><rect x="151.8" y="16.1" width="1.0" height="1.0" fill="rgb(150,150,150)"/><rect x="126.9" y="15.7" width="1.0" height="1.0" fill="rgb(153,153,153)"/><rect x="152.2" y="15.9" width="1.0" height="1.0" fill="rgb(151,151,151)"/><rect x="121.4" y="15.5" width="1.0" height="1.0" fill="rgb(110,110,110)"/><rect x="119.4" y="15.9" width="1.0" height="1.0" fill="rgb(168,168,168)"/><rect x="148.4" y="15.9" width="1.0" height="1.0" fill="rgb(150,150,150)"/><rect x="159.2" y="15.8" width="1.0" height="1.0" fill="rgb(143,143,143)"/><rect x="109.0" y="16.2" width="1.0" height="1.0" fill="rgb(133,133,133)"/><rect x="118.2" y="15.8" width="1.0" height="1.0" fill="rgb(128,128,128)"/><rect x="140.6" y="16.4" width="1.0" height="1.0" fill="rgb(168,168,168)"/><rect x="158.2" y="15.9" width="1.0" height="1.0" fill="rgb(185,185,185)"/><rect x="146.0" y="15.7" width="1.0" height="1.0" fill="rgb(190,190,190)"/><rect x="131.6" y="15.9" width="1.0" height="1.0" fill="rgb(127,127,127)"/><rect x="128.0" y="15.8" width="1.0" height="1.0" fill="rgb(182,182,182)"/><rect x="124.8" y="16.0" width="1.0" height="1.0" fill="rgb(160,160,160)"/><rect x="147.6" y="15.6" width="1.0" height="1.0" fill="rgb(115,115,115)"/><rect x="121.0" y="15.5" width="1.0" height="1.0" fill="rgb(114,114,114)"/><rect x="162.5" y="16.0" width="1.0" height="1.0" fill="rgb(141,141,141)"/><rect x="130.0" y="16.0" width="1.0" height="1.0" fill="rgb(155,155,155)"/><rect x="163.7" y="16.8" width="1.0" height="1.0" fill="rgb(162,162,162)"/><rect x="136.9" y="15.5" width="1.0" height="1.0" fill="rgb(164,164,164)"/><rect x="160.2" y="16.7" width="1.0" height="1.0" fill="rgb(136,136,136)"/><rect x="137.1" y="16.1" width="1.0" height="1.0" fill="rgb(188,188,188)"/><rect x="113.7" y="16.5" width="1.0" height="1.0" fill="rgb(137,137,137)"/><rect x="147.3" y="16.1" width="1.0" height="1.0" fill="rgb(156,156,156)"/><rect x="136.2" y="16.1" width="1.0" height="1.0" fill="rgb(144,144,144)"/><rect x="115.2" y="15.5" width="1.0" height="1.0" fill="rgb(184,184,184)"/><rect x="125.5" y="15.8" width="1.0" height="1.0" fill="rgb(174,174,174)"/><rect x="152.9" y="16.0" width="1.0" height="1.0" fill="rgb(123,123,123)"/><rect x="152.7" y="15.7" width="1.0" height="1.0" fill="rgb(114,114,114)"/><rect x="154.3" y="16.2" width="1.0" height="1.0" fill="rgb(129,129,129)"/><rect x="163.9" y="15.7" width="1.0" height="1.0" fill="rgb(165,165,165)"/><rect x="121.6" y="16.8" width="1.0" height="1.0" fill="rgb(180,180,180)"/><rect x="146.2" y="16.2" width="1.0" height="1.0" fill="rgb(167,167,167)"/><rect x="160.2" y="15.8" width="1.0" height="1.0" fill="rgb(128,128,128)"/><rect x="112.4" y="15.6" width="1.0" height="1.0" fill="rgb(155,155,155)"/><rect x="137.5" y="16.5" width="1.0" height="1.0" fill="rgb(116,116,116)"/><rect x="155.5" y="15.9" width="1.0" height="1.0" fill="rgb(105,105,105)"/><rect x="119.2" y="16.5" width="1.0" height="1.0" fill="rgb(157,157,157)"/><rect x="161.7" y="16.3" width="1.0" height="1.0" fill="rgb(175,175,175)"/><rect x="160.1" y="15.9" width="1.0" height="1.0" fill="rgb(142,142,142)"/><rect x="127.1" y="15.8" width="1.0" height="1.0" fill="rgb(187,187,187)"/><rect x="144.7" y="15.8" width="1.0" height="1.0" fill="rgb(138,138,138)"/><rect x="132.1" y="15.9" width="1.0" height="1.0" fill="rgb(168,168,168)"/><rect x="142.6" y="16.5" width="1.0" height="1.0" fill="rgb(138,138,138)"/><rect x="164.1" y="65.8" width="1.0" height="1.0" fill="rgb(179,179,179)"/><rect x="164.8" y="51.8" width="1.0" height="1.0" fill="rgb(186,186,186)"/><rect x="164.4" y="85.5" width="1.0" height="1.0" fill="rgb(183,183,183)"/><rect x="164.3" y="81.9" width="1.0" height="1.0" fill="rgb(168,168,168)"/><rect x="164.4" y="71.4" width="1.0" height="1.0" fill="rgb(195,195,195)"/><rect x="164.9" y="78.4" width="1.0" height="1.0" fill="rgb(164,164,164)"/><rect x="164.9" y="92.0" width="1.0" height="1.0" fill="rgb(167,167,167)"/><rect x="164.4" y="88.2" width="1.0" height="1.0" fill="rgb(208,208,208)"/><rect x="164.4" y="78.9" width="1.0" height="1.0" fill="rgb(153,153,153)"/><rect x="164.7" y="58.8" width="1.0" height="1.0" fill="rgb(209,209,209)"/><rect x="164.8" y="88.4" width="1.0" height="1.0" fill="rgb(198,198,198)"/><rect x="164.1" y="86.1" width="1.0" height="1.0" fill="rgb(174,174,174)"/><rect x="164.9" y="64.2" width="1.0" height="1.0" fill="rgb(187,187,187)"/><rect x="164.2" y="60.0" width="1.0" height="1.0" fill="rgb(199,199,199)"/><rect x="164.2" y="57.7" width="1.0" height="1.0" fill="rgb(189,189,189)"/><rect x="164.0" y="23.6" width="1.0" height="1.0" fill="rgb(157,157,157)"/><rect x="164.7" y="68.5" width="1.0" height="1.0" fill="rgb(206,206,206)"/><rect x="164.6" y="89.7" width="1.0" height="1.0" fill="rgb(191,191,191)"/><rect x="164.8" y="80.7" width="1.0" height="1.0" fill="rgb(165,165,165)"/><rect x="164.3" y="77.6" width="1.0" height="1.0" fill="rgb(176,176,176)"/><rect x="164.5" y="64.3" width="1.0" height="1.0" fill="rgb(163,163,163)"/><rect x="164.6" y="53.7" width="1.0" height="1.0" fill="rgb(168,168,168)"/><rect x="164.8" y="71.7" width="1.0" height="1.0" fill="rgb(174,174,174)"/><rect x="164.7" y="71.3" width="1.0" height="1.0" fill="rgb(166,166,166)"/><rect x="164.5" y="95.5" width="1.0" height="1.0" fill="rgb(177,177,177)"/><rect x="164.6" y="74.2" width="1.0" height="1.0" fill="rgb(179,179,179)"/><rect x="164.8" y="86.8" width="1.0" height="1.0" fill="rgb(179,179,179)"/><rect x="164.2" y="54.3" width="1.0" height="1.0" fill="rgb(190,190,190)"/><rect x="164.7" y="57.3" width="1.0" height="1.0" fill="rgb(185,185,185)"/><rect x="164.9" y="64.6" width="1.0" height="1.0" fill="rgb(172,172,172)"/><rect x="164.3" y="37.3" width="1.0" height="1.0" fill="rgb(171,171,171)"/><rect x="164.5" y="47.1" width="1.0" height="1.0" fill="rgb(155,155,155)"/><rect x="164.5" y="52.4" width="1.0" height="1.0" fill="rgb(190,190,190)"/><rect x="164.7" y="27.6" width="1.0" height="1.0" fill="rgb(176,176,176)"/><rect x="164.5" y="89.6" width="1.0" height="1.0" fill="rgb(193,193,193)"/><rect x="164.4" y="60.0" width="1.0" height="1.0" fill="rgb(192,192,192)"/><rect x="164.8" y="45.8" width="1.0" height="1.0" fill="rgb(177,177,177)"/><rect x="164.3" y="48.9" width="1.0" height="1.0" fill="rgb(178,178,178)"/><rect x="164.5" y="25.8" width="1.0" height="1.0" fill="rgb(160,160,160)"/><rect x="164.8" y="22.8" width="1.0" height="1.0" fill="rgb(192,192,192)"/><rect x="164.3" y="72.7" width="1.0" height="1.0" fill="rgb(192,192,192)"/><rect x="164.8" y="65.8" width="1.0" height="1.0" fill="rgb(199,199,199)"/><rect x="164.9" y="95.0" width="1.0" height="1.0" fill="rgb(186,186,186)"/><rect x="164.8" y="93.6" width="1.0" height="1.0" fill="rgb(184,184,184)"/><rect x="164.5" y="47.1" width="1.0" height="1.0" fill="rgb(165,165,165)"/><rect x="164.6" y="21.7" width="1.0" height="1.0" fill="rgb(171,171,171)"/><rect x="164.8" y="85.6" width="1.0" height="1.0" fill="rgb(179,179,179)"/><rect x="164.3" y="17.2" width="1.0" height="1.0" fill="rgb(184,184,184)"/><rect x="163.4" y="75.2" width="1.0" height="1.0" fill="rgb(208,208,208)"/><rect x="164.6" y="46.7" width="1.0" height="1.0" fill="rgb(209,209,209)"/><rect x="164.2" y="37.4" width="1.0" height="1.0" fill="rgb(156,156,156)"/><rect x="164.3" y="80.8" width="1.0" height="1.0" fill="rgb(185,185,185)"/><rect x="164.9" y="30.5" width="1.0" height="1.0" fill="rgb(155,155,155)"/><rect x="164.7" y="24.4" width="1.0" height="1.0" fill="rgb(169,169,169)"/><rect x="163.6" y="57.7" width="1.0" height="1.0" fill="rgb(200,200,200)"/><rect x="164.5" y="64.5" width="1.0" height="1.0" fill="rgb(158,158,158)"/><rect x="164.5" y="73.0" width="1.0" height="1.0" fill="rgb(170,170,170)"/><rect x="164.5" y="77.5" width="1.0" height="1.0" fill="rgb(173,173,173)"/><rect x="164.9" y="40.7" width="1.0" height="1.0" fill="rgb(205,205,205)"/><rect x="164.6" y="40.1" width="1.0" height="1.0" fill="rgb(190,190,190)"/><rect x="119.2" y="81.3" width="1.0" height="1.0" fill="rgb(218,218,218)"/><rect x="124.4" y="93.1" width="1.0" height="1.0" fill="rgb(208,208,208)"/><rect x="157.5" y="83.6" width="1.0" height="1.0" fill="rgb(196,196,196)"/><rect x="124.6" y="28.3" width="1.0" height="1.0" fill="rgb(221,221,221)"/><rect x="133.4" y="59.8" width="1.0" height="1.0" fill="rgb(226,226,226)"/><rect x="142.9" y="83.3" width="1.0" height="1.0" fill="rgb(197,197,197)"/><rect x="96.8" y="89.1" width="1.0" height="1.0" fill="rgb(175,175,175)"/><rect x="151.5" y="27.9" width="1.0" height="1.0" fill="rgb(182,182,182)"/><rect x="113.0" y="51.5" width="1.0" height="1.0" fill="rgb(179,179,179)"/><rect x="163.4" y="51.2" width="1.0" height="1.0" fill="rgb(202,202,202)"/><rect x="140.9" y="58.5" width="1.0" height="1.0" fill="rgb(176,176,176)"/><rect x="135.6" y="34.8" width="1.0" height="1.0" fill="rgb(192,192,192)"/><rect x="123.9" y="69.2" width="1.0" height="1.0" fill="rgb(203,203,203)"/><rect x="101.2" y="69.6" width="1.0" height="1.0" fill="rgb(176,176,176)"/><rect x="129.6" y="85.2" width="1.0" height="1.0" fill="rgb(221,221,221)"/><rect x="126.8" y="27.3" width="1.0" height="1.0" fill="rgb(177,177,177)"/><rect x="113.0" y="69.4" width="1.0" height="1.0" fill="rgb(193,193,193)"/><rect x="121.1" y="68.8" width="1.0" height="1.0" fill="rgb(193,193,193)"/><rect x="145.6" y="42.0" width="1.0" height="1.0" fill="rgb(188,188,188)"/><rect x="121.2" y="24.8" width="1.0" height="1.0" fill="rgb(214,214,214)"/><rect x="157.7" y="80.6" width="1.0" height="1.0" fill="rgb(230,230,230)"/><rect x="83.1" y="60.6" width="1.0" height="1.0" fill="rgb(187,187,187)"/><rect x="114.8" y="16.4" width="1.0" height="1.0" fill="rgb(216,216,216)"/><rect x="120.3" y="25.9" width="1.0" height="1.0" fill="rgb(227,227,227)"/><rect x="118.1" y="44.3" width="1.0" height="1.0" fill="rgb(193,193,193)"/><rect x="152.5" y="49.3" width="1.0" height="1.0" fill="rgb(178,178,178)"/><rect x="114.7" y="47.2" width="1.0" height="1.0" fill="rgb(183,183,183)"/><rect x="123.1" y="37.4" width="1.0" height="1.0" fill="rgb(221,221,221)"/><rect x="86.3" y="68.5" width="1.0" height="1.0" fill="rgb(229,229,229)"/><rect x="130.5" y="18.9" width="1.0" height="1.0" fill="rgb(221,221,221)"/><rect x="82.8" y="93.5" width="1.0" height="1.0" fill="rgb(202,202,202)"/><rect x="124.1" y="50.3" width="1.0" height="1.0" fill="rgb(185,185,185)"/><rect x="138.7" y="79.6" width="1.0" height="1.0" fill="rgb(222,222,222)"/><rect x="122.1" y="73.5" width="1.0" height="1.0" fill="rgb(186,186,186)"/><rect x="103.6" y="57.0" width="1.0" height="1.0" fill="rgb(177,177,177)"/><rect x="155.5" y="23.9" width="1.0" height="1.0" fill="rgb(197,197,197)"/><rect x="78.3" y="92.7" width="1.0" height="1.0" fill="rgb(214,214,214)"/><rect x="153.8" y="72.2" width="1.0" height="1.0" fill="rgb(220,220,220)"/><rect x="119.6" y="86.2" width="1.0" height="1.0" fill="rgb(179,179,179)"/><rect x="159.0" y="24.4" width="1.0" height="1.0" fill="rgb(200,200,200)"/><rect x="122.9" y="47.7" width="1.0" height="1.0" fill="rgb(215,215,215)"/><rect x="156.0" y="74.0" width="1.0" height="1.0" fill="rgb(202,202,202)"/><rect x="139.3" y="20.2" width="1.0" height="1.0" fill="rgb(221,221,221)"/><rect x="76.8" y="74.1" width="1.0" height="1.0" fill="rgb(189,189,189)"/><rect x="96.6" y="68.7" width="1.0" height="1.0" fill="rgb(194,194,194)"/><rect x="91.6" y="80.5" width="1.0" height="1.0" fill="rgb(212,212,212)"/><rect x="157.7" y="34.9" width="1.0" height="1.0" fill="rgb(202,202,202)"/><rect x="149.2" y="73.8" width="1.0" height="1.0" fill="rgb(190,190,190)"/><rect x="100.1" y="33.3" width="1.0" height="1.0" fill="rgb(208,208,208)"/><rect x="115.7" y="92.5" width="1.0" height="1.0" fill="rgb(181,181,181)"/><rect x="122.8" y="39.7" width="1.0" height="1.0" fill="rgb(186,186,186)"/><rect x="162.9" y="95.9" width="1.0" height="1.0" fill="rgb(175,175,175)"/><rect x="150.9" y="63.1" width="1.0" height="1.0" fill="rgb(211,211,211)"/><rect x="113.0" y="96.0" width="1.0" height="1.0" fill="rgb(175,175,175)"/><rect x="99.3" y="88.3" width="1.0" height="1.0" fill="rgb(219,219,219)"/><rect x="127.7" y="93.0" width="1.0" height="1.0" fill="rgb(180,180,180)"/><rect x="89.7" y="94.8" width="1.0" height="1.0" fill="rgb(183,183,183)"/><rect x="162.4" y="88.9" width="1.0" height="1.0" fill="rgb(219,219,219)"/><rect x="114.6" y="30.7" width="1.0" height="1.0" fill="rgb(206,206,206)"/><rect x="117.1" y="94.0" width="1.0" height="1.0" fill="rgb(206,206,206)"/><rect x="116.5" y="88.8" width="1.0" height="1.0" fill="rgb(183,183,183)"/><rect x="148.7" y="25.7" width="1.0" height="1.0" fill="rgb(222,222,222)"/><rect x="109.2" y="81.4" width="1.0" height="1.0" fill="rgb(191,191,191)"/><rect x="147.1" y="59.5" width="1.0" height="1.0" fill="rgb(226,226,226)"/><rect x="128.3" y="55.4" width="1.0" height="1.0" fill="rgb(175,175,175)"/><rect x="112.0" y="47.8" width="1.0" height="1.0" fill="rgb(189,189,189)"/><rect x="75.7" y="83.7" width="1.0" height="1.0" fill="rgb(226,226,226)"/><rect x="106.3" y="94.9" width="1.0" height="1.0" fill="rgb(185,185,185)"/><rect x="133.7" y="36.4" width="1.0" height="1.0" fill="rgb(223,223,223)"/><rect x="89.8" y="65.8" width="1.0" height="1.0" fill="rgb(179,179,179)"/><rect x="108.7" y="56.7" width="1.0" height="1.0" fill="rgb(215,215,215)"/><rect x="115.5" y="44.1" width="1.0" height="1.0" fill="rgb(207,207,207)"/><rect x="120.9" y="33.6" width="1.0" height="1.0" fill="rgb(175,175,175)"/><rect x="113.2" y="83.7" width="1.0" height="1.0" fill="rgb(212,212,212)"/><rect x="132.5" y="64.5" width="1.0" height="1.0" fill="rgb(206,206,206)"/><rect x="73.9" y="88.1" width="1.0" height="1.0" fill="rgb(184,184,184)"/><rect x="155.5" y="35.7" width="1.0" height="1.0" fill="rgb(179,179,179)"/><rect x="95.8" y="81.9" width="1.0" height="1.0" fill="rgb(218,218,218)"/><rect x="138.4" y="23.1" width="1.0" height="1.0" fill="rgb(217,217,217)"/><rect x="129.0" y="75.0" width="1.0" height="1.0" fill="rgb(195,195,195)"/><rect x="159.1" y="38.5" width="1.0" height="1.0" fill="rgb(214,214,214)"/><rect x="146.6" y="31.2" width="1.0" height="1.0" fill="rgb(182,182,182)"/><rect x="137.6" y="81.0" width="1.0" height="1.0" fill="rgb(184,184,184)"/><rect x="81.9" y="69.9" width="1.0" height="1.0" fill="rgb(212,212,212)"/><rect x="113.8" y="95.1" width="1.0" height="1.0" fill="rgb(220,220,220)"/><rect x="129.2" y="24.9" width="1.0" height="1.0" fill="rgb(206,206,206)"/><rect x="113.7" y="77.3" width="1.0" height="1.0" fill="rgb(224,224,224)"/><rect x="128.9" y="67.0" width="1.0" height="1.0" fill="rgb(214,214,214)"/><rect x="93.6" y="92.2" width="1.0" height="1.0" fill="rgb(177,177,177)"/><rect x="138.4" y="67.1" width="1.0" height="1.0" fill="rgb(177,177,177)"/><rect x="155.4" y="23.3" width="1.0" height="1.0" fill="rgb(210,210,210)"/><rect x="148.7" y="47.1" width="1.0" height="1.0" fill="rgb(188,188,188)"/><rect x="160.6" y="34.7" width="1.0" height="1.0" fill="rgb(198,198,198)"/><rect x="139.3" y="26.5" width="1.0" height="1.0" fill="rgb(187,187,187)"/><rect x="127.8" y="51.6" width="1.0" height="1.0" fill="rgb(203,203,203)"/><rect x="87.3" y="87.5" width="1.0" height="1.0" fill="rgb(201,201,201)"/><rect x="98.2" y="63.3" width="1.0" height="1.0" fill="rgb(202,202,202)"/><rect x="75.9" y="86.8" width="1.0" height="1.0" fill="rgb(176,176,176)"/><rect x="118.8" y="25.3" width="1.0" height="1.0" fill="rgb(203,203,203)"/><rect x="163.4" y="85.1" width="1.0" height="1.0" fill="rgb(201,201,201)"/><rect x="77.1" y="76.0" width="1.0" height="1.0" fill="rgb(229,229,229)"/><rect x="135.3" y="64.4" width="1.0" height="1.0" fill="rgb(213,213,213)"/><rect x="80.1" y="88.3" width="1.0" height="1.0" fill="rgb(223,223,223)"/><rect x="149.9" y="31.6" width="1.0" height="1.0" fill="rgb(223,223,223)"/><rect x="91.0" y="47.5" width="1.0" height="1.0" fill="rgb(211,211,211)"/><rect x="96.7" y="90.8" width="1.0" height="1.0" fill="rgb(185,185,185)"/><rect x="148.8" y="68.9" width="1.0" height="1.0" fill="rgb(184,184,184)"/><rect x="92.4" y="69.4" width="1.0" height="1.0" fill="rgb(195,195,195)"/><rect x="152.6" y="72.2" width="1.0" height="1.0" fill="rgb(228,228,228)"/><rect x="156.1" y="83.9" width="1.0" height="1.0" fill="rgb(225,225,225)"/><rect x="162.1" y="92.2" width="1.0" height="1.0" fill="rgb(177,177,177)"/><rect x="134.9" y="87.9" width="1.0" height="1.0" fill="rgb(205,205,205)"/><rect x="140.4" y="31.8" width="1.0" height="1.0" fill="rgb(196,196,196)"/><rect x="140.0" y="43.1" width="1.0" height="1.0" fill="rgb(222,222,222)"/><rect x="121.4" y="38.1" width="1.0" height="1.0" fill="rgb(223,223,223)"/><rect x="105.8" y="34.7" width="1.0" height="1.0" fill="rgb(191,191,191)"/><rect x="157.9" y="90.8" width="1.0" height="1.0" fill="rgb(210,210,210)"/><rect x="130.4" y="18.3" width="1.0" height="1.0" fill="rgb(211,211,211)"/><rect x="126.8" y="89.6" width="1.0" height="1.0" fill="rgb(222,222,222)"/><rect x="129.4" y="57.5" width="1.0" height="1.0" fill="rgb(203,203,203)"/><rect x="100.7" y="32.2" width="1.0" height="1.0" fill="rgb(217,217,217)"/><rect x="153.5" y="49.5" width="1.0" height="1.0" fill="rgb(230,230,230)"/><rect x="79.2" y="76.2" width="1.0" height="1.0" fill="rgb(192,192,192)"/><rect x="97.8" y="69.2" width="1.0" height="1.0" fill="rgb(185,185,185)"/><rect x="127.8" y="64.7" width="1.0" height="1.0" fill="rgb(183,183,183)"/><rect x="149.7" y="58.9" width="1.0" height="1.0" fill="rgb(211,211,211)"/><rect x="116.2" y="31.1" width="1.0" height="1.0" fill="rgb(180,180,180)"/><rect x="85.0" y="75.6" width="1.0" height="1.0" fill="rgb(177,177,177)"/><rect x="115.6" y="18.8" width="1.0" height="1.0" fill="rgb(225,225,225)"/><rect x="135.5" y="43.4" width="1.0" height="1.0" fill="rgb(204,204,204)"/><rect x="144.9" y="77.5" width="1.0" height="1.0" fill="rgb(188,188,188)"/><rect x="112.2" y="24.0" width="1.0" height="1.0" fill="rgb(177,177,177)"/><rect x="118.1" y="42.8" width="1.0" height="1.0" fill="rgb(213,213,213)"/><rect x="155.2" y="19.2" width="1.0" height="1.0" fill="rgb(220,220,220)"/><rect x="83.5" y="79.8" width="1.0" height="1.0" fill="rgb(175,175,175)"/><rect x="156.5" y="68.7" width="1.0" height="1.0" fill="rgb(183,183,183)"/><rect x="121.5" y="27.1" width="1.0" height="1.0" fill="rgb(225,225,225)"/><rect x="143.0" y="20.6" width="1.0" height="1.0" fill="rgb(210,210,210)"/><rect x="161.6" y="31.4" width="1.0" height="1.0" fill="rgb(198,198,198)"/><rect x="111.0" y="28.3" width="1.0" height="1.0" fill="rgb(179,179,179)"/><rect x="96.1" y="66.5" width="1.0" height="1.0" fill="rgb(191,191,191)"/><rect x="142.1" y="64.7" width="1.0" height="1.0" fill="rgb(181,181,181)"/><rect x="146.8" y="27.3" width="1.0" height="1.0" fill="rgb(186,186,186)"/><rect x="155.2" y="62.4" width="1.0" height="1.0" fill="rgb(213,213,213)"/><rect x="130.9" y="73.7" width="1.0" height="1.0" fill="rgb(226,226,226)"/><rect x="138.1" y="74.6" width="1.0" height="1.0" fill="rgb(211,211,211)"/><rect x="123.4" y="37.0" width="1.0" height="1.0" fill="rgb(225,225,225)"/><rect x="95.8" y="51.4" width="1.0" height="1.0" fill="rgb(194,194,194)"/><rect x="131.9" y="33.8" width="1.0" height="1.0" fill="rgb(217,217,217)"/><rect x="121.3" y="80.6" width="1.0" height="1.0" fill="rgb(225,225,225)"/><rect x="146.2" y="70.7" width="1.0" height="1.0" fill="rgb(230,230,230)"/><rect x="90.5" y="63.7" width="1.0" height="1.0" fill="rgb(229,229,229)"/><rect x="116.2" y="29.0" width="1.0" height="1.0" fill="rgb(190,190,190)"/><rect x="123.6" y="60.9" width="1.0" height="1.0" fill="rgb(210,210,210)"/><rect x="101.8" y="39.5" width="1.0" height="1.0" fill="rgb(211,211,211)"/><rect x="105.9" y="40.7" width="1.0" height="1.0" fill="rgb(227,227,227)"/><rect x="153.6" y="83.1" width="1.0" height="1.0" fill="rgb(187,187,187)"/><rect x="154.0" y="16.8" width="1.0" height="1.0" fill="rgb(204,204,204)"/><rect x="150.6" y="85.5" width="1.0" height="1.0" fill="rgb(179,179,179)"/><rect x="82.8" y="77.1" width="1.0" height="1.0" fill="rgb(180,180,180)"/><rect x="133.7" y="58.7" width="1.0" height="1.0" fill="rgb(196,196,196)"/><rect x="163.4" y="35.8" width="1.0" height="1.0" fill="rgb(177,177,177)"/><rect x="79.9" y="65.7" width="1.0" height="1.0" fill="rgb(196,196,196)"/><rect x="88.9" y="55.4" width="1.0" height="1.0" fill="rgb(207,207,207)"/><rect x="108.0" y="69.0" width="1.0" height="1.0" fill="rgb(219,219,219)"/><rect x="104.7" y="81.3" width="1.0" height="1.0" fill="rgb(183,183,183)"/><rect x="117.9" y="58.9" width="1.0" height="1.0" fill="rgb(211,211,211)"/><rect x="136.8" y="19.6" width="1.0" height="1.0" fill="rgb(193,193,193)"/><rect x="142.0" y="96.3" width="1.0" height="1.0" fill="rgb(194,194,194)"/><rect x="154.5" y="57.5" width="1.0" height="1.0" fill="rgb(208,208,208)"/><rect x="148.1" y="65.9" width="1.0" height="1.0" fill="rgb(210,210,210)"/><rect x="148.7" y="34.1" width="1.0" height="1.0" fill="rgb(207,207,207)"/><rect x="118.7" y="80.2" width="1.0" height="1.0" fill="rgb(204,204,204)"/><rect x="159.6" y="30.0" width="1.0" height="1.0" fill="rgb(217,217,217)"/><rect x="153.3" y="49.8" width="1.0" height="1.0" fill="rgb(200,200,200)"/><rect x="76.8" y="94.4" width="1.0" height="1.0" fill="rgb(224,224,224)"/><rect x="164.2" y="54.7" width="1.0" height="1.0" fill="rgb(202,202,202)"/><rect x="120.8" y="58.4" width="1.0" height="1.0" fill="rgb(227,227,227)"/><rect x="141.1" y="44.1" width="1.0" height="1.0" fill="rgb(215,215,215)"/><rect x="137.1" y="25.9" width="1.0" height="1.0" fill="rgb(224,224,224)"/><rect x="95.3" y="88.3" width="1.0" height="1.0" fill="rgb(220,220,220)"/><rect x="126.5" y="29.7" width="1.0" height="1.0" fill="rgb(178,178,178)"/><rect x="77.2" y="86.8" width="1.0" height="1.0" fill="rgb(191,191,191)"/><rect x="133.6" y="72.1" width="1.0" height="1.0" fill="rgb(230,230,230)"/><rect x="95.1" y="65.8" width="1.0" height="1.0" fill="rgb(200,200,200)"/><rect x="160.5" y="62.3" width="1.0" height="1.0" fill="rgb(206,206,206)"/><rect x="157.6" y="73.7" width="1.0" height="1.0" fill="rgb(192,192,192)"/><rect x="90.8" y="62.0" width="1.0" height="1.0" fill="rgb(220,220,220)"/><rect x="150.6" y="53.7" width="1.0" height="1.0" fill="rgb(186,186,186)"/><rect x="114.6" y="48.2" width="1.0" height="1.0" fill="rgb(203,203,203)"/><rect x="156.0" y="87.1" width="1.0" height="1.0" fill="rgb(210,210,210)"/><rect x="74.1" y="74.5" width="1.0" height="1.0" fill="rgb(215,215,215)"/><rect x="148.1" y="68.8" width="1.0" height="1.0" fill="rgb(210,210,210)"/><rect x="114.4" y="31.8" width="1.0" height="1.0" fill="rgb(209,209,209)"/><rect x="156.0" y="50.7" width="1.0" height="1.0" fill="rgb(185,185,185)"/><rect x="100.3" y="95.0" width="1.0" height="1.0" fill="rgb(200,200,200)"/><rect x="134.9" y="16.3" width="1.0" height="1.0" fill="rgb(175,175,175)"/><rect x="102.3" y="67.8" width="1.0" height="1.0" fill="rgb(201,201,201)"/><rect x="154.5" y="58.7" width="1.0" height="1.0" fill="rgb(220,220,220)"/><rect x="88.0" y="88.0" width="1.0" height="1.0" fill="rgb(215,215,215)"/><rect x="120.8" y="91.4" width="1.0" height="1.0" fill="rgb(180,180,180)"/><rect x="134.7" y="93.0" width="1.0" height="1.0" fill="rgb(222,222,222)"/><rect x="129.6" y="18.9" width="1.0" height="1.0" fill="rgb(230,230,230)"/><rect x="92.2" y="87.1" width="1.0" height="1.0" fill="rgb(228,228,228)"/><rect x="162.4" y="22.8" width="1.0" height="1.0" fill="rgb(190,190,190)"/><rect x="104.1" y="92.3" width="1.0" height="1.0" fill="rgb(187,187,187)"/><rect x="118.3" y="81.4" width="1.0" height="1.0" fill="rgb(177,177,177)"/><rect x="146.2" y="41.6" width="1.0" height="1.0" fill="rgb(182,182,182)"/><rect x="154.7" y="68.6" width="1.0" height="1.0" fill="rgb(230,230,230)"/><rect x="110.9" y="64.1" width="1.0" height="1.0" fill="rgb(178,178,178)"/><rect x="131.7" y="45.3" width="1.0" height="1.0" fill="rgb(225,225,225)"/><rect x="139.7" y="59.4" width="1.0" height="1.0" fill="rgb(204,204,204)"/><rect x="142.1" y="64.8" width="1.0" height="1.0" fill="rgb(185,185,185)"/><rect x="120.6" y="73.2" width="1.0" height="1.0" fill="rgb(207,207,207)"/><rect x="94.6" y="49.5" width="1.0" height="1.0" fill="rgb(197,197,197)"/><rect x="152.9" y="37.9" width="1.0" height="1.0" fill="rgb(204,204,204)"/><rect x="75.6" y="88.6" width="1.0" height="1.0" fill="rgb(209,209,209)"/><rect x="94.5" y="68.6" width="1.0" height="1.0" fill="rgb(176,176,176)"/><rect x="159.8" y="71.7" width="1.0" height="1.0" fill="rgb(199,199,199)"/><rect x="143.2" y="25.4" width="1.0" height="1.0" fill="rgb(225,225,225)"/><rect x="116.1" y="80.0" width="1.0" height="1.0" fill="rgb(188,188,188)"/><rect x="157.3" y="36.0" width="1.0" height="1.0" fill="rgb(209,209,209)"/><rect x="83.3" y="93.6" width="1.0" height="1.0" fill="rgb(219,219,219)"/><rect x="134.8" y="90.7" width="1.0" height="1.0" fill="rgb(188,188,188)"/><rect x="160.1" y="59.8" width="1.0" height="1.0" fill="rgb(215,215,215)"/><rect x="104.5" y="35.1" width="1.0" height="1.0" fill="rgb(217,217,217)"/><rect x="105.9" y="33.6" width="1.0" height="1.0" fill="rgb(197,197,197)"/><rect x="153.1" y="65.5" width="1.0" height="1.0" fill="rgb(194,194,194)"/><rect x="143.6" y="59.7" width="1.0" height="1.0" fill="rgb(212,212,212)"/><rect x="132.9" y="56.0" width="1.0" height="1.0" fill="rgb(222,222,222)"/><rect x="121.7" y="37.9" width="1.0" height="1.0" fill="rgb(195,195,195)"/><rect x="132.9" y="45.6" width="1.0" height="1.0" fill="rgb(193,193,193)"/><rect x="123.2" y="36.2" width="1.0" height="1.0" fill="rgb(189,189,189)"/><rect x="148.8" y="84.0" width="1.0" height="1.0" fill="rgb(190,190,190)"/><rect x="142.6" y="18.7" width="1.0" height="1.0" fill="rgb(225,225,225)"/><rect x="158.0" y="53.5" width="1.0" height="1.0" fill="rgb(202,202,202)"/><rect x="157.4" y="68.7" width="1.0" height="1.0" fill="rgb(192,192,192)"/><rect x="117.4" y="87.1" width="1.0" height="1.0" fill="rgb(225,225,225)"/><rect x="85.9" y="94.1" width="1.0" height="1.0" fill="rgb(192,192,192)"/><rect x="143.6" y="64.2" width="1.0" height="1.0" fill="rgb(190,190,190)"/><rect x="164.0" y="91.6" width="1.0" height="1.0" fill="rgb(197,197,197)"/><rect x="146.8" y="51.4" width="1.0" height="1.0" fill="rgb(186,186,186)"/><rect x="144.3" y="88.2" width="1.0" height="1.0" fill="rgb(198,198,198)"/><rect x="139.3" y="75.9" width="1.0" height="1.0" fill="rgb(209,209,209)"/><rect x="157.7" y="65.4" width="1.0" height="1.0" fill="rgb(230,230,230)"/><rect x="136.8" y="74.5" width="1.0" height="1.0" fill="rgb(188,188,188)"/><rect x="156.0" y="61.9" width="1.0" height="1.0" fill="rgb(225,225,225)"/><rect x="100.0" y="40.3" width="1.0" height="1.0" fill="rgb(220,220,220)"/><rect x="132.5" y="71.7" width="1.0" height="1.0" fill="rgb(203,203,203)"/><rect x="113.5" y="66.1" width="1.0" height="1.0" fill="rgb(220,220,220)"/><rect x="152.3" y="95.4" width="1.0" height="1.0" fill="rgb(198,198,198)"/><rect x="134.5" y="82.2" width="1.0" height="1.0" fill="rgb(229,229,229)"/><rect x="132.7" y="47.2" width="1.0" height="1.0" fill="rgb(199,199,199)"/><rect x="87.9" y="80.7" width="1.0" height="1.0" fill="rgb(220,220,220)"/><rect x="117.3" y="37.0" width="1.0" height="1.0" fill="rgb(224,224,224)"/><rect x="141.3" y="43.7" width="1.0" height="1.0" fill="rgb(180,180,180)"/><rect x="100.4" y="48.5" width="1.0" height="1.0" fill="rgb(179,179,179)"/><rect x="105.8" y="37.8" width="1.0" height="1.0" fill="rgb(197,197,197)"/><rect x="92.7" y="74.7" width="1.0" height="1.0" fill="rgb(218,218,218)"/><rect x="100.8" y="73.4" width="1.0" height="1.0" fill="rgb(210,210,210)"/><rect x="158.1" y="39.8" width="1.0" height="1.0" fill="rgb(217,217,217)"/><rect x="119.6" y="77.0" width="1.0" height="1.0" fill="rgb(193,193,193)"/><rect x="101.3" y="73.8" width="1.0" height="1.0" fill="rgb(206,206,206)"/><rect x="122.4" y="27.7" width="1.0" height="1.0" fill="rgb(199,199,199)"/><rect x="148.0" y="91.5" width="1.0" height="1.0" fill="rgb(177,177,177)"/><rect x="120.7" y="56.4" width="1.0" height="1.0" fill="rgb(186,186,186)"/><rect x="130.3" y="70.3" width="1.0" height="1.0" fill="rgb(229,229,229)"/><rect x="126.4" y="64.4" width="1.0" height="1.0" fill="rgb(195,195,195)"/><rect x="158.8" y="24.2" width="1.0" height="1.0" fill="rgb(196,196,196)"/><rect x="160.0" y="67.1" width="1.0" height="1.0" fill="rgb(178,178,178)"/><rect x="133.8" y="75.0" width="1.0" height="1.0" fill="rgb(176,176,176)"/><rect x="128.6" y="70.3" width="1.0" height="1.0" fill="rgb(193,193,193)"/><rect x="153.9" y="48.3" width="1.0" height="1.0" fill="rgb(217,217,217)"/><rect x="109.7" y="47.9" width="1.0" height="1.0" fill="rgb(218,218,218)"/><rect x="117.2" y="58.8" width="1.0" height="1.0" fill="rgb(223,223,223)"/><rect x="157.0" y="78.9" width="1.0" height="1.0" fill="rgb(226,226,226)"/><rect x="87.3" y="70.2" width="1.0" height="1.0" fill="rgb(188,188,188)"/><rect x="160.2" y="59.7" width="1.0" height="1.0" fill="rgb(188,188,188)"/><rect x="158.9" y="39.7" width="1.0" height="1.0" fill="rgb(194,194,194)"/><rect x="138.1" y="30.3" width="1.0" height="1.0" fill="rgb(181,181,181)"/><rect x="139.5" y="44.4" width="1.0" height="1.0" fill="rgb(227,227,227)"/><rect x="156.5" y="58.1" width="1.0" height="1.0" fill="rgb(194,194,194)"/><rect x="86.3" y="85.2" width="1.0" height="1.0" fill="rgb(203,203,203)"/><rect x="153.8" y="62.9" width="1.0" height="1.0" fill="rgb(213,213,213)"/><rect x="99.8" y="43.3" width="1.0" height="1.0" fill="rgb(178,178,178)"/><rect x="151.1" y="64.4" width="1.0" height="1.0" fill="rgb(210,210,210)"/><rect x="147.4" y="28.4" width="1.0" height="1.0" fill="rgb(179,179,179)"/><rect x="145.4" y="91.4" width="1.0" height="1.0" fill="rgb(210,210,210)"/><rect x="137.7" y="73.4" width="1.0" height="1.0" fill="rgb(229,229,229)"/><rect x="143.2" y="30.4" width="1.0" height="1.0" fill="rgb(180,180,180)"/><rect x="148.7" y="27.8" width="1.0" height="1.0" fill="rgb(205,205,205)"/><rect x="129.3" y="29.8" width="1.0" height="1.0" fill="rgb(202,202,202)"/><rect x="114.5" y="43.1" width="1.0" height="1.0" fill="rgb(185,185,185)"/><rect x="111.4" y="59.7" width="1.0" height="1.0" fill="rgb(229,229,229)"/><rect x="121.4" y="40.0" width="1.0" height="1.0" fill="rgb(179,179,179)"/><rect x="108.8" y="26.7" width="1.0" height="1.0" fill="rgb(218,218,218)"/><rect x="95.6" y="94.0" width="1.0" height="1.0" fill="rgb(216,216,216)"/><rect x="148.6" y="79.3" width="1.0" height="1.0" fill="rgb(210,210,210)"/><rect x="82.3" y="71.1" width="1.0" height="1.0" fill="rgb(180,180,180)"/><rect x="137.4" y="23.8" width="1.0" height="1.0" fill="rgb(220,220,220)"/><rect x="82.2" y="68.7" width="1.0" height="1.0" fill="rgb(229,229,229)"/><rect x="122.7" y="58.0" width="1.0" height="1.0" fill="rgb(181,181,181)"/><rect x="113.1" y="32.5" width="1.0" height="1.0" fill="rgb(207,207,207)"/><rect x="120.9" y="32.3" width="1.0" height="1.0" fill="rgb(194,194,194)"/><rect x="159.1" y="53.8" width="1.0" height="1.0" fill="rgb(210,210,210)"/><rect x="81.8" y="86.4" width="1.0" height="1.0" fill="rgb(196,196,196)"/><rect x="149.8" y="74.8" width="1.0" height="1.0" fill="rgb(228,228,228)"/><rect x="76.6" y="79.5" width="1.0" height="1.0" fill="rgb(182,182,182)"/><rect x="144.7" y="25.0" width="1.0" height="1.0" fill="rgb(190,190,190)"/><rect x="98.8" y="49.4" width="1.0" height="1.0" fill="rgb(217,217,217)"/><rect x="81.5" y="80.9" width="1.0" height="1.0" fill="rgb(184,184,184)"/><rect x="121.1" y="49.1" width="1.0" height="1.0" fill="rgb(199,199,199)"/><rect x="145.2" y="35.9" width="1.0" height="1.0" fill="rgb(199,199,199)"/><rect x="87.8" y="74.2" width="1.0" height="1.0" fill="rgb(226,226,226)"/><rect x="132.2" y="22.8" width="1.0" height="1.0" fill="rgb(175,175,175)"/><rect x="103.8" y="31.2" width="1.0" height="1.0" fill="rgb(190,190,190)"/><rect x="118.7" y="86.5" width="1.0" height="1.0" fill="rgb(218,218,218)"/><rect x="103.1" y="59.1" width="1.0" height="1.0" fill="rgb(206,206,206)"/><rect x="103.5" y="89.5" width="1.0" height="1.0" fill="rgb(177,177,177)"/><rect x="105.8" y="88.3" width="1.0" height="1.0" fill="rgb(200,200,200)"/><rect x="91.2" y="52.7" width="1.0" height="1.0" fill="rgb(189,189,189)"/><rect x="123.9" y="90.4" width="1.0" height="1.0" fill="rgb(206,206,206)"/><rect x="111.1" y="17.0" width="1.0" height="1.0" fill="rgb(204,204,204)"/><rect x="126.8" y="84.6" width="1.0" height="1.0" fill="rgb(188,188,188)"/><rect x="110.3" y="40.4" width="1.0" height="1.0" fill="rgb(178,178,178)"/><rect x="146.4" y="23.4" width="1.0" height="1.0" fill="rgb(181,181,181)"/><rect x="99.4" y="87.7" width="1.0" height="1.0" fill="rgb(200,200,200)"/><rect x="132.6" y="83.4" width="1.0" height="1.0" fill="rgb(217,217,217)"/><rect x="159.7" y="65.8" width="1.0" height="1.0" fill="rgb(204,204,204)"/><rect x="139.4" y="55.2" width="1.0" height="1.0" fill="rgb(226,226,226)"/><rect x="98.3" y="59.7" width="1.0" height="1.0" fill="rgb(226,226,226)"/><rect x="119.1" y="86.9" width="1.0" height="1.0" fill="rgb(178,178,178)"/><rect x="160.0" y="33.7" width="1.0" height="1.0" fill="rgb(202,202,202)"/><rect x="123.3" y="87.5" width="1.0" height="1.0" fill="rgb(207,207,207)"/><rect x="142.3" y="38.7" width="1.0" height="1.0" fill="rgb(206,206,206)"/><rect x="109.2" y="35.9" width="1.0" height="1.0" fill="rgb(212,212,212)"/><rect x="134.7" y="47.3" width="1.0" height="1.0" fill="rgb(229,229,229)"/><rect x="121.7" y="41.0" width="1.0" height="1.0" fill="rgb(222,222,222)"/><rect x="130.2" y="94.3" width="1.0" height="1.0" fill="rgb(229,229,229)"/><rect x="163.5" y="42.0" width="1.0" height="1.0" fill="rgb(212,212,212)"/><rect x="108.5" y="62.0" width="1.0" height="1.0" fill="rgb(216,216,216)"/><rect x="98.9" y="62.9" width="1.0" height="1.0" fill="rgb(206,206,206)"/><rect x="154.1" y="41.4" width="1.0" height="1.0" fill="rgb(201,201,201)"/><rect x="94.0" y="71.0" width="1.0" height="1.0" fill="rgb(185,185,185)"/><rect x="142.6" y="68.1" width="1.0" height="1.0" fill="rgb(226,226,226)"/><rect x="130.0" y="47.2" width="1.0" height="1.0" fill="rgb(213,213,213)"/><rect x="128.3" y="17.4" width="1.0" height="1.0" fill="rgb(204,204,204)"/><rect x="148.5" y="50.2" width="1.0" height="1.0" fill="rgb(183,183,183)"/><rect x="117.4" y="26.1" width="1.0" height="1.0" fill="rgb(191,191,191)"/><rect x="120.6" y="65.8" width="1.0" height="1.0" fill="rgb(191,191,191)"/><rect x="113.1" y="48.5" width="1.0" height="1.0" fill="rgb(195,195,195)"/><rect x="112.6" y="47.4" width="1.0" height="1.0" fill="rgb(223,223,223)"/><rect x="155.7" y="70.2" width="1.0" height="1.0" fill="rgb(226,226,226)"/><rect x="100.6" y="80.2" width="1.0" height="1.0" fill="rgb(190,190,190)"/><rect x="158.9" y="69.8" width="1.0" height="1.0" fill="rgb(193,193,193)"/><rect x="161.6" y="89.6" width="1.0" height="1.0" fill="rgb(195,195,195)"/><rect x="153.2" y="18.8" width="1.0" height="1.0" fill="rgb(213,213,213)"/><rect x="83.2" y="79.3" width="1.0" height="1.0" fill="rgb(224,224,224)"/><rect x="134.8" y="48.2" width="1.0" height="1.0" fill="rgb(228,228,228)"/><rect x="84.2" y="84.6" width="1.0" height="1.0" fill="rgb(213,213,213)"/><rect x="130.3" y="29.9" width="1.0" height="1.0" fill="rgb(210,210,210)"/><rect x="143.5" y="49.0" width="1.0" height="1.0" fill="rgb(222,222,222)"/><rect x="134.1" y="78.2" width="1.0" height="1.0" fill="rgb(191,191,191)"/><rect x="114.4" y="22.1" width="1.0" height="1.0" fill="rgb(204,204,204)"/><rect x="158.6" y="29.7" width="1.0" height="1.0" fill="rgb(229,229,229)"/><rect x="119.0" y="57.0" width="1.0" height="1.0" fill="rgb(223,223,223)"/><rect x="107.6" y="46.3" width="1.0" height="1.0" fill="rgb(186,186,186)"/><rect x="150.7" y="27.0" width="1.0" height="1.0" fill="rgb(221,221,221)"/><rect x="115.8" y="91.7" width="1.0" height="1.0" fill="rgb(205,205,205)"/><rect x="119.3" y="89.7" width="1.0" height="1.0" fill="rgb(208,208,208)"/><rect x="132.9" y="25.1" width="1.0" height="1.0" fill="rgb(190,190,190)"/><rect x="110.3" y="65.6" width="1.0" height="1.0" fill="rgb(197,197,197)"/><rect x="120.4" y="64.2" width="1.0" height="1.0" fill="rgb(225,225,225)"/><rect x="115.6" y="64.7" width="1.0" height="1.0" fill="rgb(210,210,210)"/><rect x="105.7" y="58.3" width="1.0" height="1.0" fill="rgb(186,186,186)"/><rect x="135.4" y="47.9" width="1.0" height="1.0" fill="rgb(208,208,208)"/><rect x="104.1" y="58.1" width="1.0" height="1.0" fill="rgb(206,206,206)"/><rect x="110.9" y="16.2" width="1.0" height="1.0" fill="rgb(223,223,223)"/><rect x="83.0" y="62.4" width="1.0" height="1.0" fill="rgb(191,191,191)"/><rect x="109.6" y="37.4" width="1.0" height="1.0" fill="rgb(220,220,220)"/><rect x="101.0" y="64.0" width="1.0" height="1.0" fill="rgb(184,184,184)"/><rect x="134.7" y="77.9" width="1.0" height="1.0" fill="rgb(184,184,184)"/><rect x="94.0" y="87.0" width="1.0" height="1.0" fill="rgb(202,202,202)"/><rect x="157.0" y="66.8" width="1.0" height="1.0" fill="rgb(191,191,191)"/><rect x="90.9" y="48.6" width="1.0" height="1.0" fill="rgb(175,175,175)"/><rect x="97.0" y="68.3" width="1.0" height="1.0" fill="rgb(213,213,213)"/><rect x="84.2" y="76.2" width="1.0" height="1.0" fill="rgb(216,216,216)"/><rect x="130.4" y="59.9" width="1.0" height="1.0" fill="rgb(189,189,189)"/><rect x="123.6" y="71.5" width="1.0" height="1.0" fill="rgb(194,194,194)"/><rect x="136.7" y="95.9" width="1.0" height="1.0" fill="rgb(202,202,202)"/><rect x="84.4" y="94.1" width="1.0" height="1.0" fill="rgb(189,189,189)"/><rect x="106.6" y="93.0" width="1.0" height="1.0" fill="rgb(194,194,194)"/><rect x="94.7" y="96.0" width="1.0" height="1.0" fill="rgb(214,214,214)"/><rect x="159.6" y="20.6" width="1.0" height="1.0" fill="rgb(181,181,181)"/><rect x="115.9" y="41.4" width="1.0" height="1.0" fill="rgb(218,218,218)"/><rect x="151.3" y="21.6" width="1.0" height="1.0" fill="rgb(218,218,218)"/><rect x="137.3" y="37.0" width="1.0" height="1.0" fill="rgb(176,176,176)"/><rect x="116.5" y="19.2" width="1.0" height="1.0" fill="rgb(205,205,205)"/><rect x="159.5" y="59.1" width="1.0" height="1.0" fill="rgb(228,228,228)"/><rect x="151.6" y="64.3" width="1.0" height="1.0" fill="rgb(189,189,189)"/><rect x="154.2" y="17.7" width="1.0" height="1.0" fill="rgb(219,219,219)"/><rect x="125.4" y="56.9" width="1.0" height="1.0" fill="rgb(225,225,225)"/><rect x="140.5" y="56.1" width="1.0" height="1.0" fill="rgb(192,192,192)"/><rect x="109.1" y="64.6" width="1.0" height="1.0" fill="rgb(201,201,201)"/><rect x="117.3" y="58.2" width="1.0" height="1.0" fill="rgb(187,187,187)"/><rect x="107.2" y="29.1" width="1.0" height="1.0" fill="rgb(224,224,224)"/><rect x="92.6" y="69.9" width="1.0" height="1.0" fill="rgb(184,184,184)"/><rect x="126.4" y="56.4" width="1.0" height="1.0" fill="rgb(180,180,180)"/><rect x="152.4" y="33.0" width="1.0" height="1.0" fill="rgb(187,187,187)"/><rect x="90.6" y="70.9" width="1.0" height="1.0" fill="rgb(179,179,179)"/><rect x="155.4" y="67.5" width="1.0" height="1.0" fill="rgb(176,176,176)"/><rect x="158.0" y="79.5" width="1.0" height="1.0" fill="rgb(195,195,195)"/><rect x="133.0" y="82.6" width="1.0" height="1.0" fill="rgb(208,208,208)"/><rect x="129.2" y="96.2" width="1.0" height="1.0" fill="rgb(215,215,215)"/><rect x="163.4" y="49.7" width="1.0" height="1.0" fill="rgb(192,192,192)"/><rect x="110.5" y="88.2" width="1.0" height="1.0" fill="rgb(210,210,210)"/><rect x="143.7" y="66.3" width="1.0" height="1.0" fill="rgb(222,222,222)"/><rect x="139.3" y="96.1" width="1.0" height="1.0" fill="rgb(219,219,219)"/><rect x="75.8" y="73.3" width="1.0" height="1.0" fill="rgb(210,210,210)"/><rect x="149.5" y="35.1" width="1.0" height="1.0" fill="rgb(194,194,194)"/><rect x="155.6" y="96.0" width="1.0" height="1.0" fill="rgb(208,208,208)"/><rect x="88.1" y="74.5" width="1.0" height="1.0" fill="rgb(225,225,225)"/><rect x="162.0" y="49.6" width="1.0" height="1.0" fill="rgb(213,213,213)"/><rect x="97.6" y="53.8" width="1.0" height="1.0" fill="rgb(212,212,212)"/><rect x="155.1" y="50.2" width="1.0" height="1.0" fill="rgb(210,210,210)"/><rect x="119.9" y="93.4" width="1.0" height="1.0" fill="rgb(205,205,205)"/><rect x="152.8" y="79.0" width="1.0" height="1.0" fill="rgb(187,187,187)"/><rect x="94.9" y="54.9" width="1.0" height="1.0" fill="rgb(175,175,175)"/><rect x="129.3" y="38.2" width="1.0" height="1.0" fill="rgb(194,194,194)"/><rect x="89.0" y="87.2" width="1.0" height="1.0" fill="rgb(207,207,207)"/><rect x="111.6" y="20.3" width="1.0" height="1.0" fill="rgb(194,194,194)"/><rect x="139.5" y="28.4" width="1.0" height="1.0" fill="rgb(211,211,211)"/><rect x="91.4" y="83.2" width="1.0" height="1.0" fill="rgb(202,202,202)"/><rect x="124.5" y="31.3" width="1.0" height="1.0" fill="rgb(211,211,211)"/><rect x="145.0" y="50.1" width="1.0" height="1.0" fill="rgb(179,179,179)"/><rect x="125.0" y="57.9" width="1.0" height="1.0" fill="rgb(222,222,222)"/><rect x="142.0" y="25.7" width="1.0" height="1.0" fill="rgb(219,219,219)"/><rect x="99.9" y="60.7" width="1.0" height="1.0" fill="rgb(221,221,221)"/><rect x="134.2" y="90.9" width="1.0" height="1.0" fill="rgb(199,199,199)"/><rect x="151.7" y="26.5" width="1.0" height="1.0" fill="rgb(178,178,178)"/><rect x="107.4" y="51.5" width="1.0" height="1.0" fill="rgb(199,199,199)"/><rect x="90.3" y="93.0" width="1.0" height="1.0" fill="rgb(188,188,188)"/><rect x="151.9" y="31.7" width="1.0" height="1.0" fill="rgb(216,216,216)"/><rect x="99.4" y="46.1" width="1.0" height="1.0" fill="rgb(220,220,220)"/><rect x="129.8" y="48.2" width="1.0" height="1.0" fill="rgb(175,175,175)"/><rect x="129.5" y="66.6" width="1.0" height="1.0" fill="rgb(182,182,182)"/><rect x="126.3" y="90.6" width="1.0" height="1.0" fill="rgb(217,217,217)"/><rect x="84.2" y="81.2" width="1.0" height="1.0" fill="rgb(177,177,177)"/><rect x="143.3" y="26.4" width="1.0" height="1.0" fill="rgb(191,191,191)"/><rect x="111.9" y="52.5" width="1.0" height="1.0" fill="rgb(219,219,219)"/><rect x="88.2" y="57.0" width="1.0" height="1.0" fill="rgb(182,182,182)"/><rect x="139.1" y="49.2" width="1.0" height="1.0" fill="rgb(196,196,196)"/><rect x="164.3" y="58.6" width="1.0" height="1.0" fill="rgb(193,193,193)"/><rect x="112.0" y="84.0" width="1.0" height="1.0" fill="rgb(198,198,198)"/><rect x="162.1" y="75.2" width="1.0" height="1.0" fill="rgb(198,198,198)"/><rect x="99.4" y="73.5" width="1.0" height="1.0" fill="rgb(186,186,186)"/><rect x="162.9" y="51.5" width="1.0" height="1.0" fill="rgb(202,202,202)"/><rect x="109.3" y="78.7" width="1.0" height="1.0" fill="rgb(221,221,221)"/><rect x="86.1" y="86.9" width="1.0" height="1.0" fill="rgb(189,189,189)"/><rect x="86.0" y="95.4" width="1.0" height="1.0" fill="rgb(183,183,183)"/><rect x="144.6" y="73.5" width="1.0" height="1.0" fill="rgb(220,220,220)"/><rect x="120.7" y="45.0" width="1.0" height="1.0" fill="rgb(191,191,191)"/><rect x="130.3" y="71.0" width="1.0" height="1.0" fill="rgb(176,176,176)"/><rect x="146.3" y="16.6" width="1.0" height="1.0" fill="rgb(207,207,207)"/><rect x="141.9" y="80.2" width="1.0" height="1.0" fill="rgb(195,195,195)"/><rect x="132.9" y="32.7" width="1.0" height="1.0" fill="rgb(222,222,222)"/><rect x="82.2" y="67.0" width="1.0" height="1.0" fill="rgb(185,185,185)"/><rect x="161.5" y="46.2" width="1.0" height="1.0" fill="rgb(200,200,200)"/><rect x="115.9" y="25.5" width="1.0" height="1.0" fill="rgb(205,205,205)"/><rect x="80.4" y="75.9" width="1.0" height="1.0" fill="rgb(215,215,215)"/><rect x="102.6" y="73.3" width="1.0" height="1.0" fill="rgb(204,204,204)"/><rect x="126.5" y="63.5" width="1.0" height="1.0" fill="rgb(194,194,194)"/><rect x="143.2" y="23.3" width="1.0" height="1.0" fill="rgb(199,199,199)"/><rect x="162.0" y="63.0" width="1.0" height="1.0" fill="rgb(216,216,216)"/><rect x="130.8" y="94.0" width="1.0" height="1.0" fill="rgb(195,195,195)"/><rect x="148.4" y="94.5" width="1.0" height="1.0" fill="rgb(175,175,175)"/><rect x="108.4" y="20.2" width="1.0" height="1.0" fill="rgb(179,179,179)"/><rect x="86.4" y="70.5" width="1.0" height="1.0" fill="rgb(227,227,227)"/><rect x="114.3" y="76.3" width="1.0" height="1.0" fill="rgb(177,177,177)"/><rect x="118.8" y="42.2" width="1.0" height="1.0" fill="rgb(199,199,199)"/><rect x="85.5" y="89.9" width="1.0" height="1.0" fill="rgb(184,184,184)"/><rect x="155.3" y="88.8" width="1.0" height="1.0" fill="rgb(221,221,221)"/><rect x="96.2" y="59.1" width="1.0" height="1.0" fill="rgb(196,196,196)"/><rect x="116.6" y="22.0" width="1.0" height="1.0" fill="rgb(201,201,201)"/><rect x="160.7" y="36.5" width="1.0" height="1.0" fill="rgb(226,226,226)"/><rect x="163.4" y="75.2" width="1.0" height="1.0" fill="rgb(229,229,229)"/><rect x="154.9" y="49.4" width="1.0" height="1.0" fill="rgb(198,198,198)"/><rect x="140.3" y="75.1" width="1.0" height="1.0" fill="rgb(225,225,225)"/><rect x="141.7" y="40.0" width="1.0" height="1.0" fill="rgb(178,178,178)"/><rect x="112.5" y="25.3" width="1.0" height="1.0" fill="rgb(224,224,224)"/></g><rect x="60.75" y="15.5" width="105.5" height="82.6" fill="none" stroke="#b8b8b8" stroke-width="0.9"/><ellipse cx="101.75" cy="59.4" rx="16" ry="8.6" transform="rotate(-20 101.75 59.4)" fill="none" stroke="#111" stroke-width="1.1"/><ellipse cx="88.7" cy="74.4" rx="11" ry="5" transform="rotate(-17 88.7 74.4)" fill="none" stroke="#111" stroke-width="1.1"/><ellipse cx="89.2" cy="84.7" rx="12" ry="3.7" transform="rotate(-4 89.2 84.7)" fill="none" stroke="#111" stroke-width="1.1"/><text x="119" y="57.1" font-size="4.9" text-anchor="start" font-weight="normal" fill="#3a3a3a" >Granulocytes</text><text x="98.2" y="79.5" font-size="4.9" text-anchor="start" font-weight="normal" fill="#3a3a3a" >Lymphocytes</text><text x="96.9" y="90.0" font-size="4.9" text-anchor="start" font-weight="normal" fill="#3a3a3a" >Bovine Thymocytes</text><path d="M49.55 111.4 V62.5 M49.55 111.4 H123" stroke="#111" stroke-width="1.2" fill="none"/><path d="M49.55 58.5 L47.0 63.9 L52.1 63.9 Z M126.9 111.45 L121.5 109.0 L121.5 113.9 Z" fill="#111"/><text x="133.7" y="114.1" font-size="8.5" text-anchor="start" font-weight="bold" fill="#111" stroke="#111" stroke-width="0.15" >FSC</text><text transform="translate(54.0 32.4) rotate(-90)" font-size="8.5" font-weight="bold" text-anchor="middle" fill="#111">LDS 751</text><text x="215.9" y="7.9" font-size="11.1" text-anchor="start" font-weight="bold" fill="#111" stroke="#111" stroke-width="0.8" >B</text><text x="290" y="8.0" font-size="8.6" text-anchor="middle" font-weight="normal" fill="#111" stroke="#111" stroke-width="0.42" >Lymphocytes: P1</text><text x="398.7" y="8.0" font-size="8.6" text-anchor="middle" font-weight="normal" fill="#111" stroke="#111" stroke-width="0.42" >Lymphocytes: sister</text><path d="M229.8 110.9 V71.5 M229.8 110.9 H375" stroke="#111" stroke-width="1.3" fill="none"/><path d="M229.8 67.4 L227.2 72.9 L232.4 72.9 Z M379.3 110.95 L373.9 108.4 L373.9 113.5 Z" fill="#111"/><text transform="translate(234.9 43.3) rotate(-90)" font-size="8.4" stroke="#111" stroke-width="0.45" text-anchor="middle" fill="#111">% of Max</text><text x="388.7" y="113.1" font-size="8.4" text-anchor="start" font-weight="normal" fill="#111" stroke="#111" stroke-width="0.42" >Alexa Fluor 488</text><rect x="243.5" y="16.4" width="95.7" height="81.9" fill="none" stroke="#4a4a4a" stroke-width="1"/><rect x="348.3" y="14.6" width="102.2" height="83" fill="none" stroke="#555" stroke-width="1"/><defs><linearGradient id="sg" x1="0" y1="0" x2="0" y2="1"><stop offset="0" stop-color="#f6f6f6"/><stop offset="1" stop-color="#c4c4c4"/></linearGradient></defs><rect x="243.6" y="20" width="3.1" height="78" fill="url(#sg)"/><polygon points="246.2,98.2 246.2,19.8 247.1,19.8 247.4,40.0 247.6,80.0 248.0,92.0 249.2,94.5 250.6,95.2 252.0,97.2 253.5,97.3 254.3,95.2 255.2,91.5 256.2,89.5 256.7,88.6 257.3,91.1 258.0,87.9 258.4,91.5 259.0,88.2 259.8,90.8 260.5,88.5 261.2,90.3 261.9,89.1 262.5,91.3 263.2,87.9 263.9,91.1 264.5,87.8 265.2,90.9 265.9,89.1 266.6,91.7 267.2,89.0 267.8,91.7 268.6,87.9 269.1,90.4 269.8,88.5 270.8,90.8 272.5,92.6 274.0,94.6 275.5,96.6 277.0,97.4 290.0,97.6 300.0,97.8 339.0,97.9 339.0,98.3" fill="#7a7a7a" stroke="#333" stroke-width="0.7" stroke-linejoin="round"/><path d="M246.7 20 V96" stroke="#222" stroke-width="1"/><polygon points="256.5,97.2 257.5,93.5 260.0,92.8 263.0,93.2 266.0,92.6 269.0,93.0 271.5,93.8 273.0,96.8" fill="#d0d0d0"/><path d="M243.7 98.3 V100.2 M262.5 98.3 V100.2 M281.3 98.3 V100.2 M300.1 98.3 V100.2 M318.9 98.3 V100.2 M337.7 98.3 V100.2 M243.6 18.4 h1.2 M243.6 24.5 h1.2 M243.6 30.6 h1.2 M243.6 36.7 h1.2 M243.6 42.8 h1.2 M243.6 48.9 h1.2 M243.6 55 h1.2 M243.6 61.1 h1.2 M243.6 67.2 h1.2 M243.6 73.3 h1.2 M243.6 79.4 h1.2 M243.6 85.5 h1.2 M243.6 91.6 h1.2" stroke="#777" stroke-width="0.6"/><path d="M243.8 59.3 H250.3 M250.3 57.8 V60.8 M254.3 80.6 H277.4 M254.3 79.2 V82 M277.4 79.2 V82" stroke="#333" stroke-width="0.9"/><rect x="249.1" y="46.1" width="6.4" height="6.8" rx="1.3" fill="#fff" stroke="#a8a8a8" stroke-width="0.6"/><text x="249.9" y="51.0" font-size="4.2" text-anchor="start" font-weight="bold" fill="#222" stroke="#222" stroke-width="0.15" >P1</text><rect x="278.7" y="71.6" width="7.5" height="7" rx="1.3" fill="#fff" stroke="#a8a8a8" stroke-width="0.6"/><text x="279.8" y="76.8" font-size="4.4" text-anchor="start" font-weight="bold" fill="#222" stroke="#222" stroke-width="0.15" >P2</text><polygon points="348.4,97.2 348.4,15.2 350.5,15.2 350.8,40.0 351.3,70.0 351.8,84.0 352.6,87.5 353.5,88.5 354.2,92.0 355.5,95.0 357.0,96.6 359.0,97.1 362.0,97.0 366.0,96.7 369.5,96.2 371.5,95.2 373.5,93.6 375.5,92.2 377.0,91.3 378.3,91.0 379.6,91.4 381.2,92.6 383.0,94.2 385.0,95.8 387.0,96.8 389.0,97.1 449.5,97.2 449.5,97.6 348.4,97.6" fill="#8a8a8a" stroke="#222" stroke-width="0.8" stroke-linejoin="round"/><polygon points="373.8,96.9 375.2,94.6 377.0,93.5 379.0,93.3 380.8,94.2 382.8,96.9" fill="#e2e2e2"/><path d="M348.3 97.8 V99.6 M368.3 97.8 V99.6 M388.3 97.8 V99.6 M408.3 97.8 V99.6 M428.3 97.8 V99.6 M448.3 97.8 V99.6 M348.3 18.4 h1.2 M348.3 24.5 h1.2 M348.3 30.6 h1.2 M348.3 36.7 h1.2 M348.3 42.8 h1.2 M348.3 48.9 h1.2 M348.3 55 h1.2 M348.3 61.1 h1.2 M348.3 67.2 h1.2 M348.3 73.3 h1.2 M348.3 79.4 h1.2 M348.3 85.5 h1.2 M348.3 91.6 h1.2" stroke="#777" stroke-width="0.6"/><path d="M348.6 60.3 H356.8 M356.8 58.8 V61.8 M368 47 H388 M368 45.5 V48.5 M388 45.5 V48.5" stroke="#333" stroke-width="0.9"/><rect x="354.7" y="17.5" width="7" height="6.7" rx="1.3" fill="#fff" stroke="#a8a8a8" stroke-width="0.6"/><text x="355.7" y="22.4" font-size="4.2" text-anchor="start" font-weight="bold" fill="#222" stroke="#222" stroke-width="0.15" >P1</text><rect x="391.6" y="15.4" width="7.7" height="7" rx="1.3" fill="#fff" stroke="#a8a8a8" stroke-width="0.6"/><text x="392.8" y="20.5" font-size="4.4" text-anchor="start" font-weight="bold" fill="#222" stroke="#222" stroke-width="0.15" >P2</text><text x="-0.5" y="140.3" font-size="11.6" text-anchor="start" font-weight="bold" fill="#111" stroke="#111" stroke-width="0.8" >C</text><text x="105.9" y="140.3" font-size="10.1" text-anchor="start" font-weight="normal" fill="#111" stroke="#111" stroke-width="0.42" >Lymphocytes</text><circle cx="75.4" cy="154.2" r="2.75" fill="#111"/><text x="86.3" y="156.6" font-size="8.6" text-anchor="start" font-weight="normal" fill="#111" stroke="#111" stroke-width="0.42" >patient</text><rect x="131.8" y="151.7" width="5" height="5" fill="#fff" stroke="#333" stroke-width="1"/><text x="144.4" y="156.6" font-size="8.6" text-anchor="start" font-weight="normal" fill="#111" stroke="#111" stroke-width="0.42" >sister</text><path d="M188.9 152.20 L191.40 156.40 L186.40 156.40 Z" fill="#999" stroke="#222" stroke-width="1.2" stroke-linejoin="miter"/><text x="199.8" y="156.6" font-size="8.6" text-anchor="start" font-weight="normal" fill="#111" stroke="#111" stroke-width="0.42" >DKC</text><path d="M41.8 159.5 V282.0 H226.00 M38.199999999999996 282.00 H41.8 M38.199999999999996 257.50 H41.8 M38.199999999999996 233.00 H41.8 M38.199999999999996 208.50 H41.8 M38.199999999999996 184.00 H41.8 M38.199999999999996 159.50 H41.8 M41.80 282.0 V285.6 M87.85 282.0 V285.6 M133.90 282.0 V285.6 M179.95 282.0 V285.6 M226.00 282.0 V285.6" stroke="#111" stroke-width="1.5" fill="none"/><text transform="translate(35.40 285.20) scale(1 1.1)" font-size="8.8" text-anchor="end" font-weight="bold" fill="#111" stroke="#111" stroke-width="0.15" >0.0</text><text transform="translate(35.40 260.70) scale(1 1.1)" font-size="8.8" text-anchor="end" font-weight="bold" fill="#111" stroke="#111" stroke-width="0.15" >2.5</text><text transform="translate(35.40 236.20) scale(1 1.1)" font-size="8.8" text-anchor="end" font-weight="bold" fill="#111" stroke="#111" stroke-width="0.15" >5.0</text><text transform="translate(35.40 211.70) scale(1 1.1)" font-size="8.8" text-anchor="end" font-weight="bold" fill="#111" stroke="#111" stroke-width="0.15" >7.5</text><text transform="translate(35.40 187.20) scale(1 1.1)" font-size="8.8" text-anchor="end" font-weight="bold" fill="#111" stroke="#111" stroke-width="0.15" >10.0</text><text transform="translate(35.40 162.70) scale(1 1.1)" font-size="8.8" text-anchor="end" font-weight="bold" fill="#111" stroke="#111" stroke-width="0.15" >12.5</text><text transform="translate(42.10 296.40) scale(1 1.1)" font-size="8.8" text-anchor="middle" font-weight="bold" fill="#111" stroke="#111" stroke-width="0.15" >0</text><text transform="translate(88.15 296.40) scale(1 1.1)" font-size="8.8" text-anchor="middle" font-weight="bold" fill="#111" stroke="#111" stroke-width="0.15" >20</text><text transform="translate(134.20 296.40) scale(1 1.1)" font-size="8.8" text-anchor="middle" font-weight="bold" fill="#111" stroke="#111" stroke-width="0.15" >40</text><text transform="translate(180.25 296.40) scale(1 1.1)" font-size="8.8" text-anchor="middle" font-weight="bold" fill="#111" stroke="#111" stroke-width="0.15" >60</text><text transform="translate(226.30 296.40) scale(1 1.1)" font-size="8.8" text-anchor="middle" font-weight="bold" fill="#111" stroke="#111" stroke-width="0.15" >80</text><text x="148.8" y="309.6" font-size="8.2" text-anchor="middle" font-weight="bold" fill="#111" stroke="#111" stroke-width="0.1" >Age (years)</text><text transform="translate(8.0 217.8) rotate(-90)" font-size="8.9" text-anchor="middle" fill="#111" stroke="#111" stroke-width="0.42">Telomere length (kb)</text><line x1="60" y1="163.2" x2="212" y2="198.0" stroke="#111" stroke-width="1.5"/><line x1="60" y1="179.1" x2="212" y2="213.75" stroke="#111" stroke-width="1.5" stroke-dasharray="1.9 1.8"/><line x1="60" y1="187.3" x2="212" y2="222" stroke="#111" stroke-width="1.5"/><line x1="60" y1="196" x2="212" y2="230.25" stroke="#111" stroke-width="1.5" stroke-dasharray="1.9 1.8"/><line x1="60" y1="211.7" x2="212" y2="246.5" stroke="#111" stroke-width="1.5"/><text x="218.3" y="200.7" font-size="8.6" text-anchor="start" font-weight="normal" fill="#111" stroke="#111" stroke-width="0.42" >p99</text><text x="218.3" y="226.5" font-size="8.6" text-anchor="start" font-weight="normal" fill="#111" stroke="#111" stroke-width="0.42" >p50</text><text x="218.3" y="250.5" font-size="8.6" text-anchor="start" font-weight="normal" fill="#111" stroke="#111" stroke-width="0.42" >p1</text><rect x="48.6" y="187.5" width="5" height="5" fill="#fff" stroke="#333" stroke-width="1.1"/><circle cx="64.8" cy="209.1" r="2.85" fill="#111"/><path d="M67.1 235.55 L69.55 240.25 L64.65 240.25 Z" fill="#999" stroke="#222" stroke-width="1.2" stroke-linejoin="miter"/><path d="M78.75 237.55 L81.20 242.25 L76.30 242.25 Z" fill="#999" stroke="#222" stroke-width="1.2" stroke-linejoin="miter"/><text x="274.4" y="140.2" font-size="11.0" text-anchor="start" font-weight="bold" fill="#111" stroke="#111" stroke-width="0.8" >D</text><text x="395.4" y="140.8" font-size="10.1" text-anchor="start" font-weight="normal" fill="#111" stroke="#111" stroke-width="0.42" >Granulocytes</text><circle cx="353.7" cy="156.6" r="2.75" fill="#111"/><text x="364.6" y="159.0" font-size="8.6" text-anchor="start" font-weight="normal" fill="#111" stroke="#111" stroke-width="0.42" >patient</text><rect x="409.6" y="154.1" width="5" height="5" fill="#fff" stroke="#333" stroke-width="1"/><text x="423.0" y="159.0" font-size="8.6" text-anchor="start" font-weight="normal" fill="#111" stroke="#111" stroke-width="0.42" >sister</text><path d="M467.3 154.50 L469.80 158.70 L464.80 158.70 Z" fill="#999" stroke="#222" stroke-width="1.2" stroke-linejoin="miter"/><text x="477.8" y="159.0" font-size="8.6" text-anchor="start" font-weight="normal" fill="#111" stroke="#111" stroke-width="0.42" >DKC</text><path d="M329.3 159.5 V282.0 H513.30 M325.7 282.00 H329.3 M325.7 257.50 H329.3 M325.7 233.00 H329.3 M325.7 208.50 H329.3 M325.7 184.00 H329.3 M325.7 159.50 H329.3 M329.30 282.0 V285.6 M375.30 282.0 V285.6 M421.30 282.0 V285.6 M467.30 282.0 V285.6 M513.30 282.0 V285.6" stroke="#111" stroke-width="1.5" fill="none"/><text transform="translate(321.30 285.10) scale(1 1.1)" font-size="8.1" text-anchor="end" font-weight="bold" fill="#111" stroke="#111" stroke-width="0.15" >0.0</text><text transform="translate(321.30 260.60) scale(1 1.1)" font-size="8.1" text-anchor="end" font-weight="bold" fill="#111" stroke="#111" stroke-width="0.15" >2.5</text><text transform="translate(321.30 236.10) scale(1 1.1)" font-size="8.1" text-anchor="end" font-weight="bold" fill="#111" stroke="#111" stroke-width="0.15" >5.0</text><text transform="translate(321.30 211.60) scale(1 1.1)" font-size="8.1" text-anchor="end" font-weight="bold" fill="#111" stroke="#111" stroke-width="0.15" >7.5</text><text transform="translate(321.30 187.10) scale(1 1.1)" font-size="8.1" text-anchor="end" font-weight="bold" fill="#111" stroke="#111" stroke-width="0.15" >10.0</text><text transform="translate(321.30 162.60) scale(1 1.1)" font-size="8.1" text-anchor="end" font-weight="bold" fill="#111" stroke="#111" stroke-width="0.15" >12.5</text><text transform="translate(329.60 295.60) scale(1 1.1)" font-size="8.1" text-anchor="middle" font-weight="bold" fill="#111" stroke="#111" stroke-width="0.15" >0</text><text transform="translate(375.60 295.60) scale(1 1.1)" font-size="8.1" text-anchor="middle" font-weight="bold" fill="#111" stroke="#111" stroke-width="0.15" >20</text><text transform="translate(421.60 295.60) scale(1 1.1)" font-size="8.1" text-anchor="middle" font-weight="bold" fill="#111" stroke="#111" stroke-width="0.15" >40</text><text transform="translate(467.60 295.60) scale(1 1.1)" font-size="8.1" text-anchor="middle" font-weight="bold" fill="#111" stroke="#111" stroke-width="0.15" >60</text><text transform="translate(513.60 295.60) scale(1 1.1)" font-size="8.1" text-anchor="middle" font-weight="bold" fill="#111" stroke="#111" stroke-width="0.15" >80</text><text transform="translate(435.00 307.40) scale(1 1.12)" font-size="8.4" text-anchor="middle" font-weight="normal" fill="#111" stroke="#111" stroke-width="0.4" >Age (years)</text><text transform="translate(292.0 216.5) rotate(-90)" font-size="8.55" text-anchor="middle" fill="#111" stroke="#111" stroke-width="0.42">Telomere length (kb)</text><line x1="347.6" y1="170.75" x2="498.8" y2="193.5" stroke="#111" stroke-width="1.5"/><line x1="347.6" y1="184.5" x2="498.8" y2="206.6" stroke="#111" stroke-width="1.5" stroke-dasharray="1.9 1.8"/><line x1="347.6" y1="191.6" x2="498.8" y2="214.1" stroke="#111" stroke-width="1.5"/><line x1="347.6" y1="199.6" x2="498.8" y2="221.6" stroke="#111" stroke-width="1.5" stroke-dasharray="1.9 1.8"/><line x1="347.6" y1="212.5" x2="498.8" y2="235.3" stroke="#111" stroke-width="1.5"/><text x="505.3" y="196.6" font-size="8.6" text-anchor="start" font-weight="normal" fill="#111" stroke="#111" stroke-width="0.42" >p99</text><text x="505.3" y="218.0" font-size="8.6" text-anchor="start" font-weight="normal" fill="#111" stroke="#111" stroke-width="0.42" >p50</text><text x="505.3" y="239.5" font-size="8.6" text-anchor="start" font-weight="normal" fill="#111" stroke="#111" stroke-width="0.42" >p1</text><rect x="336.25" y="191.65" width="5" height="5" fill="#fff" stroke="#333" stroke-width="1.1"/><circle cx="352.3" cy="198.15" r="2.85" fill="#111"/><path d="M354.6 238.10 L357.05 242.80 L352.15 242.80 Z" fill="#999" stroke="#222" stroke-width="1.2" stroke-linejoin="miter"/><path d="M366.25 237.70 L368.70 242.40 L363.80 242.40 Z" fill="#999" stroke="#222" stroke-width="1.2" stroke-linejoin="miter"/></svg>
</body></html>
